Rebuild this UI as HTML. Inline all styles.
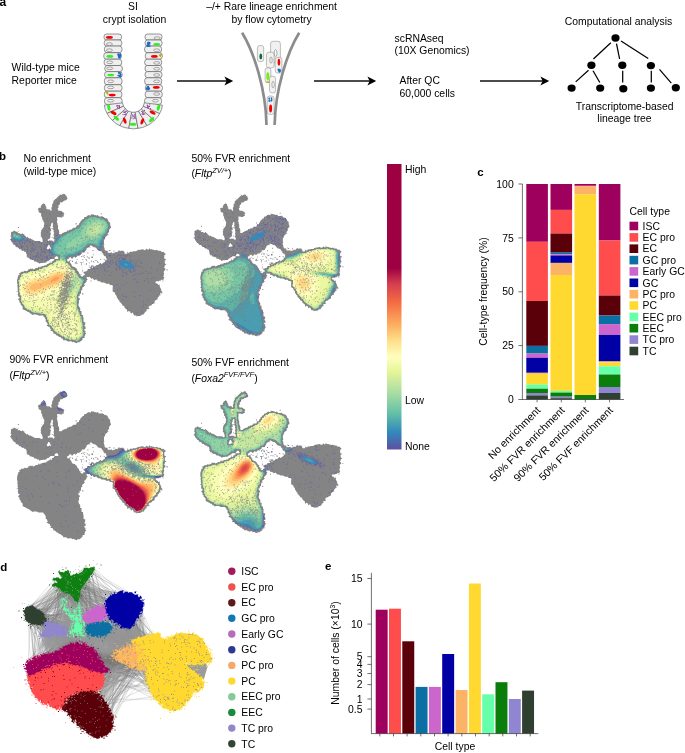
<!DOCTYPE html>
<html><head><meta charset="utf-8"><title>Figure</title>
<style>
html,body{margin:0;padding:0;background:#fff;}
svg{display:block;font-family:"Liberation Sans",sans-serif;fill:#000;}
</style></head><body>
<svg width="685" height="753" viewBox="0 0 685 753">
<rect x="0" y="0" width="685" height="753" fill="#fff"/>
<defs><path id="sil" d="M322,432h4v4h-4zM354,382h4v4h-4zM652,338h4v4h-4zM323,339l-2,0l0,8l-2,2l2,0l2,-4zM315,331l6,0l4,2l0,-2zM344,324h2v2h-2zM330,316h2v2h-2zM339,313l-2,0l0,4l-2,4l2,0l4,-4zM370,310h2v2h-2zM347,309l2,6l2,0l-2,-6zM364,306h4v4h-4zM329,307l-8,4l-4,0l-4,-2l0,2l4,2l2,10l2,0l0,-4l-2,-4l4,-4l6,-2zM356,304h4v4h-4zM282,304h4v4h-4zM371,301l0,2l8,0l2,2l0,6l-6,6l4,-4l4,-2l4,0l0,-2l-2,0l-2,-4l-4,-2l0,-2zM392,296h4v4h-4zM335,297l0,4l2,0l2,4l4,2l-4,-8zM321,297l0,2l6,0l0,-2zM303,297l-2,0l0,6l-2,4l-4,4l-2,0l0,4l12,0l0,-2l-4,0l-2,-2l2,-4l0,-4l2,-2zM358,288h6v6h-6zM318,286h4v4h-4zM339,285l0,2l4,4l0,4l4,0l4,2l0,-6l-6,2l-2,-2l0,-4zM323,281l0,2l4,2l0,6l6,2l0,-2l-4,-2l0,-2l4,-2l0,-2l-6,2l-2,-4zM365,277l0,6l2,0l0,-6zM394,274h2v2h-2zM342,272h4v4h-4zM444,264h4v4h-4zM362,262h4v4h-4zM425,261l0,2l4,4l4,-2l0,-2l-4,0zM160,174h2v2h-2zM70,172h4v4h-4zM296,158h4v4h-4zM162,148h2v2h-2zM394,118h4v4h-4zM210,58h2v2h-2zM230,42h2v2h-2zM249,41l-2,4l-4,-2l-2,4l-2,0l-2,-4l0,2l-4,4l-2,0l0,2l-4,2l0,2l-4,2l-4,6l-4,0l0,2l-4,4l-4,0l2,2l0,4l-6,12l2,4l-4,6l0,6l2,2l-2,4l-2,0l-4,-4l0,-2l-4,0l-4,2l-2,-4l-4,0l-2,-4l4,-2l-4,-4l-2,-4l0,-4l-8,-4l0,2l-4,2l-6,8l2,4l-2,2l-6,0l-4,4l0,4l2,2l0,4l-2,2l4,0l2,4l4,0l2,2l0,10l4,6l0,8l4,2l0,6l4,4l0,10l-2,2l2,4l-4,2l0,4l-4,2l0,2l-4,4l0,8l-2,2l2,10l-4,2l2,0l6,8l0,4l2,2l0,8l-2,2l-4,0l-6,-4l-18,0l-18,-10l-4,0l-4,-2l-2,-4l-6,2l-2,-4l-6,-4l0,-4l-4,0l-2,-4l-2,0l0,2l-4,2l-6,-4l-6,0l-2,-2l0,-2l4,-2l0,-2l-4,2l-6,0l-6,-4l-4,0l-2,4l-6,0l-2,4l0,10l-2,2l0,2l2,0l2,4l-2,2l0,4l-4,2l0,2l2,0l4,4l0,4l4,2l0,4l2,0l2,4l8,4l0,4l4,2l4,0l6,6l0,2l6,0l6,6l6,0l2,4l4,0l4,4l0,4l2,2l0,4l-2,4l4,2l0,4l6,0l4,4l0,2l8,0l2,2l4,0l2,2l0,4l8,0l6,4l4,0l2,4l4,0l2,-2l8,0l2,-2l4,2l4,-2l4,0l2,-4l4,-2l4,0l0,-2l8,-6l12,0l2,2l-2,4l-8,4l0,4l-2,2l-2,0l-2,-2l0,-4l-2,0l0,6l-12,6l-2,4l-8,0l-2,2l-6,0l-2,2l-4,0l-2,4l-2,0l-2,-4l-2,0l0,2l-4,4l-8,0l-2,4l-4,0l-2,2l-2,0l-2,-4l-4,2l-6,-2l0,2l-4,2l-4,-6l2,4l0,4l-2,2l-4,0l-2,2l-6,-2l-6,4l-8,0l-2,4l-4,0l-2,2l2,6l-2,2l-4,0l0,6l-2,2l0,6l-2,2l0,16l2,2l0,4l-2,4l2,2l0,14l2,4l-2,2l-4,0l0,2l4,0l2,2l0,4l-2,4l2,2l0,4l6,4l0,2l-6,6l0,2l6,4l-2,6l4,2l2,4l0,4l2,0l2,4l4,2l0,4l-2,4l2,0l2,4l4,2l4,0l2,4l4,0l4,4l4,0l4,4l0,2l4,0l6,6l4,-2l12,0l8,4l18,0l2,4l4,2l0,4l4,2l0,12l4,2l4,8l0,2l-4,2l0,2l12,6l2,6l4,2l0,2l-4,2l0,2l8,0l4,6l0,4l4,0l4,2l4,4l0,2l6,0l2,4l4,2l4,0l2,4l8,4l0,4l12,0l4,4l4,0l2,2l4,-2l6,0l4,4l6,-2l4,4l4,0l4,2l2,-4l8,0l4,-4l2,0l6,-6l0,-4l2,-2l6,0l0,-8l2,-2l0,-4l4,-4l0,-2l-4,-2l2,-6l-6,-4l2,-4l4,0l0,-8l-4,-2l0,-4l2,-2l0,-4l2,-4l-8,-4l0,-16l-2,-2l0,-8l-4,0l-2,-2l0,-14l-4,0l-2,-2l2,-6l-2,-2l0,-4l-4,-2l0,-4l-2,-2l0,-6l2,-2l0,-12l4,-2l-2,-6l-4,-2l0,-6l2,-2l4,0l-2,-6l2,-2l4,0l0,-10l2,-4l4,-2l-2,-6l4,-4l2,0l2,-4l4,0l0,-2l-2,0l-2,-4l2,-4l4,-2l2,-4l2,0l0,-6l4,-2l0,-2l-4,-2l0,-6l2,-2l4,2l6,-2l6,8l6,-2l2,4l4,2l0,2l8,-4l2,4l4,2l0,2l8,0l6,4l10,0l12,6l6,-2l6,6l6,0l6,4l-2,4l0,18l8,4l2,4l0,4l2,0l4,6l0,6l2,0l4,8l4,2l0,6l2,0l10,12l0,2l6,2l2,2l0,4l6,6l4,2l2,10l2,0l0,-2l4,-2l6,4l0,4l2,2l2,0l0,-2l4,-2l6,12l8,0l2,4l4,-2l10,0l8,-6l6,0l0,-4l4,-2l0,-4l8,-4l-2,-4l2,-4l6,2l0,-2l4,-2l0,-2l-4,-2l0,-2l4,-4l4,-2l4,0l2,-4l10,-4l0,-8l6,-6l4,0l2,-4l0,-4l6,-6l0,-2l2,-2l4,0l-2,-4l0,-4l4,-2l2,4l2,0l0,-8l-4,-2l0,-6l-6,-12l0,-8l-6,2l-4,-6l-4,0l-2,-2l0,-4l2,-2l10,0l2,-2l6,0l2,-4l4,0l2,2l0,6l2,0l0,-8l4,-8l0,-2l-4,-2l2,-4l0,-6l2,-2l-2,-4l0,-4l2,-4l4,-2l0,-6l-4,-2l0,-4l2,-2l0,-4l2,-2l4,0l0,-2l-2,0l-4,-6l0,-10l4,-2l0,-4l-4,0l-2,-2l0,-12l4,-2l2,-4l-2,0l-8,-8l-6,2l-2,-4l-4,-2l-8,0l-6,-4l-4,2l-4,0l-2,-2l-6,0l-2,-2l-8,0l-2,-4l-2,0l0,4l-2,2l-2,0l-4,-4l-2,0l-2,4l-4,0l-2,2l-2,0l-2,-4l-6,0l-2,2l-10,0l-2,2l-4,0l-4,4l-12,0l-2,2l-10,0l-2,4l-6,0l-2,-4l-2,0l2,4l-2,4l-8,0l-2,-2l0,-6l-2,0l-2,-4l-10,0l-4,2l-2,-4l-2,0l-6,8l-6,-2l-4,4l-4,0l-2,2l-4,0l-2,-4l-4,2l-10,0l-2,-2l0,-6l-8,0l-4,-6l0,-6l-2,-2l0,-4l-2,-4l4,-2l-2,-4l0,-14l4,-4l0,-4l2,-4l4,-4l2,0l2,-4l4,0l0,-2l-2,0l-2,-4l4,-4l2,0l0,-10l4,-4l0,-2l4,-2l-2,-4l0,-4l-2,-2l0,-10l-2,0l-4,-4l-2,-4l0,-4l-2,0l-2,-4l-10,-2l-2,-4l-4,0l-2,-4l-4,2l-10,0l-4,-6l-4,2l-4,0l-2,-2l-4,0l-2,-2l-6,0l-4,-2l0,4l-2,2l-4,0l-2,-2l-6,2l-6,6l-4,0l-4,2l0,4l-2,2l-4,0l0,2l-6,6l-2,0l0,4l-2,4l-4,2l0,4l-2,2l-6,0l-2,4l0,4l-2,2l-10,0l-6,6l-4,2l-6,0l-2,4l-6,-2l0,4l-2,2l-4,0l-2,2l-6,0l0,2l-2,2l-4,0l-2,4l-8,0l-2,-2l0,-4l2,-2l-2,-2l0,-6l-4,-6l0,-14l-2,-2l0,-6l-2,-2l0,-8l2,-2l-2,-10l2,-2l18,2l2,-4l4,0l2,-2l-2,-2l0,-4l4,-4l-2,0l-2,-4l-2,0l-8,-6l-10,0l-2,-2l0,-4l-2,-4l4,-2l0,-10l6,-4l0,-6l2,-2l6,0l8,-6l10,-2l0,-4l4,-2l-4,-6l0,-4l-6,-4l0,-4l-4,0zM359,329l4,-2l2,4l-4,2zM213,293l6,-6l6,0l4,8l-2,2l-12,0zM197,251l2,2l0,4l-2,2l-2,-2l0,-4zM357,245l10,6l4,0l4,2l4,4l0,2l4,2l0,2l4,2l4,0l2,2l4,0l4,8l4,2l0,2l-4,2l4,0l4,6l4,0l2,2l0,4l2,2l0,6l-4,2l-2,-4l-4,-2l0,-2l-2,4l2,0l4,4l0,4l-4,4l-2,0l-6,6l-2,0l-2,-4l-2,0l-4,4l-2,0l-2,4l-8,0l0,2l-6,4l-4,0l-2,-2l0,-4l-2,2l-4,0l-2,-2l0,6l-4,2l-2,-2l0,-6l-2,0l2,4l-2,6l4,0l2,4l-2,2l-10,0l0,4l-4,4l-4,0l-2,2l-6,0l0,6l4,2l2,4l-2,2l-4,0l-2,4l-4,2l-6,-4l0,-2l2,-2l4,0l0,-2l-6,2l-6,-6l0,-6l-2,0l-4,-4l-2,-4l0,-4l-4,0l-4,-6l-4,0l-8,-4l0,-6l-2,0l-2,-2l0,-4l-4,-2l0,-4l4,-4l2,0l0,-2l-6,2l-4,4l-4,0l-2,-2l0,-6l2,-2l4,0l0,-2l4,-4l4,0l4,4l0,2l2,0l0,-2l4,-2l2,-4l4,0l2,4l2,0l0,-2l4,-2l2,-4l4,0l4,2l0,-4l2,-2l4,0l0,-2l4,-2l-2,-2l2,-4l4,2l4,-2l4,0l0,-4l4,-4l2,-4l0,-4l8,-4l4,0l4,2l0,-2l-2,0l-2,-4l2,-2zM189,243l4,0l4,8l-6,8l-6,0l-2,-4zM187,221l4,-2l2,2l0,4l-4,2l-2,-2zM201,179l6,2l4,6l-2,4l2,2l0,8l-2,2l2,4l0,6l-4,2l-4,-6l0,6l4,0l6,6l0,6l-2,2l-4,0l-2,-4l-10,0l-2,-2l0,-4l4,-6l0,-10l2,-2l0,-6l4,-2l-4,2l-4,-2l0,-2l4,-2l2,-4l-2,-2zM203,155l4,2l0,12l-2,2l4,4l-2,4l-4,-2l-4,2l-2,-2l0,-8l4,-4l2,0l-4,-2z"/><clipPath id="silc"><use href="#sil"/></clipPath><filter id="bl" x="-5%" y="-5%" width="110%" height="110%"><feGaussianBlur stdDeviation="1.2"/></filter></defs>
<g transform="translate(0,183.0) scale(0.25549)">
<use href="#sil" fill="#848484"/>
<g clip-path="url(#silc)"><g filter="url(#bl)">
<path d="M463,309l2,8l10,10l18,8l18,2l6,-2l6,-8l-2,-6l-10,-10l-18,-8l-18,-2l-6,2zM49,201l4,14l-2,4l6,4l12,4l18,0l8,-6l-2,-4l-6,-4l2,-6l-12,0l-6,-4l-6,2l-4,-4l2,-4l-4,2l-6,-2zM375,133l-16,0l-2,2l-6,-2l-4,6l-4,2l-4,-2l-2,4l-2,-2l0,4l-4,2l0,4l-2,2l-2,-2l-6,4l2,4l-4,2l-2,6l-2,-2l2,4l-4,4l-6,-2l2,4l-2,2l-2,-2l-2,6l-6,0l-2,2l-2,-2l-2,4l-6,2l-2,4l-6,-2l-2,6l-2,-2l-8,6l-2,-2l-4,4l-2,-2l-2,6l-4,-2l-8,6l-2,-2l-4,2l-4,-2l-6,4l-6,10l0,10l-4,6l-2,-2l-6,0l-6,8l4,2l-2,2l2,4l-2,2l0,10l-6,4l0,4l4,8l8,4l2,-4l2,2l2,-2l4,2l2,-2l2,2l6,0l2,-2l4,8l-2,4l0,12l-2,2l-2,-2l-6,0l-2,2l-4,-2l2,4l-4,4l-2,-2l-6,6l2,2l-2,2l-14,2l-12,10l-4,-2l-4,4l-2,-2l-8,2l2,4l-2,2l-10,-2l-2,4l-8,0l-6,6l-2,-2l-6,2l-2,-2l-6,2l-4,-2l-2,4l-4,0l-6,4l-2,-2l-8,4l-6,-2l-4,6l-4,-2l2,2l-2,2l2,4l-8,6l2,4l-4,2l-2,6l4,12l-2,2l2,2l-2,6l2,2l0,22l2,2l-2,6l2,-2l2,4l4,2l-2,2l2,6l-2,2l2,4l-2,6l2,4l4,2l-2,4l8,6l2,4l-2,4l8,6l2,-2l2,6l4,-2l4,6l6,-2l2,2l-2,2l4,4l6,0l2,4l8,0l2,-2l4,2l2,-2l2,4l2,-2l4,4l4,-2l4,2l2,-2l10,2l4,4l0,6l6,4l-2,4l2,2l-2,2l2,0l2,6l4,2l-2,2l4,12l2,-2l6,6l0,4l6,2l-2,6l6,-2l2,2l-2,4l4,6l8,2l2,6l6,-2l2,6l2,-2l2,4l4,0l2,4l4,2l4,-2l2,2l-2,4l2,2l8,-2l6,6l8,0l2,-2l2,2l2,-2l6,4l4,-2l6,4l6,0l6,-4l-2,-2l4,-4l4,0l-2,-2l4,-4l6,0l-2,-10l2,-2l2,2l0,-6l-6,-6l2,-2l-2,-2l2,-2l-2,-6l4,-2l-2,-4l2,-2l-2,-4l2,-4l-6,-4l2,-2l-2,-4l2,-6l-4,-8l2,-4l-6,0l-2,-2l2,-2l-2,-2l2,-2l-2,-8l-6,-2l2,-2l-2,-2l2,-2l-2,-4l2,-2l-6,-2l2,-2l-4,-12l2,-2l-2,-4l2,-2l-2,-2l4,-4l-2,-2l2,-4l-4,-4l2,-4l-2,-2l2,-2l0,-10l4,-2l-2,-2l4,-6l4,2l0,-10l2,-2l-2,-4l4,-6l-2,-2l2,-2l6,0l-2,-4l4,-4l0,-4l6,-4l2,-10l-2,-2l-2,2l-2,-2l-10,2l-8,-4l2,-6l-6,-4l-2,-8l-2,2l-2,-2l0,-6l-2,2l-2,-2l0,-6l-2,2l-4,-8l-4,2l-2,-4l-4,0l-4,-4l2,-4l-10,-8l0,-4l-6,2l-4,-4l2,-2l-2,-2l2,-2l-2,-10l6,-6l2,2l0,-2l8,-6l6,0l2,2l2,-2l14,0l4,-6l4,2l6,-6l2,2l2,-4l-2,-4l2,-2l12,0l6,-8l0,-6l10,-8l4,2l0,-6l2,-2l2,2l4,-2l2,2l2,-2l2,2l6,0l4,4l2,-2l6,2l8,6l0,4l4,-2l4,8l-2,-2l4,-2l0,-18l6,-12l-2,-2l2,-10l2,-2l2,2l2,-8l6,-4l2,-4l0,-6l6,-4l-2,-4l2,-4l-2,-2l4,-2l0,-6l2,-2l-2,-2l2,-4l-2,2l-6,-6l2,-2l-4,-4l2,-2l-2,2l-4,-2l2,-4l-12,-2l-2,-4l-2,2l-10,-4l-4,2zM267,611l2,-2l2,2l-2,2zM315,601l2,-2l2,2l-2,2zM319,551l2,-2l2,2l-2,2zM155,511l2,-2l2,2l-2,2zM121,501l2,-2l2,2l-2,2zM95,485l2,-2l2,2l-2,2zM73,387l2,-2l2,2l-2,2zM323,385l2,-2l2,2l-2,2zM143,343l2,-2l2,2l-2,2zM285,337l2,-2l2,2l-2,2zM199,321l2,-2l2,2l-2,2zM213,311l2,-2l2,2l-2,2zM255,291l2,-2l2,2l-2,2zM303,275l2,-2l2,2l-2,2zM367,241l2,-2l2,2l-2,2zM403,207l2,-2l2,2l-2,2zM247,207l2,-2l2,2l-2,2zM405,203l2,-2l2,2l-2,2zM261,199l2,-2l2,2l-2,2zM413,189l2,-2l2,2l-2,2zM323,155l2,-2l2,2l-2,2zM405,145l2,-2l2,2l-2,2z" fill="#3389BC"/>
<path d="M485,315l2,6l4,2l10,0l-2,-6l-4,-2zM49,201l2,12l8,6l14,2l2,2l12,-4l-2,-12l-8,0l-6,-4l-6,2l-4,-4l2,-4l-4,2l-6,-2zM375,133l-16,0l-2,2l-6,-2l-4,6l-4,2l-4,-2l-2,4l-2,-2l0,4l-4,2l0,4l-2,2l-2,-2l-6,4l2,4l-4,2l-2,6l-2,-2l2,4l-4,4l-6,-2l2,4l-2,2l-2,-2l-2,6l-6,0l-2,2l-2,-2l-2,4l-6,2l-2,4l-6,-2l-2,6l-2,-2l-8,6l-2,-2l-4,4l-2,-2l-2,6l-4,-2l-8,6l-2,-2l-4,2l-2,-2l-12,16l-4,12l-2,2l-2,-2l-6,6l-6,26l2,6l10,8l2,-2l4,2l2,-2l2,2l6,0l2,-2l2,2l2,8l-2,2l0,12l-2,2l-2,-2l-6,0l-2,2l-4,-2l2,4l-4,4l-2,-2l-6,6l2,2l-2,2l-14,2l-12,10l-4,-2l-4,4l-2,-2l-8,2l2,4l-2,2l-10,-2l-2,4l-8,0l-6,6l-2,-2l-6,2l-2,-2l-6,2l-4,-2l-2,4l-4,0l-6,4l-2,-2l-8,4l-6,-2l-4,6l-4,-2l2,2l-2,2l2,4l-8,6l2,4l-4,2l-2,6l4,12l-2,2l2,2l-2,6l2,2l0,22l2,2l-2,6l2,-2l2,4l4,2l-2,2l2,6l-2,2l2,4l-2,6l2,4l4,2l-2,4l8,6l2,4l-2,4l8,6l2,-2l2,6l4,-2l4,6l6,-2l2,2l-2,2l4,4l6,0l2,4l8,0l2,-2l4,2l2,-2l2,4l2,-2l4,4l4,-2l4,2l2,-2l10,2l4,4l0,6l6,4l-2,4l2,2l-2,2l2,0l2,6l4,2l-2,2l4,12l2,-2l6,6l0,4l6,2l-2,6l6,-2l2,2l-2,4l4,6l8,2l2,6l6,-2l2,6l2,-2l2,4l4,0l2,4l4,2l4,-2l2,2l-2,4l2,2l8,-2l6,6l8,0l2,-2l2,2l2,-2l6,4l4,-2l6,4l6,0l6,-4l-2,-2l4,-4l4,0l-2,-2l4,-4l6,0l-2,-10l2,-2l2,2l0,-6l-6,-6l2,-2l-2,-2l2,-2l-2,-6l4,-2l-2,-4l2,-2l-2,-4l2,-4l-6,-4l2,-2l-2,-4l2,-6l-4,-8l2,-4l-6,0l-2,-2l2,-2l-2,-2l2,-2l-2,-8l-6,-2l2,-2l-2,-2l2,-2l-2,-4l2,-2l-6,-2l2,-2l-4,-12l2,-2l-2,-4l2,-2l-2,-2l4,-4l-2,-2l2,-4l-4,-4l2,-4l-2,-2l2,-2l0,-10l4,-2l-2,-2l4,-6l4,2l0,-10l2,-2l-2,-4l4,-6l-2,-2l2,-2l6,0l-2,-4l4,-4l0,-4l6,-4l2,-4l-6,-8l-10,2l-8,-4l2,-6l-6,-4l-2,-8l-2,2l-2,-2l0,-6l-2,2l-2,-2l0,-6l-2,2l-4,-8l-4,2l-2,-4l-4,0l-4,-4l2,-4l-10,-8l0,-4l-6,2l-4,-4l2,-2l-2,-2l2,-2l-2,-10l6,-6l2,2l0,-2l8,-6l14,0l12,-4l8,-6l6,0l2,-2l-2,-4l2,-2l12,0l6,-8l0,-6l10,-8l4,2l0,-6l2,-2l2,2l4,-2l2,2l2,-2l2,2l6,0l4,4l2,-2l6,2l8,6l0,4l4,-2l2,2l2,-18l8,-16l0,-6l2,-2l2,2l2,-8l6,-4l2,-4l0,-6l6,-4l-2,-4l2,-4l-2,-2l4,-2l0,-6l2,-2l-2,-2l2,-4l-2,2l-6,-6l2,-2l-4,-4l2,-2l-2,2l-4,-2l2,-4l-12,-2l-2,-4l-2,2l-10,-4l-4,2zM267,611l2,-2l2,2l-2,2zM315,601l2,-2l2,2l-2,2zM319,551l2,-2l2,2l-2,2zM155,511l2,-2l2,2l-2,2zM121,501l2,-2l2,2l-2,2zM95,485l2,-2l2,2l-2,2zM73,387l2,-2l2,2l-2,2zM323,385l2,-2l2,2l-2,2zM143,343l2,-2l2,2l-2,2zM285,337l2,-2l2,2l-2,2zM199,321l2,-2l2,2l-2,2zM213,311l2,-2l2,2l-2,2zM255,291l2,-2l2,2l-2,2zM367,241l2,-2l2,2l-2,2zM403,207l2,-2l2,2l-2,2zM247,207l2,-2l2,2l-2,2zM405,203l2,-2l2,2l-2,2zM261,199l2,-2l2,2l-2,2zM413,189l2,-2l2,2l-2,2zM323,155l2,-2l2,2l-2,2zM405,145l2,-2l2,2l-2,2z" fill="#479FB3"/>
<path d="M49,201l2,8l8,6l18,2l4,-4l-2,-6l-8,-4l-6,2l-4,-4l2,-4l-4,2l-6,-2zM375,133l-16,0l-2,2l-6,-2l-4,6l-4,2l-4,-2l-2,4l-2,-2l0,4l-4,2l0,4l-2,2l-2,-2l-6,4l2,4l-4,2l-2,6l-2,-2l2,4l-4,4l-6,-2l2,4l-2,2l-2,-2l-2,6l-6,0l-2,2l-2,-2l-2,4l-6,2l-2,4l-6,-2l-2,6l-2,-2l-8,6l-2,-2l-4,4l-2,-2l-2,6l-4,-2l-8,6l-2,-2l-6,6l-12,20l-10,10l-4,10l0,18l12,10l2,-2l2,2l6,0l2,-2l2,2l2,8l-2,2l0,12l-2,2l-2,-2l-6,0l-2,2l-4,-2l2,4l-4,4l-2,-2l-6,6l2,2l-2,2l-14,2l-12,10l-4,-2l-4,4l-2,-2l-8,2l2,4l-2,2l-10,-2l-2,4l-8,0l-6,6l-2,-2l-6,2l-2,-2l-6,2l-4,-2l-2,4l-4,0l-6,4l-2,-2l-8,4l-6,-2l-4,6l-4,-2l2,2l-2,2l2,4l-8,6l2,4l-4,2l-2,6l4,12l-2,2l2,2l-2,6l2,2l0,22l2,2l-2,6l2,-2l2,4l4,2l-2,2l2,6l-2,2l2,4l-2,6l2,4l4,2l-2,4l8,6l2,4l-2,4l8,6l2,-2l2,6l4,-2l4,6l6,-2l2,2l-2,2l4,4l6,0l2,4l8,0l2,-2l4,2l2,-2l2,4l2,-2l4,4l4,-2l4,2l2,-2l10,2l4,4l0,6l6,4l-2,4l2,2l-2,2l2,0l2,6l4,2l-2,2l4,12l2,-2l6,6l0,4l6,2l-2,6l6,-2l2,2l-2,4l4,6l8,2l2,6l6,-2l2,6l2,-2l2,4l4,0l2,4l4,2l4,-2l2,2l-2,4l2,2l8,-2l6,6l8,0l2,-2l2,2l2,-2l6,4l4,-2l6,4l6,0l6,-4l-2,-2l4,-4l4,0l-2,-2l4,-4l6,0l-2,-10l2,-2l2,2l0,-6l-6,-6l2,-2l-2,-2l2,-2l-2,-6l4,-2l-2,-4l2,-2l-2,-4l2,-4l-6,-4l2,-2l-2,-4l2,-6l-4,-8l2,-4l-6,0l-2,-2l2,-2l-2,-2l2,-2l-2,-8l-6,-2l2,-2l-2,-2l2,-2l-2,-4l2,-2l-6,-2l2,-2l-4,-12l2,-2l-2,-4l2,-2l-2,-2l4,-4l-2,-2l2,-4l-4,-4l2,-4l-2,-2l2,-2l0,-10l4,-2l-2,-2l4,-6l4,2l0,-10l2,-2l-2,-4l4,-6l-2,-2l2,-2l6,0l-2,-4l10,-14l-6,-10l-2,2l-2,-2l-2,2l-8,-2l-2,-2l2,-6l-6,-4l-2,-8l-2,2l-2,-2l0,-6l-2,2l-2,-2l0,-6l-2,2l-4,-8l-4,2l-2,-4l-4,0l-4,-4l2,-4l-10,-8l0,-4l-6,2l-4,-4l2,-2l-2,-2l2,-2l-2,-14l2,-4l6,-4l28,-6l18,-8l4,-4l8,-2l10,-12l14,-10l2,-4l2,2l4,-2l2,2l2,-2l2,2l6,0l4,4l2,-2l12,6l4,-2l4,-16l12,-22l4,-2l-2,-2l8,-6l6,-10l0,-6l2,-2l-2,-2l4,-2l0,-6l2,-2l-2,-2l2,-4l-2,2l-6,-6l2,-2l-4,-4l2,-2l-2,2l-4,-2l2,-4l-12,-2l-2,-4l-2,2l-10,-4l-4,2zM267,611l2,-2l2,2l-2,2zM315,601l2,-2l2,2l-2,2zM319,551l2,-2l2,2l-2,2zM155,511l2,-2l2,2l-2,2zM121,501l2,-2l2,2l-2,2zM95,485l2,-2l2,2l-2,2zM73,387l2,-2l2,2l-2,2zM323,385l2,-2l2,2l-2,2zM143,343l2,-2l2,2l-2,2zM285,337l2,-2l2,2l-2,2zM199,321l2,-2l2,2l-2,2zM213,311l2,-2l2,2l-2,2zM367,241l2,-2l2,2l-2,2zM247,207l2,-2l2,2l-2,2zM261,199l2,-2l2,2l-2,2zM413,189l2,-2l2,2l-2,2zM323,155l2,-2l2,2l-2,2zM405,145l2,-2l2,2l-2,2z" fill="#5CB6AA"/>
<path d="M53,201l0,4l4,4l8,4l6,0l2,-2l0,-4l-4,-4l-4,2l-6,-6zM399,139l-2,2l-10,-4l-4,2l-6,-4l-24,0l-10,6l-8,2l0,2l-4,2l0,4l-2,2l-2,-2l-4,4l0,4l-4,2l0,4l-2,2l-2,-2l2,4l-4,4l-4,-2l0,4l-2,2l-2,-2l-2,6l-6,0l-6,6l-16,8l-4,0l-20,12l-10,10l-14,22l-12,12l0,6l-2,2l2,8l6,4l8,10l4,-2l2,2l2,8l-2,2l0,12l-2,2l-2,-2l-6,0l-2,2l-4,-2l2,4l-4,4l-2,-2l-6,6l2,2l-2,2l-14,2l-12,10l-4,-2l-4,4l-2,-2l-8,2l2,4l-2,2l-10,-2l-2,4l-8,0l-6,6l-2,-2l-6,2l-2,-2l-6,2l-4,-2l-2,4l-4,0l-6,4l-2,-2l-8,4l-6,-2l-4,6l-4,-2l2,2l-2,2l2,4l-8,6l2,4l-4,2l-2,6l4,12l-2,2l2,2l-2,6l2,2l0,22l2,2l-2,6l2,-2l2,4l4,2l-2,2l2,6l-2,2l2,4l-2,6l2,4l4,2l-2,4l8,6l2,4l-2,4l8,6l2,-2l2,6l4,-2l4,6l6,-2l2,2l-2,2l4,4l6,0l2,4l8,0l2,-2l4,2l2,-2l2,4l2,-2l4,4l4,-2l4,2l2,-2l10,2l4,4l0,6l6,4l-2,4l2,2l-2,2l2,0l2,6l4,2l-2,2l4,12l2,-2l6,6l0,4l6,2l-2,6l6,-2l2,2l-2,4l4,6l8,2l2,6l6,-2l2,6l2,-2l2,4l4,0l2,4l4,2l4,-2l2,2l-2,4l2,2l8,-2l6,6l8,0l2,-2l2,2l2,-2l6,4l4,-2l6,4l6,0l6,-4l-2,-2l4,-4l4,0l-2,-2l4,-4l6,0l-2,-10l2,-2l2,2l0,-6l-6,-6l2,-2l-2,-2l2,-2l-2,-6l4,-2l-2,-4l2,-2l-2,-4l2,-4l-6,-4l2,-2l-2,-4l2,-6l-4,-8l2,-4l-6,0l-2,-2l2,-2l-2,-2l2,-2l-2,-8l-6,-2l2,-2l-2,-2l2,-2l-2,-4l2,-2l-6,-2l2,-2l-4,-12l2,-2l-2,-4l2,-2l-2,-2l4,-4l-2,-2l2,-4l-4,-4l2,-4l-2,-2l2,-2l0,-10l4,-2l-2,-2l4,-6l4,2l0,-10l2,-2l-2,-4l4,-6l-2,-2l2,-2l6,0l-2,-4l8,-12l-2,-6l-6,-6l-4,2l-8,-4l2,-6l-6,-4l-2,-8l-2,2l-2,-2l0,-6l-2,2l-2,-2l0,-6l-2,2l-4,-8l-4,2l-2,-4l-4,0l-4,-4l2,-4l-10,-8l0,-4l-6,2l-4,-4l2,-2l-2,-2l2,-2l0,-6l-6,-4l-4,-8l4,-6l8,-4l24,-4l36,-16l24,-22l16,-2l10,4l12,0l8,-16l20,-24l12,-22l0,-14l-4,-4l2,-2l-6,-4l-6,-8l-6,0zM267,611l2,-2l2,2l-2,2zM315,601l2,-2l2,2l-2,2zM319,551l2,-2l2,2l-2,2zM155,511l2,-2l2,2l-2,2zM121,501l2,-2l2,2l-2,2zM95,485l2,-2l2,2l-2,2zM73,387l2,-2l2,2l-2,2zM323,385l2,-2l2,2l-2,2zM143,343l2,-2l2,2l-2,2zM285,337l2,-2l2,2l-2,2zM199,321l2,-2l2,2l-2,2zM213,311l2,-2l2,2l-2,2zM323,155l2,-2l2,2l-2,2zM405,145l2,-2l2,2l-2,2z" fill="#74C7A5"/>
<path d="M83,357l2,2l-2,2l2,4l-8,6l2,4l-4,2l-2,6l4,12l-2,2l2,2l-2,6l2,2l0,22l2,2l-2,6l2,-2l2,4l4,2l-2,2l2,6l-2,2l2,4l-2,6l2,4l4,2l-2,4l8,6l2,4l-2,4l8,6l2,-2l2,6l4,-2l4,6l6,-2l2,2l-2,2l4,4l6,0l2,4l8,0l2,-2l4,2l2,-2l2,4l2,-2l4,4l4,-2l4,2l2,-2l10,2l4,4l0,6l6,4l-2,4l2,2l-2,2l2,0l2,6l4,2l-2,2l4,12l2,-2l6,6l0,4l6,2l-2,6l6,-2l2,2l-2,4l4,6l8,2l2,6l6,-2l2,6l2,-2l2,4l4,0l2,4l4,2l4,-2l2,2l-2,4l2,2l8,-2l6,6l8,0l2,-2l2,2l2,-2l6,4l4,-2l6,4l6,0l6,-4l-2,-2l4,-4l4,0l-2,-2l4,-4l4,0l2,-6l-2,-4l2,-2l2,2l0,-6l-6,-6l2,-2l-2,-2l2,-2l-2,-6l4,-2l-2,-4l2,-2l-2,-4l2,-4l-6,-4l2,-2l-2,-4l2,-6l-4,-8l2,-4l-6,0l-2,-2l2,-2l-2,-2l2,-2l-2,-8l-6,-2l2,-2l-2,-2l2,-2l-2,-4l2,-2l-6,-2l2,-2l-4,-12l2,-2l-2,-4l2,-2l-2,-2l2,-2l0,-10l-2,-2l2,-4l-2,-2l2,-2l0,-10l4,-2l-2,-2l4,-6l2,2l2,-4l0,-6l2,-2l-2,-4l4,-6l-2,-2l2,-2l6,0l-2,-4l4,-4l0,-12l-4,-6l-12,-4l2,-6l-6,-4l-2,-8l-2,2l-2,-2l0,-6l-2,2l-2,-2l0,-6l-2,2l-4,-8l-4,2l-2,-4l-4,0l-4,-4l2,-4l-10,-8l0,-4l-6,2l-4,-4l2,-2l-2,-2l2,-2l-2,-4l-12,-8l-8,0l0,10l-2,2l-2,-2l-6,0l-2,2l-4,-2l2,4l-4,4l-2,-2l-6,6l2,2l-2,2l-14,2l-12,10l-4,-2l-4,4l-2,-2l-8,2l2,4l-2,2l-10,-2l-2,4l-8,0l-6,6l-2,-2l-6,2l-2,-2l-6,2l-4,-2l-2,4l-4,0l-6,4l-4,-2l-6,4l-6,-2l-4,6zM267,611l2,-2l2,2l-2,2zM315,601l2,-2l2,2l-2,2zM319,551l2,-2l2,2l-2,2zM155,511l2,-2l2,2l-2,2zM121,501l2,-2l2,2l-2,2zM95,485l2,-2l2,2l-2,2zM73,387l2,-2l2,2l-2,2zM143,343l2,-2l2,2l-2,2zM285,337l2,-2l2,2l-2,2zM199,321l2,-2l2,2l-2,2zM213,311l2,-2l2,2l-2,2zM415,159l-6,-8l-10,-6l-6,0l-2,-2l-24,0l-22,10l-18,18l-14,32l-12,10l-10,4l-22,14l-6,6l-4,8l0,6l6,4l20,0l24,-10l28,-18l16,-2l2,-2l12,0l20,-10l22,-24l8,-20z" fill="#8FD2A4"/>
<path d="M83,357l2,2l-2,2l2,4l-8,6l2,4l-4,2l-2,6l4,12l-2,2l2,2l-2,6l2,2l0,22l2,2l-2,6l2,-2l2,4l4,2l-2,2l2,6l-2,2l2,4l-2,6l2,4l4,2l-2,4l8,6l2,4l-2,4l8,6l2,-2l2,6l4,-2l4,6l6,-2l2,2l-2,2l4,4l20,2l2,2l2,-2l16,6l2,-2l10,2l4,4l0,6l6,4l-2,4l2,2l-2,2l2,0l2,6l4,2l-2,2l4,12l2,-2l6,6l0,4l6,2l-2,6l6,-2l2,2l-2,4l4,6l8,2l2,6l6,-2l2,6l2,-2l2,4l4,0l2,4l4,2l4,-2l2,2l-2,4l4,2l6,-2l6,6l8,0l2,-2l2,2l2,-2l6,4l4,-2l2,2l10,0l4,-2l14,-16l2,-14l-4,-4l2,-2l-2,-2l2,-2l-2,-6l4,-2l-2,-4l0,-10l-4,-4l2,-2l-2,-4l2,-2l-2,-2l0,-8l-2,-6l-6,-2l2,-2l-2,-2l2,-4l-2,-6l-6,-2l2,-2l-2,-2l2,-4l-2,-4l-4,-2l2,-2l-4,-12l2,-2l-2,-2l0,-16l2,-2l-2,-2l2,-4l-2,-2l2,-2l0,-10l4,-2l-2,-2l12,-26l-2,-2l4,-2l4,-6l0,-12l-8,-10l-6,-2l2,-2l-12,-16l0,-6l-2,2l-2,-2l0,-6l-2,2l-4,-8l-4,2l-2,-4l-4,0l-4,-4l2,-4l-10,-8l0,-4l-6,2l-4,-4l2,-6l-16,-8l-6,0l0,6l-2,2l-2,-2l-6,0l-2,2l-4,-2l2,4l-4,4l-2,-2l-6,6l2,2l-2,2l-14,2l-12,10l-4,-2l-4,4l-2,-2l-8,2l2,4l-2,2l-10,-2l-2,4l-8,0l-6,6l-2,-2l-6,2l-2,-2l-6,2l-4,-2l-2,4l-4,0l-6,4l-4,-2l-6,4l-6,-2l-4,6zM267,611l2,-2l2,2l-2,2zM315,601l2,-2l2,2l-2,2zM319,551l2,-2l2,2l-2,2zM121,501l2,-2l2,2l-2,2zM95,485l2,-2l2,2l-2,2zM73,387l2,-2l2,2l-2,2zM143,343l2,-2l2,2l-2,2zM285,337l2,-2l2,2l-2,2zM199,321l2,-2l2,2l-2,2zM213,311l2,-2l2,2l-2,2zM399,157l-12,-4l-18,2l-16,8l-14,16l-2,6l0,16l2,4l6,4l26,0l14,-6l16,-14l6,-12l0,-10z" fill="#ABDDA4"/>
<path d="M83,357l2,2l-2,2l2,4l-8,6l2,4l-4,2l-2,6l4,12l-2,2l2,2l-2,6l2,2l0,22l2,2l-2,6l2,-2l2,4l4,2l-2,2l2,6l-2,2l2,4l-2,6l2,4l4,2l-2,4l8,6l2,4l-2,4l8,6l2,-2l2,6l4,-2l4,6l6,-2l2,2l-2,2l2,-2l2,4l32,4l8,4l12,2l4,4l0,6l6,4l-2,4l2,2l-2,2l2,0l2,6l4,2l-2,2l4,12l2,-2l6,6l0,4l6,2l-2,6l2,-2l6,2l-2,4l4,6l8,2l2,6l6,-2l2,6l2,-2l2,4l4,0l2,4l4,2l4,-2l4,6l6,0l14,6l6,-2l6,4l4,-2l2,2l16,-6l6,-6l-2,-2l4,-2l4,-8l0,-10l-2,-2l2,-2l-2,-2l2,-2l-2,-2l2,-6l-2,-2l0,-10l-2,-2l2,-2l-2,-2l-4,-24l-4,-2l2,-2l-4,-12l-4,-2l2,-2l-6,-12l0,-6l-4,-10l0,-20l2,-2l0,-10l2,-2l2,-14l4,-12l10,-18l2,-10l-8,-10l-8,0l-6,24l-10,16l-10,8l-8,-6l2,-14l8,-16l20,-22l-4,-18l-6,-10l-4,-2l2,-2l-4,2l-2,-4l-4,0l-4,-4l2,-4l-10,-8l0,-4l-6,2l-4,-4l2,-2l-14,-8l-8,0l-2,4l-2,-2l-6,0l-2,2l-2,-2l-2,2l2,2l-4,4l-2,-2l-6,6l2,2l-2,2l-14,2l-12,10l-4,-2l-4,4l-2,-2l-8,2l2,4l-2,2l-10,-2l-2,4l-8,0l-6,6l-2,-2l-6,2l-2,-2l-6,2l-4,-2l-2,4l-4,0l-6,4l-4,-2l-6,4l-6,-2l-4,6zM95,485l2,-2l2,2l-2,2zM73,387l2,-2l2,2l-2,2zM143,343l2,-2l2,2l-2,2zM199,321l2,-2l2,2l-2,2zM213,311l2,-2l2,2l-2,2zM391,169l-8,-4l-16,2l-12,10l-4,10l2,6l6,4l20,-2l6,-4l8,-10z" fill="#C3E79F"/>
<path d="M83,357l2,2l-2,2l2,4l-8,6l2,4l-4,2l0,8l2,2l-2,2l2,6l-2,2l2,2l-2,6l2,2l0,22l2,2l-2,6l2,-2l2,4l4,2l-2,2l2,6l-2,2l2,4l-2,6l2,4l4,2l-2,2l4,6l4,2l2,6l6,6l14,8l20,6l22,2l18,8l10,14l-2,4l4,6l0,4l4,2l-2,2l4,10l8,6l0,4l6,2l-2,2l8,4l-2,4l6,6l6,2l2,4l4,2l2,-2l6,8l42,14l20,0l8,-4l10,-14l2,-20l-2,-2l0,-18l-2,-2l0,-10l-2,-2l-2,-14l-18,-46l0,-32l2,-2l4,-28l6,-14l6,-8l0,-6l-2,-2l-2,2l-4,14l-10,16l-20,20l-6,2l-8,-6l0,-18l4,-12l28,-44l0,-10l-6,-12l-14,-10l2,-4l-14,-12l-2,2l-14,-10l-22,0l-6,6l-2,-2l-6,6l2,2l-2,2l-14,2l-12,10l-4,-2l-4,4l-2,-2l-8,2l2,4l-2,2l-10,-2l-2,4l-8,0l-6,6l-2,-2l-6,2l-2,-2l-6,2l-4,-2l-2,4l-4,0l-6,4l-4,-2l-6,4l-6,-2l-4,6zM143,343l2,-2l2,2l-2,2zM199,321l2,-2l2,2l-2,2zM213,311l2,-2l2,2l-2,2z" fill="#DAF09A"/>
<path d="M89,357l-10,14l-2,28l-2,2l2,2l-2,2l2,2l0,22l2,2l-2,4l8,6l-2,2l2,6l-2,4l10,20l14,14l16,8l14,4l12,0l2,2l16,2l10,6l8,10l8,24l12,22l2,0l16,18l12,8l20,10l20,6l10,0l2,2l16,-2l6,-4l8,-14l0,-26l-2,-2l0,-12l-2,-2l-2,-16l-12,-28l-8,-26l0,-12l-2,-2l2,-2l0,-18l-2,-2l-4,2l-10,10l-8,4l-10,0l-6,-8l0,-22l2,-2l0,-6l12,-24l24,-38l-2,-12l-6,-10l-4,-2l-10,-12l-12,-8l-4,0l-6,-4l-22,0l-14,6l2,2l-2,2l-8,0l-12,6l-2,4l-10,2l-12,8l-10,0l-10,6l-2,-2l-4,4l-6,-2l-2,2l-6,0l-18,6l-8,0zM199,321l2,-2l2,2l-2,2z" fill="#EBF7A0"/>
<path d="M93,361l-8,8l-4,12l0,8l-2,2l0,12l-2,2l2,28l2,6l4,2l-2,4l10,18l10,10l14,8l14,4l32,2l14,6l10,10l6,10l6,28l8,18l20,22l12,8l30,12l10,0l2,2l20,-2l10,-14l-2,-36l-8,-28l-14,-26l-2,-8l-8,-6l-16,8l-18,2l-10,-4l-8,-8l-6,-12l0,-8l4,-12l22,-34l12,-14l26,-42l0,-14l-6,-10l-14,-12l-8,-4l-14,-4l-10,0l-24,8l-40,20l-6,0l-8,4l-24,4z" fill="#F5FBAF"/>
<path d="M275,341l-8,-8l-8,-4l-24,0l-28,8l-34,16l-34,6l-2,2l-8,0l-34,14l-8,8l-6,18l0,26l4,12l8,10l10,4l30,0l36,-10l72,-36l26,-28l10,-20l0,-14z" fill="#FFFFBF"/>
<path d="M271,351l-2,-4l-10,-8l-20,-2l-2,2l-18,2l-48,22l-34,6l-20,6l-16,8l-12,12l-4,10l0,18l6,12l6,4l14,4l22,0l2,-2l8,0l20,-6l32,-16l18,-6l24,-12l14,-10l14,-18l6,-14z" fill="#FFF3AA"/>
<path d="M263,355l-4,-6l-8,-4l-24,0l-18,6l-40,20l-36,6l-12,4l-22,14l-6,10l-2,12l8,12l16,6l22,0l2,-2l8,0l12,-4l28,-14l34,-12l24,-14l14,-16l4,-10z" fill="#FEE695"/>
<path d="M255,359l-2,-4l-6,-4l-22,0l-12,4l-42,22l-42,8l-16,8l-8,8l-4,8l2,10l12,8l8,0l2,2l8,0l2,-2l8,0l14,-4l28,-14l32,-10l20,-10l14,-14l4,-8z" fill="#FED480"/>
<path d="M245,363l-10,-6l-16,2l-6,4l-4,0l-34,22l-14,4l-22,2l-14,6l-8,8l0,8l8,6l16,0l22,-8l12,-8l40,-10l22,-12l8,-12z" fill="#FDBA6C"/>
<path d="M231,369l-2,-2l-14,2l-4,2l-10,12l2,2l16,-2l12,-10z" fill="#FB9E5A"/>
</g>
<path d="M201,497h.1M230,525h.1M256,420h.1M230,544h.1M321,369h.1M240,433h.1M78,372h.1M198,408h.1M265,383h.1M258,387h.1M170,414h.1M250,435h.1M272,406h.1M140,434h.1M238,408h.1M260,304h.1M181,361h.1M256,372h.1M280,264h.1M277,425h.1M278,225h.1M277,388h.1M214,421h.1M250,399h.1M391,204h.1M357,184h.1M207,437h.1M317,533h.1M259,270h.1M275,369h.1M238,516h.1M231,446h.1M297,501h.1M252,441h.1M221,537h.1M254,517h.1M228,238h.1M362,224h.1M202,545h.1M227,237h.1M277,569h.1M240,473h.1M89,398h.1M85,210h.1M154,345h.1M255,434h.1M267,383h.1M258,427h.1M87,463h.1M238,436h.1M252,419h.1M397,134h.1M320,176h.1M239,212h.1M236,503h.1M255,383h.1M229,494h.1M214,474h.1M291,539h.1M106,404h.1M200,487h.1M196,306h.1M295,189h.1M232,484h.1M263,439h.1M274,349h.1M160,489h.1M217,477h.1M299,223h.1M243,423h.1M283,384h.1M302,245h.1M480,317h.1M181,516h.1M162,369h.1M183,537h.1M230,463h.1M186,543h.1M271,387h.1M149,447h.1M259,439h.1M264,392h.1M253,449h.1M265,551h.1M215,507h.1M259,453h.1M249,451h.1M409,145h.1M206,321h.1M199,339h.1M254,402h.1M200,439h.1M261,409h.1M242,451h.1M320,611h.1M147,483h.1M254,582h.1M92,439h.1M238,500h.1M200,440h.1M239,450h.1M240,484h.1M288,338h.1M241,496h.1M239,474h.1M262,429h.1M265,465h.1M249,464h.1M202,386h.1M233,246h.1M327,255h.1M205,527h.1M252,395h.1M260,417h.1M232,439h.1M335,211h.1M245,470h.1M241,541h.1M137,341h.1M272,522h.1M223,319h.1M286,382h.1M252,463h.1M190,323h.1M266,569h.1M262,335h.1M127,351h.1M285,338h.1M259,471h.1M249,393h.1M245,436h.1M223,257h.1M237,211h.1M257,456h.1M269,363h.1M269,367h.1M362,209h.1M268,556h.1M199,550h.1M345,132h.1M240,493h.1M350,241h.1M181,486h.1M301,274h.1M274,197h.1M287,410h.1M279,369h.1M249,447h.1M278,334h.1M166,455h.1M315,589h.1M215,482h.1M253,365h.1M261,374h.1M294,474h.1M279,573h.1M246,432h.1M248,503h.1M287,363h.1M313,207h.1M265,386h.1M253,431h.1M94,399h.1M252,453h.1M69,227h.1M183,304h.1M278,591h.1M199,355h.1M226,265h.1M268,378h.1M254,441h.1M370,150h.1M174,459h.1M217,282h.1M167,429h.1M176,340h.1M250,446h.1M290,330h.1M289,471h.1M268,374h.1M248,527h.1M248,334h.1M266,360h.1M250,329h.1M266,355h.1M318,372h.1M311,508h.1M224,487h.1M320,373h.1M307,381h.1M371,165h.1M244,402h.1M239,494h.1M315,364h.1M281,468h.1M230,445h.1M265,432h.1M250,461h.1M145,457h.1M252,400h.1M258,459h.1M232,350h.1M292,338h.1M263,386h.1M243,477h.1M105,425h.1M262,368h.1M261,550h.1M224,443h.1M232,388h.1M236,435h.1M264,360h.1M261,389h.1M242,409h.1M201,565h.1M257,433h.1M240,469h.1M239,453h.1M245,448h.1M262,458h.1M305,522h.1M52,200h.1M272,368h.1M292,516h.1M302,593h.1M259,565h.1M254,469h.1M255,385h.1M115,427h.1M261,515h.1M276,508h.1M260,426h.1M466,311h.1M251,417h.1M208,537h.1M268,419h.1M252,393h.1M228,588h.1M251,428h.1M257,283h.1M269,364h.1M256,461h.1M169,366h.1M252,397h.1M259,357h.1M238,442h.1M222,504h.1M258,358h.1M242,513h.1M247,393h.1M340,145h.1M251,453h.1M246,467h.1M252,424h.1M258,574h.1M238,449h.1M309,488h.1M271,396h.1M125,441h.1M262,362h.1M270,583h.1M142,510h.1M318,203h.1M248,413h.1M296,450h.1M242,515h.1M117,464h.1M506,333h.1M109,429h.1M253,518h.1M268,536h.1M186,319h.1M268,320h.1M172,341h.1M106,348h.1M256,316h.1M252,416h.1M493,325h.1M275,361h.1M207,438h.1M236,427h.1M271,530h.1M368,128h.1M365,241h.1M246,611h.1M273,413h.1M216,546h.1M150,343h.1M386,234h.1M211,452h.1M283,400h.1M265,602h.1M232,482h.1M339,209h.1M258,446h.1M259,455h.1M247,460h.1M255,390h.1M268,403h.1M132,474h.1M252,391h.1M271,594h.1M245,494h.1M253,398h.1M267,372h.1M270,547h.1M271,279h.1M265,348h.1M238,232h.1M246,334h.1M256,328h.1M253,437h.1M483,300h.1M200,561h.1M256,521h.1M248,427h.1M251,432h.1M250,430h.1M272,383h.1M248,432h.1M245,197h.1M253,582h.1M211,423h.1M275,352h.1M369,143h.1M276,377h.1M324,524h.1M231,531h.1M166,326h.1M256,429h.1M246,546h.1M242,318h.1M248,449h.1M333,547h.1M253,414h.1M298,593h.1M240,451h.1M245,492h.1M271,361h.1M144,438h.1M261,411h.1M373,214h.1M242,464h.1M289,507h.1M192,454h.1M58,213h.1M300,175h.1M62,195h.1M245,535h.1M312,270h.1M243,396h.1M246,278h.1M253,426h.1M329,388h.1M487,305h.1M237,423h.1M263,390h.1M262,349h.1M351,216h.1M204,543h.1M259,402h.1M274,406h.1M329,159h.1M223,330h.1M249,490h.1M350,148h.1M324,561h.1M261,472h.1M213,454h.1M230,456h.1M247,451h.1M127,494h.1M127,339h.1M250,438h.1M267,543h.1M225,352h.1M263,422h.1M234,440h.1M317,217h.1M231,480h.1M192,446h.1M241,428h.1M378,156h.1M273,393h.1M238,509h.1M255,510h.1M83,443h.1M367,216h.1M251,466h.1M209,504h.1M268,442h.1M253,404h.1M267,422h.1M271,600h.1M299,496h.1M252,459h.1M68,384h.1M257,394h.1M269,391h.1M132,459h.1M258,472h.1M272,584h.1M262,276h.1M267,402h.1M275,534h.1M253,407h.1M250,386h.1M269,334h.1M236,224h.1M234,511h.1M285,356h.1M237,480h.1M232,409h.1M109,465h.1M296,574h.1M265,436h.1M250,449h.1M91,409h.1M240,519h.1M209,528h.1M76,431h.1M267,420h.1M169,371h.1M302,353h.1M255,550h.1M248,469h.1M249,559h.1M250,491h.1M238,428h.1M233,414h.1M281,586h.1M288,251h.1M388,203h.1M271,512h.1M223,594h.1M264,409h.1M299,588h.1M236,442h.1M300,557h.1M96,454h.1M177,529h.1M237,282h.1M238,462h.1M408,139h.1M266,443h.1M130,443h.1M239,476h.1M130,488h.1M253,433h.1M308,610h.1M274,387h.1M261,365h.1M273,460h.1M242,523h.1M246,475h.1M230,331h.1M278,543h.1M240,407h.1M313,500h.1M241,382h.1M133,469h.1M271,372h.1M232,510h.1M251,376h.1M292,529h.1M380,249h.1M258,366h.1M310,267h.1M285,579h.1M278,361h.1M302,612h.1M57,190h.1M278,444h.1M293,550h.1M231,460h.1M279,349h.1M244,488h.1M179,416h.1M379,130h.1M304,587h.1M345,229h.1M273,335h.1M257,208h.1M312,155h.1M248,604h.1M315,188h.1M266,331h.1M234,594h.1M244,394h.1M363,170h.1M228,443h.1M312,174h.1M250,459h.1M91,372h.1M263,545h.1M231,520h.1M274,571h.1M149,381h.1M191,349h.1M262,324h.1M269,444h.1M242,421h.1M252,443h.1M101,461h.1M258,527h.1M261,404h.1M243,460h.1M252,411h.1M296,516h.1M262,304h.1M215,536h.1M269,545h.1M287,469h.1M257,382h.1M260,345h.1M271,438h.1M251,203h.1M262,394h.1M255,449h.1M244,300h.1M256,475h.1M266,348h.1M179,536h.1M117,440h.1M260,531h.1M234,465h.1M297,510h.1M346,246h.1M282,434h.1M182,453h.1M289,372h.1M241,430h.1M387,163h.1M231,441h.1M277,591h.1M264,397h.1M197,467h.1M265,486h.1M262,419h.1M275,556h.1M233,464h.1M264,599h.1M270,559h.1M253,259h.1M186,444h.1M246,389h.1M278,405h.1M271,444h.1M298,175h.1M249,415h.1M240,538h.1M240,393h.1M277,407h.1M297,174h.1M284,195h.1M339,239h.1M127,497h.1M224,596h.1M166,499h.1M208,448h.1M267,358h.1M242,335h.1M190,537h.1M369,176h.1M273,385h.1M222,501h.1M246,391h.1M323,245h.1M199,458h.1M194,413h.1M260,370h.1M264,564h.1M261,372h.1M385,131h.1M344,138h.1M235,482h.1M401,168h.1M277,373h.1M356,127h.1M309,450h.1M260,414h.1M264,406h.1M212,563h.1M179,324h.1M273,389h.1M281,347h.1M216,582h.1M154,517h.1M296,370h.1M243,498h.1M230,425h.1M248,601h.1M245,399h.1M257,557h.1M344,223h.1M301,241h.1M265,444h.1M222,486h.1M283,334h.1M281,406h.1M246,492h.1M246,386h.1M281,387h.1M271,370h.1M261,392h.1M269,347h.1M241,326h.1M78,418h.1M262,403h.1M99,443h.1M225,489h.1M266,563h.1M92,465h.1M245,485h.1M259,492h.1M261,588h.1M262,376h.1M269,386h.1M265,379h.1M215,587h.1M241,273h.1M327,566h.1M298,207h.1M134,461h.1M373,221h.1M266,438h.1M278,471h.1M256,538h.1M224,464h.1M258,383h.1M306,399h.1M223,550h.1M113,498h.1M256,380h.1M254,593h.1M247,509h.1M262,396h.1M243,201h.1M250,403h.1M96,414h.1M261,420h.1M87,362h.1M212,588h.1M260,418h.1M299,257h.1M187,505h.1M221,470h.1M176,375h.1M302,492h.1M77,436h.1M430,169h.1M268,512h.1M265,340h.1M244,428h.1M159,344h.1M242,455h.1M162,461h.1M248,459h.1M71,200h.1M246,457h.1M272,404h.1M256,571h.1M217,288h.1M261,402h.1M241,227h.1M364,129h.1M234,480h.1M283,395h.1M361,190h.1M256,441h.1M265,472h.1M302,560h.1M321,378h.1M239,411h.1M246,435h.1M262,360h.1M248,437h.1M258,422h.1M279,353h.1M276,589h.1M266,427h.1M218,228h.1M279,337h.1M219,457h.1M299,553h.1M256,415h.1M413,183h.1M308,192h.1M285,359h.1M262,372h.1M303,388h.1M170,475h.1M288,214h.1M243,359h.1M260,377h.1M303,240h.1M263,450h.1M96,342h.1M244,551h.1M215,488h.1M253,451h.1M262,289h.1M241,479h.1M250,422h.1M69,204h.1M83,470h.1M227,225h.1M237,492h.1M328,225h.1M243,400h.1M251,424h.1M257,390h.1M227,301h.1M258,421h.1M273,306h.1M245,496h.1M252,527h.1M309,513h.1M273,525h.1M270,571h.1M65,196h.1M247,603h.1M226,248h.1M264,375h.1M245,390h.1M259,441h.1M223,490h.1M274,476h.1M165,348h.1M319,566h.1M168,332h.1M264,518h.1M253,475h.1M275,357h.1M286,380h.1M229,595h.1M257,594h.1M307,229h.1M249,483h.1M314,514h.1M261,453h.1M271,210h.1M110,367h.1M287,251h.1M233,214h.1M107,443h.1M311,397h.1M214,554h.1M201,423h.1M243,492h.1M266,367h.1M228,471h.1M263,425h.1M244,554h.1M259,477h.1M122,451h.1M313,242h.1M250,426h.1M125,334h.1M263,400h.1M160,379h.1M420,155h.1M241,503h.1M102,436h.1M240,410h.1M279,382h.1M135,421h.1M244,506h.1M226,561h.1M209,344h.1M259,435h.1M228,554h.1M210,320h.1M212,459h.1M304,344h.1M182,358h.1M249,517h.1M211,237h.1M262,405h.1M259,372h.1M247,452h.1M268,471h.1M230,583h.1M231,526h.1M254,378h.1M309,436h.1M281,365h.1M246,403h.1M258,457h.1M114,454h.1M252,464h.1M225,461h.1M236,455h.1M250,298h.1M229,463h.1M507,319h.1M183,328h.1M195,455h.1M208,458h.1M182,534h.1M254,417h.1M256,418h.1M302,444h.1M257,422h.1M231,562h.1M328,394h.1M516,317h.1M172,523h.1M295,335h.1M400,206h.1M273,430h.1M239,525h.1M242,501h.1M492,328h.1M388,179h.1M223,321h.1M283,369h.1M242,456h.1M275,230h.1M312,604h.1M257,370h.1M249,456h.1M238,421h.1M234,421h.1M245,513h.1M80,401h.1M259,336h.1M314,164h.1M246,565h.1M249,377h.1M121,508h.1M159,399h.1M265,462h.1M247,477h.1M250,481h.1M220,548h.1M77,363h.1M258,443h.1M175,322h.1M247,586h.1M254,405h.1M252,353h.1M389,201h.1M80,461h.1M259,347h.1M297,578h.1M298,259h.1M222,584h.1M264,442h.1M285,285h.1M278,398h.1M256,405h.1M234,454h.1M240,522h.1M267,617h.1M282,448h.1M140,353h.1M137,375h.1M280,338h.1M215,497h.1M237,508h.1M221,408h.1M111,502h.1M266,394h.1M255,477h.1M157,518h.1M250,457h.1M80,363h.1M245,274h.1M249,285h.1M237,432h.1M229,511h.1M252,285h.1M116,432h.1M282,359h.1M225,516h.1M323,546h.1M249,424h.1M277,253h.1M236,329h.1M242,438h.1M244,472h.1M265,367h.1M222,430h.1M319,155h.1M156,362h.1M281,399h.1M327,178h.1M224,573h.1M259,406h.1M254,406h.1M125,359h.1M257,402h.1M232,513h.1M245,419h.1M338,161h.1M353,180h.1M225,317h.1M207,539h.1M262,413h.1M258,432h.1M277,446h.1M298,576h.1M241,490h.1M231,459h.1M270,590h.1M276,340h.1M216,541h.1M259,370h.1M237,457h.1M262,383h.1M249,441h.1M136,468h.1M117,499h.1M89,354h.1M403,200h.1M205,557h.1M250,455h.1M220,458h.1M94,400h.1M283,354h.1M258,381h.1M304,488h.1M263,596h.1M244,453h.1M255,438h.1M215,528h.1M231,511h.1M280,483h.1M273,394h.1M275,399h.1M227,404h.1M256,485h.1M259,393h.1M236,485h.1M255,443h.1M260,360h.1M141,439h.1M221,527h.1M259,193h.1M250,384h.1M260,443h.1M328,160h.1M76,377h.1M255,414h.1M245,582h.1M483,306h.1M263,392h.1M318,249h.1M205,550h.1M101,388h.1M377,169h.1M223,561h.1M153,355h.1M236,444h.1M314,391h.1M259,322h.1M316,529h.1M353,183h.1M254,485h.1M296,567h.1M295,596h.1M269,404h.1M235,445h.1M243,534h.1M244,446h.1M289,572h.1M268,503h.1M261,490h.1M234,519h.1M213,526h.1M240,434h.1M79,401h.1M70,225h.1M242,470h.1M383,217h.1M261,399h.1M271,257h.1M251,393h.1M144,341h.1M213,587h.1M368,223h.1M250,478h.1M278,574h.1M239,422h.1M291,570h.1M267,375h.1M296,361h.1M469,309h.1M257,534h.1M216,342h.1M319,214h.1M294,351h.1M267,412h.1M292,520h.1M257,492h.1M268,547h.1M234,442h.1M263,388h.1M255,368h.1M248,396h.1M268,603h.1M265,469h.1M366,230h.1M78,361h.1M209,265h.1M298,612h.1M403,161h.1M268,400h.1M269,328h.1M245,462h.1M301,273h.1M245,557h.1M235,336h.1M279,415h.1M259,429h.1M74,370h.1M224,502h.1M233,472h.1M335,165h.1M259,544h.1M251,485h.1M249,430h.1M248,522h.1M302,376h.1M286,512h.1M186,371h.1M275,383h.1M425,154h.1M139,350h.1M298,426h.1M397,207h.1M286,367h.1M279,610h.1M313,506h.1M272,418h.1M266,425h.1M282,340h.1M132,449h.1M241,437h.1M337,213h.1M272,353h.1M270,407h.1M226,470h.1M290,194h.1M287,402h.1M128,463h.1M232,602h.1M269,388h.1M302,177h.1M253,572h.1M72,442h.1M236,529h.1M313,385h.1M270,507h.1M231,496h.1M86,366h.1M322,552h.1M348,207h.1M125,434h.1M265,429h.1M316,616h.1M168,500h.1M343,204h.1M240,417h.1M237,436h.1M205,404h.1M273,423h.1M216,255h.1M265,546h.1M227,520h.1M251,552h.1M267,432h.1M220,281h.1M259,408h.1M228,479h.1M286,570h.1M324,163h.1M337,185h.1M178,497h.1M248,487h.1M104,393h.1M228,534h.1M311,423h.1M246,441h.1M310,176h.1M155,425h.1M241,580h.1M107,374h.1M192,563h.1M293,512h.1M387,255h.1M273,333h.1M258,395h.1M255,412h.1M233,433h.1M300,580h.1M273,399h.1M245,441h.1M271,604h.1M262,449h.1M246,413h.1M320,392h.1M266,532h.1M356,165h.1M306,544h.1M425,171h.1M231,502h.1M323,217h.1M189,407h.1M209,538h.1M264,528h.1M286,473h.1M230,548h.1M173,437h.1M154,493h.1M281,253h.1M263,420h.1M295,395h.1M286,255h.1M396,143h.1M274,449h.1M238,399h.1M248,402h.1M245,560h.1M356,179h.1M243,430h.1M187,459h.1M116,448h.1M315,540h.1M243,494h.1M271,392h.1M281,355h.1M287,338h.1M187,480h.1M172,364h.1M242,416h.1M261,397h.1M279,359h.1M248,400h.1M249,220h.1M158,364h.1M285,616h.1M294,509h.1M264,391h.1M246,404h.1M237,463h.1M162,508h.1M293,385h.1M264,400h.1M240,415h.1M254,533h.1M279,605h.1M396,144h.1M91,492h.1M398,162h.1M266,404h.1M245,401h.1M259,514h.1M300,489h.1M265,577h.1M240,385h.1M259,445h.1M123,488h.1M329,144h.1M300,606h.1M261,451h.1M250,401h.1M257,400h.1M169,416h.1M475,312h.1M257,449h.1M317,606h.1M252,499h.1M229,550h.1M384,137h.1M74,211h.1M97,383h.1M112,345h.1M263,407h.1M233,441h.1M206,556h.1M239,506h.1M245,393h.1M186,470h.1M303,185h.1M272,372h.1M261,447h.1M270,389h.1M239,540h.1M258,491h.1M261,532h.1M240,599h.1M140,460h.1M227,555h.1M274,280h.1M69,407h.1M272,367h.1M184,504h.1M255,467h.1M324,587h.1M219,490h.1M246,437h.1M235,473h.1M114,376h.1M260,460h.1M248,300h.1M112,417h.1M245,423h.1M263,427h.1M491,303h.1M154,497h.1M236,510h.1M166,507h.1M139,366h.1M246,512h.1M182,322h.1M239,490h.1M385,203h.1M151,380h.1M247,420h.1M300,411h.1M272,455h.1M248,594h.1M271,404h.1M356,225h.1M245,468h.1M102,366h.1M242,329h.1M264,373h.1M103,354h.1M106,388h.1M235,245h.1M171,448h.1M255,613h.1M225,527h.1M192,496h.1M254,470h.1M344,246h.1M319,179h.1M254,398h.1M252,366h.1M263,560h.1M117,393h.1M260,381h.1M228,542h.1M212,545h.1M265,362h.1M175,428h.1M260,425h.1M229,552h.1M335,194h.1M264,312h.1M282,348h.1M291,444h.1M259,413h.1M227,466h.1M226,333h.1M243,504h.1M269,399h.1M291,329h.1M296,348h.1M231,455h.1M237,446h.1M296,552h.1M67,199h.1M271,354h.1M266,408h.1M287,330h.1M280,260h.1M249,206h.1M254,422h.1M260,394h.1M353,157h.1M131,437h.1M272,390h.1M213,427h.1M238,496h.1M326,565h.1M301,540h.1M283,533h.1M299,607h.1M418,140h.1M199,476h.1M277,350h.1M272,557h.1M225,287h.1M241,507h.1M227,525h.1M61,207h.1M229,582h.1M239,478h.1M229,398h.1M361,180h.1M281,503h.1M277,397h.1M251,477h.1M271,379h.1M217,591h.1M214,269h.1M87,353h.1M208,426h.1M238,247h.1M203,497h.1M256,459h.1M156,374h.1M266,460h.1M281,574h.1M239,439h.1M258,415h.1M197,438h.1M282,501h.1M298,274h.1M87,215h.1M261,456h.1M241,442h.1M226,297h.1M246,465h.1M293,522h.1M132,479h.1M236,476h.1M267,436h.1M307,366h.1M257,396h.1M216,536h.1M280,368h.1M231,482h.1M205,535h.1M264,295h.1M256,274h.1M121,440h.1M236,410h.1M151,331h.1M250,419h.1M269,396h.1M276,187h.1M362,139h.1M247,416h.1M192,349h.1M275,335h.1M127,335h.1M253,575h.1M424,164h.1M260,433h.1M238,572h.1M212,410h.1M156,359h.1M322,531h.1M274,401h.1M203,452h.1M265,411h.1M467,317h.1M293,534h.1M276,381h.1M253,461h.1M273,396h.1M240,467h.1M242,467h.1M168,383h.1M247,501h.1M299,538h.1M229,522h.1M271,390h.1M245,466h.1M226,531h.1M247,468h.1M305,493h.1M216,564h.1M244,199h.1M221,327h.1M271,322h.1M162,432h.1M191,369h.1M254,424h.1M99,496h.1M100,413h.1M79,450h.1M268,377h.1M216,508h.1M350,223h.1M254,474h.1M196,504h.1M307,177h.1M270,384h.1M248,534h.1M205,347h.1M354,151h.1M240,544h.1M254,460h.1M252,386h.1M199,497h.1M168,425h.1M268,610h.1M387,225h.1M237,536h.1M305,577h.1M245,204h.1M242,462h.1M94,494h.1M257,258h.1M352,223h.1M212,436h.1M294,465h.1M504,331h.1M212,532h.1M236,451h.1M206,279h.1M253,256h.1M246,495h.1M256,243h.1M262,444h.1M212,571h.1M244,431h.1M253,447h.1M259,411h.1M288,489h.1M264,311h.1M314,612h.1M139,484h.1M278,425h.1M138,502h.1M299,575h.1M239,576h.1M223,394h.1M191,509h.1M118,504h.1M271,554h.1M179,418h.1M184,493h.1M207,559h.1M233,501h.1M172,349h.1M264,364h.1M172,480h.1M334,149h.1M229,460h.1M277,370h.1M245,420h.1M242,518h.1M364,188h.1M277,422h.1M256,427h.1M308,484h.1M223,557h.1M372,186h.1M156,492h.1M265,368h.1M256,194h.1M267,447h.1M244,451h.1M300,553h.1M285,558h.1M87,477h.1M208,559h.1M404,138h.1M342,214h.1M241,461h.1M239,433h.1M311,185h.1M275,408h.1M283,202h.1M316,367h.1M274,417h.1M415,138h.1M242,288h.1M253,434h.1M109,342h.1M259,391h.1M322,232h.1M250,469h.1M281,449h.1M210,512h.1M227,450h.1M235,570h.1M234,452h.1M240,387h.1M327,239h.1M216,562h.1M289,407h.1M258,396h.1M253,196h.1M373,199h.1M243,489h.1M237,587h.1M200,477h.1M321,410h.1M223,454h.1M266,475h.1M94,461h.1M236,506h.1M232,559h.1M255,396h.1M257,446h.1M258,364h.1M333,220h.1M205,423h.1M259,398h.1M259,424h.1M292,579h.1M76,405h.1" stroke="#828282" stroke-width="3" stroke-linecap="round" fill="none"/>
<path d="M118,230h.1M174,292h.1M62,230h.1M206,234h.1M284,306h.1M474,290h.1M156,280h.1M196,250h.1M84,248h.1M126,262h.1M128,256h.1M390,264h.1M458,328h.1M486,338h.1M162,238h.1M492,294h.1M124,296h.1M482,284h.1M196,228h.1M512,308h.1M440,312h.1M138,260h.1M142,286h.1M524,306h.1M100,232h.1M110,252h.1M160,280h.1M104,248h.1M118,236h.1M198,272h.1M322,434h.1M168,282h.1M386,262h.1M44,228h.1M388,316h.1M452,334h.1M74,250h.1M456,300h.1M528,356h.1M186,294h.1M160,274h.1M440,302h.1M156,250h.1M426,324h.1M172,270h.1M462,326h.1M514,350h.1M108,260h.1M496,348h.1M122,270h.1M98,228h.1M106,226h.1M494,354h.1M176,258h.1M176,250h.1M434,292h.1M116,228h.1M410,326h.1M68,242h.1M522,362h.1M184,246h.1M166,296h.1M86,254h.1M82,244h.1M138,294h.1M178,304h.1M480,298h.1M406,214h.1M54,228h.1M406,320h.1M490,286h.1M152,236h.1M468,330h.1M408,214h.1M294,288h.1M480,344h.1M132,242h.1M426,328h.1M96,236h.1M106,220h.1M146,282h.1M132,288h.1M424,192h.1M430,284h.1M432,284h.1M534,310h.1M96,208h.1M446,284h.1M298,158h.1M124,256h.1M158,298h.1M508,300h.1M476,296h.1M366,330h.1M538,324h.1M184,292h.1M544,326h.1M128,230h.1M332,402h.1M486,350h.1M76,236h.1M140,230h.1M174,256h.1M162,272h.1M172,264h.1M166,312h.1M428,312h.1M338,374h.1M392,326h.1M346,250h.1M456,318h.1M400,236h.1M200,240h.1M110,226h.1M164,300h.1M182,300h.1M182,260h.1M90,248h.1M382,260h.1M512,348h.1M160,262h.1M308,278h.1M192,264h.1M386,260h.1M88,264h.1M464,302h.1M132,266h.1M474,284h.1M314,278h.1M164,254h.1M486,300h.1M120,280h.1M560,352h.1M528,328h.1M192,256h.1M168,270h.1M468,296h.1M60,240h.1M134,288h.1M512,310h.1M550,312h.1M458,290h.1M444,310h.1M120,270h.1M84,200h.1M516,304h.1M462,306h.1M356,336h.1M220,206h.1M436,318h.1M146,302h.1M480,342h.1M164,288h.1M176,288h.1M172,226h.1M196,296h.1M522,338h.1M484,296h.1M468,328h.1M466,338h.1M198,294h.1M420,330h.1M130,242h.1M200,292h.1M176,272h.1M158,284h.1M466,322h.1M184,266h.1M206,282h.1M124,264h.1M464,282h.1M76,228h.1M184,240h.1M106,228h.1M408,336h.1M508,302h.1M144,286h.1M122,244h.1M126,238h.1M506,342h.1M452,318h.1M64,242h.1M88,230h.1M412,340h.1M504,344h.1M166,268h.1M414,318h.1M126,286h.1M148,272h.1M456,338h.1M554,314h.1M390,262h.1M454,306h.1M434,304h.1M558,332h.1M192,266h.1M110,222h.1M428,284h.1M512,344h.1M532,318h.1M138,252h.1M344,250h.1M452,312h.1M456,290h.1M420,318h.1M192,284h.1M552,354h.1M52,240h.1M62,248h.1M400,324h.1M130,262h.1M372,348h.1M200,294h.1M326,268h.1M142,246h.1M448,294h.1M418,288h.1M172,258h.1M474,334h.1M412,212h.1M526,320h.1M48,224h.1M78,236h.1M418,278h.1M188,298h.1M490,300h.1M96,238h.1M186,240h.1M162,262h.1M312,280h.1M88,232h.1M530,342h.1M426,326h.1M538,356h.1M158,250h.1M486,296h.1M392,262h.1M192,232h.1M458,320h.1M46,224h.1M528,314h.1M380,336h.1M194,274h.1M226,200h.1M398,248h.1M106,260h.1M196,234h.1M486,298h.1M98,210h.1M522,332h.1M224,204h.1M108,212h.1M432,308h.1M82,252h.1M44,222h.1M522,346h.1M522,334h.1M84,252h.1M148,274h.1M174,242h.1M550,326h.1M88,234h.1M494,286h.1M196,270h.1M58,226h.1M470,336h.1M94,202h.1M128,238h.1M120,292h.1M178,246h.1M526,344h.1M546,358h.1M214,226h.1M58,228h.1M496,358h.1M482,352h.1M200,282h.1M106,276h.1M86,250h.1M134,260h.1M406,330h.1M150,310h.1M184,288h.1M126,250h.1M370,338h.1M96,260h.1M184,286h.1M148,286h.1M456,316h.1M456,340h.1M470,284h.1M482,298h.1M120,296h.1M274,290h.1M154,230h.1M398,238h.1M84,240h.1M194,234h.1M106,244h.1M118,218h.1M150,292h.1M166,110h.1M560,484h.1M422,308h.1M482,398h.1M602,370h.1M614,396h.1M140,284h.1M590,354h.1M468,296h.1M532,324h.1M458,398h.1M420,268h.1M524,334h.1M280,294h.1M572,346h.1M192,178h.1M544,302h.1M174,166h.1M508,284h.1M536,386h.1M120,232h.1M142,288h.1M140,298h.1M632,360h.1M184,292h.1M480,364h.1M446,402h.1M496,390h.1M498,490h.1M588,420h.1M478,438h.1M470,412h.1M570,476h.1M580,354h.1M508,272h.1M406,272h.1M526,428h.1M220,218h.1M148,278h.1M512,506h.1M594,376h.1M498,270h.1M186,230h.1M430,314h.1M530,376h.1M414,314h.1M480,362h.1M528,444h.1M500,284h.1M536,508h.1M178,276h.1M108,268h.1M566,382h.1M558,508h.1M242,74h.1M592,330h.1M240,116h.1M408,360h.1M470,330h.1M438,350h.1M420,346h.1M214,158h.1M176,268h.1M546,442h.1M540,390h.1M78,230h.1M98,224h.1M192,264h.1M126,300h.1M562,464h.1M512,290h.1M486,272h.1M626,316h.1M522,376h.1M184,192h.1M384,362h.1M186,140h.1M396,336h.1M154,290h.1M238,120h.1M346,338h.1M196,122h.1M626,430h.1M174,188h.1M616,340h.1M580,388h.1M580,456h.1M226,78h.1M576,374h.1M162,260h.1M562,474h.1M616,398h.1M492,446h.1M410,344h.1M550,440h.1M194,272h.1M192,262h.1M462,282h.1M168,112h.1M482,458h.1M484,444h.1M460,418h.1M366,336h.1M128,296h.1M328,266h.1M624,312h.1M102,274h.1M554,504h.1M174,204h.1M496,446h.1M194,262h.1M470,334h.1M430,284h.1M636,274h.1M184,168h.1M596,470h.1M432,174h.1M510,340h.1M432,362h.1" stroke="#5757B6" stroke-width="2.8" stroke-linecap="round" fill="none"/>
</g></g>
<g transform="translate(184.1,184.2) scale(0.24272)">
<use href="#sil" fill="#848484"/>
<g clip-path="url(#silc)"><g filter="url(#bl)">
<path d="M83,357l2,2l-2,2l2,4l-8,6l2,4l-4,2l-2,6l4,12l-2,2l2,2l-2,6l2,2l0,22l2,2l-2,6l2,-2l2,4l4,2l-2,2l2,6l-2,2l2,4l-2,6l2,4l4,2l-2,4l8,6l2,4l-2,4l8,6l2,-2l2,6l4,-2l4,6l6,-2l2,2l-2,2l4,4l6,0l2,4l8,0l2,-2l4,2l2,-2l2,4l2,-2l4,4l4,-2l4,2l2,-2l10,2l4,4l0,6l6,4l-2,4l2,2l-2,2l2,0l2,6l4,2l-2,2l4,12l2,-2l6,6l0,4l6,2l-2,6l6,-2l2,2l-2,4l6,6l6,2l6,6l2,-2l2,4l6,4l36,16l6,-2l6,4l4,-2l6,4l12,-4l-2,-2l4,-4l4,0l-2,-2l4,-4l4,0l2,-6l-2,-4l2,-2l2,2l0,-6l-6,-6l2,-2l-2,-2l2,-2l-2,-6l4,-2l-2,-4l2,-2l-2,-4l2,-4l-6,-4l2,-2l-2,-4l2,-6l-4,-8l2,-4l-6,0l-2,-2l2,-2l-2,-2l2,-2l-2,-8l-6,-2l2,-2l-2,-2l2,-2l-2,-4l2,-2l-6,-2l2,-2l-4,-12l2,-2l-2,-4l2,-2l-2,-2l4,-4l-2,-2l2,-4l-4,-4l2,-4l-2,-2l2,-2l0,-10l4,-2l-2,-2l4,-6l4,2l0,-10l2,-2l-2,-4l4,-6l-2,-2l2,-2l6,0l-2,-4l8,-12l-4,-12l-2,2l-2,-2l-4,2l-8,-4l2,-6l-6,-4l-2,-8l-2,2l-2,-2l0,-6l-2,2l-2,-2l0,-6l-2,2l-4,-8l-4,2l-2,-4l-4,0l-4,-4l2,-4l-10,-8l0,-4l-6,2l-4,-4l2,-2l-2,-2l2,-2l0,-6l-16,-10l-6,2l0,12l-2,2l-2,-2l-6,0l-2,2l-4,-2l2,4l-4,4l-2,-2l-6,6l2,2l-2,2l-14,2l-12,10l-4,-2l-4,4l-2,-2l-8,2l2,4l-2,2l-10,-2l-2,4l-8,0l-6,6l-2,-2l-6,2l-2,-2l-6,2l-4,-2l-2,4l-4,0l-6,4l-4,-2l-6,4l-6,-2l-4,6zM315,601l2,-2l2,2l-2,2zM319,551l2,-2l2,2l-2,2zM155,511l2,-2l2,2l-2,2zM121,501l2,-2l2,2l-2,2zM95,485l2,-2l2,2l-2,2zM73,387l2,-2l2,2l-2,2zM323,385l2,-2l2,2l-2,2zM143,343l2,-2l2,2l-2,2zM285,337l2,-2l2,2l-2,2zM199,321l2,-2l2,2l-2,2zM213,311l2,-2l2,2l-2,2zM637,279l-2,2l-2,-4l-2,2l-4,-2l-2,-4l-2,2l-2,-4l-2,2l-8,-4l-2,2l-2,-2l-4,2l-14,-6l-6,4l-6,-2l-4,4l-2,-2l-6,0l-2,2l-6,-2l-2,2l-2,-4l-4,0l-8,4l2,2l-2,2l-6,-2l-4,2l-4,-2l-2,2l-10,0l-2,4l-6,2l-2,-2l0,2l-6,4l-2,-2l-14,2l-2,-2l0,-6l-6,0l-18,12l-32,8l-2,2l2,2l-2,2l0,6l-4,2l-8,10l-2,-2l-6,6l-10,-2l2,4l-2,2l-10,-2l0,2l-4,2l2,2l-2,2l-8,-2l2,4l-2,2l-6,0l-2,2l-2,-2l-4,6l-6,-2l0,4l-6,6l-4,-2l0,8l-2,2l2,-2l4,2l2,-2l2,2l6,-2l4,4l2,-2l4,6l4,0l4,4l10,0l4,2l2,4l16,6l10,-2l4,2l2,4l6,-2l6,2l4,6l2,-2l8,2l4,4l-2,2l2,4l-2,6l2,2l-4,2l2,2l-2,4l8,4l2,8l4,2l4,8l-2,2l2,-2l4,4l-2,2l2,4l6,4l-2,2l6,4l0,4l2,-2l2,2l2,8l4,0l6,6l-2,2l12,8l2,6l4,-2l2,4l2,-2l4,6l2,-2l4,2l2,4l2,-2l2,2l-2,4l4,2l-2,2l2,-2l10,4l4,-6l2,2l4,-4l4,2l0,-4l4,-6l6,-4l-2,-2l2,-2l-2,-4l2,-2l8,2l-2,-4l2,-4l6,-4l-2,-2l2,-2l6,0l12,-8l-2,-6l12,-8l0,-4l14,-28l-2,-4l-4,-2l2,-6l-8,0l-2,-2l2,-2l-8,-4l0,-16l4,-4l6,0l2,2l2,-4l6,0l2,-4l4,2l4,-2l-2,-2l2,-2l-2,-6l4,-4l-2,-2l2,-2l0,-12l2,-2l-2,-6l2,-2l-2,-4l2,-4l0,-24l-2,-2l2,-2l0,-10l-2,-2zM559,497l2,-2l2,2l-2,2zM573,477l2,-2l2,2l-2,2zM483,469l2,-2l2,2l-2,2zM593,465l2,-2l2,2l-2,2zM601,451l2,-2l2,2l-2,2zM461,435l2,-2l2,2l-2,2zM459,431l2,-2l2,2l-2,2zM455,425l2,-2l2,2l-2,2zM607,401l2,-2l2,2l-2,2zM601,379l2,-2l2,2l-2,2zM397,379l2,-2l2,2l-2,2zM383,371l2,-2l2,2l-2,2zM631,357l2,-2l2,2l-2,2zM407,321l2,-2l2,2l-2,2zM525,275l2,-2l2,2l-2,2zM333,199l-12,-2l-26,8l-16,10l-8,8l-2,8l10,4l28,-8l16,-10l10,-10z" fill="#3389BC"/>
<path d="M83,357l2,2l-2,2l2,4l-8,6l2,4l-4,2l-2,6l4,12l-2,2l2,2l-2,6l2,2l0,22l2,2l-2,6l2,-2l2,4l4,2l-2,2l2,6l-2,2l2,4l-2,6l2,4l4,2l-2,4l8,6l2,4l-2,4l8,6l2,-2l2,6l4,-2l4,6l6,-2l2,2l-2,2l4,4l20,2l2,2l2,-2l10,4l18,2l4,4l0,6l6,4l-2,4l4,6l0,4l4,2l-2,2l16,20l8,6l30,14l22,16l26,10l8,0l12,-6l8,-12l0,-30l-2,-2l0,-12l-2,-2l-2,-18l-10,-24l0,-6l-6,-16l-2,-24l2,-2l2,-22l14,-30l-2,-2l6,-4l2,-16l-4,-8l-10,-4l2,-6l-2,0l-6,-10l-4,-2l0,-4l-4,-2l0,-4l-4,-2l0,-4l-2,-2l-4,2l-2,-4l-4,0l-4,-4l2,-4l-10,-8l0,-4l-6,2l-4,-4l2,-6l-12,-6l-10,-2l0,6l-2,2l-2,-2l-6,0l-2,2l-4,-2l2,4l-4,4l-2,-2l-6,6l2,2l-2,2l-14,2l-12,10l-4,-2l-4,4l-2,-2l-8,2l2,4l-2,2l-10,-2l-2,4l-8,0l-6,6l-2,-2l-6,2l-2,-2l-6,2l-4,-2l-2,4l-4,0l-6,4l-4,-2l-6,4l-6,-2l-4,6zM247,563l2,-6l6,2l-4,6zM121,501l2,-2l2,2l-2,2zM95,485l2,-2l2,2l-2,2zM73,387l2,-2l2,2l-2,2zM143,343l2,-2l2,2l-2,2zM285,337l2,-2l2,2l-2,2zM199,321l2,-2l2,2l-2,2zM213,311l2,-2l2,2l-2,2zM635,281l-2,-4l-2,2l-4,-2l-2,-4l-2,2l-2,-4l-2,2l-8,-4l-2,2l-2,-2l-4,2l-14,-6l-6,4l-6,-2l-4,4l-2,-2l-6,0l-2,2l-6,-2l-2,2l-2,-4l-4,0l-8,4l2,2l-2,2l-6,-2l-4,2l-4,-2l-2,2l-10,0l-2,4l-6,2l-2,-2l0,2l-6,4l-2,-2l-14,2l-2,-6l-4,0l-24,14l-28,6l-2,10l-4,2l-8,10l-2,-2l-6,6l-10,-2l2,4l-2,2l-10,-2l0,2l-4,2l2,2l-2,2l-8,-2l2,4l-2,2l-6,0l-2,2l-2,-2l-4,6l-6,-2l0,4l-6,6l-4,-2l0,8l-2,2l2,-2l4,2l2,-2l2,2l6,-2l4,4l2,-2l4,6l4,0l4,4l10,0l4,2l2,4l16,6l10,-2l4,2l2,4l6,-2l6,2l4,6l2,-2l8,2l4,4l-2,2l2,4l-2,6l2,2l-4,2l2,2l-2,4l8,4l2,8l4,2l4,8l-2,2l2,-2l4,4l-2,2l2,4l6,4l-2,2l6,4l0,4l2,-2l2,2l2,8l4,0l6,6l-2,2l12,8l2,6l4,-2l2,4l2,-2l4,6l2,-2l4,2l2,4l2,-2l2,2l-2,4l4,2l-2,2l2,-2l10,4l4,-6l2,2l4,-4l4,2l0,-4l4,-6l6,-4l-2,-2l2,-2l-2,-4l2,-2l8,2l-2,-4l2,-4l6,-4l-2,-2l2,-2l6,0l12,-8l-2,-6l10,-8l0,-4l14,-28l0,-4l-4,-2l2,-6l-8,0l-2,-2l2,-2l-8,-4l0,-16l4,-4l6,0l2,2l2,-4l8,-4l8,0l-2,-2l2,-2l-2,-6l4,-4l-2,-2l2,-2l0,-28l-2,-2zM559,497l2,-2l2,2l-2,2zM573,477l2,-2l2,2l-2,2zM483,469l2,-2l2,2l-2,2zM593,465l2,-2l2,2l-2,2zM601,451l2,-2l2,2l-2,2zM461,435l2,-2l2,2l-2,2zM459,431l2,-2l2,2l-2,2zM455,425l2,-2l2,2l-2,2zM607,401l2,-2l2,2l-2,2zM601,379l2,-2l2,2l-2,2zM397,379l2,-2l2,2l-2,2zM383,371l2,-2l2,2l-2,2zM631,357l2,-2l2,2l-2,2zM407,321l2,-2l2,2l-2,2zM525,275l2,-2l2,2l-2,2z" fill="#479FB3"/>
<path d="M285,441l-14,20l0,16l6,12l12,10l2,-2l-2,-22l-2,-2l2,-30zM305,385l0,10l4,-2l0,-6zM243,305l-20,0l-6,6l-2,-2l-6,6l2,2l-2,2l-14,2l-12,10l-4,-2l-4,4l-2,-2l-8,2l2,4l-2,2l-10,-2l-2,4l-8,0l-6,6l-2,-2l-6,2l-2,-2l-6,2l-4,-2l-2,4l-4,0l-6,4l-4,-2l-6,4l-6,-2l-4,6l-4,-2l2,2l-2,2l2,4l-8,6l2,4l-4,2l-2,6l4,12l-2,2l2,2l-2,6l2,2l0,22l2,2l-2,6l2,-2l2,4l4,2l-2,2l2,6l-2,2l2,4l-2,6l2,4l4,2l-2,4l8,6l2,6l6,6l26,12l30,2l14,4l10,6l10,10l6,0l28,-30l10,-6l20,-18l6,-10l2,-30l2,-2l0,-8l6,-20l8,-16l10,-10l2,-10l-10,-24l-10,-10l-4,-8l-16,-12l-4,0zM73,387l2,-2l2,2l-2,2zM143,343l2,-2l2,2l-2,2zM199,321l2,-2l2,2l-2,2zM213,311l2,-2l2,2l-2,2zM633,285l-2,-6l-4,-2l-2,-4l-2,2l-2,-4l-2,2l-8,-4l-2,2l-2,-2l-4,2l-14,-6l-6,4l-6,-2l-4,4l-2,-2l-6,0l-2,2l-6,-2l-2,2l-2,-4l-4,0l-8,4l2,2l-2,2l-6,-2l-4,2l-4,-2l-2,2l-10,0l-2,4l-6,2l-2,-2l0,2l-6,4l-2,-2l-14,2l-2,-4l-28,14l-28,6l-2,2l0,6l-4,2l-8,10l-2,-2l-6,6l-10,-2l2,4l-2,2l-10,-2l0,2l-4,2l2,2l-2,2l-8,-2l2,4l-2,2l-6,0l-2,2l-2,-2l-4,6l-6,-2l0,4l-6,6l-4,-2l0,8l-2,2l2,-2l4,2l2,-2l2,2l6,-2l4,4l2,-2l4,6l4,0l4,4l10,0l4,2l2,4l16,6l10,-2l4,2l2,4l6,-2l6,2l4,6l2,-2l8,2l4,4l-2,2l2,4l-2,6l2,2l-4,2l2,2l-2,4l8,4l2,8l4,2l4,8l-2,2l2,-2l4,4l-2,2l2,4l6,4l-2,2l6,4l0,4l2,-2l2,2l2,8l4,0l6,6l-2,2l12,8l2,6l4,-2l2,4l2,-2l4,6l2,-2l4,2l2,4l2,-2l2,2l-2,4l4,2l-2,2l2,-2l10,4l4,-6l2,2l4,-4l4,2l0,-4l4,-6l6,-4l-2,-2l2,-2l-2,-4l2,-2l8,2l-2,-4l2,-4l6,-4l-2,-2l2,-2l6,0l10,-6l2,-4l-2,-4l6,-4l-2,-2l4,-4l2,-8l12,-24l-2,-6l2,-4l-8,0l-2,-2l2,-2l-8,-4l0,-16l6,-4l2,-4l12,0l10,-6l-2,-2l2,-2l-2,-2l4,-4l-2,-2l2,-6l-2,-2l0,-16l-2,-2zM559,497l2,-2l2,2l-2,2zM573,477l2,-2l2,2l-2,2zM483,469l2,-2l2,2l-2,2zM593,465l2,-2l2,2l-2,2zM461,435l2,-2l2,2l-2,2zM459,431l2,-2l2,2l-2,2zM455,425l2,-2l2,2l-2,2zM607,401l2,-2l2,2l-2,2zM601,379l2,-2l2,2l-2,2zM397,379l2,-2l2,2l-2,2zM383,371l2,-2l2,2l-2,2zM631,357l2,-2l2,2l-2,2zM407,321l2,-2l2,2l-2,2zM525,275l2,-2l2,2l-2,2z" fill="#5CB6AA"/>
<path d="M261,335l-12,-12l-8,-4l-20,-2l-24,8l-6,0l-8,6l-4,-2l-4,4l-2,-2l-2,2l-6,0l2,4l-2,2l-10,-2l-2,4l-8,0l-6,6l-2,-2l-6,2l-2,-2l-6,2l-4,-2l-2,4l-4,0l-6,4l-4,-2l-6,4l-6,-2l-4,6l-4,-2l2,2l-2,2l2,4l-8,6l2,4l-4,2l-2,10l4,8l-2,2l2,2l-2,2l2,2l-2,2l2,2l0,22l4,10l4,2l-2,6l10,20l10,10l14,8l16,2l2,2l4,-2l12,0l26,-14l42,-28l14,-14l14,-26l14,-46l0,-8l2,-2zM73,387l2,-2l2,2l-2,2zM143,343l2,-2l2,2l-2,2zM629,277l-2,0l-2,-4l-2,2l-2,-4l-2,2l-8,-4l-2,2l-2,-2l-4,2l-14,-6l-6,4l-6,-2l-4,4l-2,-2l-6,0l-2,2l-6,-2l-2,2l-2,-4l-4,0l-8,4l2,2l-2,2l-6,-2l-4,2l-4,-2l-2,2l-10,0l-2,4l-6,2l-2,-2l0,2l-6,4l-2,-2l-8,0l-2,2l-6,-2l-26,14l-32,8l0,4l-4,2l-8,10l-2,-2l-6,6l-10,-2l2,4l-2,2l-10,-2l0,2l-4,2l2,2l-2,2l-8,-2l2,4l-2,2l-6,0l-2,2l-2,-2l-4,6l-6,-2l0,4l-6,6l-4,-2l0,8l4,2l2,-2l2,2l6,-2l4,4l2,-2l4,6l4,0l4,4l10,0l4,2l2,4l16,6l10,-2l4,2l2,4l6,-2l6,2l4,6l2,-2l8,2l4,4l-2,2l2,4l-2,6l2,2l-4,2l2,2l-2,4l8,4l2,8l4,2l4,8l-2,2l2,-2l4,4l-2,2l2,4l6,4l-2,2l6,4l0,4l2,-2l2,2l2,8l4,0l6,6l-2,2l12,8l2,6l4,-2l2,4l2,-2l4,6l2,-2l4,2l2,4l2,-2l2,2l-2,4l4,2l-2,2l2,-2l10,4l4,-6l2,2l4,-4l2,2l6,-10l6,-4l-2,-2l2,-2l-2,-2l2,-4l8,2l-2,-4l2,-4l6,-4l-2,-2l2,-2l6,0l6,-4l10,-20l2,-10l10,-18l2,-14l-6,0l-2,-2l2,-2l-8,-4l0,-16l2,-2l-18,-6l2,-2l36,0l4,-2l4,-6l-2,-2l2,-2l-2,-2l2,-6l-2,-2l0,-16l-2,-2zM559,497l2,-2l2,2l-2,2zM573,477l2,-2l2,2l-2,2zM483,469l2,-2l2,2l-2,2zM461,435l2,-2l2,2l-2,2zM459,431l2,-2l2,2l-2,2zM455,425l2,-2l2,2l-2,2zM607,401l2,-2l2,2l-2,2zM601,379l2,-2l2,2l-2,2zM397,379l2,-2l2,2l-2,2zM575,371l2,-2l10,0l2,2l-2,2l-10,0zM383,371l2,-2l2,2l-2,2zM407,321l2,-2l2,2l-2,2zM525,275l2,-2l2,2l-2,2z" fill="#74C7A5"/>
<path d="M195,353l-12,-10l-26,-2l-12,4l-2,-2l-4,4l-2,-2l-6,2l-4,-2l-14,4l-6,4l-2,-2l-8,4l-2,-2l-12,8l2,4l-6,4l0,6l-2,2l0,22l2,2l2,20l10,18l6,4l14,4l24,0l2,-2l10,0l12,-4l22,-12l16,-16l8,-16l0,-24zM627,277l-2,-4l-2,2l-2,-4l-2,2l-8,-4l-2,2l-2,-2l-4,2l-14,-6l-6,4l-6,-2l-4,4l-2,-2l-6,0l-2,2l-6,-2l-2,2l-2,-4l-4,0l-8,4l2,2l-2,2l-6,-2l-4,2l-4,-2l-2,2l-10,0l-2,4l-6,2l-2,-2l0,2l-6,4l-2,-2l-16,2l-20,12l-38,10l-12,14l-2,-2l-6,6l-10,-2l2,4l-2,2l-10,-2l0,2l-4,2l2,2l-2,2l-8,-2l2,4l-2,2l-6,0l-2,2l-2,-2l-4,6l-6,-2l0,4l-6,6l-4,-2l0,4l4,6l2,-2l2,2l6,-2l4,4l2,-2l4,6l4,0l4,4l10,0l10,8l12,4l10,-2l4,2l2,4l6,-2l6,2l4,6l2,-2l8,2l4,4l-2,2l2,4l-2,6l2,2l-4,2l2,2l-2,4l8,4l2,8l4,2l4,8l-2,2l2,-2l4,4l-2,2l2,4l6,4l-2,2l6,4l0,4l2,-2l2,2l2,8l4,0l6,6l-2,2l12,8l2,6l4,-2l2,4l2,-2l4,6l2,-2l4,2l2,4l2,-2l2,2l-2,4l4,2l-2,2l2,-2l2,2l8,0l4,-4l2,2l6,-4l6,-8l6,-4l-2,-2l2,-2l-2,-4l2,-2l6,2l2,-2l-2,-2l2,-4l6,-4l-2,-2l2,-2l6,0l12,-20l4,-16l12,-24l0,-6l-4,0l-2,-2l2,-2l-8,-4l0,-16l-2,-2l-42,-8l-2,-4l2,-2l16,0l2,2l14,0l2,2l32,0l4,-2l2,-4l0,-10l-2,-2l0,-18l-2,-2zM559,497l2,-2l2,2l-2,2zM573,477l2,-2l2,2l-2,2zM483,469l2,-2l2,2l-2,2zM461,435l2,-2l2,2l-2,2zM459,431l2,-2l2,2l-2,2zM455,425l2,-2l2,2l-2,2zM607,401l2,-2l2,2l-2,2zM397,379l2,-2l2,2l-2,2zM383,371l2,-2l2,2l-2,2zM407,321l2,-2l2,2l-2,2zM525,275l2,-2l2,2l-2,2z" fill="#8FD2A4"/>
<path d="M163,361l-10,-6l-6,0l-2,-2l-30,2l-18,6l-8,8l-4,10l2,24l6,10l10,6l14,4l26,-2l16,-8l10,-10l6,-14l-2,-14zM625,279l-4,-8l-2,2l-8,-4l-2,2l-2,-2l-4,2l-14,-6l-6,4l-6,-2l-4,4l-2,-2l-6,0l-2,2l-6,-2l-2,2l-2,-4l-4,0l-8,4l2,2l-2,2l-6,-2l-4,2l-4,-2l-2,2l-10,0l-2,4l-6,2l-2,-2l0,2l-6,4l-2,-2l-6,0l-34,18l-18,6l-16,2l-4,2l-8,10l-2,-2l-6,6l-10,-2l2,4l-2,2l-10,-2l0,2l-4,2l2,2l-2,2l-8,-2l2,4l-2,2l-6,0l-2,2l-2,-2l-4,6l-6,-2l0,4l-6,6l-2,-2l0,4l6,6l4,-2l6,4l2,-2l4,6l4,0l4,4l10,0l8,6l6,2l2,-2l10,6l6,-2l4,2l2,4l6,-2l6,2l4,6l2,-2l8,2l4,4l-2,2l2,4l-2,6l2,2l-4,2l2,2l-2,4l8,4l2,8l4,2l4,8l-2,2l2,-2l4,4l-2,2l2,4l6,4l-2,2l6,4l0,4l2,-2l2,2l2,8l4,0l6,6l-2,2l12,8l2,6l4,-2l2,4l2,-2l4,6l2,-2l4,2l2,4l2,-2l2,2l-2,4l4,2l10,0l8,-4l8,-10l8,-6l-2,-4l2,-2l6,0l2,-6l6,-4l-2,-2l10,-8l10,-22l2,-10l10,-18l0,-10l-2,-2l2,-2l-8,-4l0,-14l-2,-2l-14,-4l-22,-2l-14,-4l-6,-4l4,-4l22,0l2,2l14,0l2,2l14,0l2,2l16,0l6,-4l2,-8l-2,-2l0,-18l-2,-2zM573,477l2,-2l2,2l-2,2zM483,469l2,-2l2,2l-2,2zM461,435l2,-2l2,2l-2,2zM459,431l2,-2l2,2l-2,2zM455,425l2,-2l2,2l-2,2zM607,401l2,-2l2,2l-2,2zM383,371l2,-2l2,2l-2,2zM407,321l2,-2l2,2l-2,2zM525,275l2,-2l2,2l-2,2z" fill="#ABDDA4"/>
<path d="M623,279l-4,-6l-8,-4l-2,2l-2,-2l-4,2l-14,-6l-6,4l-6,-2l-4,4l-2,-2l-6,0l-2,2l-6,-2l-2,2l-2,-4l-4,0l-8,4l2,2l-2,2l-6,-2l-4,2l-4,-2l-2,2l-10,0l-2,4l-6,2l-2,-2l0,2l-6,4l-4,-2l-40,22l-20,6l-16,2l-4,2l-4,6l-2,-2l-6,6l-10,-2l2,4l-2,2l-10,-2l0,2l-4,2l2,2l-2,2l-8,-2l2,4l-2,2l-6,0l-2,2l-2,-2l-4,6l-6,-2l0,4l-6,6l6,6l4,0l4,4l2,-2l2,4l52,16l8,6l4,-2l6,2l4,6l2,-2l8,2l4,4l-2,2l2,4l-2,6l2,2l-4,2l2,2l-2,4l8,4l2,8l4,2l4,8l-2,2l2,-2l4,4l-2,2l2,4l6,4l-2,2l6,4l0,4l2,-2l2,2l2,8l4,0l6,6l-2,2l12,8l0,4l4,2l2,-2l2,4l2,-2l4,6l2,-2l4,2l2,4l2,-2l4,6l8,0l8,-4l16,-18l12,-10l10,-14l12,-34l10,-18l0,-8l-2,-4l-4,-2l0,-12l-2,-2l-12,-4l-10,0l-2,-2l-10,0l-2,-2l-14,-2l-10,-4l-4,-4l4,-4l26,0l2,2l16,0l2,2l12,0l2,2l18,0l6,-4l0,-20l-2,-2zM573,477l2,-2l2,2l-2,2zM483,469l2,-2l2,2l-2,2zM461,435l2,-2l2,2l-2,2zM459,431l2,-2l2,2l-2,2zM455,425l2,-2l2,2l-2,2zM383,371l2,-2l2,2l-2,2zM407,321l2,-2l2,2l-2,2zM525,275l2,-2l2,2l-2,2z" fill="#C3E79F"/>
<path d="M611,271l-8,0l-8,-4l-10,0l-2,2l-6,-2l-4,4l-2,-2l-6,0l-2,2l-6,-2l-2,2l-2,-4l-4,0l-8,4l2,2l-2,2l-6,-2l-4,2l-4,-2l-2,2l-10,0l-2,4l-4,0l-28,14l-22,14l-26,8l-16,2l-8,6l-2,-2l-4,4l-10,0l2,2l-2,2l-6,-2l-8,4l2,2l-2,2l-8,-2l2,4l-2,2l-6,0l-2,2l-2,-2l-4,6l-2,-2l-4,2l-2,8l14,10l44,12l22,12l4,0l4,6l2,-2l8,2l4,4l-2,2l2,4l-2,6l2,2l-4,2l2,2l-2,4l8,4l2,8l4,2l4,8l-2,2l2,-2l4,4l-2,2l2,4l6,4l-2,2l6,4l0,4l2,-2l2,6l6,4l8,10l22,16l12,6l10,0l8,-4l20,-20l16,-22l0,-4l6,-12l0,-6l14,-28l0,-6l-4,-12l-6,-8l-44,-8l-18,-6l-6,-6l6,-4l32,0l2,2l16,0l2,2l14,0l2,2l16,0l4,-4l0,-78l-2,-6zM483,469l2,-2l2,2l-2,2zM461,435l2,-2l2,2l-2,2zM459,431l2,-2l2,2l-2,2zM455,425l2,-2l2,2l-2,2zM525,275l2,-2l2,2l-2,2z" fill="#DAF09A"/>
<path d="M605,273l-16,-2l-2,-2l-12,0l-2,2l-2,-2l-6,0l-2,2l-2,-2l-6,2l-2,-2l-8,0l-4,2l2,2l-2,2l-6,-2l-4,2l-4,-2l-2,2l-6,0l-36,20l-6,6l-24,14l-12,4l-8,0l-2,2l-10,0l-2,2l-22,4l-18,8l-6,0l-2,4l-6,0l-12,8l0,6l8,6l18,6l30,6l20,12l8,8l10,2l4,4l-2,2l2,4l-2,6l2,2l-4,2l2,2l0,6l6,2l2,8l4,2l4,8l-2,2l2,-2l4,4l-2,2l2,4l34,32l24,14l12,2l12,-8l20,-22l10,-20l4,-18l12,-28l-4,-14l-4,-4l-52,-12l-14,-6l-6,-6l8,-4l52,0l2,2l16,0l2,2l12,0l4,-2l2,-4l0,-34l2,-2l0,-36l-4,-6zM461,435l2,-2l2,2l-2,2zM459,431l2,-2l2,2l-2,2zM455,425l2,-2l2,2l-2,2zM525,275l2,-2l2,2l-2,2z" fill="#EBF7A0"/>
<path d="M599,277l-12,-4l-10,0l-2,-2l-34,0l2,2l-2,2l-6,-2l-8,4l-2,-2l-18,8l-18,12l-32,32l-8,4l-44,0l-2,2l-8,0l-28,10l-6,8l4,4l12,4l44,0l4,4l2,10l10,14l14,10l-2,2l2,4l-2,2l2,2l-2,2l2,2l-2,4l6,8l2,8l4,2l8,14l26,24l10,4l14,0l12,-6l18,-18l10,-22l2,-24l-2,-2l0,-10l-4,-10l-16,-8l-20,-6l-14,-10l6,-4l30,-4l14,-10l22,-6l20,-10l10,-10l4,-12l-2,-18zM461,435l2,-2l2,2l-2,2zM459,431l2,-2l2,2l-2,2zM455,425l2,-2l2,2l-2,2z" fill="#F5FBAF"/>
<path d="M457,361l-12,12l-2,12l2,6l6,6l-2,2l2,4l-2,2l4,12l6,8l0,4l4,2l4,10l18,16l10,4l8,0l18,-8l16,-18l6,-20l-2,-20l-6,-14l-16,-10l-4,0l-28,-12l-14,-2l-2,2zM595,291l-8,-10l-14,-6l-18,0l-2,-2l-20,2l-12,4l-18,10l-16,16l-2,10l6,8l16,8l36,0l2,-2l8,0l20,-6l10,-6l12,-14z" fill="#FFFFBF"/>
<path d="M463,373l-10,12l0,18l4,14l6,12l8,10l8,6l10,4l16,-2l10,-6l8,-8l6,-12l0,-22l-6,-14l-10,-10l-8,-4l-14,-4l-16,0zM581,291l-8,-8l-8,-4l-24,-2l-2,2l-8,0l-12,4l-12,8l-8,8l-2,8l8,10l4,0l6,4l12,0l2,2l22,-2l2,-2l6,0l18,-10l4,-6z" fill="#FFF3AA"/>
<path d="M483,377l-16,8l-4,6l-2,20l10,18l14,8l10,0l16,-8l6,-10l2,-12l-4,-14l-12,-12l-10,-4zM509,305l10,8l24,2l18,-6l8,-8l0,-6l-6,-8l-8,-4l-24,0l-16,8l-6,8z" fill="#FEE695"/>
<path d="M485,391l-8,4l-4,8l0,6l8,12l12,2l8,-4l4,-8l0,-6l-8,-12zM521,299l2,4l4,2l14,2l12,-6l0,-8l-8,-4l-10,0l-10,4z" fill="#FED480"/>
</g>
<path d="M558,474h.1M609,348h.1M239,431h.1M596,452h.1M182,448h.1M269,402h.1M574,300h.1M490,339h.1M280,351h.1M246,448h.1M194,324h.1M452,321h.1M317,400h.1M290,520h.1M503,301h.1M534,347h.1M107,485h.1M88,470h.1M237,512h.1M218,583h.1M166,463h.1M104,476h.1M203,482h.1M272,397h.1M287,498h.1M393,364h.1M564,333h.1M299,479h.1M521,427h.1M593,320h.1M260,399h.1M242,533h.1M179,398h.1M565,317h.1M584,295h.1M139,471h.1M262,465h.1M126,486h.1M239,433h.1M199,403h.1M227,498h.1M584,357h.1M477,345h.1M246,434h.1M156,383h.1M295,450h.1M160,431h.1M457,354h.1M483,356h.1M263,432h.1M219,452h.1M269,564h.1M425,330h.1M260,336h.1M187,532h.1M290,601h.1M478,349h.1M275,351h.1M516,430h.1M266,410h.1M258,547h.1M412,383h.1M209,442h.1M207,448h.1M208,505h.1M516,268h.1M287,512h.1M495,360h.1M448,324h.1M213,510h.1M501,298h.1M221,299h.1M254,319h.1M506,353h.1M573,372h.1M230,357h.1M248,548h.1M273,391h.1M258,383h.1M466,330h.1M246,445h.1M463,295h.1M278,373h.1M206,553h.1M176,386h.1M212,364h.1M315,388h.1M461,341h.1M200,383h.1M88,440h.1M570,333h.1M524,325h.1M100,370h.1M240,466h.1M429,326h.1M317,587h.1M510,304h.1M263,345h.1M162,389h.1M241,399h.1M251,428h.1M209,526h.1M111,390h.1M255,412h.1M178,410h.1M613,425h.1M252,525h.1M219,424h.1M543,369h.1M173,485h.1M310,602h.1M179,510h.1M254,505h.1M232,308h.1M283,391h.1M257,418h.1M521,370h.1M254,391h.1M225,549h.1M512,301h.1M619,372h.1M253,312h.1M231,493h.1M279,326h.1M118,423h.1M262,460h.1M254,399h.1M254,469h.1M471,336h.1M301,461h.1M292,465h.1M459,342h.1M473,456h.1M274,329h.1M581,312h.1M240,472h.1M539,316h.1M250,596h.1M277,441h.1M239,468h.1M469,356h.1M524,382h.1M187,517h.1M280,320h.1M255,408h.1M290,405h.1M544,336h.1M250,436h.1M262,422h.1M155,347h.1M588,353h.1M301,538h.1M193,331h.1M262,468h.1M190,485h.1M275,386h.1M515,510h.1M511,425h.1M235,437h.1M254,416h.1M413,375h.1M574,362h.1M158,417h.1M598,438h.1M264,396h.1M102,496h.1M578,291h.1M130,346h.1M257,428h.1M600,375h.1M279,540h.1M608,352h.1M260,422h.1M147,352h.1M267,453h.1M256,455h.1M255,461h.1M295,498h.1M242,432h.1M222,344h.1M250,352h.1M262,406h.1M493,359h.1M208,538h.1M253,458h.1M279,481h.1M133,510h.1M472,367h.1M278,391h.1M545,371h.1M256,442h.1M205,401h.1M530,409h.1M198,516h.1M256,384h.1M256,457h.1M245,483h.1M484,425h.1M503,346h.1M248,442h.1M235,427h.1M249,350h.1M506,340h.1M242,427h.1M274,482h.1M604,296h.1M494,459h.1M540,334h.1M510,366h.1M450,336h.1M628,304h.1M279,359h.1M185,434h.1M258,415h.1M288,512h.1M571,262h.1M218,347h.1M409,362h.1M276,362h.1M270,348h.1M378,369h.1M217,417h.1M229,427h.1M198,483h.1M240,429h.1M397,382h.1M570,375h.1M196,405h.1M206,454h.1M265,462h.1M217,337h.1M250,382h.1M276,426h.1M171,456h.1M263,421h.1M246,454h.1M304,390h.1M294,348h.1M210,340h.1M171,385h.1M247,446h.1M239,442h.1M130,471h.1M250,419h.1M444,305h.1M226,466h.1M294,360h.1M398,377h.1M121,353h.1M210,540h.1M164,450h.1M260,482h.1M237,438h.1M259,475h.1M513,356h.1M240,373h.1M554,424h.1M584,332h.1M262,374h.1M501,434h.1M236,413h.1M230,494h.1M256,438h.1M537,379h.1M286,389h.1M267,338h.1M629,362h.1M583,356h.1M247,471h.1M244,480h.1M411,325h.1M252,453h.1M131,439h.1M251,446h.1M274,437h.1M193,432h.1M250,388h.1M375,337h.1M211,466h.1M285,417h.1M116,395h.1M559,364h.1M451,333h.1M225,414h.1M187,542h.1M223,376h.1M442,327h.1M548,464h.1M553,396h.1M180,401h.1M122,432h.1M558,504h.1M505,345h.1M92,351h.1M540,468h.1M232,534h.1M616,417h.1M269,391h.1M139,335h.1M233,454h.1M288,408h.1M190,508h.1M272,392h.1M213,544h.1M202,385h.1M318,525h.1M256,432h.1M519,280h.1M248,525h.1M586,367h.1M275,405h.1M113,445h.1M234,479h.1M242,498h.1M210,380h.1M299,483h.1M195,414h.1M598,405h.1M219,324h.1M227,418h.1M250,494h.1M264,501h.1M322,558h.1M420,318h.1M243,399h.1M258,450h.1M244,372h.1M180,525h.1M161,512h.1M248,406h.1M193,496h.1M216,563h.1M464,359h.1M497,323h.1M139,371h.1M528,344h.1M149,335h.1M311,541h.1M143,393h.1M553,276h.1M183,497h.1M488,325h.1M262,443h.1M235,504h.1M244,515h.1M476,305h.1M205,549h.1M420,360h.1M481,312h.1M199,443h.1M273,360h.1M146,431h.1M436,393h.1M439,315h.1M149,498h.1M170,479h.1M288,556h.1M257,452h.1M272,338h.1M532,391h.1M309,356h.1M276,366h.1M440,315h.1M294,497h.1M253,462h.1M285,530h.1M537,345h.1M207,532h.1M586,291h.1M591,379h.1M259,434h.1M320,381h.1M181,531h.1M293,341h.1M250,424h.1M391,327h.1M233,420h.1M263,399h.1M245,340h.1M268,377h.1M491,316h.1M214,576h.1M416,327h.1M583,345h.1M283,399h.1M227,442h.1M572,501h.1M221,504h.1M220,506h.1M238,567h.1M172,409h.1M561,330h.1M248,293h.1M513,486h.1M228,466h.1M281,403h.1M467,313h.1M572,455h.1M211,497h.1M240,414h.1M257,416h.1M250,463h.1M168,513h.1M244,546h.1M148,344h.1M608,423h.1M110,489h.1M155,412h.1M227,571h.1M242,546h.1M226,531h.1M292,496h.1M303,434h.1M627,346h.1M239,354h.1M206,502h.1M199,485h.1M172,389h.1M239,493h.1M224,499h.1M237,305h.1M272,402h.1M229,329h.1M204,319h.1M210,524h.1M153,508h.1M484,325h.1M198,440h.1M263,435h.1M235,471h.1M501,284h.1M472,310h.1M168,417h.1M287,446h.1M487,345h.1M464,316h.1M459,345h.1M268,392h.1M429,330h.1M186,545h.1M249,401h.1M492,470h.1M280,332h.1M274,389h.1M233,346h.1M497,336h.1M158,419h.1M611,352h.1M545,315h.1M269,547h.1M242,420h.1M552,263h.1M241,492h.1M595,380h.1M154,368h.1M413,315h.1M585,267h.1M241,479h.1M233,509h.1M117,402h.1M272,601h.1M473,466h.1M290,383h.1M534,290h.1M142,510h.1M256,387h.1M236,301h.1M225,428h.1M122,346h.1M205,387h.1M473,342h.1M193,474h.1M208,361h.1M313,405h.1M282,449h.1M203,571h.1M505,329h.1M315,595h.1M260,435h.1M441,374h.1M354,337h.1M268,358h.1M234,450h.1M265,426h.1M265,493h.1M554,486h.1M499,368h.1M520,351h.1M234,390h.1M238,486h.1M589,435h.1M100,499h.1M109,424h.1M523,333h.1M537,402h.1M239,423h.1M240,363h.1M572,457h.1M219,538h.1M347,368h.1M212,519h.1M503,375h.1M228,519h.1M241,461h.1M492,348h.1M314,391h.1M248,414h.1M497,375h.1M253,366h.1M272,343h.1M70,362h.1M445,321h.1M244,300h.1M131,491h.1M278,413h.1M217,571h.1M583,359h.1M200,541h.1M185,396h.1M458,446h.1M272,514h.1M189,434h.1M211,452h.1M72,437h.1M527,439h.1M499,435h.1M252,541h.1M180,516h.1M280,473h.1M305,521h.1M276,603h.1M593,462h.1M260,511h.1M251,385h.1M287,418h.1M148,411h.1M123,470h.1M240,584h.1M494,394h.1M626,296h.1M236,430h.1M258,362h.1M166,519h.1M236,477h.1M539,281h.1M294,403h.1M216,474h.1M239,358h.1M148,336h.1M259,440h.1M141,469h.1M124,342h.1M233,488h.1M593,294h.1M247,431h.1M255,425h.1M539,450h.1M479,307h.1M165,391h.1M507,357h.1M174,506h.1M116,444h.1M550,440h.1M229,528h.1M542,470h.1M545,439h.1M242,486h.1M250,488h.1M228,483h.1M594,264h.1M596,334h.1M257,462h.1M567,486h.1M489,356h.1M93,414h.1M276,356h.1M234,521h.1M261,584h.1M166,372h.1M508,355h.1M260,404h.1M256,420h.1M202,343h.1M298,412h.1M231,478h.1M633,343h.1M297,609h.1M254,396h.1M519,330h.1M246,526h.1M279,348h.1M252,564h.1M244,466h.1M262,446h.1M253,386h.1M271,393h.1M274,364h.1M191,548h.1M246,426h.1M234,469h.1M145,439h.1M308,388h.1M546,373h.1M146,427h.1M298,373h.1M620,358h.1M504,372h.1M589,331h.1M253,556h.1M171,344h.1M205,454h.1M225,509h.1M247,302h.1M514,358h.1M271,361h.1M193,487h.1M273,373h.1M200,549h.1M264,363h.1M505,339h.1M308,581h.1M222,510h.1M257,436h.1M499,372h.1M206,536h.1M592,386h.1M467,398h.1M257,383h.1M323,380h.1M279,360h.1M266,420h.1M298,379h.1M262,571h.1M263,428h.1M538,306h.1M545,329h.1M507,404h.1M525,334h.1M260,353h.1M266,391h.1M599,403h.1M254,380h.1M305,501h.1M484,363h.1M176,406h.1M261,402h.1M541,402h.1M316,589h.1M141,483h.1M265,413h.1M227,416h.1M251,404h.1M374,342h.1M540,360h.1M453,333h.1M243,459h.1M289,365h.1M521,444h.1M503,322h.1M475,379h.1M297,558h.1M204,425h.1M220,459h.1M238,472h.1M513,363h.1M243,579h.1M246,534h.1M285,427h.1M223,498h.1M252,340h.1M313,561h.1M239,540h.1M228,429h.1M229,365h.1M251,400h.1M275,412h.1M116,356h.1M250,433h.1M175,514h.1M169,375h.1M568,472h.1M552,266h.1M508,327h.1M196,461h.1M273,454h.1M307,495h.1M266,331h.1M376,353h.1M549,338h.1M246,403h.1M323,217h.1M287,420h.1M210,489h.1M260,472h.1M259,453h.1M151,372h.1M215,382h.1M273,555h.1M266,386h.1M451,361h.1M606,316h.1M146,466h.1M144,334h.1M100,360h.1M319,558h.1M228,348h.1M241,462h.1M223,479h.1M240,408h.1M254,465h.1M176,403h.1M125,455h.1M515,439h.1M162,397h.1M494,449h.1M178,485h.1M210,455h.1M268,407h.1M510,289h.1M269,417h.1M143,455h.1M210,494h.1M221,508h.1M441,323h.1M215,527h.1M125,361h.1M504,465h.1M279,523h.1M79,396h.1M200,566h.1M254,437h.1M172,419h.1M283,350h.1M532,411h.1M446,317h.1M567,285h.1M189,344h.1M247,587h.1M202,430h.1M242,462h.1M184,408h.1M189,540h.1M236,464h.1M243,480h.1M555,357h.1M261,438h.1M267,455h.1M245,376h.1M247,548h.1M550,484h.1M530,343h.1M253,482h.1M449,368h.1M129,374h.1M256,511h.1M180,310h.1M199,350h.1M269,343h.1M304,545h.1M217,565h.1M263,362h.1M168,414h.1M221,521h.1M182,517h.1M594,349h.1M227,474h.1M166,343h.1M513,435h.1M201,345h.1M620,341h.1M490,356h.1M122,460h.1M479,395h.1M230,461h.1M267,369h.1M574,384h.1M226,389h.1M458,423h.1M153,417h.1M496,340h.1M272,376h.1M625,352h.1M301,217h.1M250,473h.1M526,515h.1M248,412h.1M382,324h.1M320,556h.1M287,400h.1M205,556h.1M179,468h.1M268,431h.1M227,373h.1M513,277h.1M274,375h.1M259,420h.1M141,511h.1M326,197h.1M638,367h.1M431,330h.1M199,478h.1M528,441h.1M481,448h.1M245,424h.1M161,495h.1M218,367h.1M430,360h.1M149,342h.1M225,521h.1M577,309h.1M288,396h.1M230,453h.1M307,562h.1M442,381h.1M162,365h.1M72,393h.1M253,316h.1M469,371h.1M267,598h.1M514,410h.1M281,585h.1M181,346h.1M220,530h.1M597,470h.1M453,360h.1M230,517h.1M185,467h.1M198,324h.1M246,440h.1M396,372h.1M151,433h.1M243,303h.1M180,495h.1M565,339h.1M251,458h.1M558,500h.1M242,418h.1M462,429h.1M529,379h.1M578,365h.1M155,365h.1M89,353h.1M245,430h.1M438,385h.1M137,342h.1M248,544h.1M574,471h.1M263,405h.1M626,277h.1M542,484h.1M541,358h.1M457,343h.1M457,344h.1M222,514h.1M286,405h.1M279,407h.1M190,399h.1M160,384h.1M233,486h.1M560,263h.1M464,457h.1M271,376h.1M256,425h.1M269,464h.1M222,534h.1M231,583h.1M492,390h.1M270,413h.1M489,427h.1M209,519h.1M520,382h.1M261,429h.1M211,469h.1M522,369h.1M238,436h.1M561,354h.1M553,345h.1M542,421h.1M448,298h.1M283,354h.1M262,431h.1M508,416h.1M134,444h.1M290,451h.1M229,416h.1M499,394h.1M249,434h.1M229,504h.1M232,516h.1M215,480h.1M529,328h.1M605,268h.1M263,488h.1M616,355h.1M535,345h.1M258,398h.1M212,413h.1M531,371h.1M230,473h.1M155,476h.1M223,573h.1M274,392h.1M212,477h.1M212,520h.1M541,308h.1M254,500h.1M564,313h.1M174,384h.1M501,363h.1M252,589h.1M630,295h.1M261,421h.1M136,489h.1M231,545h.1M159,512h.1M464,340h.1M491,441h.1M438,332h.1M240,515h.1M239,499h.1M233,471h.1M438,364h.1M482,284h.1M157,441h.1M147,406h.1M276,404h.1M267,402h.1M267,378h.1M571,347h.1M77,408h.1M477,450h.1M123,417h.1M524,466h.1M165,324h.1M152,474h.1M192,524h.1M524,394h.1M626,341h.1M390,330h.1M535,476h.1M515,308h.1M574,283h.1M89,453h.1M236,408h.1M489,334h.1M184,500h.1M159,442h.1M211,348h.1M238,410h.1M410,375h.1M442,387h.1M254,445h.1M193,400h.1M289,443h.1M461,317h.1M242,569h.1M483,323h.1M459,346h.1M175,413h.1M474,341h.1M190,533h.1M247,508h.1M107,389h.1M283,437h.1M291,356h.1M606,366h.1M254,434h.1M315,524h.1M155,348h.1M222,570h.1M166,428h.1M294,459h.1M534,276h.1M290,481h.1M294,605h.1M197,545h.1M534,407h.1M246,550h.1M264,438h.1M252,478h.1M254,361h.1M322,210h.1M474,319h.1M236,426h.1M559,350h.1M625,356h.1M504,437h.1M247,416h.1M148,494h.1M266,398h.1M486,293h.1M247,419h.1M113,504h.1M271,342h.1M476,360h.1M507,388h.1M562,331h.1M603,309h.1M202,514h.1M78,459h.1M457,325h.1M245,429h.1M423,382h.1M272,355h.1M264,488h.1M272,370h.1M255,471h.1M423,381h.1M206,326h.1M308,387h.1M623,325h.1M103,434h.1M551,379h.1M242,445h.1M273,366h.1M276,390h.1M238,538h.1M300,393h.1M174,370h.1M280,477h.1M460,429h.1M531,361h.1M122,457h.1M128,455h.1M441,407h.1M301,586h.1M177,466h.1M515,361h.1M506,333h.1M404,314h.1M264,409h.1M265,403h.1M585,381h.1M181,484h.1M512,343h.1M177,464h.1M246,424h.1M261,427h.1M243,453h.1M249,346h.1M142,436h.1M568,364h.1M288,424h.1M220,303h.1M259,403h.1M497,405h.1M276,382h.1M256,475h.1M179,480h.1M313,604h.1M245,501h.1M571,321h.1M115,418h.1M341,363h.1M240,347h.1M270,487h.1M242,475h.1M246,393h.1M256,495h.1M479,470h.1M265,404h.1M270,445h.1M216,493h.1M198,424h.1M189,447h.1M522,462h.1M123,452h.1M153,455h.1M479,371h.1M548,304h.1M462,445h.1M239,396h.1M236,312h.1M485,279h.1M562,448h.1M513,375h.1M244,452h.1M554,345h.1M235,328h.1M116,450h.1M217,510h.1M148,505h.1M274,229h.1M231,486h.1M238,471h.1M250,491h.1M288,354h.1M560,346h.1M259,332h.1M284,486h.1M513,379h.1M625,326h.1M540,302h.1M272,416h.1M224,447h.1M264,411h.1M464,352h.1M269,418h.1M267,388h.1M286,496h.1M534,353h.1M287,429h.1M253,416h.1M179,363h.1M246,415h.1M240,377h.1M273,590h.1M432,317h.1M203,453h.1M92,492h.1M238,474h.1M501,478h.1M312,568h.1M266,384h.1M244,433h.1M249,371h.1M543,343h.1M504,459h.1M279,345h.1M137,479h.1M196,531h.1M523,319h.1M262,480h.1M317,374h.1M196,424h.1M536,298h.1M563,323h.1M308,424h.1M525,278h.1M247,465h.1M253,436h.1M443,362h.1M292,221h.1M529,453h.1M279,395h.1M618,380h.1M578,482h.1M521,509h.1M302,222h.1M243,351h.1M89,380h.1M239,481h.1M242,437h.1M477,414h.1M482,355h.1M264,423h.1M595,406h.1M205,477h.1M255,410h.1M492,306h.1M236,342h.1M578,347h.1M600,429h.1M516,479h.1M584,469h.1M392,345h.1M191,483h.1M190,526h.1M244,351h.1M514,399h.1M447,332h.1M282,384h.1M505,404h.1M479,440h.1M152,436h.1M482,348h.1M472,281h.1M392,361h.1M560,307h.1M123,353h.1M255,296h.1M605,390h.1M475,351h.1M261,493h.1M129,364h.1M194,361h.1M584,430h.1M258,470h.1M239,461h.1M262,560h.1M291,548h.1M593,364h.1M510,346h.1M263,519h.1M178,412h.1M209,511h.1M139,377h.1M271,366h.1M202,313h.1M234,431h.1M452,364h.1M265,471h.1M270,452h.1M235,446h.1M443,411h.1M607,351h.1M270,417h.1M479,439h.1M396,324h.1M254,423h.1M454,344h.1M487,405h.1M559,334h.1M242,440h.1M524,495h.1M307,438h.1M243,431h.1M241,482h.1M555,296h.1M102,463h.1M74,450h.1M188,459h.1M249,405h.1M118,360h.1M505,349h.1M221,487h.1M592,298h.1M291,371h.1M149,372h.1M152,449h.1M108,366h.1M278,482h.1M91,475h.1M217,404h.1M260,374h.1M219,358h.1M515,356h.1M527,402h.1M592,385h.1M213,354h.1M601,285h.1M295,221h.1M148,502h.1M192,376h.1M239,427h.1M246,432h.1M96,435h.1M212,433h.1M238,302h.1M298,421h.1M241,308h.1M509,333h.1M295,437h.1M285,469h.1M230,351h.1M289,385h.1M247,505h.1M622,358h.1M142,390h.1M178,328h.1M577,339h.1M246,423h.1M381,359h.1M211,425h.1M280,604h.1M149,449h.1M221,542h.1M579,277h.1M246,462h.1M219,375h.1M289,211h.1M461,330h.1M259,462h.1M260,459h.1M466,336h.1M579,455h.1M274,411h.1M437,299h.1M475,413h.1M242,320h.1M259,361h.1M244,545h.1M110,342h.1M216,454h.1M157,359h.1M267,408h.1M546,380h.1M192,354h.1M606,331h.1M189,436h.1M224,478h.1M295,379h.1M264,336h.1M262,470h.1M512,395h.1M194,430h.1M236,411h.1M237,493h.1M243,311h.1M267,425h.1M231,552h.1M253,493h.1M237,455h.1M134,366h.1M180,435h.1M192,357h.1M277,324h.1M310,524h.1M306,496h.1M477,379h.1M184,526h.1M128,449h.1M557,281h.1M257,411h.1M504,282h.1M601,325h.1M221,528h.1M261,320h.1M289,529h.1M611,397h.1M235,457h.1M225,517h.1M461,452h.1M306,503h.1M275,558h.1M271,471h.1M264,569h.1M258,378h.1M576,446h.1M457,393h.1M275,423h.1M441,367h.1M488,340h.1M150,405h.1M131,375h.1M248,307h.1M536,319h.1M516,349h.1M253,446h.1M228,367h.1M475,295h.1M160,503h.1M280,344h.1M192,522h.1M170,489h.1M411,365h.1M555,326h.1M466,344h.1M516,282h.1M86,443h.1M289,349h.1M490,345h.1M71,406h.1M107,446h.1M270,356h.1M449,316h.1M454,364h.1M614,293h.1M289,599h.1M500,427h.1M138,347h.1M525,353h.1M249,454h.1M546,440h.1M229,562h.1M272,334h.1M84,412h.1M496,469h.1M261,389h.1M206,444h.1M509,370h.1M236,473h.1M562,325h.1M164,444h.1M577,435h.1M264,377h.1M257,414h.1M277,520h.1M306,528h.1M341,356h.1M266,405h.1M456,366h.1M263,377h.1M251,461h.1M238,314h.1M144,425h.1M231,466h.1M318,589h.1M256,466h.1M154,427h.1M508,328h.1M175,357h.1M237,517h.1M281,362h.1M568,353h.1M285,452h.1M240,510h.1M288,515h.1M446,363h.1M270,396h.1M600,391h.1M488,479h.1M273,530h.1M276,576h.1M234,491h.1M526,332h.1M275,366h.1M503,389h.1M209,528h.1M556,352h.1M249,494h.1M101,366h.1M302,400h.1M454,372h.1M460,416h.1M524,341h.1M272,350h.1M513,353h.1M258,422h.1M203,309h.1M295,592h.1M267,439h.1M292,386h.1M248,441h.1M286,221h.1M517,293h.1M629,353h.1M134,355h.1M416,387h.1M448,353h.1M288,416h.1M283,410h.1M284,370h.1M215,428h.1M257,338h.1M417,335h.1M251,415h.1M273,382h.1M236,403h.1M500,355h.1M288,445h.1M218,298h.1M198,462h.1M203,525h.1M160,375h.1M181,343h.1M311,393h.1M277,569h.1M167,369h.1M210,332h.1M368,335h.1M252,393h.1M497,352h.1M277,372h.1M179,433h.1M255,523h.1M319,372h.1M358,335h.1M207,490h.1M294,465h.1M173,398h.1M281,424h.1M301,540h.1M112,448h.1M620,416h.1M385,378h.1M499,328h.1M497,315h.1M524,355h.1M284,386h.1M421,316h.1M260,508h.1M156,495h.1M277,398h.1M243,511h.1M223,492h.1M550,274h.1M251,423h.1M196,488h.1M135,420h.1M272,330h.1M265,464h.1M253,419h.1M254,389h.1M166,402h.1M499,274h.1M589,442h.1M238,418h.1M77,434h.1M573,370h.1M292,376h.1M119,460h.1M154,478h.1M144,417h.1M486,468h.1M491,464h.1M255,324h.1M440,330h.1M281,401h.1M216,470h.1M268,451h.1M303,422h.1M213,441h.1M169,494h.1M575,353h.1M549,287h.1M552,346h.1M574,342h.1M208,437h.1M215,470h.1" stroke="#828282" stroke-width="3" stroke-linecap="round" fill="none"/>
<path d="M264,216h.1M376,234h.1M354,212h.1M224,286h.1M248,266h.1M308,246h.1M316,612h.1M276,184h.1M336,170h.1M380,228h.1M272,614h.1M362,196h.1M310,188h.1M614,440h.1M328,160h.1M258,212h.1M274,612h.1M304,468h.1M316,188h.1M326,396h.1M188,276h.1M642,334h.1M372,206h.1M326,232h.1M358,226h.1M178,308h.1M354,210h.1M178,290h.1M396,184h.1M252,228h.1M226,256h.1M372,216h.1M272,200h.1M350,136h.1M204,572h.1M242,196h.1M314,256h.1M222,256h.1M360,216h.1M398,164h.1M418,184h.1M376,164h.1M240,200h.1M418,298h.1M288,242h.1M234,284h.1M188,226h.1M234,228h.1M410,146h.1M244,224h.1M286,254h.1M318,412h.1M164,252h.1M242,250h.1M268,262h.1M238,242h.1M306,184h.1M392,144h.1M252,210h.1M308,436h.1M318,512h.1M390,156h.1M406,152h.1M406,162h.1M372,140h.1M270,242h.1M372,234h.1M52,198h.1M200,260h.1M418,186h.1M322,226h.1M62,216h.1M240,264h.1M406,178h.1M248,246h.1M266,222h.1M260,242h.1M256,290h.1M332,242h.1M196,298h.1M114,216h.1M142,514h.1M132,242h.1M254,266h.1M272,268h.1M264,244h.1M324,230h.1M184,548h.1M210,280h.1M296,260h.1M84,256h.1M356,218h.1M406,182h.1M284,262h.1M388,168h.1M56,240h.1M422,162h.1M456,286h.1M322,220h.1M324,398h.1M222,282h.1M320,184h.1M258,242h.1M386,176h.1M140,290h.1M384,222h.1M354,228h.1M386,172h.1M400,182h.1M372,238h.1M62,206h.1M266,218h.1M258,192h.1M174,274h.1M344,162h.1M372,126h.1M362,218h.1M318,518h.1M368,230h.1M218,268h.1M242,220h.1M642,304h.1M258,246h.1M438,290h.1M168,248h.1M120,282h.1M426,176h.1M394,138h.1M640,310h.1M380,190h.1M356,170h.1M614,444h.1M234,218h.1M302,168h.1M250,234h.1M642,314h.1M364,232h.1M396,198h.1M168,296h.1M388,202h.1M326,158h.1M226,252h.1M170,284h.1M284,208h.1M310,230h.1M408,198h.1M172,246h.1M308,440h.1M216,590h.1M272,278h.1M336,200h.1M282,236h.1M312,242h.1M286,204h.1M194,564h.1M232,234h.1M336,374h.1M354,226h.1M422,150h.1M136,274h.1M404,210h.1M254,274h.1M194,282h.1M276,198h.1M382,132h.1M300,188h.1M300,340h.1M344,222h.1M378,130h.1M384,210h.1M228,226h.1M372,224h.1M294,266h.1M326,192h.1M210,246h.1M388,246h.1M332,146h.1M306,480h.1M390,222h.1M302,246h.1M342,214h.1M136,514h.1M376,150h.1M400,194h.1M234,254h.1M298,248h.1M272,240h.1M322,182h.1M212,286h.1M292,248h.1M224,252h.1M392,182h.1M338,222h.1M338,254h.1M376,192h.1M402,186h.1M398,246h.1M332,196h.1M360,238h.1M632,372h.1M262,296h.1M324,218h.1M54,228h.1M352,192h.1M254,264h.1M348,158h.1M398,248h.1M602,466h.1M272,244h.1M58,218h.1M272,266h.1M382,176h.1M124,238h.1M82,224h.1M274,264h.1M182,266h.1M216,246h.1M228,248h.1M194,566h.1M272,616h.1M640,298h.1M172,312h.1M406,144h.1M350,212h.1M248,602h.1M244,284h.1M228,258h.1M274,236h.1M44,208h.1M268,198h.1M152,514h.1M342,194h.1M316,420h.1M410,158h.1M298,254h.1M330,170h.1M302,344h.1M208,580h.1M362,230h.1M274,274h.1M620,430h.1M328,380h.1M156,516h.1M398,142h.1M388,240h.1M378,244h.1M262,222h.1M396,132h.1M266,220h.1M374,214h.1M394,158h.1M376,170h.1M154,314h.1M402,176h.1M226,590h.1M324,526h.1M232,220h.1M390,160h.1M274,198h.1M358,178h.1M296,264h.1M126,294h.1M208,254h.1M390,230h.1M278,262h.1M234,230h.1M416,172h.1M102,256h.1M422,184h.1M252,198h.1M190,260h.1M196,244h.1M282,178h.1M332,192h.1M352,196h.1M382,148h.1M248,214h.1M388,194h.1M240,280h.1M264,256h.1M282,270h.1M124,510h.1M362,148h.1M300,338h.1M380,252h.1M418,148h.1M396,140h.1M328,236h.1M374,220h.1M278,206h.1M330,166h.1M348,198h.1M374,236h.1M346,190h.1M146,296h.1M618,430h.1M410,180h.1M310,248h.1M286,194h.1M320,222h.1M266,250h.1M336,370h.1M324,266h.1M232,256h.1M314,234h.1M402,168h.1M372,220h.1M320,170h.1M262,206h.1M316,190h.1M282,246h.1M598,472h.1M332,216h.1M236,226h.1M128,292h.1M338,190h.1M222,240h.1M250,264h.1M366,172h.1M328,242h.1M382,154h.1M302,190h.1M286,252h.1M216,242h.1M620,380h.1M286,246h.1M402,212h.1M206,260h.1M208,292h.1M184,556h.1M344,192h.1M386,198h.1M302,170h.1M266,186h.1M160,264h.1M86,254h.1M242,244h.1M620,376h.1M282,210h.1M354,208h.1M366,144h.1M88,226h.1M336,166h.1M302,196h.1M248,274h.1M108,274h.1M226,254h.1M218,266h.1M610,456h.1M288,246h.1M104,226h.1M312,172h.1M250,228h.1M348,142h.1M342,376h.1M372,228h.1M376,178h.1M376,174h.1M184,266h.1M392,186h.1M200,292h.1M362,244h.1M386,140h.1M354,140h.1M372,154h.1M206,256h.1M376,248h.1M390,232h.1M304,228h.1M252,292h.1M204,280h.1M326,374h.1M398,208h.1M132,294h.1M218,224h.1M308,352h.1M300,182h.1M344,178h.1M376,214h.1M270,610h.1M300,248h.1M312,616h.1M372,192h.1M390,154h.1M262,230h.1M176,294h.1M364,142h.1M342,222h.1M284,256h.1M326,224h.1M272,190h.1M326,350h.1M358,218h.1M272,242h.1M374,194h.1M270,246h.1M236,252h.1M294,238h.1M284,194h.1M390,206h.1M316,242h.1M314,230h.1M352,134h.1M376,142h.1M284,250h.1M66,244h.1M408,144h.1M326,194h.1M270,200h.1M138,234h.1M82,232h.1M360,174h.1M254,232h.1M390,188h.1M232,266h.1M416,146h.1M258,266h.1M334,230h.1M356,152h.1M254,226h.1M404,134h.1M300,200h.1M220,590h.1M316,154h.1M330,380h.1M168,254h.1M326,178h.1M638,368h.1M392,228h.1M292,204h.1M290,176h.1M220,592h.1M264,220h.1M284,242h.1M256,240h.1M158,244h.1M374,166h.1M332,168h.1M326,226h.1M640,302h.1M258,264h.1M382,236h.1M286,174h.1M310,166h.1M182,236h.1M408,206h.1M366,208h.1M282,614h.1M308,188h.1M372,166h.1M250,290h.1M268,206h.1M618,438h.1M378,142h.1M612,446h.1M388,184h.1M264,608h.1M404,164h.1M358,166h.1M148,516h.1M266,226h.1M138,514h.1M232,228h.1M304,466h.1M378,214h.1M416,138h.1M388,248h.1M332,210h.1M362,200h.1M392,146h.1M392,250h.1M408,162h.1M372,186h.1M116,278h.1M316,236h.1M274,258h.1M144,258h.1M342,132h.1M378,188h.1M334,194h.1M276,238h.1M108,258h.1M88,260h.1M224,588h.1M240,214h.1M204,256h.1M202,282h.1M292,180h.1M304,250h.1M640,350h.1M300,618h.1M346,234h.1M262,610h.1M308,462h.1M84,216h.1M344,132h.1M402,196h.1M334,178h.1M342,176h.1M64,192h.1M152,252h.1M638,340h.1M408,166h.1M318,164h.1M338,166h.1M328,214h.1M400,144h.1M282,276h.1M296,202h.1M220,244h.1M310,492h.1M384,148h.1M276,242h.1M250,272h.1M326,228h.1M348,234h.1M304,344h.1M380,140h.1M122,510h.1M354,186h.1M116,254h.1M262,254h.1M218,190h.1M400,268h.1M622,378h.1M338,180h.1M324,182h.1M330,592h.1M322,366h.1M332,564h.1M96,232h.1M616,436h.1M168,278h.1M274,242h.1M392,244h.1M78,258h.1M336,200h.1M262,610h.1M80,228h.1M184,208h.1M106,280h.1M170,120h.1M124,242h.1M648,296h.1M192,206h.1M420,194h.1M344,138h.1M254,252h.1M242,42h.1M164,182h.1M406,216h.1M394,296h.1M376,314h.1M220,80h.1M250,260h.1M356,306h.1M190,134h.1M260,198h.1M200,138h.1M262,256h.1M228,594h.1M230,232h.1M192,182h.1M366,216h.1M276,258h.1M284,276h.1M350,220h.1M316,428h.1M342,166h.1M174,122h.1M44,196h.1M216,176h.1M60,246h.1M168,104h.1M258,266h.1M346,170h.1M254,64h.1M214,64h.1M376,174h.1M208,104h.1M624,410h.1M268,270h.1M330,250h.1M222,192h.1M374,184h.1M266,234h.1M416,142h.1M402,148h.1M382,222h.1M88,202h.1M102,252h.1M240,132h.1M398,260h.1M182,136h.1M200,270h.1M342,206h.1M364,234h.1M232,246h.1M322,530h.1M260,244h.1M418,154h.1M258,58h.1M210,148h.1M222,214h.1M70,232h.1M158,260h.1M300,236h.1M328,360h.1M404,144h.1M156,112h.1M156,286h.1M382,244h.1M134,278h.1M130,268h.1M242,56h.1M326,186h.1M164,274h.1M170,82h.1M230,108h.1M410,198h.1M200,158h.1M298,254h.1M362,290h.1M66,220h.1M204,264h.1M358,184h.1M336,300h.1M386,308h.1M428,290h.1M360,224h.1M324,256h.1M328,552h.1M294,254h.1M166,260h.1M200,120h.1M324,254h.1M150,100h.1M172,224h.1M262,216h.1M176,226h.1" stroke="#5757B6" stroke-width="2.8" stroke-linecap="round" fill="none"/>
</g></g>
<g transform="translate(0,380.0) scale(0.25549)">
<use href="#sil" fill="#848484"/>
<g clip-path="url(#silc)"><g filter="url(#bl)">
<path d="M637,279l-2,2l-2,-4l-2,2l-4,-2l-2,-4l-2,2l-2,-4l-2,2l-8,-4l-2,2l-2,-2l-4,2l-14,-6l-6,4l-6,-2l-4,4l-2,-2l-6,0l-2,2l-6,-2l-2,2l-2,-4l-4,0l-8,4l2,2l-2,2l-6,-2l-4,2l-4,-2l-2,2l-10,0l-2,4l-6,2l-2,-2l0,2l-6,4l-2,-2l-14,2l-2,-4l-16,14l-12,6l-30,4l0,4l-4,2l-8,10l-2,-2l-6,6l-10,-2l2,4l-2,2l-10,-2l0,2l-4,2l2,2l-2,2l-8,-2l2,4l-2,2l-6,0l-2,2l-2,-2l-4,6l-6,-2l0,4l-6,6l-4,-2l4,8l4,2l6,-2l4,4l2,-2l4,6l4,0l4,4l10,0l10,8l12,4l10,-2l4,2l2,4l6,-2l6,2l4,6l2,-2l8,2l4,4l-2,2l2,4l-2,6l2,2l-4,2l2,2l-2,4l8,4l2,8l4,2l4,8l-2,2l2,-2l4,4l-2,2l2,4l6,4l-2,2l6,4l0,4l2,-2l2,2l2,8l4,0l6,6l-2,2l12,8l2,6l4,-2l2,4l2,-2l4,6l2,-2l4,2l2,4l2,-2l2,2l-2,4l4,2l-2,2l2,-2l10,4l4,-6l2,2l4,-4l4,2l0,-4l4,-6l6,-4l-2,-2l2,-2l-2,-4l2,-2l8,2l-2,-4l2,-4l6,-4l-2,-2l16,-6l4,-4l-2,-6l14,-10l-2,-2l2,-4l6,-4l4,-6l0,-6l2,-2l-2,-4l2,-2l-2,-4l-4,-2l2,-6l-8,0l-2,-2l2,-2l-8,-4l0,-16l4,-4l8,0l2,-2l4,2l4,-6l8,2l-2,-4l2,-6l-2,-2l4,-4l-2,-2l2,-2l0,-12l2,-2l-2,-6l2,-4l-2,-4l4,-8l0,-14l-4,-6l2,-2l0,-10l-2,-2zM559,497l2,-2l2,2l-2,2zM573,477l2,-2l2,2l-2,2zM483,469l2,-2l2,2l-2,2zM593,465l2,-2l2,2l-2,2zM601,451l2,-2l2,2l-2,2zM461,435l2,-2l2,2l-2,2zM459,431l2,-2l2,2l-2,2zM455,425l2,-2l2,2l-2,2zM607,401l2,-2l2,2l-2,2zM601,379l2,-2l2,2l-2,2zM397,379l2,-2l2,2l-2,2zM383,371l2,-2l2,2l-2,2zM631,357l2,-2l2,2l-2,2zM407,321l2,-2l2,2l-2,2zM525,275l2,-2l2,2l-2,2zM168,90h4v4h-4zM249,53l-2,2l0,6l6,0l2,-4zM251,57l2,-2l2,2l-2,2z" fill="#3389BC"/>
<path d="M637,279l-2,2l-2,-4l-2,2l-4,-2l-2,-4l-2,2l-2,-4l-2,2l-8,-4l-2,2l-2,-2l-4,2l-14,-6l-6,4l-6,-2l-4,4l-2,-2l-6,0l-2,2l-6,-2l-2,2l-2,-4l-4,0l-8,4l2,2l-2,2l-6,-2l-4,2l-4,-2l-2,2l-10,0l-2,4l-6,2l-2,-2l0,2l-6,4l-2,-2l-16,2l-14,12l-12,6l-32,4l-12,14l-2,-2l-6,6l-10,-2l2,4l-2,2l-10,-2l0,2l-4,2l2,2l-2,2l-8,-2l2,4l-2,2l-6,0l-2,2l-2,-2l-4,6l-6,-2l0,4l-6,8l4,6l4,-2l6,4l2,-2l4,6l4,0l4,4l10,0l10,8l12,4l10,-2l4,2l2,4l6,-2l6,2l4,6l2,-2l8,2l4,4l-2,2l2,4l-2,6l2,2l-4,2l2,2l-2,4l8,4l2,8l4,2l4,8l-2,2l2,-2l4,4l-2,2l2,4l6,4l-2,2l6,4l0,4l2,-2l2,2l2,8l4,0l6,6l-2,2l12,8l2,6l4,-2l2,4l2,-2l4,6l2,-2l4,2l2,4l2,-2l2,2l-2,4l4,2l-2,2l2,-2l10,4l4,-6l2,2l4,-4l4,2l0,-4l4,-6l6,-4l-2,-2l2,-2l-2,-4l2,-2l8,2l-2,-4l2,-4l6,-4l-2,-2l16,-6l4,-4l-2,-6l14,-10l-2,-2l2,-4l6,-4l4,-6l0,-6l2,-2l-2,-4l2,-2l-2,-4l-4,-2l2,-6l-8,0l-2,-2l2,-2l-8,-4l0,-16l-6,-2l2,-2l16,0l2,-2l4,2l4,-6l8,2l-2,-4l2,-6l-2,-2l4,-4l-2,-2l2,-2l0,-12l2,-2l-2,-6l2,-4l-2,-4l4,-8l0,-14l-4,-6l2,-2l0,-10l-2,-2zM559,497l2,-2l2,2l-2,2zM573,477l2,-2l2,2l-2,2zM483,469l2,-2l2,2l-2,2zM593,465l2,-2l2,2l-2,2zM601,451l2,-2l2,2l-2,2zM461,435l2,-2l2,2l-2,2zM459,431l2,-2l2,2l-2,2zM455,425l2,-2l2,2l-2,2zM607,401l2,-2l2,2l-2,2zM397,379l2,-2l2,2l-2,2zM383,371l2,-2l2,2l-2,2zM631,357l2,-2l2,2l-2,2zM515,339l2,-2l8,2l6,8l-2,2l-6,0l-8,-6zM407,321l2,-2l2,2l-2,2zM525,275l2,-2l2,2l-2,2zM168,90h2v2h-2zM249,55l0,4l4,2l2,-4zM251,57l2,-2l2,2l-2,2z" fill="#479FB3"/>
<path d="M637,279l-2,2l-2,-4l-2,2l-4,-2l-2,-4l-2,2l-2,-4l-2,2l-8,-4l-2,2l-2,-2l-4,2l-14,-6l-6,4l-6,-2l-4,4l-2,-2l-6,0l-2,2l-6,-2l-2,2l-2,-4l-4,0l-8,4l2,2l-2,2l-6,-2l-4,2l-4,-2l-2,2l-10,0l-2,4l-6,2l-2,-2l0,2l-6,4l-2,-2l-8,0l-24,20l-12,4l-10,0l-2,2l-18,0l-4,2l-8,10l-2,-2l-6,6l-10,-2l2,4l-2,2l-10,-2l0,2l-4,2l2,2l-2,2l-8,-2l2,4l-2,2l-6,0l-2,2l-2,-2l-4,6l-2,-2l-4,2l-2,10l10,8l2,-2l4,6l4,0l4,4l10,0l10,8l12,4l10,-2l4,2l2,4l6,-2l6,2l4,6l2,-2l8,2l4,4l-2,2l2,4l-2,6l2,2l-4,2l2,2l-2,4l8,4l2,8l4,2l4,8l-2,2l2,-2l4,4l-2,2l2,4l6,4l-2,2l6,4l0,4l2,-2l2,2l2,8l4,0l6,6l-2,2l12,8l2,6l4,-2l2,4l2,-2l4,6l2,-2l4,2l2,4l2,-2l2,2l-2,4l4,2l-2,2l2,-2l10,4l4,-6l2,2l4,-4l4,2l0,-4l4,-6l6,-4l-2,-2l2,-2l-2,-4l2,-2l8,2l-2,-4l2,-4l6,-4l-2,-2l16,-6l4,-4l-2,-6l14,-10l-2,-2l2,-4l6,-4l4,-6l0,-6l2,-2l-2,-4l2,-2l-2,-4l-4,-2l2,-6l-8,0l-2,-2l2,-2l-8,-4l0,-14l-20,-2l-2,-2l-6,0l-4,-4l2,-2l6,0l2,2l42,0l2,-4l8,2l-2,-4l2,-6l-2,-2l4,-4l-2,-2l2,-2l0,-12l2,-2l-2,-6l2,-4l-2,-4l4,-8l0,-14l-4,-6l2,-2l0,-10l-2,-2zM559,497l2,-2l2,2l-2,2zM573,477l2,-2l2,2l-2,2zM483,469l2,-2l2,2l-2,2zM593,465l2,-2l2,2l-2,2zM601,451l2,-2l2,2l-2,2zM461,435l2,-2l2,2l-2,2zM459,431l2,-2l2,2l-2,2zM455,425l2,-2l2,2l-2,2zM607,401l2,-2l2,2l-2,2zM397,379l2,-2l2,2l-2,2zM383,371l2,-2l2,2l-2,2zM631,357l2,-2l2,2l-2,2zM501,331l2,-2l12,0l14,6l14,12l0,6l-4,4l-10,0l-14,-6l-14,-14zM407,321l2,-2l2,2l-2,2zM525,275l2,-2l2,2l-2,2z" fill="#5CB6AA"/>
<path d="M621,271l-2,2l-8,-4l-2,2l-2,-2l-4,2l-14,-6l-6,4l-6,-2l-4,4l-2,-2l-6,0l-2,2l-6,-2l-2,2l-2,-4l-4,0l-8,4l2,2l-2,2l-6,-2l-4,2l-4,-2l-2,2l-10,0l-2,4l-6,2l-2,-2l0,2l-6,4l-2,-2l-6,2l-20,20l-8,4l-44,4l-4,2l-4,6l-2,-2l-6,6l-10,-2l2,4l-2,2l-10,-2l0,2l-4,2l2,2l-2,2l-8,-2l2,4l-2,2l-10,2l-6,8l0,6l8,10l10,6l10,0l10,8l12,4l10,-2l4,2l2,4l6,-2l6,2l4,6l2,-2l8,2l4,4l-2,2l2,4l-2,6l2,2l-4,2l2,2l-2,4l8,4l2,8l4,2l4,8l-2,2l2,-2l4,4l-2,2l2,4l6,4l-2,2l6,4l0,4l2,-2l2,2l2,8l4,0l6,6l-2,2l12,8l2,6l4,-2l2,4l2,-2l4,6l2,-2l4,2l2,4l2,-2l2,2l-2,4l4,2l-2,2l2,-2l10,4l4,-6l2,2l4,-4l4,2l0,-4l4,-6l6,-4l-2,-2l2,-2l-2,-4l2,-2l8,2l-2,-4l2,-4l6,-4l-2,-2l16,-6l4,-4l-2,-6l14,-10l-2,-2l2,-4l6,-4l4,-6l0,-6l2,-2l-2,-4l2,-2l-2,-4l-4,-2l2,-6l-8,0l-2,-2l2,-2l-8,-4l0,-14l-28,-2l-18,-6l2,-4l34,2l2,2l28,0l2,-4l8,2l-2,-4l2,-6l-2,-2l4,-4l-2,-2l2,-2l0,-12l2,-2l-2,-6l2,-4l-2,-4l4,-8l0,-14l-4,-6l2,-2l0,-10l-2,-2l2,-4l-2,2l-2,-4l-2,2l-4,-2l-2,-4l-2,2zM559,497l2,-2l2,2l-2,2zM573,477l2,-2l2,2l-2,2zM483,469l2,-2l2,2l-2,2zM593,465l2,-2l2,2l-2,2zM601,451l2,-2l2,2l-2,2zM461,435l2,-2l2,2l-2,2zM459,431l2,-2l2,2l-2,2zM455,425l2,-2l2,2l-2,2zM607,401l2,-2l2,2l-2,2zM397,379l2,-2l2,2l-2,2zM383,371l2,-2l2,2l-2,2zM631,357l2,-2l2,2l-2,2zM489,327l6,-6l4,0l26,8l14,8l10,10l2,8l-4,6l-6,2l-18,-4l-14,-8l-18,-18zM407,321l2,-2l2,2l-2,2zM525,275l2,-2l2,2l-2,2z" fill="#74C7A5"/>
<path d="M367,343l-4,8l0,6l2,4l12,10l6,0l4,2l2,4l16,6l10,-2l4,2l2,4l6,-2l6,2l4,6l6,-2l8,6l-2,2l2,4l-2,6l2,2l-4,2l2,2l-2,4l8,4l2,8l4,2l4,8l-2,2l2,-2l4,4l-2,2l2,4l6,4l-2,2l6,4l0,4l2,-2l2,2l2,8l4,0l6,6l-2,2l12,8l2,6l4,-2l2,4l2,-2l4,6l2,-2l4,2l2,4l2,-2l2,2l-2,4l4,2l-2,2l2,-2l10,4l4,-6l2,2l4,-4l4,2l0,-4l4,-6l6,-4l-2,-2l2,-2l-2,-4l2,-2l8,2l-2,-4l2,-4l6,-4l-2,-2l16,-6l4,-4l-2,-6l14,-10l-2,-2l2,-4l6,-4l4,-6l0,-6l2,-2l-2,-4l2,-2l-2,-4l-4,-2l2,-6l-8,0l-2,-2l2,-2l-8,-4l0,-12l-46,-6l-10,-4l-8,-8l-4,0l-22,-10l-14,-10l-16,-16l-12,-16l-26,-2l-2,2l-22,0l-2,2l-6,0l-2,4l-2,-2l-6,6l-10,-2l2,4l-2,2l-8,-2l-6,4l2,2l-2,2l-4,0zM559,497l2,-2l2,2l-2,2zM573,477l2,-2l2,2l-2,2zM483,469l2,-2l2,2l-2,2zM593,465l2,-2l2,2l-2,2zM601,451l2,-2l2,2l-2,2zM461,435l2,-2l2,2l-2,2zM459,431l2,-2l2,2l-2,2zM455,425l2,-2l2,2l-2,2zM607,401l2,-2l2,2l-2,2zM397,379l2,-2l2,2l-2,2zM383,371l2,-2l2,2l-2,2zM407,321l2,-2l2,2l-2,2zM481,305l2,6l40,14l18,10l16,18l0,6l-4,6l2,2l14,2l2,2l14,0l2,2l20,0l2,2l14,0l2,-4l8,2l-2,-4l2,-6l-2,-2l4,-4l-2,-2l2,-2l0,-12l2,-2l-2,-6l2,-4l-2,-4l4,-8l0,-14l-4,-6l2,-2l0,-10l-2,-2l2,-4l-2,2l-2,-4l-2,2l-4,-2l-2,-4l-2,2l-2,-4l-2,2l-8,-4l-2,2l-2,-2l-4,2l-14,-6l-6,4l-6,-2l-4,4l-2,-2l-6,0l-2,2l-6,-2l-2,2l-2,-4l-4,0l-8,4l2,2l-2,2l-6,-2l-4,2l-4,-2l-2,2l-10,0l-2,4l-6,2l-2,-2l0,2l-6,4l-2,-2l-8,8zM631,357l2,-2l2,2l-2,2zM525,275l2,-2l2,2l-2,2z" fill="#8FD2A4"/>
<path d="M389,329l-10,10l-6,12l0,10l4,6l22,14l6,2l10,-2l4,2l2,4l6,-2l6,2l4,6l2,-2l8,2l4,4l-2,2l2,4l-2,6l2,2l-4,2l2,2l-2,4l8,4l2,8l4,2l4,8l-2,2l2,-2l4,4l-2,2l2,4l6,4l-2,2l6,4l0,4l2,-2l2,2l2,8l4,0l6,6l-2,2l12,8l2,6l4,-2l2,4l2,-2l4,6l2,-2l4,2l2,4l2,-2l2,2l-2,4l4,2l-2,2l2,-2l10,4l4,-6l2,2l4,-4l4,2l0,-4l4,-6l6,-4l-2,-2l2,-2l-2,-4l2,-2l8,2l-2,-4l2,-4l6,-4l-2,-2l16,-6l4,-4l-2,-6l14,-10l-2,-2l2,-4l6,-4l4,-6l0,-6l2,-2l-2,-4l2,-2l-2,-4l-4,-2l2,-6l-8,0l-2,-2l2,-2l-8,-4l0,-12l-30,-2l-2,-2l-12,0l-14,-4l-46,-26l-30,-28l-8,-4l-8,0l-2,-2l-34,2zM559,497l2,-2l2,2l-2,2zM573,477l2,-2l2,2l-2,2zM483,469l2,-2l2,2l-2,2zM593,465l2,-2l2,2l-2,2zM601,451l2,-2l2,2l-2,2zM461,435l2,-2l2,2l-2,2zM459,431l2,-2l2,2l-2,2zM455,425l2,-2l2,2l-2,2zM607,401l2,-2l2,2l-2,2zM397,379l2,-2l2,2l-2,2zM383,371l2,-2l2,2l-2,2zM495,289l-4,8l0,8l6,6l28,14l4,0l20,12l12,14l0,6l2,2l-2,4l4,4l14,4l12,0l2,2l30,0l2,-2l6,2l2,-2l-2,-2l2,-2l-2,-6l4,-4l-2,-2l2,-2l0,-12l2,-2l-2,-6l2,-4l-2,-4l4,-8l0,-14l-4,-6l2,-2l0,-10l-2,-2l2,-4l-2,2l-2,-4l-2,2l-4,-2l-2,-4l-2,2l-2,-4l-2,2l-8,-4l-2,2l-2,-2l-4,2l-14,-6l-6,4l-6,-2l-4,4l-2,-2l-6,0l-2,2l-6,-2l-2,2l-2,-4l-4,0l-8,4l2,2l-2,2l-6,-2l-6,2l-2,-2l-2,2l-10,0l-2,4l-6,2l-2,-2l0,2zM631,357l2,-2l2,2l-2,2zM525,275l2,-2l2,2l-2,2z" fill="#ABDDA4"/>
<path d="M397,331l-10,10l-4,12l0,12l10,10l6,2l6,6l10,-2l4,2l2,4l6,-2l6,2l4,6l2,-2l8,2l4,4l-2,2l2,4l-2,6l2,2l-4,2l2,2l-2,4l8,4l2,8l4,2l4,8l-2,2l2,-2l4,4l-2,2l2,4l6,4l-2,2l6,4l0,4l2,-2l2,2l2,8l4,0l6,6l-2,2l12,8l2,6l4,-2l2,4l2,-2l4,6l2,-2l4,2l2,4l2,-2l2,2l-2,4l4,2l-2,2l2,-2l10,4l4,-6l2,2l4,-4l4,2l0,-4l4,-6l6,-4l-2,-2l2,-2l-2,-4l2,-2l8,2l-2,-4l2,-4l6,-4l-2,-2l16,-6l4,-4l-2,-6l14,-10l-2,-2l2,-4l6,-4l4,-6l0,-6l2,-2l-2,-4l2,-2l-2,-4l-4,-2l2,-6l-8,0l-2,-2l2,-2l-8,-4l0,-10l-2,-2l-36,-2l-2,-2l-12,0l-12,-4l-30,-16l-34,-28l-18,-10l-6,0l-2,-2l-20,0l-2,2l-18,2zM559,497l2,-2l2,2l-2,2zM573,477l2,-2l2,2l-2,2zM483,469l2,-2l2,2l-2,2zM593,465l2,-2l2,2l-2,2zM601,451l2,-2l2,2l-2,2zM461,435l2,-2l2,2l-2,2zM459,431l2,-2l2,2l-2,2zM455,425l2,-2l2,2l-2,2zM607,401l2,-2l2,2l-2,2zM497,293l0,10l10,10l44,22l12,12l4,8l0,8l4,4l14,2l2,2l12,0l2,2l32,-2l-2,-2l2,-2l-2,-6l4,-4l-2,-2l2,-2l0,-12l2,-2l-2,-6l2,-4l-2,-4l4,-8l0,-14l-4,-6l2,-2l0,-10l-2,-2l2,-4l-2,2l-2,-4l-2,2l-4,-2l-2,-4l-2,2l-2,-4l-2,2l-8,-4l-2,2l-2,-2l-4,2l-14,-6l-6,4l-6,-2l-4,4l-2,-2l-6,0l-2,2l-6,-2l-2,2l-2,-4l-4,0l-8,4l2,2l-2,2l-6,-2l-4,2l-4,-2l-2,2l-10,0l-2,4l-8,2zM631,357l2,-2l2,2l-2,2zM525,275l2,-2l2,2l-2,2z" fill="#C3E79F"/>
<path d="M403,335l-10,16l0,6l-2,2l2,10l16,14l6,-2l4,2l2,4l6,-2l6,2l4,6l6,-2l8,6l-2,2l2,4l-2,6l2,2l-4,2l2,2l-2,4l8,4l2,8l4,2l4,8l-2,2l2,-2l4,4l-2,2l2,4l6,4l-2,2l6,4l0,4l2,-2l2,2l2,8l4,0l6,6l-2,2l12,8l2,6l4,-2l2,4l2,-2l4,6l2,-2l4,2l2,4l2,-2l2,2l-2,4l4,2l-2,2l2,-2l10,4l4,-6l2,2l4,-4l4,2l0,-4l4,-6l6,-4l-2,-2l2,-2l-2,-4l2,-2l8,2l-2,-4l2,-4l6,-4l-2,-2l16,-6l4,-4l-2,-6l14,-10l-2,-2l2,-4l6,-4l4,-6l0,-6l2,-2l-2,-4l2,-2l-2,-4l-4,-2l2,-6l-8,0l-2,-2l2,-2l-8,-4l0,-10l-48,-4l-2,-2l-8,0l-12,-4l-22,-12l-36,-28l-18,-10l-6,0l-2,-2l-20,0l-20,6zM559,497l2,-2l2,2l-2,2zM573,477l2,-2l2,2l-2,2zM483,469l2,-2l2,2l-2,2zM593,465l2,-2l2,2l-2,2zM601,451l2,-2l2,2l-2,2zM461,435l2,-2l2,2l-2,2zM459,431l2,-2l2,2l-2,2zM455,425l2,-2l2,2l-2,2zM607,401l2,-2l2,2l-2,2zM505,285l-4,8l2,12l20,14l12,4l18,10l16,16l4,14l4,4l14,2l2,2l36,0l4,-4l-2,-6l4,-4l-2,-2l2,-2l0,-32l4,-12l0,-6l-4,-6l2,-2l0,-10l-2,-2l2,-4l-2,2l-2,-4l-2,2l-4,-2l-2,-4l-2,2l-2,-4l-2,2l-8,-4l-2,2l-2,-2l-4,2l-14,-6l-6,4l-6,-2l-4,4l-2,-2l-6,0l-2,2l-6,-2l-2,2l-2,-4l-4,0l-8,4l2,2l-2,2l-6,-2l-4,2l-4,-2l-2,2l-10,0l0,2zM631,357l2,-2l2,2l-2,2zM525,275l2,-2l2,2l-2,2z" fill="#DAF09A"/>
<path d="M415,335l-10,10l-4,8l0,6l-2,2l2,10l10,10l8,2l2,4l6,-2l6,2l4,6l6,-2l8,6l-2,2l2,4l-2,6l2,2l-4,2l2,2l-2,4l8,4l2,8l4,2l4,8l-2,2l2,-2l4,4l-2,2l2,4l6,4l-2,2l6,4l0,4l2,-2l2,2l2,8l4,0l6,6l-2,2l12,8l2,6l4,-2l2,4l2,-2l4,6l2,-2l4,2l2,4l2,-2l2,2l-2,4l4,2l-2,2l2,-2l10,4l4,-6l2,2l4,-4l4,2l0,-4l4,-6l6,-4l-2,-2l2,-2l-2,-4l2,-2l8,2l-2,-4l2,-4l6,-4l-2,-2l16,-6l4,-4l-2,-6l14,-10l-2,-2l2,-4l6,-4l4,-6l0,-6l2,-2l-2,-4l2,-2l-2,-4l-4,-2l2,-6l-8,0l-2,-2l2,-2l-8,-4l0,-8l-2,-2l-42,-2l-2,-2l-20,-2l-28,-14l-36,-28l-16,-8l-24,-2zM559,497l2,-2l2,2l-2,2zM573,477l2,-2l2,2l-2,2zM483,469l2,-2l2,2l-2,2zM593,465l2,-2l2,2l-2,2zM601,451l2,-2l2,2l-2,2zM461,435l2,-2l2,2l-2,2zM459,431l2,-2l2,2l-2,2zM455,425l2,-2l2,2l-2,2zM607,401l2,-2l2,2l-2,2zM509,283l-4,8l2,12l10,10l44,22l10,10l8,20l10,4l10,0l2,2l24,0l6,-4l0,-10l2,-2l0,-34l4,-12l0,-10l-2,-2l2,-2l0,-10l-2,-2l2,-4l-2,2l-2,-4l-2,2l-4,-2l-2,-4l-2,2l-2,-4l-2,2l-8,-4l-2,2l-2,-2l-4,2l-14,-6l-6,4l-6,-2l-4,4l-2,-2l-6,0l-2,2l-6,-2l-2,2l-2,-4l-4,0l-8,4l2,2l-2,2l-6,-2l-4,2l-4,-2l-2,2l-8,0zM525,275l2,-2l2,2l-2,2z" fill="#EBF7A0"/>
<path d="M417,341l-10,18l0,12l2,4l10,8l2,4l6,-2l6,2l4,6l6,-2l8,6l-2,2l2,4l-2,6l2,2l-4,2l2,2l-2,4l8,4l2,8l4,2l4,8l-2,2l2,-2l4,4l-2,2l2,4l6,4l-2,2l6,4l0,4l2,-2l2,2l2,8l4,0l6,6l-2,2l12,8l2,6l4,-2l2,4l2,-2l4,6l2,-2l4,2l2,4l2,-2l2,2l-2,4l4,2l-2,2l2,-2l10,4l4,-6l2,2l4,-4l4,2l0,-4l4,-6l6,-4l-2,-2l2,-2l-2,-4l2,-2l8,2l-2,-4l2,-4l6,-4l-2,-2l2,-2l6,0l12,-8l-2,-6l12,-10l12,-20l2,-6l-2,-2l2,-2l-2,-4l-4,-2l2,-6l-8,0l-2,-2l2,-2l-8,-4l0,-8l-6,-2l-34,0l-2,-2l-16,0l-14,-4l-30,-16l-34,-26l-16,-6l-16,0l-2,2l-6,0zM559,497l2,-2l2,2l-2,2zM573,477l2,-2l2,2l-2,2zM483,469l2,-2l2,2l-2,2zM593,465l2,-2l2,2l-2,2zM601,451l2,-2l2,2l-2,2zM461,435l2,-2l2,2l-2,2zM459,431l2,-2l2,2l-2,2zM455,425l2,-2l2,2l-2,2zM607,401l2,-2l2,2l-2,2zM509,287l0,14l12,12l42,20l14,14l8,18l10,4l30,0l4,-4l0,-32l2,-2l2,-20l4,-8l-2,-6l2,-2l0,-10l-2,-2l2,-2l-2,0l-2,-4l-2,2l-4,-2l-2,-4l-2,2l-2,-4l-2,2l-8,-4l-2,2l-2,-2l-4,2l-14,-6l-6,4l-6,-2l-4,4l-2,-2l-6,0l-2,2l-6,-2l-2,2l-2,-4l-4,0l-8,4l2,2l-2,2l-6,-2l-6,2l-2,-2l-2,2l-6,0zM525,275l2,-2l2,2l-2,2z" fill="#F5FBAF"/>
<path d="M427,341l-12,14l-2,18l10,14l4,-2l6,2l4,6l6,-2l8,6l-2,2l2,4l-2,6l2,2l-4,2l2,2l-2,4l8,4l2,8l4,2l4,8l-2,2l2,-2l4,4l-2,2l2,4l6,4l-2,2l6,4l0,4l2,-2l2,2l2,8l4,0l6,6l-2,2l12,8l2,6l4,-2l2,4l2,-2l4,6l2,-2l4,2l2,4l2,-2l2,2l-2,4l4,2l-2,2l2,-2l10,4l4,-6l2,2l4,-4l4,2l0,-4l4,-6l6,-4l-2,-2l2,-2l-2,-4l2,-2l8,2l-2,-4l2,-4l6,-4l-2,-2l12,-4l2,-4l4,-2l2,-4l-2,-2l6,-4l-2,-2l6,-4l10,-16l4,-10l0,-8l-4,-2l0,-6l-6,0l-2,-2l2,-2l-8,-4l0,-6l-4,-2l-42,0l-2,-2l-12,0l-18,-6l-26,-14l-22,-18l-24,-12l-16,0zM559,497l2,-2l2,2l-2,2zM573,477l2,-2l2,2l-2,2zM483,469l2,-2l2,2l-2,2zM461,435l2,-2l2,2l-2,2zM459,431l2,-2l2,2l-2,2zM455,425l2,-2l2,2l-2,2zM607,401l2,-2l2,2l-2,2zM515,281l-4,8l0,8l4,8l10,8l44,20l14,14l8,18l4,2l10,0l2,2l8,0l10,-4l0,-6l2,-2l0,-32l10,-32l0,-6l-4,-10l-2,2l-4,-2l-2,-4l-2,2l-2,-4l-2,2l-8,-4l-2,2l-2,-2l-4,2l-14,-6l-6,4l-6,-2l-4,4l-2,-2l-6,0l-2,2l-6,-2l-2,2l-2,-4l-4,0l-8,4l2,2l-2,2l-6,-2l-6,2l-2,-2l-6,2zM525,275l2,-2l2,2l-2,2z" fill="#FFFFBF"/>
<path d="M427,347l-8,16l0,14l6,10l2,-2l6,2l4,6l6,-2l8,6l-2,2l2,4l-2,6l2,2l-4,2l2,2l-2,4l8,4l2,8l4,2l4,8l-2,2l2,-2l4,4l-2,2l2,4l6,4l-2,2l6,4l0,4l2,-2l2,2l2,8l4,0l6,6l-2,2l12,8l2,6l4,-2l2,4l2,-2l4,6l2,-2l4,2l2,4l2,-2l2,2l-2,4l4,2l-2,2l2,-2l10,4l4,-6l2,2l4,-4l4,2l0,-4l4,-6l6,-4l-2,-2l2,-2l-2,-4l2,-2l8,2l-2,-4l2,-4l6,-4l-2,-2l12,-4l12,-22l8,-10l6,-12l0,-16l-8,-6l2,-2l-6,-2l-4,-8l-8,0l-2,-2l-42,2l-20,-6l-18,-8l-28,-18l-14,-12l-14,-6l-16,0zM559,497l2,-2l2,2l-2,2zM573,477l2,-2l2,2l-2,2zM483,469l2,-2l2,2l-2,2zM461,435l2,-2l2,2l-2,2zM459,431l2,-2l2,2l-2,2zM455,425l2,-2l2,2l-2,2zM607,401l2,-2l2,2l-2,2zM519,279l-4,6l-2,10l2,6l10,10l14,8l38,14l12,12l10,18l4,2l12,0l4,-2l2,-6l0,-26l14,-34l-2,-18l-6,-2l-2,-4l-2,2l-2,-4l-2,2l-8,-4l-2,2l-2,-2l-4,2l-14,-6l-6,4l-6,-2l-4,4l-2,-2l-6,0l-2,2l-6,-2l-2,2l-2,-4l-4,0l-8,4l2,2l-2,2l-6,-2l-6,2l-2,-2zM525,275l2,-2l2,2l-2,2z" fill="#FFF3AA"/>
<path d="M433,349l-8,14l0,18l2,4l6,2l4,6l6,-2l8,6l-2,2l2,4l-2,6l2,2l-4,2l2,2l-2,4l8,4l2,8l4,2l4,8l-2,2l2,-2l4,4l-2,2l2,4l6,4l-2,2l6,4l0,4l2,-2l2,2l2,8l4,0l6,6l-2,2l12,8l2,6l4,-2l2,4l2,-2l4,6l2,-2l4,2l2,4l2,-2l2,2l-2,4l4,2l-2,2l2,-2l10,4l4,-6l2,2l4,-4l4,2l0,-4l4,-6l6,-4l-2,-2l2,-2l-2,-4l2,-2l8,2l-2,-4l2,-4l6,-4l-2,-2l2,-2l6,0l12,-22l10,-14l6,-14l0,-8l-4,-8l-14,-12l-46,2l-14,-4l-38,-18l-30,-22l-14,-6l-14,0zM559,497l2,-2l2,2l-2,2zM573,477l2,-2l2,2l-2,2zM483,469l2,-2l2,2l-2,2zM461,435l2,-2l2,2l-2,2zM459,431l2,-2l2,2l-2,2zM455,425l2,-2l2,2l-2,2zM633,283l-8,-10l-2,2l-2,-4l-4,2l-6,-4l-2,2l-2,-2l-4,2l-14,-6l-6,4l-6,-2l-4,4l-2,-2l-6,0l-2,2l-6,-2l-2,2l-2,-4l-4,0l-8,4l2,2l-2,2l-8,-2l-8,4l-8,10l0,12l8,10l18,10l40,12l18,10l4,0l12,-14l14,-24z" fill="#FEE695"/>
<path d="M441,351l-8,8l-4,14l0,10l8,10l6,-2l8,6l-2,2l2,4l-2,6l2,2l-4,2l2,2l-2,4l8,4l2,8l4,2l4,8l-2,2l2,-2l4,4l-2,2l2,4l6,4l-2,2l6,4l0,4l2,-2l2,2l2,8l4,0l6,6l-2,2l12,8l2,6l4,-2l2,4l2,-2l4,6l2,-2l4,2l2,4l2,-2l2,2l-2,4l4,2l-2,2l2,-2l10,4l4,-6l2,2l4,-4l4,2l0,-4l4,-6l6,-4l-2,-2l2,-2l-2,-4l2,-2l8,2l-2,-4l2,-4l6,-4l-2,-2l2,-2l6,0l22,-46l0,-14l-2,-4l-8,-8l-6,-2l-8,0l-2,2l-30,0l-14,-4l-42,-20l-36,-24l-6,0l-2,-2zM559,497l2,-2l2,2l-2,2zM573,477l2,-2l2,2l-2,2zM483,469l2,-2l2,2l-2,2zM461,435l2,-2l2,2l-2,2zM459,431l2,-2l2,2l-2,2zM455,425l2,-2l2,2l-2,2zM631,283l-10,-12l-4,2l-6,-4l-2,2l-2,-2l-4,2l-14,-6l-6,4l-6,-2l-4,4l-2,-2l-6,0l-2,2l-6,-2l-2,2l-2,-4l-4,0l-8,4l2,2l-2,2l-8,-2l-12,10l-2,4l0,12l6,8l22,12l28,8l8,0l2,2l16,0l12,-6l14,-16l4,-10z" fill="#FED480"/>
<path d="M447,357l-6,6l-6,12l0,14l2,4l6,-2l8,6l-2,2l2,4l-2,6l2,2l-4,2l2,2l-2,4l8,4l2,8l4,2l4,8l-2,2l2,-2l4,4l-2,2l2,4l6,4l-2,2l6,4l0,4l2,-2l2,2l2,8l4,0l6,6l-2,2l12,8l2,6l4,-2l2,4l2,-2l4,6l2,-2l4,2l2,4l2,-2l2,2l-2,4l4,2l-2,2l2,-2l10,4l4,-6l2,2l4,-4l4,2l0,-4l4,-6l6,-4l-2,-2l2,-2l-2,-4l2,-2l8,2l-2,-4l2,-4l6,-4l-2,-2l6,-4l14,-36l0,-18l-6,-6l-6,-2l-18,0l-2,-2l-10,0l-18,-6l-64,-32l-16,-10zM559,497l2,-2l2,2l-2,2zM573,477l2,-2l2,2l-2,2zM483,469l2,-2l2,2l-2,2zM461,435l2,-2l2,2l-2,2zM459,431l2,-2l2,2l-2,2zM455,425l2,-2l2,2l-2,2zM629,283l-8,-10l-4,0l-6,-4l-2,2l-2,-2l-4,2l-14,-6l-6,4l-6,-2l-4,4l-2,-2l-6,0l-2,2l-6,-2l-2,2l-2,-4l-4,0l-8,4l2,2l-2,2l-8,-2l-10,10l-2,4l0,10l10,12l16,8l12,4l8,0l2,2l24,2l14,-4l18,-16l4,-8z" fill="#FDBA6C"/>
<path d="M451,367l-12,14l0,10l4,0l8,6l-2,2l2,4l-2,6l2,2l-4,2l2,2l-2,4l8,4l2,8l4,2l4,8l-2,2l2,-2l4,4l-2,2l2,4l6,4l-2,2l6,4l0,4l2,-2l2,2l2,8l4,0l6,6l-2,2l12,8l2,6l4,-2l2,4l2,-2l4,6l2,-2l4,2l2,4l2,-2l2,2l-2,4l4,2l-2,2l2,-2l10,4l4,-6l2,2l4,-4l4,2l0,-4l4,-6l6,-4l-2,-2l2,-2l-2,-4l2,-2l8,2l-2,-4l2,-4l6,-4l-2,-2l4,-4l6,-20l0,-22l-2,-4l-10,-8l-28,-8l-68,-34l-4,0l-12,-6zM559,497l2,-2l2,2l-2,2zM573,477l2,-2l2,2l-2,2zM483,469l2,-2l2,2l-2,2zM461,435l2,-2l2,2l-2,2zM459,431l2,-2l2,2l-2,2zM455,425l2,-2l2,2l-2,2zM627,283l-8,-10l-8,-4l-2,2l-2,-2l-4,2l-14,-6l-6,4l-6,-2l-4,4l-2,-2l-6,0l-2,2l-6,-2l-2,2l-2,-4l-4,0l-8,4l2,2l-2,2l-8,0l-6,6l-4,8l0,6l8,12l20,10l16,2l2,2l28,0l14,-6l14,-14z" fill="#FB9E5A"/>
<path d="M453,375l-10,10l-2,6l10,6l-2,2l2,4l-2,6l2,2l-4,2l2,2l-2,4l8,4l2,8l4,2l4,8l-2,2l2,-2l4,4l-2,2l2,4l6,4l-2,2l6,4l0,4l2,-2l2,2l2,8l4,0l6,6l-2,2l12,8l2,6l4,-2l2,4l2,-2l4,6l2,-2l4,2l2,4l2,-2l2,2l-2,4l4,2l-2,2l2,-2l10,4l4,-6l2,2l4,-4l4,2l0,-4l4,-6l6,-4l-2,-2l2,-2l-2,-4l2,-2l6,2l2,-2l-2,-2l8,-14l2,-30l-4,-10l-14,-12l-12,-4l-52,-28l-4,0l-22,-10l-8,0l-2,-2zM559,497l2,-2l2,2l-2,2zM573,477l2,-2l2,2l-2,2zM483,469l2,-2l2,2l-2,2zM461,435l2,-2l2,2l-2,2zM459,431l2,-2l2,2l-2,2zM455,425l2,-2l2,2l-2,2zM625,283l-8,-10l-10,-4l-4,2l-14,-6l-6,4l-6,-2l-4,4l-2,-2l-6,0l-2,2l-6,-2l-2,2l-2,-4l-10,4l-2,4l-6,0l-6,6l-4,8l0,6l12,14l20,8l8,0l2,2l26,0l16,-6l10,-8l6,-10z" fill="#F67D4A"/>
<path d="M451,383l-6,8l0,2l6,4l-2,2l2,4l-2,6l2,2l-4,2l2,2l-2,4l8,4l2,8l4,2l4,8l-2,2l2,-2l4,4l-2,2l2,4l6,4l-2,2l6,4l0,4l2,-2l2,2l2,8l4,0l6,6l-2,2l12,8l2,6l4,-2l2,4l2,-2l4,6l2,-2l4,2l2,4l2,-2l2,2l-2,4l4,2l-2,2l2,-2l10,4l4,-6l2,2l4,-4l4,2l0,-4l4,-6l6,-4l-2,-2l2,-2l-2,-4l2,-2l6,0l2,-4l-2,-4l4,-2l2,-28l-6,-16l-14,-12l-70,-36l-14,-2l-2,-2l-14,0zM559,497l2,-2l2,2l-2,2zM483,469l2,-2l2,2l-2,2zM461,435l2,-2l2,2l-2,2zM459,431l2,-2l2,2l-2,2zM455,425l2,-2l2,2l-2,2zM623,285l-4,-8l-8,-6l-6,-2l-2,2l-14,-6l-6,4l-6,-2l-4,4l-2,-2l-6,0l-2,2l-2,-2l-6,2l-4,-2l-6,2l-14,10l-4,12l2,6l8,8l12,6l14,4l30,0l12,-4l14,-12l4,-8z" fill="#EC6146"/>
<path d="M453,387l-4,4l2,6l-2,2l2,4l-2,6l2,2l-4,2l2,2l-2,4l8,4l2,8l4,2l4,8l-2,2l2,-2l4,4l-2,2l2,4l6,4l-2,2l6,4l0,4l2,-2l2,2l2,8l4,0l6,6l-2,2l12,8l2,6l4,-2l2,4l2,-2l4,6l2,-2l4,2l2,4l2,-2l2,2l-2,4l4,2l-2,2l2,-2l10,4l4,-6l2,2l4,-4l2,2l12,-18l-2,-4l6,-2l4,-12l0,-24l-6,-14l-20,-18l-52,-28l-20,-6l-14,0zM559,497l2,-2l2,2l-2,2zM483,469l2,-2l2,2l-2,2zM461,435l2,-2l2,2l-2,2zM459,431l2,-2l2,2l-2,2zM455,425l2,-2l2,2l-2,2zM621,285l-10,-12l-16,-6l-10,0l-2,2l-6,-2l-4,4l-2,-2l-6,0l-2,2l-2,-2l-6,2l-2,-2l-16,8l-4,4l-4,12l2,6l8,8l8,4l32,6l2,-2l12,0l18,-8l10,-14z" fill="#DD4A4C"/>
<path d="M455,391l-6,8l2,4l-2,6l2,2l-4,2l2,2l-2,4l8,4l2,8l4,2l4,8l-2,2l2,-2l4,4l-2,2l2,4l6,4l-2,2l6,4l0,4l2,-2l2,2l2,8l4,0l6,6l-2,2l12,8l2,6l4,-2l2,4l2,-2l4,6l2,-2l4,2l2,4l2,-2l2,2l-2,4l4,2l-2,2l2,-2l2,2l8,0l4,-4l2,2l14,-14l2,-10l4,-2l4,-14l-2,-22l-8,-16l-22,-18l-40,-22l-20,-6l-18,0zM559,497l2,-2l2,2l-2,2zM483,469l2,-2l2,2l-2,2zM461,435l2,-2l2,2l-2,2zM459,431l2,-2l2,2l-2,2zM455,425l2,-2l2,2l-2,2zM619,285l-2,-4l-12,-10l-14,-4l-6,0l-2,2l-6,-2l-4,4l-2,-2l-6,0l-2,2l-6,-2l-18,8l-4,4l-4,12l2,6l6,6l12,6l14,2l2,2l18,0l2,-2l8,0l12,-6l10,-10z" fill="#C72F4C"/>
<path d="M455,395l-6,10l2,2l-2,2l2,2l-2,2l0,8l6,2l2,8l4,2l4,8l-2,2l2,-2l4,4l-2,2l2,4l6,4l-2,2l6,4l0,4l2,-2l2,2l2,8l4,0l6,6l-2,2l12,8l2,6l4,-2l2,4l2,-2l4,6l2,-2l4,2l2,4l2,-2l2,2l-2,4l4,2l-2,2l2,-2l6,2l10,-4l16,-18l0,-4l4,-6l0,-26l-6,-16l-18,-18l-36,-22l-32,-10l-14,2zM483,469l2,-2l2,2l-2,2zM461,435l2,-2l2,2l-2,2zM459,431l2,-2l2,2l-2,2zM455,425l2,-2l2,2l-2,2zM617,285l-8,-10l-12,-6l-20,-2l-4,4l-2,-2l-6,0l-2,2l-2,-2l-16,6l-8,6l-4,8l0,6l6,8l16,8l6,0l2,2l26,0l16,-6l10,-10z" fill="#AC1045"/>
<path d="M461,395l-10,12l0,14l4,2l2,8l4,2l4,8l-2,2l2,-2l4,4l-2,2l2,4l6,4l-2,2l6,4l0,4l2,-2l2,2l2,8l4,0l6,6l-2,2l12,8l2,6l4,-2l2,4l2,-2l4,6l2,-2l4,2l2,4l2,-2l2,2l-2,4l12,2l8,-4l14,-16l4,-12l0,-20l-8,-20l-18,-18l-18,-12l-24,-12l-14,-4l-18,0zM483,469l2,-2l2,2l-2,2zM461,435l2,-2l2,2l-2,2zM459,431l2,-2l2,2l-2,2zM455,425l2,-2l2,2l-2,2zM535,287l0,8l6,8l6,4l12,4l10,0l2,2l26,-4l8,-4l10,-12l-2,-12l-6,-6l-14,-6l-18,0l-2,2l-2,-2l-6,0l-2,2l-6,0l-16,8z" fill="#9E0142"/>
</g>
<path d="M365,357h.1M609,386h.1M506,348h.1M443,347h.1M496,294h.1M449,347h.1M637,358h.1M614,400h.1M643,297h.1M489,474h.1M499,353h.1M454,341h.1M504,314h.1M523,344h.1M512,364h.1M562,328h.1M583,379h.1M434,360h.1M538,341h.1M573,381h.1M581,333h.1M606,392h.1M589,389h.1M610,441h.1M408,355h.1M432,386h.1M424,367h.1M424,357h.1M562,372h.1M563,357h.1M575,344h.1M514,381h.1M463,296h.1M381,371h.1M601,356h.1M517,351h.1M462,339h.1M544,327h.1M458,447h.1M566,375h.1M406,316h.1M515,317h.1M502,373h.1M470,316h.1M527,360h.1M552,360h.1M606,433h.1M429,315h.1M584,478h.1M444,351h.1M544,372h.1M508,302h.1M613,369h.1M517,346h.1M510,351h.1M545,375h.1M411,372h.1M635,307h.1M463,320h.1M520,371h.1M563,384h.1M527,321h.1M554,365h.1M464,329h.1M514,335h.1M466,322h.1M511,349h.1M458,335h.1M544,363h.1M433,311h.1M624,340h.1M504,331h.1M172,82h.1M542,345h.1M465,346h.1M495,339h.1M516,305h.1M610,410h.1M615,454h.1M477,327h.1M477,334h.1M505,338h.1M619,347h.1M566,393h.1M159,91h.1M579,352h.1M520,332h.1M533,340h.1M412,357h.1M408,371h.1M641,345h.1M365,355h.1M437,340h.1M445,325h.1M251,55h.1M538,386h.1M533,325h.1M621,400h.1M436,343h.1M482,340h.1M583,366h.1M525,377h.1M514,332h.1M498,331h.1M479,314h.1M608,390h.1M449,301h.1M490,315h.1M619,331h.1M504,357h.1M449,325h.1M502,366h.1M568,346h.1M499,308h.1M629,355h.1M594,363h.1M584,347h.1M547,502h.1M572,378h.1M397,325h.1M470,337h.1M549,351h.1M560,378h.1M542,337h.1M595,361h.1M503,311h.1M426,364h.1M505,297h.1M557,326h.1M628,273h.1M632,358h.1M536,348h.1M547,358h.1M583,374h.1M419,328h.1M449,327h.1M532,344h.1M648,276h.1M489,363h.1M473,348h.1M495,350h.1M452,348h.1M448,335h.1M509,323h.1M547,310h.1M518,358h.1M526,325h.1M564,351h.1M438,339h.1M566,363h.1M594,397h.1M427,349h.1M566,352h.1M498,464h.1M433,307h.1M425,379h.1M453,312h.1M549,358h.1M619,376h.1M577,265h.1M481,318h.1M435,342h.1M619,324h.1M615,403h.1M528,359h.1M572,341h.1M405,320h.1M508,365h.1M559,397h.1M459,311h.1M453,310h.1M559,350h.1M599,386h.1M603,464h.1M529,353h.1M566,366h.1M497,356h.1M581,358h.1M512,332h.1M466,346h.1M472,350h.1M472,327h.1M489,335h.1M531,375h.1M624,372h.1M579,363h.1M527,383h.1M638,355h.1M541,374h.1M639,296h.1M578,343h.1M525,324h.1M597,333h.1M406,311h.1M522,356h.1M502,324h.1M478,357h.1M458,318h.1M441,317h.1M527,331h.1M582,381h.1M486,334h.1M625,346h.1M493,310h.1M492,360h.1M489,317h.1M568,367h.1M512,341h.1M506,332h.1M512,330h.1M531,333h.1M510,346h.1M388,342h.1M384,374h.1M624,419h.1M526,353h.1M518,375h.1M594,384h.1M390,364h.1M538,360h.1M608,425h.1M394,371h.1M521,414h.1M511,329h.1M617,394h.1M620,329h.1M506,345h.1M459,321h.1M618,374h.1M598,348h.1M442,338h.1M512,360h.1M605,375h.1M540,361h.1M483,335h.1M379,354h.1M505,320h.1M459,323h.1M594,387h.1M584,370h.1M420,321h.1M365,375h.1M383,362h.1M480,377h.1M538,356h.1M523,371h.1M519,365h.1M465,327h.1M477,328h.1M355,347h.1M491,340h.1M373,325h.1M582,345h.1M583,331h.1M503,344h.1M434,333h.1M433,322h.1M535,322h.1M567,359h.1M461,375h.1M388,338h.1M524,329h.1M554,379h.1M571,294h.1M361,344h.1M452,336h.1M516,339h.1M451,316h.1M606,435h.1M476,349h.1M612,421h.1M577,352h.1M501,309h.1M517,287h.1M529,346h.1M518,278h.1M622,369h.1M600,361h.1M541,277h.1M593,291h.1M493,320h.1M479,326h.1M415,339h.1M534,338h.1M548,360h.1M557,352h.1M491,334h.1M554,362h.1M475,338h.1M589,355h.1M515,344h.1M482,352h.1M492,341h.1M516,294h.1M532,369h.1M479,364h.1M495,304h.1M553,355h.1M512,380h.1M521,368h.1M482,307h.1M614,396h.1M558,367h.1M505,362h.1M402,367h.1M499,383h.1M561,360h.1M553,340h.1M459,343h.1M554,260h.1M574,331h.1M624,396h.1M480,303h.1M398,369h.1M423,315h.1M476,337h.1M589,393h.1M588,383h.1M528,363h.1M525,317h.1M586,333h.1M479,312h.1M649,297h.1M512,320h.1M486,313h.1M640,302h.1M381,380h.1M544,427h.1M637,292h.1M498,370h.1M357,333h.1M518,344h.1M426,322h.1M547,362h.1M512,358h.1M539,344h.1M420,361h.1M554,395h.1M587,366h.1M571,347h.1M472,296h.1M565,347h.1M547,385h.1M574,355h.1M611,365h.1M509,347h.1M406,365h.1M473,300h.1M558,326h.1M529,342h.1M441,320h.1M597,396h.1M639,300h.1M551,343h.1M489,332h.1M546,388h.1M485,354h.1M565,359h.1M512,345h.1M544,348h.1M512,322h.1M497,337h.1M514,322h.1M630,361h.1M387,320h.1M587,386h.1M595,339h.1M440,353h.1M502,340h.1M516,337h.1M415,367h.1M543,375h.1M551,333h.1M546,364h.1M612,392h.1M466,355h.1M444,313h.1M586,345h.1M502,327h.1M502,308h.1M504,334h.1M545,331h.1M395,349h.1M592,315h.1M397,350h.1M568,381h.1M632,296h.1M560,340h.1M500,332h.1M481,363h.1M563,391h.1M551,321h.1M578,331h.1M504,354h.1M490,320h.1M589,353h.1M250,59h.1M494,276h.1M376,377h.1M499,336h.1M542,510h.1M600,345h.1M519,321h.1M643,353h.1M538,335h.1M514,278h.1M404,328h.1M615,442h.1M626,333h.1M470,340h.1M555,373h.1M549,322h.1M514,348h.1M527,334h.1M637,357h.1M628,425h.1M586,338h.1M510,355h.1M480,353h.1M369,373h.1M518,383h.1M381,368h.1M252,55h.1M630,370h.1M580,335h.1M551,369h.1M515,328h.1M571,336h.1M557,339h.1M565,338h.1M485,358h.1M436,308h.1M416,319h.1M534,351h.1M564,386h.1M387,345h.1M567,509h.1M489,310h.1M550,377h.1M642,325h.1M546,322h.1M500,343h.1M620,331h.1M438,349h.1M619,428h.1M583,396h.1M483,359h.1M601,385h.1M417,381h.1M497,298h.1M527,312h.1M512,339h.1M534,353h.1M556,351h.1M523,366h.1M463,303h.1M481,324h.1M542,341h.1M456,306h.1M605,377h.1M533,359h.1M522,319h.1M531,363h.1M468,323h.1M542,338h.1M486,341h.1M533,347h.1M542,379h.1M563,342h.1M478,324h.1M358,335h.1M581,389h.1M403,320h.1M521,356h.1M530,318h.1M530,364h.1M384,322h.1M471,288h.1M453,334h.1M501,470h.1M619,281h.1M588,391h.1M466,342h.1M368,377h.1M519,312h.1M468,295h.1M480,346h.1M591,470h.1M452,306h.1M400,322h.1M484,351h.1M615,367h.1M495,298h.1M481,308h.1M502,351h.1M536,360h.1M514,336h.1M511,338h.1M542,330h.1M567,386h.1M502,371h.1M520,365h.1M484,349h.1M556,366h.1M613,339h.1M524,378h.1M536,340h.1M494,352h.1M526,340h.1M373,367h.1M517,355h.1M541,345h.1M505,376h.1M646,279h.1M520,374h.1M523,376h.1M580,392h.1M457,326h.1M617,367h.1M169,93h.1M567,377h.1M575,392h.1M463,300h.1M606,350h.1M582,329h.1M566,329h.1M644,341h.1M604,364h.1M459,306h.1M365,373h.1M638,280h.1M509,343h.1M509,369h.1M540,357h.1M419,377h.1M527,356h.1M571,369h.1M543,385h.1M636,367h.1M584,366h.1M639,368h.1M525,354h.1M589,474h.1M607,360h.1M513,349h.1M474,347h.1M590,478h.1M587,391h.1M568,332h.1M598,463h.1M605,347h.1M452,305h.1M493,336h.1M406,343h.1M588,344h.1M643,307h.1M600,390h.1M500,350h.1M491,350h.1M564,374h.1M532,354h.1M596,471h.1M472,339h.1M568,370h.1M536,357h.1M593,381h.1M590,463h.1M519,376h.1M545,320h.1M570,396h.1M596,346h.1M562,515h.1M631,280h.1M473,341h.1M521,352h.1M506,304h.1M517,352h.1M546,366h.1M577,358h.1M603,366h.1M530,345h.1M524,339h.1M359,364h.1M499,335h.1M562,344h.1M642,323h.1M492,366h.1M440,346h.1M564,383h.1M514,360h.1M595,358h.1M559,395h.1M514,355h.1M464,306h.1M486,426h.1M619,327h.1M473,329h.1M498,358h.1M485,323h.1M508,296h.1M602,391h.1M562,367h.1M358,350h.1M491,333h.1M495,329h.1M550,357h.1M560,382h.1M482,345h.1M508,278h.1M454,349h.1M511,345h.1M410,371h.1M373,343h.1M419,359h.1M582,389h.1M422,358h.1M546,318h.1M541,321h.1M516,357h.1M546,394h.1M479,329h.1M501,277h.1M393,345h.1M404,364h.1M455,314h.1M444,334h.1M571,374h.1M571,340h.1M619,433h.1M519,334h.1M624,313h.1M595,375h.1M581,354h.1M454,302h.1M574,364h.1M496,353h.1M486,283h.1M562,358h.1M606,347h.1M514,330h.1M533,437h.1M393,328h.1M482,372h.1M564,378h.1M426,330h.1M447,325h.1M529,379h.1M466,337h.1M498,396h.1M467,363h.1M558,358h.1M380,350h.1M466,331h.1M519,305h.1M438,343h.1M415,320h.1M526,333h.1M439,319h.1M559,338h.1M490,348h.1M436,365h.1M593,432h.1M568,335h.1M543,519h.1M511,357h.1M586,375h.1M548,381h.1M460,316h.1M454,347h.1M543,363h.1M531,326h.1M441,323h.1M510,340h.1M546,338h.1M522,339h.1M366,327h.1M524,365h.1M553,323h.1M571,329h.1M523,383h.1M464,314h.1M399,332h.1M427,385h.1M482,473h.1M496,342h.1M604,338h.1M534,347h.1M558,346h.1M418,310h.1M616,398h.1M557,374h.1M500,356h.1M525,358h.1M582,339h.1M519,379h.1M519,310h.1M570,330h.1M583,393h.1M561,351h.1M507,360h.1M573,368h.1M460,298h.1M477,311h.1M500,331h.1M507,363h.1M598,385h.1M446,310h.1M353,340h.1M510,332h.1M573,410h.1M526,378h.1M524,349h.1M630,342h.1M408,342h.1M545,351h.1M528,374h.1M471,304h.1M590,380h.1M539,364h.1M508,341h.1M602,392h.1M523,323h.1M598,337h.1M566,357h.1M351,348h.1M480,326h.1M522,330h.1M610,393h.1M482,363h.1M513,312h.1M595,457h.1M639,326h.1M540,493h.1M540,346h.1M434,307h.1M499,360h.1M553,333h.1M490,368h.1M467,324h.1M493,347h.1M523,394h.1M517,335h.1M258,57h.1M641,340h.1M641,281h.1M545,390h.1M590,328h.1M533,351h.1M514,306h.1M565,372h.1M595,459h.1M585,491h.1M447,306h.1M431,325h.1M640,282h.1M561,373h.1M559,370h.1M391,352h.1M516,277h.1M486,300h.1M476,350h.1M450,311h.1M537,373h.1M405,388h.1M413,353h.1M421,340h.1M541,324h.1M560,349h.1M482,338h.1M488,306h.1M510,327h.1M519,428h.1M623,404h.1M500,318h.1M421,344h.1M467,302h.1M494,315h.1M557,377h.1M518,357h.1M448,309h.1M393,369h.1M438,307h.1M476,352h.1M477,356h.1M580,391h.1M357,356h.1M609,416h.1M541,384h.1M526,363h.1M515,282h.1M531,335h.1M569,373h.1M582,360h.1M482,315h.1M536,367h.1M450,307h.1M512,357h.1M545,338h.1M532,372h.1M530,359h.1M576,366h.1M450,308h.1M529,317h.1M367,360h.1M604,407h.1M478,341h.1M528,369h.1M540,316h.1M556,328h.1M627,438h.1M500,334h.1M380,365h.1M615,415h.1M543,390h.1M551,364h.1M480,336h.1M520,339h.1M459,333h.1M530,336h.1M545,358h.1M493,350h.1M585,362h.1M499,347h.1M427,336h.1M461,326h.1M565,385h.1M503,361h.1M586,365h.1M563,354h.1M624,358h.1M541,369h.1M582,336h.1M548,346h.1M552,359h.1M529,360h.1M559,403h.1M556,363h.1M508,372h.1M413,340h.1M537,352h.1M510,334h.1M621,316h.1M547,371h.1M596,358h.1M553,349h.1M540,319h.1M387,329h.1M429,326h.1M489,345h.1M541,328h.1M506,287h.1M560,266h.1M513,271h.1M476,468h.1M524,346h.1M413,339h.1M515,327h.1M465,348h.1M521,451h.1M400,317h.1M571,348h.1M415,317h.1M481,351h.1M549,386h.1M514,365h.1M566,379h.1M524,327h.1M547,334h.1M496,332h.1M598,398h.1M503,289h.1M477,347h.1M494,327h.1M401,320h.1M515,357h.1M428,308h.1M476,296h.1M579,399h.1M544,356h.1M402,332h.1M532,353h.1M535,391h.1M487,345h.1M565,370h.1M610,420h.1M565,362h.1M366,331h.1M521,334h.1M524,341h.1M532,375h.1M514,309h.1M448,351h.1M529,351h.1M519,329h.1M497,366h.1M478,395h.1M480,375h.1M570,392h.1M552,343h.1M478,286h.1" stroke="#828282" stroke-width="3" stroke-linecap="round" fill="none"/>
<path d="M172,80h.1M452,298h.1M348,364h.1M256,64h.1M488,276h.1M354,372h.1M430,300h.1M438,298h.1M654,338h.1M630,378h.1M452,294h.1M472,282h.1M230,110h.1M464,292h.1M254,48h.1M434,300h.1M474,282h.1M340,362h.1M176,88h.1M486,276h.1M344,340h.1M460,294h.1M444,300h.1M242,52h.1M452,296h.1M352,368h.1M256,50h.1M418,304h.1M654,340h.1M442,300h.1M340,356h.1M608,378h.1M170,80h.1M258,62h.1M344,364h.1M464,288h.1M456,296h.1M170,94h.1M438,300h.1M342,360h.1M244,62h.1M338,346h.1M624,380h.1M446,298h.1M480,274h.1M230,112h.1M450,298h.1M338,356h.1M484,276h.1M456,294h.1M496,270h.1M470,284h.1M158,96h.1M356,372h.1M164,98h.1M250,64h.1M246,114h.1M242,58h.1M230,116h.1M468,288h.1M172,98h.1M364,376h.1M410,306h.1M476,280h.1M428,302h.1M238,54h.1M474,272h.1M342,338h.1M634,378h.1M248,50h.1M350,366h.1M466,290h.1M160,94h.1M168,78h.1M342,340h.1M178,92h.1M168,96h.1M394,312h.1M364,322h.1M462,292h.1M358,330h.1M254,64h.1M164,94h.1M346,338h.1M610,380h.1M476,282h.1M232,110h.1M346,366h.1M610,378h.1M154,98h.1M354,370h.1M430,302h.1M336,354h.1M236,116h.1M232,118h.1M480,278h.1M246,50h.1M260,52h.1M480,276h.1M478,280h.1M340,354h.1M432,300h.1M170,92h.1M158,98h.1M178,88h.1M234,114h.1M166,96h.1M454,296h.1M498,270h.1M344,336h.1M336,346h.1M358,372h.1M468,286h.1M346,336h.1M342,364h.1M440,300h.1M458,294h.1M160,98h.1M262,58h.1M260,64h.1M340,358h.1M496,268h.1M260,54h.1M416,304h.1M252,44h.1M174,84h.1M346,364h.1M176,92h.1M258,48h.1M246,118h.1M470,280h.1M338,358h.1M472,284h.1M248,64h.1M246,62h.1M340,344h.1M614,380h.1M232,114h.1M454,294h.1M626,378h.1M228,112h.1M172,92h.1M166,94h.1M622,378h.1M478,274h.1M226,114h.1M244,58h.1M160,96h.1M336,348h.1M426,300h.1M176,94h.1M344,338h.1M458,292h.1M466,286h.1M424,302h.1M244,64h.1M342,362h.1M174,88h.1M248,48h.1M498,268h.1M434,298h.1M428,300h.1M348,336h.1M426,302h.1M244,54h.1M368,378h.1M462,288h.1M248,46h.1M470,276h.1M354,328h.1M414,304h.1M228,108h.1M260,50h.1M340,342h.1M248,116h.1M614,382h.1M260,56h.1M620,382h.1M482,274h.1M176,82h.1M174,92h.1M342,358h.1M238,56h.1M250,48h.1M358,374h.1M348,366h.1M442,296h.1M476,272h.1M244,52h.1M240,56h.1M356,374h.1M436,298h.1M436,300h.1M340,360h.1M238,50h.1M244,116h.1M608,380h.1M482,278h.1M344,360h.1M232,108h.1M412,306h.1M240,52h.1M612,380h.1M250,46h.1M226,104h.1M356,330h.1M432,298h.1M252,64h.1M422,300h.1M620,378h.1M616,378h.1M464,290h.1M334,350h.1M614,378h.1M252,48h.1M416,302h.1M248,62h.1M618,380h.1M238,116h.1M624,378h.1M166,100h.1M226,106h.1M446,296h.1M470,282h.1M338,354h.1M174,86h.1M472,280h.1M346,362h.1M460,292h.1M468,282h.1M256,66h.1M224,112h.1M240,54h.1M174,82h.1M166,98h.1M264,60h.1M420,300h.1M638,378h.1M240,58h.1M470,286h.1M462,290h.1M232,112h.1M440,298h.1M480,272h.1M340,346h.1M254,66h.1M468,284h.1M412,304h.1M254,68h.1M248,66h.1M248,114h.1M258,50h.1M252,46h.1M242,60h.1M422,302h.1M628,378h.1M474,278h.1M448,296h.1M338,350h.1M242,48h.1M174,94h.1M360,326h.1M462,286h.1M234,120h.1M242,62h.1M450,294h.1M248,68h.1M232,120h.1M444,298h.1M484,278h.1M256,48h.1M356,328h.1M244,56h.1M240,50h.1M616,382h.1M244,50h.1M252,66h.1M174,90h.1M244,48h.1M242,56h.1M232,116h.1M254,46h.1M162,94h.1M620,380h.1M228,110h.1M246,64h.1M230,108h.1M346,368h.1M250,66h.1M370,380h.1M354,332h.1M476,278h.1M466,288h.1M364,324h.1M362,324h.1M444,296h.1M338,348h.1M244,118h.1M484,274h.1M240,116h.1M194,354h.1M232,488h.1M224,378h.1M244,248h.1M198,284h.1M88,262h.1M224,320h.1M418,270h.1M286,412h.1M434,298h.1M158,456h.1M210,308h.1M82,362h.1M170,326h.1M304,592h.1M212,242h.1M264,426h.1M144,374h.1M256,534h.1M272,458h.1M102,424h.1M112,280h.1M76,196h.1M404,156h.1M430,296h.1M344,338h.1M116,470h.1M270,356h.1M210,176h.1M292,196h.1M276,266h.1M220,516h.1M318,208h.1M250,494h.1M236,562h.1M160,356h.1M220,362h.1M294,494h.1M106,256h.1M306,214h.1M346,188h.1M364,200h.1M260,472h.1M76,452h.1M212,112h.1M242,496h.1M72,444h.1M262,488h.1M184,550h.1M94,246h.1M178,98h.1M188,262h.1M270,310h.1M324,242h.1M212,254h.1M168,380h.1M322,332h.1M324,296h.1M110,454h.1M102,386h.1M230,408h.1M124,446h.1M94,242h.1M206,402h.1M348,158h.1M66,224h.1M268,570h.1M268,188h.1M188,356h.1M78,208h.1M258,550h.1M122,346h.1M272,474h.1M224,190h.1M182,286h.1M128,454h.1M314,384h.1M304,396h.1M170,184h.1M240,264h.1M404,212h.1M414,138h.1M254,474h.1M258,382h.1M214,406h.1M192,482h.1M228,230h.1M190,410h.1M330,174h.1M238,490h.1M86,416h.1M200,266h.1M234,414h.1M266,438h.1M168,178h.1M174,220h.1M398,242h.1M174,332h.1M66,232h.1M314,166h.1M176,140h.1M264,416h.1M206,406h.1M156,422h.1M290,558h.1M144,244h.1M178,388h.1M270,354h.1M130,242h.1M242,574h.1M358,138h.1M260,262h.1M128,458h.1M84,262h.1M222,450h.1M212,398h.1M296,180h.1M260,364h.1M148,280h.1M182,226h.1" stroke="#5757B6" stroke-width="2.8" stroke-linecap="round" fill="none"/>
</g></g>
<g transform="translate(184.1,381.1) scale(0.24272)">
<use href="#sil" fill="#848484"/>
<g clip-path="url(#silc)"><g filter="url(#bl)">
<path d="M485,311l0,4l10,10l18,10l24,8l8,0l2,-2l0,-4l-10,-10l-18,-10l-24,-8l-8,0zM419,281l2,6l12,0l4,-4l0,-2l-4,2l-4,-4zM411,271l0,4l4,6l-4,-6l4,-2l0,-2zM198,230h2v2h-2zM241,53l2,2l-2,2l-4,-2l2,2l-4,2l-2,4l-4,0l-12,14l-2,-2l2,6l-6,8l2,6l-4,8l2,6l-4,8l-2,-2l-8,0l-2,2l-6,-6l-2,2l-4,-2l-4,2l-2,-2l2,-2l-8,-6l2,-2l-2,-10l-2,0l-2,4l2,4l-4,6l-2,-2l-6,2l2,2l2,-2l2,2l-2,4l6,2l2,6l-2,2l4,2l-2,4l4,4l-2,2l6,4l-2,8l6,2l-2,4l2,2l-2,2l0,8l2,2l-2,2l0,10l2,2l-2,2l-4,-2l0,4l-4,2l-4,6l2,2l-2,2l0,6l4,2l-2,4l2,6l4,2l-2,4l2,6l-2,6l2,2l-4,4l-8,0l-2,2l-6,-2l-2,2l-6,-4l2,-2l-4,2l-8,-2l-2,2l-18,-10l-4,2l-2,-4l-4,-2l-4,2l-2,-4l-6,2l-2,-4l-6,-4l2,-6l-12,0l-6,-4l-6,2l-4,-4l2,-4l-4,2l-6,-2l-4,4l4,14l-2,2l2,4l-2,4l4,2l0,4l2,0l2,4l10,6l-2,2l8,2l4,4l2,-2l2,4l6,2l4,6l8,-2l2,2l-2,2l10,6l-2,4l4,2l-2,2l2,2l-2,4l4,4l-2,2l8,-2l4,4l-2,4l10,-2l2,2l-2,2l6,-2l2,2l-2,6l6,-2l8,6l4,-2l4,2l14,0l-2,-2l2,-2l4,0l16,-12l2,2l2,-2l4,2l4,-2l6,-10l2,2l2,-2l4,2l2,-2l2,2l6,0l2,-2l4,8l-2,4l0,12l-2,2l-2,-2l-6,0l-2,2l-4,-2l2,4l-4,4l-2,-2l-6,6l2,2l-2,2l-14,2l-12,10l-4,-2l-4,4l-2,-2l-8,2l2,4l-2,2l-10,-2l-2,4l-8,0l-6,6l-2,-2l-6,2l-2,-2l-6,2l-4,-2l-2,4l-4,0l-6,4l-4,-2l-6,4l-6,-2l-4,6l-4,-2l2,2l-2,2l2,4l-8,6l2,4l-4,2l-2,6l4,12l-2,2l2,2l-2,6l2,2l0,22l2,2l-2,6l2,-2l2,4l4,2l-2,2l2,6l-2,2l2,4l-2,6l2,4l4,2l-2,4l8,6l2,4l-2,4l8,6l2,-2l2,6l4,-2l4,6l6,-2l2,2l-2,2l4,4l6,0l2,4l8,0l2,-2l4,2l2,-2l2,4l2,-2l4,4l4,-2l4,2l2,-2l10,2l4,4l0,6l6,4l-2,4l2,2l-2,2l2,0l2,6l4,2l-2,2l4,12l2,-2l6,6l0,4l6,2l-2,6l2,-2l6,2l-2,4l4,6l4,0l8,6l38,12l24,12l14,0l8,-6l4,0l-2,-2l8,-6l2,-4l-2,-4l2,-2l2,2l0,-6l-6,-6l2,-2l-2,-2l2,-2l-2,-6l4,-2l-2,-4l2,-2l-2,-4l2,-4l-6,-4l2,-2l-2,-4l2,-6l-4,-8l2,-4l-6,0l-2,-2l2,-2l-2,-2l2,-2l-2,-8l-6,-2l2,-2l-2,-2l2,-2l-2,-4l2,-2l-6,-2l2,-2l-4,-12l2,-2l-2,-4l2,-2l-2,-2l4,-4l-2,-2l2,-4l-4,-4l2,-4l-2,-2l2,-2l0,-10l4,-2l-2,-2l4,-6l4,2l0,-10l2,-2l-2,-4l4,-6l-2,-2l2,-2l6,0l-2,-4l4,-4l0,-4l6,-4l4,-10l-2,-4l-4,4l-2,-2l-10,2l-8,-4l2,-6l-6,-4l-2,-8l-2,2l-2,-2l0,-6l-2,2l-2,-2l0,-6l-2,2l-4,-8l-4,2l-2,-4l-4,0l-4,-4l2,-4l-10,-8l0,-4l-6,2l-4,-4l2,-2l-2,-2l2,-2l-2,-10l6,-6l2,2l0,-2l8,-6l6,0l2,2l2,-2l14,0l4,-6l4,2l6,-6l2,2l2,-4l-2,-4l2,-2l12,0l6,-8l0,-6l10,-8l4,2l0,-6l2,-2l2,2l4,-2l2,2l2,-2l2,2l6,0l4,4l2,-2l6,2l8,6l0,4l4,-2l4,8l2,-2l4,4l4,0l-6,-14l2,-4l-2,-2l2,-4l-2,-2l4,-4l-2,-10l2,-2l0,-6l2,-2l2,2l2,-8l6,-4l2,-10l6,-4l-2,-4l2,-4l-2,-2l4,-2l0,-6l2,-2l-2,-2l2,-4l-2,2l-6,-6l2,-2l-4,-4l2,-2l-2,2l-4,-2l2,-4l-12,-2l-2,-4l-2,2l-10,-4l-4,2l-8,-6l-16,0l-2,2l-6,-2l-4,6l-4,2l-4,-2l-2,4l-2,-2l0,4l-4,2l0,4l-2,2l-2,-2l-6,4l2,4l-4,2l-2,6l-2,-2l2,4l-4,4l-6,-2l2,4l-2,2l-2,-2l-2,6l-6,0l-2,2l-2,-2l-2,4l-6,2l-2,4l-6,-2l-2,6l-2,-2l-8,6l-2,-2l-4,4l-2,-2l-2,6l-4,-2l-8,6l-2,-2l-4,2l-2,-2l-8,2l-4,-6l2,-4l-2,-12l-4,-4l2,-2l-2,-4l2,-4l-4,-2l2,-6l-4,-2l0,-6l2,-2l-2,-4l2,-4l-2,-2l2,-2l-2,-2l2,-10l-2,-2l4,-4l2,2l2,-2l2,2l10,0l4,-4l2,2l0,-4l-8,-6l-2,2l-4,-2l-2,2l-6,-4l2,-4l-4,-6l2,-4l-2,-6l4,-4l2,2l-2,-6l2,-6l6,-2l-2,-4l2,-2l-4,-2l2,-2l10,2l4,-2l4,-6l2,2l6,-2l2,-4l-2,-2zM315,601l2,-2l2,2l-2,2zM319,551l2,-2l2,2l-2,2zM155,511l2,-2l2,2l-2,2zM121,501l2,-2l2,2l-2,2zM95,485l2,-2l2,2l-2,2zM73,387l2,-2l2,2l-2,2zM323,385l2,-2l2,2l-2,2zM143,343l2,-2l2,2l-2,2zM285,337l2,-2l2,2l-2,2zM199,321l2,-2l2,2l-2,2zM213,311l2,-2l2,2l-2,2zM151,303l2,-2l2,2l-2,2zM147,301l2,-2l2,2l-2,2zM255,291l2,-2l2,2l-2,2zM207,283l2,-2l2,2l-2,2zM111,281l2,-2l2,2l-2,2zM303,275l2,-2l2,2l-2,2zM175,265l2,-2l2,2l-2,2zM399,259l2,-2l2,2l-2,2zM391,257l2,-2l2,2l-2,2zM91,257l2,-2l2,2l-2,2zM397,253l2,-2l2,2l-2,2zM75,245l2,-2l2,2l-2,2zM367,241l2,-2l2,2l-2,2zM127,233l2,-2l2,2l-2,2zM123,231l2,-2l2,2l-2,2zM57,231l2,-2l2,2l-2,2zM217,213l2,-2l2,2l-2,2zM403,207l2,-2l2,2l-2,2zM247,207l2,-2l2,2l-2,2zM169,207l2,-2l2,2l-2,2zM405,203l2,-2l2,2l-2,2zM261,199l2,-2l2,2l-2,2zM413,189l2,-2l2,2l-2,2zM173,185l2,-2l2,2l-2,2zM323,155l2,-2l2,2l-2,2zM211,147l4,10l-2,4l4,8l-2,2l2,4l-2,4l4,2l-2,6l2,4l-2,2l2,4l-2,2l2,2l-2,12l4,4l-2,2l2,12l-4,6l-2,-2l-10,0l-2,2l-2,-2l2,4l-2,2l6,4l-2,2l2,2l-2,4l0,10l-4,4l-4,-2l-8,0l-2,2l-10,-4l0,-10l-2,-2l2,-2l0,-6l4,-2l2,-6l14,2l-2,-4l-2,2l-4,-2l-6,2l-2,-2l0,-12l-2,-2l6,-8l4,0l-2,-2l4,-2l0,-6l-4,-6l2,-4l0,-6l-2,-2l4,-2l-2,-6l2,-2l0,-8l-2,-4l2,-2l2,2l-2,-2l4,-6l-2,-2l2,-2l12,0zM405,145l2,-2l2,2l-2,2zM169,127l2,-2l2,2l-2,2zM189,115l2,-2l2,2l-2,2zM187,113l2,-2l2,2l-2,2zM217,109l2,-2l2,2l-2,2zM171,107l2,-2l2,2l-2,2zM167,95l2,-2l4,2l-2,2zM235,67l2,-2l2,2l-2,2zM251,57l2,-2l2,2l-2,2z" fill="#3389BC"/>
<path d="M497,317l6,8l14,8l14,2l2,2l2,-2l-6,-8l-14,-8l-14,-2l-2,-2zM419,281l2,4l10,-2l-2,-4zM411,271l0,4l4,6l-4,-6l4,-2l0,-2zM198,230h2v2h-2zM241,53l2,2l-2,2l-4,-2l2,2l-4,2l-2,4l-4,0l-12,14l-2,-2l2,6l-6,8l2,6l-4,8l2,6l-4,8l-2,-2l-8,0l-2,2l-6,-6l-2,2l-4,-2l-4,2l-2,-2l2,-2l-8,-6l2,-2l-2,-10l-2,0l-2,4l2,4l-4,6l-2,-2l-6,2l2,2l2,-2l2,2l-2,4l6,2l2,6l-2,2l4,2l-2,4l4,4l-2,2l6,4l-2,8l6,2l-2,4l2,2l-2,2l0,8l2,2l-2,2l0,10l2,2l-2,2l-4,-2l0,4l-4,2l-4,6l2,2l-2,2l0,6l4,2l-2,4l2,6l4,2l-2,4l2,6l-2,6l2,2l-4,4l-8,0l-2,2l-6,-2l-2,2l-6,-4l2,-2l-4,2l-8,-2l-2,2l-18,-10l-4,2l-2,-4l-4,-2l-4,2l-2,-4l-6,2l-2,-4l-6,-4l2,-6l-12,0l-6,-4l-6,2l-4,-4l2,-4l-4,2l-6,-2l-4,4l4,14l-2,2l2,4l-2,4l4,2l0,4l2,0l2,4l10,6l-2,2l8,2l4,4l2,-2l2,4l6,2l4,6l8,-2l2,2l-2,2l10,6l-2,4l4,2l-2,2l2,2l-2,4l4,4l-2,2l8,-2l4,4l-2,4l10,-2l2,2l-2,2l6,-2l2,2l-2,6l6,-2l8,6l4,-2l4,2l14,0l-2,-2l2,-2l4,0l16,-12l2,2l2,-2l4,2l4,-2l6,-10l2,2l2,-2l4,2l2,-2l2,2l6,0l2,-2l4,8l-2,4l0,12l-2,2l-2,-2l-6,0l-2,2l-4,-2l2,4l-4,4l-2,-2l-6,6l2,2l-2,2l-14,2l-12,10l-4,-2l-4,4l-2,-2l-8,2l2,4l-2,2l-10,-2l-2,4l-8,0l-6,6l-2,-2l-6,2l-2,-2l-6,2l-4,-2l-2,4l-4,0l-6,4l-4,-2l-6,4l-6,-2l-4,6l-4,-2l2,2l-2,2l2,4l-8,6l2,4l-4,2l-2,6l4,12l-2,2l2,2l-2,6l2,2l0,22l2,2l-2,6l2,-2l2,4l4,2l-2,2l2,6l-2,2l2,4l-2,6l2,4l4,2l-2,4l8,6l2,4l-2,4l8,6l2,-2l2,6l4,-2l4,6l6,-2l2,2l-2,2l4,4l6,0l2,4l8,0l2,-2l4,2l2,-2l2,4l2,-2l4,4l4,-2l4,2l2,-2l10,2l4,4l0,6l6,4l-2,4l2,2l-2,2l2,0l2,6l4,2l-2,2l4,12l2,-2l6,6l0,4l6,2l-2,6l2,-2l6,2l-2,4l4,4l18,6l30,2l26,20l18,0l10,-8l6,-12l0,-6l-4,-4l2,-2l-2,-2l2,-2l-2,-6l4,-2l-2,-4l2,-2l-2,-4l2,-4l-6,-4l2,-2l-2,-4l2,-6l-4,-8l2,-4l-6,0l-2,-2l2,-2l-2,-2l2,-2l-2,-8l-6,-2l2,-2l-2,-2l2,-2l-2,-4l2,-2l-6,-2l2,-2l-4,-12l2,-2l-2,-4l2,-2l-2,-2l4,-4l-2,-2l2,-4l-4,-4l2,-4l-2,-2l2,-2l0,-10l4,-2l-2,-2l4,-6l4,2l0,-10l2,-2l-2,-4l4,-6l-2,-2l2,-2l6,0l-2,-4l4,-4l0,-4l6,-4l2,-8l-2,-4l-2,2l-2,-2l-10,2l-8,-4l2,-6l-6,-4l-2,-8l-2,2l-2,-2l0,-6l-2,2l-2,-2l0,-6l-2,2l-4,-8l-4,2l-2,-4l-4,0l-4,-4l2,-4l-10,-8l0,-4l-6,2l-4,-4l2,-2l-2,-2l2,-2l-2,-10l6,-6l2,2l0,-2l8,-6l6,0l2,2l2,-2l14,0l4,-6l4,2l6,-6l2,2l2,-4l-2,-4l2,-2l12,0l6,-8l0,-6l10,-8l4,2l0,-6l2,-2l2,2l4,-2l2,2l2,-2l2,2l6,0l4,4l2,-2l6,2l8,6l0,4l4,-2l4,8l2,-2l4,4l4,0l-6,-14l2,-4l-2,-2l2,-4l-2,-2l4,-4l-2,-10l2,-2l0,-6l2,-2l2,2l2,-8l6,-4l2,-10l6,-4l-2,-4l2,-4l-2,-2l4,-2l0,-6l2,-2l-2,-2l2,-4l-2,2l-6,-6l2,-2l-4,-4l2,-2l-2,2l-4,-2l2,-4l-12,-2l-2,-4l-2,2l-10,-4l-4,2l-8,-6l-16,0l-2,2l-6,-2l-4,6l-4,2l-4,-2l-2,4l-2,-2l0,4l-4,2l0,4l-2,2l-2,-2l-6,4l2,4l-4,2l-2,6l-2,-2l2,4l-4,4l-6,-2l2,4l-2,2l-2,-2l-2,6l-6,0l-2,2l-2,-2l-2,4l-6,2l-2,4l-6,-2l-2,6l-2,-2l-8,6l-2,-2l-4,4l-2,-2l-2,6l-4,-2l-8,6l-2,-2l-4,2l-2,-2l-8,2l-4,-6l2,-4l-2,-12l-4,-4l2,-2l-2,-4l2,-4l-4,-2l2,-6l-4,-2l0,-6l2,-2l-2,-4l2,-4l-2,-2l2,-2l-2,-2l2,-10l-2,-2l4,-4l2,2l2,-2l2,2l10,0l4,-4l2,2l0,-4l-8,-6l-2,2l-4,-2l-2,2l-6,-4l2,-4l-4,-6l2,-4l-2,-6l4,-4l2,2l-2,-6l2,-6l6,-2l-2,-4l2,-2l-4,-2l2,-2l10,2l4,-2l4,-6l2,2l6,-2l2,-4l-2,-2zM315,601l2,-2l2,2l-2,2zM319,551l2,-2l2,2l-2,2zM155,511l2,-2l2,2l-2,2zM121,501l2,-2l2,2l-2,2zM95,485l2,-2l2,2l-2,2zM73,387l2,-2l2,2l-2,2zM323,385l2,-2l2,2l-2,2zM143,343l2,-2l2,2l-2,2zM285,337l2,-2l2,2l-2,2zM199,321l2,-2l2,2l-2,2zM213,311l2,-2l2,2l-2,2zM151,303l2,-2l2,2l-2,2zM147,301l2,-2l2,2l-2,2zM255,291l2,-2l2,2l-2,2zM207,283l2,-2l2,2l-2,2zM111,281l2,-2l2,2l-2,2zM303,275l2,-2l2,2l-2,2zM175,265l2,-2l2,2l-2,2zM399,259l2,-2l2,2l-2,2zM391,257l2,-2l2,2l-2,2zM91,257l2,-2l2,2l-2,2zM397,253l2,-2l2,2l-2,2zM75,245l2,-2l2,2l-2,2zM367,241l2,-2l2,2l-2,2zM127,233l2,-2l2,2l-2,2zM123,231l2,-2l2,2l-2,2zM57,231l2,-2l2,2l-2,2zM217,213l2,-2l2,2l-2,2zM403,207l2,-2l2,2l-2,2zM247,207l2,-2l2,2l-2,2zM169,207l2,-2l2,2l-2,2zM405,203l2,-2l2,2l-2,2zM261,199l2,-2l2,2l-2,2zM413,189l2,-2l2,2l-2,2zM173,185l2,-2l2,2l-2,2zM323,155l2,-2l2,2l-2,2zM211,147l4,10l-2,4l4,8l-2,2l2,4l-2,4l4,2l-2,6l2,4l-2,2l2,4l-2,2l2,2l-2,12l4,4l-2,2l2,12l-4,6l-2,-2l-10,0l-2,2l-2,-2l2,4l-2,2l6,4l-2,2l2,2l-2,4l0,10l-4,4l-4,-2l-8,0l-2,2l-10,-4l0,-10l-2,-2l2,-2l0,-6l4,-2l2,-6l14,2l-2,-4l-2,2l-4,-2l-6,2l-2,-2l0,-12l-2,-2l6,-8l4,0l-2,-2l4,-2l0,-6l-4,-6l2,-4l0,-6l-2,-2l4,-2l-2,-6l2,-2l0,-8l-2,-4l2,-2l2,2l-2,-2l4,-6l-2,-2l2,-2l12,0zM405,145l2,-2l2,2l-2,2zM169,127l2,-2l2,2l-2,2zM189,115l2,-2l2,2l-2,2zM187,113l2,-2l2,2l-2,2zM217,109l2,-2l2,2l-2,2zM171,107l2,-2l2,2l-2,2zM167,95l2,-2l4,2l-2,2zM235,67l2,-2l2,2l-2,2zM251,57l2,-2l2,2l-2,2z" fill="#479FB3"/>
<path d="M418,278h6v4h-6zM411,271l2,8l2,0l-4,-4l4,-2l0,-2zM198,230h2v2h-2zM241,53l2,2l-2,2l-4,-2l2,2l-4,2l-2,4l-4,0l-12,14l-2,-2l2,6l-6,8l2,6l-4,8l2,6l-4,8l-2,-2l-8,0l-2,2l-6,-6l-2,2l-4,-2l-4,2l-2,-2l2,-2l-8,-6l2,-2l-2,-10l-2,0l-2,4l2,4l-4,6l-2,-2l-6,2l2,2l2,-2l2,2l-2,4l6,2l2,6l-2,2l4,2l-2,4l4,4l-2,2l6,4l-2,8l6,2l-2,4l2,2l-2,2l0,8l2,2l-2,2l0,10l2,2l-2,2l-4,-2l0,4l-4,2l-4,6l2,2l-2,2l0,6l4,2l-2,4l2,6l4,2l-2,4l2,6l-2,6l2,2l-4,4l-8,0l-2,2l-6,-2l-2,2l-6,-4l2,-2l-4,2l-8,-2l-2,2l-18,-10l-4,2l-2,-4l-4,-2l-4,2l-2,-4l-6,2l-2,-4l-6,-4l2,-6l-12,0l-6,-4l-6,2l-4,-4l2,-4l-4,2l-6,-2l-4,4l4,14l-2,2l2,4l-2,4l4,2l0,4l2,0l2,4l10,6l-2,2l8,2l4,4l2,-2l2,4l6,2l4,6l8,-2l2,2l-2,2l10,6l-2,4l4,2l-2,2l2,2l-2,4l4,4l-2,2l8,-2l4,4l-2,4l10,-2l2,2l-2,2l6,-2l2,2l-2,6l6,-2l8,6l4,-2l4,2l14,0l-2,-2l2,-2l4,0l16,-12l2,2l2,-2l4,2l10,-12l2,2l2,-2l4,2l2,-2l2,2l6,0l2,-2l4,8l-2,4l0,12l-2,2l-2,-2l-6,0l-2,2l-4,-2l2,4l-4,4l-2,-2l-6,6l2,2l-2,2l-14,2l-12,10l-4,-2l-4,4l-2,-2l-8,2l2,4l-2,2l-10,-2l-2,4l-8,0l-6,6l-2,-2l-6,2l-2,-2l-6,2l-4,-2l-2,4l-4,0l-6,4l-4,-2l-6,4l-6,-2l-4,6l-4,-2l2,2l-2,2l2,4l-8,6l2,4l-4,2l-2,6l4,12l-2,2l2,2l-2,6l2,2l0,22l2,2l-2,6l2,-2l2,4l4,2l-2,2l2,6l-2,2l2,4l-2,6l2,4l4,2l-2,4l8,6l2,4l-2,4l8,6l2,-2l2,6l4,-2l4,6l6,-2l2,2l-2,2l4,4l6,0l2,4l8,0l2,-2l4,2l2,-2l2,4l2,-2l4,4l4,-2l4,2l2,-2l10,2l4,4l0,6l6,4l-2,4l2,2l-2,2l2,0l2,6l4,2l-2,2l4,12l2,-2l6,6l0,4l4,0l2,2l-2,2l6,2l4,6l18,2l16,-8l20,0l12,6l6,6l6,18l6,4l10,-2l10,-14l0,-6l2,-2l-2,-2l2,-2l-2,-2l2,-2l-2,-2l2,-2l-2,-2l2,-2l0,-14l-4,-4l2,-2l-2,-4l2,-6l-4,-8l2,-4l-6,0l-2,-2l2,-2l-2,-2l2,-2l-2,-8l-6,-2l2,-2l-2,-2l2,-2l-2,-4l2,-2l-6,-2l2,-2l-4,-12l2,-2l-2,-4l2,-2l-2,-2l4,-4l-2,-2l2,-4l-4,-4l2,-4l-2,-2l2,-2l0,-10l4,-2l-2,-2l4,-6l4,2l0,-10l2,-2l-2,-4l4,-6l-2,-2l2,-2l6,0l-2,-4l4,-4l0,-4l6,-4l0,-6l-4,-6l-10,2l-8,-4l2,-6l-6,-4l-2,-8l-2,2l-2,-2l0,-6l-2,2l-2,-2l0,-6l-2,2l-4,-8l-4,2l-2,-4l-4,0l-4,-4l2,-4l-10,-8l0,-4l-6,2l-4,-4l2,-2l-2,-2l2,-2l-2,-10l6,-6l2,2l0,-2l8,-6l6,0l2,2l2,-2l14,0l4,-6l4,2l6,-6l2,2l2,-4l-2,-4l2,-2l12,0l6,-8l0,-6l10,-8l4,2l0,-6l2,-2l2,2l4,-2l2,2l2,-2l2,2l6,0l4,4l2,-2l6,2l8,6l0,4l4,-2l4,8l2,-2l4,4l4,0l-6,-14l2,-4l-2,-2l2,-4l-2,-2l4,-4l-2,-10l2,-2l0,-6l2,-2l2,2l2,-8l6,-4l2,-10l6,-4l-2,-4l2,-4l-2,-2l4,-2l0,-6l2,-2l-2,-2l2,-4l-2,2l-6,-6l2,-2l-4,-4l2,-2l-2,2l-4,-2l2,-4l-12,-2l-2,-4l-2,2l-10,-4l-4,2l-8,-6l-16,0l-2,2l-6,-2l-4,6l-4,2l-4,-2l-2,4l-2,-2l0,4l-4,2l0,4l-2,2l-2,-2l-6,4l2,4l-4,2l-2,6l-2,-2l2,4l-4,4l-6,-2l2,4l-2,2l-2,-2l-2,6l-6,0l-2,2l-2,-2l-2,4l-6,2l-2,4l-6,-2l-2,6l-2,-2l-8,6l-2,-2l-4,4l-2,-2l-2,6l-4,-2l-8,6l-2,-2l-4,2l-2,-2l-8,2l-4,-6l2,-4l-2,-12l-4,-4l2,-2l-2,-4l2,-4l-4,-2l2,-6l-4,-2l0,-6l2,-2l-2,-4l2,-4l-2,-2l2,-2l-2,-2l2,-10l-2,-2l4,-4l2,2l2,-2l2,2l10,0l4,-4l2,2l0,-4l-8,-6l-2,2l-4,-2l-2,2l-6,-4l2,-4l-4,-6l2,-4l-2,-6l4,-4l2,2l-2,-6l2,-6l6,-2l-2,-4l2,-2l-4,-2l2,-2l10,2l4,-2l4,-6l2,2l6,-2l2,-4l-2,-2zM319,551l2,-2l2,2l-2,2zM155,511l2,-2l2,2l-2,2zM121,501l2,-2l2,2l-2,2zM95,485l2,-2l2,2l-2,2zM73,387l2,-2l2,2l-2,2zM323,385l2,-2l2,2l-2,2zM143,343l2,-2l2,2l-2,2zM285,337l2,-2l2,2l-2,2zM199,321l2,-2l2,2l-2,2zM213,311l2,-2l2,2l-2,2zM151,303l2,-2l2,2l-2,2zM147,301l2,-2l2,2l-2,2zM255,291l2,-2l2,2l-2,2zM207,283l2,-2l2,2l-2,2zM111,281l2,-2l2,2l-2,2zM303,275l2,-2l2,2l-2,2zM175,265l2,-2l2,2l-2,2zM399,259l2,-2l2,2l-2,2zM391,257l2,-2l2,2l-2,2zM91,257l2,-2l2,2l-2,2zM397,253l2,-2l2,2l-2,2zM75,245l2,-2l2,2l-2,2zM367,241l2,-2l2,2l-2,2zM127,233l2,-2l2,2l-2,2zM123,231l2,-2l2,2l-2,2zM57,231l2,-2l2,2l-2,2zM217,213l2,-2l2,2l-2,2zM403,207l2,-2l2,2l-2,2zM247,207l2,-2l2,2l-2,2zM169,207l2,-2l2,2l-2,2zM405,203l2,-2l2,2l-2,2zM261,199l2,-2l2,2l-2,2zM413,189l2,-2l2,2l-2,2zM173,185l2,-2l2,2l-2,2zM323,155l2,-2l2,2l-2,2zM211,147l4,10l-2,4l4,8l-2,2l2,4l-2,4l4,2l-2,6l2,4l-2,2l2,4l-2,2l2,2l-2,12l4,4l-2,2l2,12l-4,6l-2,-2l-10,0l-2,2l-2,-2l2,4l-2,2l6,4l-2,2l2,2l-2,4l0,10l-4,4l-4,-2l-8,0l-2,2l-10,-4l0,-10l-2,-2l2,-2l0,-6l4,-2l2,-6l14,2l-2,-4l-2,2l-4,-2l-6,2l-2,-2l0,-12l-2,-2l6,-8l4,0l-2,-2l4,-2l0,-6l-4,-6l2,-4l0,-6l-2,-2l4,-2l-2,-6l2,-2l0,-8l-2,-4l2,-2l2,2l-2,-2l4,-6l-2,-2l2,-2l12,0zM405,145l2,-2l2,2l-2,2zM169,127l2,-2l2,2l-2,2zM189,115l2,-2l2,2l-2,2zM187,113l2,-2l2,2l-2,2zM217,109l2,-2l2,2l-2,2zM171,107l2,-2l2,2l-2,2zM167,95l2,-2l4,2l-2,2zM235,67l2,-2l2,2l-2,2zM251,57l2,-2l2,2l-2,2z" fill="#5CB6AA"/>
<path d="M198,230h2v2h-2zM241,53l2,2l-2,2l-4,-2l2,2l-4,2l-2,4l-4,0l-12,14l-2,-2l2,6l-6,8l2,6l-4,8l2,6l-4,8l-2,-2l-8,0l-2,2l-6,-6l-2,2l-4,-2l-4,2l-2,-2l2,-2l-8,-6l2,-2l-2,-10l-2,0l-2,4l2,4l-4,6l-2,-2l-6,2l2,2l2,-2l2,2l-2,4l6,2l2,6l-2,2l4,2l-2,4l4,4l-2,2l6,4l-2,8l6,2l-2,4l2,2l-2,2l0,8l2,2l-2,2l0,10l2,2l-2,2l-4,-2l0,4l-4,2l-4,6l2,2l-2,2l0,6l4,2l-2,4l2,6l4,2l-2,4l2,6l-2,6l2,2l-4,4l-8,0l-2,2l-6,-2l-2,2l-6,-4l2,-2l-4,2l-8,-2l-2,2l-18,-10l-4,2l-2,-4l-4,-2l-4,2l-2,-4l-6,2l-2,-4l-6,-4l2,-6l-12,0l-6,-4l-6,2l-4,-4l2,-4l-4,2l-6,-2l-4,4l4,14l-2,2l2,4l-2,4l4,2l0,4l14,10l-2,2l8,2l4,4l2,-2l2,4l6,2l4,6l8,-2l2,2l-2,2l10,6l-2,4l4,2l-2,2l2,2l-2,4l4,4l-2,2l8,-2l4,4l-2,2l2,2l8,-2l2,2l-2,2l6,-2l2,2l-2,4l6,0l8,6l4,-2l4,2l14,0l-2,-2l2,-2l4,0l16,-12l2,2l8,-8l8,-4l2,2l2,-2l4,2l2,-2l2,2l6,0l2,-2l4,8l-2,4l0,12l-2,2l-2,-2l-6,0l-2,2l-4,-2l2,4l-4,4l-2,-2l-6,6l2,2l-2,2l-14,2l-12,10l-4,-2l-4,4l-2,-2l-8,2l2,4l-2,2l-10,-2l-2,4l-8,0l-6,6l-2,-2l-6,2l-2,-2l-6,2l-4,-2l-2,4l-4,0l-6,4l-4,-2l-6,4l-6,-2l-4,6l-4,-2l2,2l-2,2l2,4l-8,6l2,4l-4,2l-2,6l4,12l-2,2l2,2l-2,6l2,2l0,22l2,2l-2,6l2,-2l2,4l4,2l-2,2l2,6l-2,2l2,4l-2,6l2,4l4,2l-2,4l8,6l2,4l-2,4l8,6l2,-2l2,6l4,-2l4,6l6,-2l2,2l-2,2l4,4l6,0l2,4l8,0l2,-2l4,2l2,-2l2,4l2,-2l4,4l4,-2l4,2l2,-2l10,2l4,4l0,6l6,4l-2,4l2,2l-2,2l2,0l2,6l4,2l-2,2l4,12l2,-2l6,6l0,4l4,0l2,4l16,2l12,-8l12,-4l26,0l16,8l12,12l4,10l6,2l4,-6l0,-8l2,-2l0,-46l-2,-6l-6,-2l2,-2l-2,-2l2,-2l-2,-8l-6,-2l2,-2l-2,-2l2,-2l-2,-4l2,-2l-6,-2l2,-2l-4,-12l2,-2l-2,-4l2,-2l-2,-2l4,-4l-2,-2l2,-4l-4,-4l2,-4l-2,-2l2,-2l0,-10l4,-2l-2,-2l4,-6l4,2l0,-10l2,-2l-2,-4l4,-6l-2,-2l2,-2l6,0l-2,-4l4,-4l4,-12l-4,-8l-2,2l-2,-2l-2,2l-8,-2l-2,-2l2,-6l-6,-4l-2,-8l-2,2l-2,-2l0,-6l-2,2l-2,-2l0,-6l-2,2l-4,-8l-4,2l-2,-4l-4,0l-4,-4l2,-4l-10,-8l0,-4l-6,2l-4,-4l2,-2l-2,-2l2,-2l-2,-10l6,-6l2,2l0,-2l8,-6l6,0l2,2l2,-2l12,0l6,-6l2,2l12,-8l-2,-4l2,-2l12,0l6,-8l0,-6l10,-8l4,0l2,-6l2,2l4,-2l2,2l2,-2l2,2l6,0l4,4l2,-2l6,2l8,6l0,4l4,-2l4,8l2,-2l4,4l4,0l-6,-14l2,-4l-2,-2l2,-4l-2,-2l4,-6l-2,-8l2,-2l0,-6l2,-2l2,2l2,-8l12,-18l0,-6l2,-2l-2,-2l4,-2l0,-6l2,-2l-2,-2l2,-4l-2,2l-6,-6l2,-2l-4,-4l2,-2l-2,2l-4,-2l2,-4l-12,-2l-2,-4l-2,2l-10,-4l-4,2l-8,-6l-16,0l-2,2l-6,-2l-4,6l-4,2l-4,-2l-2,4l-2,-2l0,4l-4,2l0,4l-2,2l-2,-2l-6,4l2,4l-4,2l-2,6l-2,-2l2,4l-4,4l-6,-2l2,4l-2,2l-2,-2l-2,6l-6,0l-2,2l-2,-2l-2,4l-6,2l-2,4l-6,-2l-2,6l-2,-2l-8,6l-2,-2l-4,4l-2,-2l-2,6l-4,-2l-8,6l-2,-2l-4,2l-2,-2l-8,2l-4,-6l2,-4l-2,-12l-4,-4l2,-2l-2,-4l2,-4l-4,-2l2,-6l-4,-2l0,-6l2,-2l-2,-4l2,-4l-2,-2l2,-2l-2,-2l2,-10l-2,-2l4,-4l2,2l2,-2l2,2l10,0l4,-4l2,2l0,-4l-8,-6l-2,2l-4,-2l-2,2l-6,-4l2,-4l-4,-6l2,-4l-2,-6l4,-4l2,2l-2,-6l2,-6l6,-2l-2,-4l2,-2l-4,-2l2,-2l10,2l4,-2l4,-6l2,2l6,-2l2,-4l-2,-2zM155,511l2,-2l2,2l-2,2zM121,501l2,-2l2,2l-2,2zM95,485l2,-2l2,2l-2,2zM73,387l2,-2l2,2l-2,2zM323,385l2,-2l2,2l-2,2zM143,343l2,-2l2,2l-2,2zM285,337l2,-2l2,2l-2,2zM199,321l2,-2l2,2l-2,2zM213,311l2,-2l2,2l-2,2zM151,303l2,-2l2,2l-2,2zM147,301l2,-2l2,2l-2,2zM255,291l2,-2l2,2l-2,2zM111,281l2,-2l2,2l-2,2zM303,275l2,-2l2,2l-2,2zM175,265l2,-2l2,2l-2,2zM399,259l2,-2l2,2l-2,2zM391,257l2,-2l2,2l-2,2zM91,257l2,-2l2,2l-2,2zM397,253l2,-2l2,2l-2,2zM75,245l2,-2l2,2l-2,2zM367,241l2,-2l2,2l-2,2zM127,233l2,-2l2,2l-2,2zM123,231l2,-2l2,2l-2,2zM57,231l2,-2l2,2l-2,2zM217,213l2,-2l2,2l-2,2zM403,207l2,-2l2,2l-2,2zM247,207l2,-2l2,2l-2,2zM169,207l2,-2l2,2l-2,2zM405,203l2,-2l2,2l-2,2zM261,199l2,-2l2,2l-2,2zM413,189l2,-2l2,2l-2,2zM173,185l2,-2l2,2l-2,2zM323,155l2,-2l2,2l-2,2zM211,147l4,10l-2,4l4,8l-2,2l2,4l-2,4l4,2l-2,6l2,4l-2,2l2,4l-2,2l2,2l-2,12l4,4l-2,2l2,12l-4,6l-2,-2l-10,0l-2,2l-2,-2l2,4l-2,2l6,4l-2,2l2,2l-2,4l0,10l-4,4l-4,-2l-8,0l-2,2l-10,-4l0,-10l-2,-2l2,-2l0,-6l4,-2l2,-6l14,2l-2,-4l-2,2l-4,-2l-6,2l-2,-2l0,-12l-2,-2l10,-12l0,-10l-2,-2l2,-4l0,-6l-2,-2l4,-2l-2,-6l2,-2l0,-8l-2,-4l2,-2l2,2l-2,-2l4,-6l-2,-2l2,-2l12,0zM405,145l2,-2l2,2l-2,2zM169,127l2,-2l2,2l-2,2zM189,115l2,-2l2,2l-2,2zM187,113l2,-2l2,2l-2,2zM217,109l2,-2l2,2l-2,2zM171,107l2,-2l2,2l-2,2zM167,95l2,-2l4,2l-2,2zM235,67l2,-2l2,2l-2,2zM251,57l2,-2l2,2l-2,2z" fill="#74C7A5"/>
<path d="M189,237l2,-2l6,2l0,-2l-6,0zM241,53l2,2l-2,2l-4,-2l2,2l-4,2l-2,4l-4,0l-12,14l-2,-2l2,6l-6,8l2,6l-4,8l2,6l-4,8l-2,-2l-8,0l-2,2l-6,-6l-14,6l10,40l8,0l2,-4l-2,-2l2,-2l12,0l2,-2l4,2l0,6l2,2l-2,2l4,10l-2,2l2,4l-2,4l4,2l-2,6l2,4l-2,2l2,4l-2,2l2,2l-2,12l4,4l-2,2l2,12l-4,6l-2,-2l-10,0l-2,2l-2,-2l2,4l-2,2l6,4l-2,2l2,2l-2,4l0,10l-4,4l-4,-2l-8,0l-2,2l-10,-4l0,-10l-2,-2l2,-2l0,-6l4,-2l0,-4l4,-2l-4,-2l0,-12l-2,-2l2,-2l-2,-8l4,-14l-2,-22l-2,4l2,2l-8,6l-2,6l0,14l4,10l-2,6l8,14l-8,6l-38,0l-34,-12l-24,-12l-16,-4l4,8l24,22l12,6l12,12l4,20l38,20l24,0l24,-20l10,-4l8,4l2,-2l2,2l6,0l2,-2l4,8l-2,4l0,12l-2,2l-2,-2l-6,0l-2,2l-4,-2l2,4l-4,4l-2,-2l-6,6l2,2l-2,2l-14,2l-12,10l-4,-2l-4,4l-2,-2l-8,2l2,4l-2,2l-10,-2l-2,4l-8,0l-6,6l-2,-2l-6,2l-2,-2l-6,2l-4,-2l-2,4l-4,0l-6,4l-4,-2l-6,4l-6,-2l-4,6l-4,-2l2,2l-2,2l2,4l-8,6l2,4l-4,2l-2,6l4,12l-2,2l2,2l-2,6l2,2l0,22l2,2l-2,6l2,-2l2,4l4,2l-2,2l2,6l-2,2l2,4l-2,6l2,4l4,2l-2,4l8,6l2,4l-2,4l8,6l2,-2l2,6l4,-2l4,6l6,-2l2,2l-2,2l4,4l6,0l2,4l8,0l2,-2l4,2l2,-2l2,4l6,-2l2,4l2,-2l4,2l2,-2l10,2l4,4l0,6l6,4l-2,4l2,2l-2,2l2,0l2,6l4,2l-2,2l2,6l8,8l8,4l8,0l8,-6l18,-8l26,-2l2,2l14,2l22,14l4,0l4,-4l2,-26l-2,-2l0,-10l-4,-2l2,-2l-2,-2l2,-2l-2,-6l-6,-4l2,-2l-2,-2l2,-4l-2,-4l-4,-2l2,-2l-4,-12l2,-2l-2,-4l2,-2l-2,-2l2,-2l0,-10l-2,-2l2,-4l-2,-2l2,-2l0,-10l4,-2l-2,-2l4,-6l2,2l2,-4l0,-6l2,-2l-2,-4l4,-6l-2,-2l2,-2l6,0l-2,-4l4,-4l2,-6l-2,-2l2,-2l-6,-10l-4,2l-8,-4l2,-6l-6,-4l-2,-8l-2,2l-2,-2l0,-6l-2,2l-2,-2l0,-6l-2,2l-4,-8l-4,2l-2,-4l-4,0l-4,-4l2,-4l-10,-8l0,-4l-6,2l-4,-4l2,-2l-2,-2l2,-2l-2,-10l16,-12l12,0l12,-4l18,-10l-2,-2l2,-2l10,-2l8,-8l0,-4l16,-14l10,0l2,2l6,0l4,4l2,-2l6,2l8,6l0,4l4,-2l2,4l6,2l0,-10l-2,-2l2,-20l4,-14l20,-36l0,-14l-4,-4l2,-2l-4,-4l2,-2l-4,2l-2,-2l2,-4l-12,-2l-2,-4l-2,2l-10,-4l-4,2l-8,-6l-16,0l-2,2l-6,-2l-4,6l-4,2l-4,-2l-2,4l-2,-2l0,4l-4,2l0,4l-2,2l-2,-2l-6,4l2,4l-4,2l-2,6l-2,-2l2,4l-4,4l-6,-2l2,4l-2,2l-2,-2l-2,6l-6,0l-2,2l-2,-2l-2,4l-6,2l-2,4l-6,-2l-2,6l-2,-2l-8,6l-2,-2l-4,4l-2,-2l-2,6l-4,-2l-8,6l-2,-2l-4,2l-2,-2l-8,2l-4,-6l2,-4l-2,-12l-4,-4l2,-2l-2,-4l2,-4l-4,-2l2,-6l-4,-2l0,-6l2,-2l-2,-4l2,-4l-2,-2l2,-2l-2,-2l2,-10l-2,-2l4,-4l2,2l2,-2l2,2l10,0l4,-4l2,2l0,-4l-8,-6l-2,2l-4,-2l-2,2l-6,-4l2,-4l-4,-6l2,-4l-2,-6l6,-6l-2,-2l4,-8l2,2l2,-4l-2,-2l2,-2l-4,-2l2,-2l10,2l4,-2l4,-6l2,2l6,-2l2,-4l-2,-2zM121,501l2,-2l2,2l-2,2zM95,485l2,-2l2,2l-2,2zM73,387l2,-2l2,2l-2,2zM143,343l2,-2l2,2l-2,2zM285,337l2,-2l2,2l-2,2zM199,321l2,-2l2,2l-2,2zM213,311l2,-2l2,2l-2,2zM255,291l2,-2l2,2l-2,2zM175,265l2,-2l2,2l-2,2zM367,241l2,-2l2,2l-2,2zM217,213l2,-2l2,2l-2,2zM247,207l2,-2l2,2l-2,2zM261,199l2,-2l2,2l-2,2zM173,185l2,-2l2,2l-2,2zM323,155l2,-2l2,2l-2,2zM405,145l2,-2l2,2l-2,2zM189,115l2,-2l2,2l-2,2zM187,113l2,-2l2,2l-2,2zM217,109l2,-2l2,2l-2,2zM235,67l2,-2l2,2l-2,2zM251,57l2,-2l2,2l-2,2z" fill="#8FD2A4"/>
<path d="M194,152h2v2h-2zM249,53l-2,2l-6,-2l2,2l-2,2l-4,-2l2,2l-4,2l-2,4l-4,0l-12,14l-2,-2l2,6l-6,8l2,6l-4,8l2,6l-4,8l-2,-2l-8,0l-2,2l-2,-2l-2,2l2,30l2,2l12,0l2,-2l4,2l0,6l2,2l-2,4l4,8l-2,2l2,4l-2,4l4,2l-2,6l2,4l-2,2l2,4l-2,2l2,2l-2,12l4,4l-2,2l2,4l0,8l-2,2l2,2l-2,2l-12,-2l-4,4l0,4l4,2l-2,2l2,4l-2,2l0,10l-4,4l-4,-2l0,10l4,4l10,-4l10,0l6,6l6,-2l4,8l-2,4l0,12l-2,2l-2,-2l-6,0l-2,2l-4,-2l2,4l-4,4l-2,-2l-6,6l2,2l-2,2l-14,2l-12,10l-4,-2l-4,4l-2,-2l-8,2l2,4l-2,2l-10,-2l-2,4l-8,0l-6,6l-2,-2l-6,2l-2,-2l-6,2l-4,-2l-2,4l-4,0l-6,4l-2,-2l-8,4l-6,-2l-4,6l-4,-2l2,2l-2,2l2,4l-8,6l2,4l-4,2l-2,6l4,12l-2,2l2,2l-2,6l2,2l0,22l2,2l-2,6l2,-2l2,4l4,2l-2,2l2,6l-2,2l2,4l-2,6l2,4l4,2l-2,4l8,6l2,4l-2,4l8,6l2,-2l2,6l4,-2l4,6l6,-2l2,2l-2,2l6,4l22,2l2,2l26,4l4,4l0,6l6,4l-2,4l8,14l10,8l8,0l22,-12l14,-2l2,-2l26,0l2,2l14,2l10,6l8,0l2,-2l0,-26l-10,-28l-4,-26l2,-2l0,-12l2,-2l-2,-2l2,-2l0,-10l4,-2l-2,-2l10,-18l-2,-2l4,-6l-2,-2l6,-2l0,-4l4,-6l0,-6l-4,-12l-4,2l-8,-4l2,-6l-6,-4l-2,-8l-2,2l-2,-2l0,-6l-2,2l-2,-2l0,-6l-2,2l-4,-8l-4,2l-2,-4l-4,0l-4,-4l2,-4l-10,-8l0,-4l-6,2l-4,-4l2,-2l-2,-2l2,-2l0,-6l-6,-8l10,-8l30,-6l26,-14l14,-16l16,-14l12,0l30,14l2,-2l0,-14l2,-2l0,-8l4,-12l14,-22l8,-18l0,-10l-2,-6l-6,-4l0,-4l-10,-2l-2,-4l-2,2l-10,-4l-4,2l-8,-6l-16,0l-2,2l-6,-2l-4,6l-4,2l-4,-2l-2,4l-2,-2l0,4l-4,2l0,4l-2,2l-2,-2l-6,4l2,4l-4,2l-2,6l-2,-2l2,4l-4,4l-6,-2l2,4l-2,2l-2,-2l-2,6l-6,0l-2,2l-2,-2l-2,4l-6,2l-2,4l-6,-2l-2,6l-2,-2l-8,6l-2,-2l-4,4l-2,-2l-2,6l-4,-2l-8,8l-4,0l-4,-4l-8,2l-4,-6l2,-8l-6,-12l2,-2l-4,-10l2,-2l-4,-6l0,-30l2,-2l-2,-2l4,-4l18,0l4,-2l0,-2l-8,-6l-2,2l-4,-2l-2,2l-6,-4l2,-4l-4,-6l0,-10l8,-18l4,-4l-4,-2l24,-8l4,-6zM121,501l2,-2l2,2l-2,2zM95,485l2,-2l2,2l-2,2zM73,387l2,-2l2,2l-2,2zM143,343l2,-2l2,2l-2,2zM285,337l2,-2l2,2l-2,2zM199,321l2,-2l2,2l-2,2zM213,311l2,-2l2,2l-2,2zM217,213l2,-2l2,2l-2,2zM247,207l2,-2l2,2l-2,2zM261,199l2,-2l2,2l-2,2zM323,155l2,-2l2,2l-2,2zM405,145l2,-2l2,2l-2,2zM217,109l2,-2l2,2l-2,2z" fill="#ABDDA4"/>
<path d="M241,291l-6,4l0,8l-2,2l-2,-2l-6,0l-2,2l-4,-2l2,4l-4,4l-2,-2l-6,6l2,2l-2,2l-14,2l-12,10l-4,-2l-4,4l-2,-2l-8,2l2,4l-2,2l-10,-2l-2,4l-8,0l-6,6l-2,-2l-6,2l-2,-2l-6,2l-4,-2l-2,4l-4,0l-6,4l-4,-2l-6,4l-6,-2l-4,6l-4,-2l2,2l-2,2l2,4l-8,6l2,4l-4,2l0,8l2,2l-2,2l2,6l-2,2l2,2l-2,6l2,2l0,22l2,2l-2,6l2,-2l2,4l4,2l-2,2l2,6l-2,2l2,4l-2,6l2,4l4,2l-2,4l8,6l2,4l-2,2l2,0l6,8l2,-2l4,6l2,-2l2,4l8,0l8,6l34,4l10,6l4,0l14,22l8,6l8,0l18,-10l12,-4l8,0l2,-2l32,0l20,6l6,-2l0,-16l-10,-36l0,-18l2,-2l0,-8l2,-2l4,-20l10,-20l0,-4l6,-8l0,-16l-2,-4l-10,-4l2,-6l-6,-4l-2,-8l-2,2l-2,-2l0,-6l-2,2l-2,-2l0,-6l-2,2l-4,-8l-4,2l-2,-4l-4,0l-4,-4l2,-4l-10,-8l0,-4l-6,2l-4,-4l2,-2l-2,-2l2,-4l-8,-4zM143,343l2,-2l2,2l-2,2zM285,337l2,-2l2,2l-2,2zM199,321l2,-2l2,2l-2,2zM213,311l2,-2l2,2l-2,2zM411,149l-6,-4l2,-2l-6,0l-2,-4l-2,2l-10,-4l-4,2l-8,-6l-16,0l-2,2l-6,-2l-4,6l-4,2l-4,-2l-2,4l-2,-2l0,4l-4,2l-2,6l-2,-2l-6,4l2,4l-4,2l-2,6l-2,-2l2,4l-4,4l-6,-2l2,4l-2,2l-2,-2l-2,6l-6,0l-2,2l-2,-2l-2,4l-6,2l-2,4l-6,-2l0,4l-2,2l-2,-2l-30,32l-4,-2l0,-8l-6,-8l-6,2l-4,-8l-6,6l0,6l4,4l-2,2l2,12l12,2l2,4l-8,10l-10,-6l-10,0l-2,6l2,2l-2,4l0,10l-4,4l0,4l6,4l18,-8l16,20l12,-8l34,-6l12,-6l20,-18l2,-6l14,-14l28,-10l32,-24l18,-26l0,-16zM217,213l2,-2l2,2l-2,2zM323,155l2,-2l2,2l-2,2zM193,115l0,20l4,12l4,2l4,-12l0,-16l2,-4l-2,-2l-8,0l-2,2z" fill="#C3E79F"/>
<path d="M243,299l-8,0l-2,6l-2,-2l-12,2l2,2l-4,4l-2,-2l-6,6l2,2l-2,2l-14,2l-12,10l-4,-2l-4,4l-2,-2l-8,2l2,4l-2,2l-10,-2l-2,4l-8,0l-6,6l-2,-2l-6,2l-4,-2l-14,4l-6,4l-2,-2l-8,4l-2,-2l-12,8l2,4l-6,6l0,62l2,6l4,2l-2,2l2,6l-2,4l8,20l6,8l12,10l18,8l18,2l2,2l12,0l14,4l20,18l10,0l20,-10l6,0l18,-6l46,0l2,-2l-4,-46l2,-2l0,-8l6,-16l0,-6l16,-32l2,-14l-4,-10l-6,-2l2,-6l-6,-4l-2,-8l-2,2l-2,-2l0,-6l-2,2l-2,-2l0,-6l-2,2l-4,-8l-4,2l-2,-4l-4,0l-4,-4l2,-4l-10,-8l0,-4l-6,2l-4,-4l2,-6zM143,343l2,-2l2,2l-2,2zM285,337l2,-2l2,2l-2,2zM199,321l2,-2l2,2l-2,2zM213,311l2,-2l2,2l-2,2zM213,243l-4,2l-4,10l0,14l2,2l4,0l6,-6l2,-6l0,-12zM225,207l-6,8l2,2l-2,2l2,10l10,0l6,-12l-6,-8zM405,147l-10,-8l-6,0l-2,-2l-4,2l-8,-6l-16,0l-2,2l-6,-2l-4,6l-4,2l-4,-2l-2,4l-2,-2l0,4l-4,2l0,4l-2,2l-2,-2l-6,4l2,4l-4,2l-2,6l-2,-2l2,4l-4,4l-6,-2l2,4l-2,2l-2,-2l-2,6l-6,0l-2,2l-2,-2l-2,4l-6,4l-4,8l0,26l54,-10l30,-12l20,-14l16,-18l6,-12zM323,155l2,-2l2,2l-2,2zM203,115l-6,0l-2,2l0,18l4,6z" fill="#DAF09A"/>
<path d="M293,341l-2,2l-4,-8l-4,2l-2,-4l-4,0l-4,-4l2,-4l-10,-8l0,-4l-6,2l-4,-4l2,-2l-2,-2l-12,-4l-8,0l-12,4l-8,6l-4,0l-2,6l-14,2l-6,4l-2,4l-8,2l-14,8l-70,20l-6,4l-4,8l0,14l-2,2l0,36l2,2l2,22l6,18l14,18l18,10l14,2l2,2l26,2l18,6l6,0l48,-18l6,0l8,-4l6,0l18,-6l6,-8l2,-12l14,-40l14,-26l0,-10l-6,-10l-6,-18l-2,2l-2,-2l0,-6l-2,2l-2,-2zM285,337l2,-2l2,2l-2,2zM199,321l2,-2l2,2l-2,2zM215,249l-4,0l-2,4l0,12l4,0l2,-4zM231,211l-6,0l-6,10l2,6l4,2l8,-6l0,-10zM397,145l-10,-8l-4,2l-8,-6l-16,0l-2,2l-6,-2l-4,6l-4,2l-4,-2l-2,4l-2,-2l0,4l-4,2l0,4l-2,2l-2,-2l-6,4l2,4l-4,2l-2,6l-2,-2l2,4l-4,4l-6,-2l2,4l-2,2l-2,-2l-2,6l-6,0l-2,4l0,10l2,4l10,6l24,0l20,-6l24,-14l16,-16l8,-16zM323,155l2,-2l2,2l-2,2zM201,115l-4,0l0,18l2,0z" fill="#EBF7A0"/>
<path d="M265,313l-6,2l-4,-4l2,-2l-6,0l-2,-2l-12,0l-14,4l-54,34l-24,12l-24,20l-6,8l-6,14l0,26l12,30l12,16l12,8l18,2l2,2l38,-8l30,-14l22,-14l32,-30l18,-28l0,-16l-8,-24l-4,-2l0,-6l-2,2l-4,-8l-4,2l-2,-4l-4,0l-4,-4l2,-4l-10,-8zM285,337l2,-2l2,2l-2,2zM229,213l-6,6l0,6l6,0l2,-4l0,-6zM389,143l-4,-4l-14,-6l-12,0l-2,2l-6,-2l-4,6l-4,2l-4,-2l-2,4l-2,-2l0,4l-4,2l0,4l-2,2l-2,-2l-6,4l2,4l-4,2l-2,6l-2,-2l2,4l-4,4l-6,-2l2,4l-2,2l-2,-2l-2,6l2,10l10,6l22,0l28,-12l16,-14l8,-12l2,-6zM323,155l2,-2l2,2l-2,2z" fill="#F5FBAF"/>
<path d="M265,315l-4,-2l-2,2l-4,-4l-16,0l-14,6l-14,10l-26,24l-32,36l-10,24l0,18l6,18l10,10l8,4l24,0l14,-4l24,-12l22,-16l38,-40l8,-14l0,-20l-4,-10l-4,-4l0,-4l-2,-2l-4,2l-2,-4l-4,0l-4,-4l2,-4l-2,0zM285,337l2,-2l2,2l-2,2zM383,145l-6,-6l-14,-4l-14,2l-14,6l0,2l-4,2l0,4l-2,2l-2,-2l-4,4l0,4l-4,2l0,4l-2,2l-2,-2l2,4l-4,4l-2,-2l0,12l6,6l6,2l14,0l24,-10l6,-4l12,-14l4,-8zM323,155l2,-2l2,2l-2,2z" fill="#FFFFBF"/>
<path d="M271,321l-10,-6l-18,0l-8,4l-16,12l-38,42l-12,18l-8,22l2,20l10,12l6,2l18,0l26,-10l28,-20l26,-26l14,-20l2,-20l-4,-10l-6,-4l-2,-4l-4,0l-4,-4l2,-4l-2,0zM375,147l-6,-6l-6,0l-2,-2l-6,0l-18,6l-16,16l-4,10l0,6l6,6l6,2l8,0l18,-6l16,-14l4,-8z" fill="#FFF3AA"/>
<path d="M275,325l-16,-8l-14,2l-12,8l-30,30l-16,22l-12,26l0,20l6,8l14,4l2,-2l10,0l6,-4l4,0l26,-16l28,-26l16,-22l2,-6l0,-16l-4,-8l-12,-8zM367,151l-8,-6l-16,2l-16,14l-2,6l2,8l4,2l14,0l12,-6l6,-6l4,-8z" fill="#FEE695"/>
<path d="M269,323l-4,-2l-18,2l-12,8l-28,30l-12,18l-10,24l0,12l8,10l18,0l18,-8l18,-12l28,-28l8,-12l4,-16l-4,-12l-6,-4zM355,157l-2,-2l-8,0l-6,4l-2,6l2,2l8,0l6,-4z" fill="#FED480"/>
<path d="M273,329l-8,-4l-10,0l-12,6l-20,18l-14,20l-10,20l-2,16l6,8l16,0l6,-4l4,0l24,-16l16,-16l12,-20l0,-16z" fill="#FDBA6C"/>
<path d="M269,331l-6,-2l-10,2l-8,4l-16,14l-18,30l-2,6l0,14l6,4l14,-2l24,-14l14,-14l10,-18l0,-14z" fill="#FB9E5A"/>
<path d="M269,337l-4,-2l-10,0l-14,8l-10,10l-12,22l0,14l2,2l8,2l12,-4l12,-8l12,-12l8,-16l0,-10z" fill="#F67D4A"/>
<path d="M263,341l-10,0l-10,6l-8,8l-8,16l0,8l4,4l8,0l12,-6l10,-10l6,-10l0,-12z" fill="#EC6146"/>
<path d="M257,347l-8,2l-10,10l-2,4l0,10l12,-2l10,-10l2,-10z" fill="#DD4A4C"/>
</g>
<path d="M287,505h.1M366,242h.1M127,496h.1M263,535h.1M222,540h.1M247,524h.1M297,591h.1M224,195h.1M120,383h.1M101,484h.1M257,552h.1M252,311h.1M313,518h.1M176,524h.1M182,449h.1M346,180h.1M195,497h.1M267,590h.1M281,519h.1M180,447h.1M246,419h.1M307,350h.1M290,537h.1M289,210h.1M315,363h.1M226,217h.1M84,375h.1M305,256h.1M389,132h.1M281,223h.1M301,423h.1M391,228h.1M308,173h.1M263,491h.1M244,284h.1M284,290h.1M280,215h.1M204,323h.1M166,313h.1M395,208h.1M275,555h.1M207,562h.1M300,542h.1M193,546h.1M266,259h.1M284,176h.1M137,443h.1M265,547h.1M194,258h.1M191,235h.1M202,111h.1M153,507h.1M219,543h.1M164,185h.1M200,473h.1M323,232h.1M260,538h.1M249,487h.1M223,519h.1M281,547h.1M295,360h.1M92,384h.1M304,510h.1M219,566h.1M76,224h.1M205,454h.1M257,492h.1M191,479h.1M407,196h.1M235,481h.1M294,522h.1M112,424h.1M310,582h.1M287,206h.1M290,603h.1M295,573h.1M248,68h.1M267,465h.1M340,233h.1M194,478h.1M112,378h.1M119,404h.1M241,411h.1M194,132h.1M83,455h.1M299,452h.1M238,543h.1M124,239h.1M76,452h.1M232,534h.1M228,288h.1M226,182h.1M300,257h.1M288,531h.1M151,510h.1M362,213h.1M317,178h.1M66,379h.1M344,127h.1M223,447h.1M171,495h.1M215,524h.1M266,205h.1M275,538h.1M204,566h.1M239,219h.1M253,420h.1M309,467h.1M258,499h.1M194,292h.1M190,364h.1M364,182h.1M288,519h.1M171,184h.1M276,607h.1M77,379h.1M244,571h.1M270,307h.1M146,471h.1M292,364h.1M169,417h.1M157,365h.1M227,304h.1M298,507h.1M243,245h.1M327,198h.1M165,178h.1M226,178h.1M228,313h.1M159,228h.1M255,496h.1M257,202h.1M229,453h.1M415,144h.1M102,239h.1M322,572h.1M248,502h.1M159,413h.1M181,503h.1M229,225h.1M409,162h.1M118,508h.1M254,279h.1M183,219h.1M237,476h.1M303,534h.1M296,209h.1M232,200h.1M128,251h.1M202,127h.1M278,573h.1M187,367h.1M172,90h.1M434,278h.1M218,112h.1M158,254h.1M192,383h.1M396,211h.1M311,215h.1M88,434h.1M241,452h.1M317,408h.1M358,128h.1M185,449h.1M375,137h.1M507,327h.1M195,368h.1M203,483h.1M164,83h.1M299,576h.1M396,158h.1M189,171h.1M106,444h.1M243,500h.1M155,332h.1M382,218h.1M234,238h.1M235,479h.1M282,531h.1M105,392h.1M232,265h.1M211,443h.1M122,224h.1M518,316h.1M194,481h.1M297,480h.1M301,544h.1M297,541h.1M270,504h.1M168,431h.1M361,241h.1M201,313h.1M322,582h.1M265,457h.1M250,57h.1M91,461h.1M242,412h.1M317,398h.1M213,556h.1M167,325h.1M313,528h.1M201,499h.1M316,546h.1M191,177h.1M159,91h.1M296,496h.1M213,184h.1M234,490h.1M277,595h.1M255,412h.1M160,502h.1M409,189h.1M160,432h.1M300,502h.1M197,560h.1M193,544h.1M334,242h.1M174,211h.1M132,476h.1M74,257h.1M263,484h.1M312,587h.1M293,234h.1M391,161h.1M321,245h.1M288,547h.1M234,511h.1M209,437h.1M280,328h.1M311,191h.1M295,494h.1M214,477h.1M209,283h.1M410,271h.1M169,296h.1M155,247h.1M295,413h.1M250,443h.1M226,544h.1M302,401h.1M271,508h.1M216,566h.1M212,346h.1M204,571h.1M323,180h.1M289,476h.1M217,532h.1M102,379h.1M127,288h.1M308,536h.1M218,564h.1M121,452h.1M255,484h.1M235,67h.1M268,524h.1M173,386h.1M206,238h.1M315,394h.1M85,360h.1M256,504h.1M201,241h.1M408,195h.1M45,220h.1M319,209h.1M163,256h.1M141,347h.1M274,531h.1M290,505h.1M218,500h.1M284,196h.1M307,521h.1M407,250h.1M248,547h.1M182,270h.1M314,409h.1M356,177h.1M400,252h.1M269,499h.1M105,452h.1M298,396h.1M92,432h.1M148,103h.1M294,472h.1M167,275h.1M280,282h.1M393,203h.1M329,186h.1M290,583h.1M260,418h.1M195,152h.1M269,566h.1M191,122h.1M236,542h.1M254,517h.1M238,315h.1M354,236h.1M94,345h.1M178,236h.1M200,126h.1M213,338h.1M321,523h.1M117,231h.1M336,262h.1M152,509h.1M116,338h.1M158,300h.1M297,204h.1M228,567h.1M395,163h.1M309,347h.1M257,478h.1M335,192h.1M179,164h.1M194,536h.1M171,513h.1M295,464h.1M206,570h.1M278,600h.1M184,549h.1M373,141h.1M287,544h.1M310,159h.1M260,579h.1M408,273h.1M288,212h.1M233,487h.1M107,500h.1M237,563h.1M371,159h.1M294,555h.1M239,317h.1M267,420h.1M215,320h.1M229,241h.1M211,452h.1M250,567h.1M273,448h.1M274,535h.1M292,493h.1M123,251h.1M96,407h.1M185,489h.1M107,456h.1M109,252h.1M175,488h.1M109,452h.1M201,526h.1M286,541h.1M94,206h.1M236,481h.1M120,404h.1M307,588h.1M245,213h.1M124,417h.1M397,207h.1M205,128h.1M198,152h.1M242,473h.1M379,221h.1M353,236h.1M286,460h.1M396,135h.1M203,339h.1M292,311h.1M188,485h.1M175,336h.1M189,196h.1M159,459h.1M297,528h.1M136,434h.1M266,518h.1M69,225h.1M76,354h.1M220,539h.1M267,550h.1M274,235h.1M162,266h.1M221,489h.1M243,550h.1M363,230h.1M299,206h.1M263,271h.1M256,556h.1M253,247h.1M246,527h.1M335,145h.1M342,206h.1M300,459h.1M111,385h.1M217,90h.1M245,572h.1M223,134h.1M128,297h.1M190,206h.1M260,547h.1M210,244h.1M284,542h.1M241,533h.1M238,496h.1M281,550h.1M271,321h.1M161,509h.1M242,428h.1M230,562h.1M269,527h.1M207,85h.1M136,460h.1M252,428h.1M239,492h.1M302,387h.1M229,466h.1M261,585h.1M181,242h.1M186,117h.1M317,577h.1M393,180h.1M410,136h.1M300,569h.1M186,241h.1M124,393h.1M251,486h.1M501,316h.1M212,540h.1M162,463h.1M153,285h.1M214,562h.1M242,311h.1M260,272h.1M143,482h.1M333,169h.1M195,533h.1M257,302h.1M273,586h.1M127,492h.1M209,450h.1M286,344h.1M90,231h.1M382,140h.1M299,551h.1M292,484h.1M229,78h.1M289,604h.1M410,176h.1M174,168h.1M177,102h.1M373,185h.1M191,269h.1M293,462h.1M227,310h.1M195,488h.1M225,523h.1M233,493h.1M290,588h.1M81,204h.1M239,245h.1M220,475h.1M164,391h.1M98,214h.1M242,121h.1M391,168h.1M281,588h.1M161,305h.1M223,153h.1M198,344h.1M187,322h.1M156,371h.1M184,451h.1M302,204h.1M283,495h.1M406,193h.1M294,602h.1M199,525h.1M270,542h.1M160,116h.1M342,243h.1M314,259h.1M313,557h.1M257,304h.1M301,490h.1M325,587h.1M243,556h.1M274,527h.1M88,231h.1M304,247h.1M335,234h.1M347,188h.1M310,202h.1M348,193h.1M183,376h.1M247,507h.1M173,431h.1M99,419h.1M293,242h.1M287,575h.1M192,103h.1M196,565h.1M236,44h.1M267,334h.1M317,582h.1M428,275h.1M270,595h.1M181,343h.1M275,453h.1M208,428h.1M95,496h.1M266,430h.1M290,563h.1M247,279h.1M316,565h.1M146,238h.1M187,543h.1M413,136h.1M182,505h.1M80,214h.1M227,330h.1M319,502h.1M281,481h.1M310,182h.1M227,451h.1M300,499h.1M302,532h.1M404,168h.1M167,345h.1M264,550h.1M218,548h.1M256,515h.1M152,257h.1M174,305h.1M158,485h.1M256,473h.1M285,525h.1M226,280h.1M196,139h.1M186,526h.1M208,533h.1M315,202h.1M228,474h.1M240,523h.1M133,489h.1M396,118h.1M189,500h.1M297,567h.1M308,538h.1M149,267h.1M295,580h.1M290,470h.1M366,139h.1M296,557h.1M242,481h.1M310,572h.1M166,266h.1M333,186h.1M254,519h.1M314,252h.1M379,250h.1M229,282h.1M252,43h.1M311,286h.1M416,200h.1M228,473h.1M213,289h.1M397,187h.1M270,461h.1M174,529h.1M250,428h.1M301,453h.1M199,140h.1M221,512h.1M256,447h.1M291,243h.1M198,545h.1M282,603h.1M235,442h.1M287,494h.1M234,249h.1M283,479h.1M136,301h.1M321,587h.1M89,219h.1M259,371h.1M154,272h.1M168,448h.1M306,458h.1M256,260h.1M288,193h.1M159,447h.1M172,460h.1M216,445h.1M211,485h.1M392,210h.1M265,542h.1M258,598h.1M308,583h.1M91,411h.1M295,532h.1M405,163h.1M81,396h.1M153,451h.1M236,511h.1M161,245h.1M214,336h.1M172,80h.1M135,349h.1M162,376h.1M127,221h.1M182,506h.1M245,287h.1M303,540h.1M303,555h.1M115,384h.1M215,516h.1M400,264h.1M107,409h.1M257,467h.1M330,210h.1M405,174h.1M409,196h.1M222,471h.1M303,564h.1M200,532h.1M386,181h.1M359,200h.1M252,552h.1M187,188h.1M377,250h.1M368,227h.1M200,372h.1M252,334h.1M277,410h.1M219,514h.1M263,232h.1M195,286h.1M211,509h.1M174,352h.1M103,434h.1M211,571h.1M186,476h.1M297,479h.1M186,317h.1M398,165h.1M198,343h.1M169,180h.1M277,601h.1M244,519h.1M214,579h.1M113,436h.1M262,476h.1M296,532h.1M142,386h.1M221,237h.1M386,236h.1M350,207h.1M270,549h.1M218,177h.1M243,243h.1M73,226h.1M236,46h.1M378,191h.1M191,483h.1M261,492h.1M88,444h.1M219,434h.1M280,318h.1M224,518h.1M171,211h.1M306,420h.1M279,592h.1M202,311h.1M222,496h.1M88,438h.1M222,189h.1M278,227h.1M278,531h.1M289,541h.1M273,521h.1M246,302h.1M407,223h.1M220,562h.1M123,456h.1M149,503h.1M263,568h.1M342,253h.1M413,173h.1M254,321h.1M164,188h.1M230,569h.1M254,508h.1M255,230h.1M219,437h.1M171,351h.1M317,553h.1M225,564h.1M202,565h.1M175,201h.1M271,412h.1M103,440h.1M147,467h.1M224,253h.1M139,279h.1M164,465h.1M180,220h.1M301,530h.1M305,547h.1M298,473h.1M164,127h.1M284,567h.1M296,442h.1M129,393h.1M308,368h.1M376,176h.1M250,419h.1M230,216h.1M215,352h.1M280,530h.1M427,274h.1M282,374h.1M292,539h.1M240,489h.1M217,284h.1M260,503h.1M145,434h.1M262,523h.1M88,422h.1M221,504h.1M300,578h.1M243,514h.1M391,151h.1M220,520h.1M279,533h.1M205,110h.1M407,140h.1M253,235h.1M196,161h.1M205,428h.1M259,500h.1M266,233h.1M365,220h.1M316,194h.1M239,500h.1M205,530h.1M141,492h.1M322,192h.1M85,236h.1M267,237h.1M241,276h.1M224,192h.1M200,495h.1M185,187h.1M189,534h.1M75,399h.1M125,356h.1M234,536h.1M281,263h.1M245,586h.1M179,456h.1M511,318h.1M55,220h.1M186,475h.1M189,113h.1M214,461h.1M196,542h.1M115,429h.1M224,534h.1M298,475h.1M503,310h.1M214,536h.1M73,210h.1M261,480h.1M118,358h.1M269,580h.1M292,251h.1M312,542h.1M215,128h.1M297,569h.1M290,210h.1M224,570h.1M268,413h.1M307,472h.1M212,562h.1M249,553h.1M196,277h.1M274,510h.1M243,336h.1M184,272h.1M247,561h.1M355,207h.1M282,506h.1M202,123h.1M225,209h.1M71,383h.1M110,346h.1M232,416h.1M312,407h.1M95,377h.1M406,159h.1M284,479h.1M294,549h.1M110,496h.1M241,537h.1M261,504h.1M153,275h.1M410,200h.1M294,521h.1M281,538h.1M283,198h.1M321,214h.1M178,412h.1M333,188h.1M284,486h.1M379,180h.1M300,485h.1M152,478h.1M218,200h.1M352,153h.1M238,526h.1M330,220h.1M322,584h.1M206,337h.1M77,226h.1M107,472h.1M301,315h.1M253,431h.1M272,512h.1M236,552h.1M293,449h.1M124,277h.1M269,572h.1M84,398h.1M229,118h.1M229,321h.1M132,346h.1M106,264h.1M96,360h.1M243,488h.1M280,492h.1M244,582h.1M246,540h.1M111,429h.1M387,145h.1M199,495h.1M203,137h.1M169,98h.1M123,270h.1M207,489h.1M228,500h.1M178,282h.1M295,492h.1M291,548h.1M250,220h.1M227,238h.1M154,512h.1M152,327h.1M234,68h.1M327,386h.1M101,401h.1M193,542h.1M79,255h.1M266,491h.1M206,495h.1M275,274h.1M197,569h.1M209,284h.1M395,261h.1M114,242h.1M85,370h.1M168,140h.1M200,454h.1M223,343h.1M297,589h.1M296,534h.1M219,540h.1M139,287h.1M274,568h.1M98,470h.1M125,447h.1M116,427h.1M259,493h.1M327,561h.1M228,552h.1M285,228h.1M260,413h.1M203,155h.1M60,195h.1M236,544h.1M225,426h.1M349,182h.1M213,526h.1M203,465h.1M292,394h.1M208,249h.1M190,534h.1M239,519h.1M221,541h.1M344,217h.1M171,403h.1M212,560h.1M221,72h.1M82,238h.1M234,322h.1M175,135h.1" stroke="#828282" stroke-width="3" stroke-linecap="round" fill="none"/>
<path d="M488,320h.1M322,344h.1M232,594h.1M330,316h.1M328,554h.1M322,600h.1M244,596h.1M508,306h.1M332,546h.1M330,578h.1M244,598h.1M420,288h.1M496,306h.1M334,370h.1M504,332h.1M472,310h.1M342,352h.1M580,350h.1M258,600h.1M530,318h.1M558,336h.1M502,308h.1M202,578h.1M322,280h.1M526,318h.1M326,594h.1M330,568h.1M332,292h.1M438,286h.1M424,290h.1M548,332h.1M326,528h.1M496,328h.1M70,188h.1M320,286h.1M470,300h.1M576,346h.1M416,206h.1M568,350h.1M322,310h.1M542,326h.1M504,304h.1M564,350h.1M322,332h.1M236,592h.1M288,612h.1M256,600h.1M232,80h.1M182,94h.1M336,344h.1M320,344h.1M328,566h.1M352,352h.1M254,68h.1M422,200h.1M476,316h.1M472,308h.1M480,300h.1M474,314h.1M328,560h.1M544,344h.1M292,614h.1M266,602h.1M548,320h.1M332,364h.1M264,60h.1M550,338h.1M428,264h.1M500,306h.1M556,348h.1M260,62h.1M330,562h.1M324,282h.1M318,286h.1M290,614h.1M334,318h.1M516,342h.1M540,326h.1M376,326h.1M514,336h.1M302,616h.1M420,200h.1M424,288h.1M544,326h.1M408,240h.1M474,300h.1M328,580h.1M362,292h.1M538,344h.1M494,328h.1M522,340h.1M324,310h.1M526,344h.1M492,330h.1M210,58h.1M332,270h.1M480,296h.1M152,314h.1M336,352h.1M542,344h.1M216,584h.1M274,610h.1M250,596h.1M506,336h.1M320,340h.1M330,364h.1M336,316h.1M450,302h.1M196,570h.1M320,318h.1M210,580h.1M204,578h.1M492,306h.1M488,332h.1M488,304h.1M562,340h.1M338,380h.1M504,342h.1M232,592h.1M442,282h.1M256,598h.1M270,604h.1M436,270h.1M338,366h.1M534,322h.1M432,172h.1M468,308h.1M336,380h.1M540,328h.1M508,308h.1M438,284h.1M516,338h.1M534,324h.1M330,558h.1M478,322h.1M336,312h.1M360,352h.1M232,82h.1M476,312h.1M362,360h.1M316,316h.1M318,310h.1M320,312h.1M200,574h.1M328,556h.1M538,326h.1M426,188h.1M238,134h.1M132,304h.1M560,336h.1M448,278h.1M338,284h.1M556,342h.1M368,340h.1M332,354h.1M562,352h.1M334,296h.1M262,606h.1M456,304h.1M532,318h.1M342,274h.1M442,284h.1M474,318h.1M260,64h.1M434,272h.1M322,338h.1M332,564h.1M350,324h.1M430,298h.1M474,308h.1M476,306h.1M486,306h.1M416,288h.1M424,292h.1M430,266h.1M506,340h.1M260,604h.1M328,308h.1M224,588h.1M488,300h.1M496,302h.1M256,66h.1M330,350h.1M554,336h.1M350,294h.1M576,342h.1M482,328h.1M448,298h.1M320,288h.1M478,316h.1M456,310h.1M482,314h.1M342,286h.1M578,348h.1M338,384h.1M444,286h.1M432,290h.1M336,320h.1M540,344h.1M440,280h.1M520,338h.1M408,286h.1M334,298h.1M484,298h.1M336,346h.1M332,290h.1M436,274h.1M562,358h.1M482,322h.1M88,196h.1M522,314h.1M364,320h.1M314,608h.1M316,310h.1M548,336h.1M196,208h.1M500,332h.1M348,344h.1M472,318h.1M318,288h.1M246,600h.1M482,308h.1M306,612h.1M542,348h.1M328,558h.1M428,266h.1M486,302h.1M534,318h.1M192,214h.1M334,346h.1M206,578h.1M220,588h.1M562,344h.1M544,332h.1M416,298h.1M330,290h.1M438,274h.1M464,294h.1M320,320h.1M552,340h.1M324,596h.1M292,616h.1M214,584h.1M326,600h.1M354,342h.1M456,288h.1M434,288h.1M330,566h.1M120,298h.1M430,288h.1M468,296h.1M328,592h.1M328,562h.1M480,312h.1M474,304h.1M328,364h.1M428,288h.1M348,330h.1M262,60h.1M426,190h.1M312,456h.1M498,298h.1M332,360h.1M476,292h.1M566,352h.1M566,338h.1M506,334h.1M356,322h.1M540,346h.1M484,308h.1M504,310h.1M236,134h.1M550,336h.1M562,338h.1M486,322h.1M424,200h.1M486,328h.1M470,302h.1M546,334h.1M550,328h.1M242,132h.1M548,342h.1M566,348h.1M336,372h.1M316,312h.1M278,612h.1M430,290h.1M200,576h.1M228,90h.1M516,310h.1M326,596h.1M328,570h.1M482,310h.1M464,302h.1M556,344h.1M344,362h.1M556,324h.1M198,200h.1M558,354h.1M194,210h.1M526,422h.1M578,320h.1M364,276h.1M610,376h.1M626,376h.1M558,514h.1M596,414h.1M430,318h.1M320,298h.1M332,586h.1M622,412h.1M486,372h.1M534,482h.1M474,436h.1M618,322h.1M558,402h.1M278,608h.1M602,362h.1M536,394h.1M530,310h.1M508,376h.1M646,318h.1M492,352h.1M550,498h.1M410,336h.1M618,344h.1M600,458h.1M540,264h.1M502,408h.1M440,294h.1M480,308h.1M544,272h.1M622,378h.1M518,450h.1M542,506h.1M444,318h.1M454,386h.1M434,300h.1M440,388h.1M548,282h.1M456,274h.1M336,374h.1M330,362h.1M640,356h.1M484,370h.1M604,394h.1M486,334h.1M460,402h.1M356,370h.1M622,298h.1M546,270h.1M576,330h.1M434,398h.1M612,450h.1M436,396h.1M608,270h.1M516,390h.1M424,344h.1M608,454h.1M536,500h.1M354,348h.1M366,342h.1M482,424h.1M564,336h.1M534,446h.1M546,306h.1M466,266h.1M296,622h.1M518,294h.1M532,348h.1M460,328h.1M614,298h.1M514,436h.1M530,514h.1M596,460h.1M612,454h.1M552,328h.1M584,388h.1M506,346h.1M364,368h.1M592,476h.1M598,404h.1M426,338h.1M616,288h.1M362,326h.1M480,272h.1M636,272h.1M550,438h.1M420,360h.1M486,398h.1M622,358h.1M538,504h.1M500,360h.1M562,466h.1M540,280h.1M546,286h.1M588,304h.1M624,398h.1M556,284h.1M550,504h.1M530,366h.1M572,358h.1M568,378h.1M498,442h.1M498,424h.1M608,408h.1M540,466h.1M574,378h.1M616,336h.1M472,426h.1M524,438h.1M532,496h.1M526,310h.1M558,432h.1M522,414h.1M516,420h.1M614,342h.1M592,308h.1M582,380h.1M540,514h.1" stroke="#5757B6" stroke-width="2.8" stroke-linecap="round" fill="none"/>
</g></g>
<defs><filter id="dbl" x="-10%" y="-10%" width="120%" height="120%"><feGaussianBlur stdDeviation="2"/></filter></defs>
<path d="M72,587L67,612M62,580L64,607M68,582L66,604M61,574L74,628M55,585L66,606M84,576L74,618M71,578L63,609M52,584L82,620M80,576L76,610M80,581L64,598M62,578L76,605M77,601L72,633M88,570L77,610M56,586L76,611M64,584L79,616M78,581L72,622M68,580L78,634M82,574L76,602M74,598L84,630M64,576L78,630M69,582L80,632M77,576L64,602M62,582L72,636M89,572L78,613M58,582L62,608M60,580L65,608M68,574L76,634M68,580L82,630M85,578L79,619M84,581L74,618M76,596L74,632M62,574L78,607M57,579L78,624M68,575L75,622M76,582L76,616M66,592L80,612M56,586L72,630M84,570L81,630M65,585L72,636M82,572L78,632M68,585L62,600M78,588L84,629M57,580L76,603M78,583L78,634M72,590L66,612M54,585L72,632M58,586L69,628M86,572L72,624M72,587L64,608M54,578L77,612M79,578L65,606M67,583L80,624M70,582L76,624M76,580L62,610M66,588L79,627M66,586L130,606M76,598L118,615M64,574L135,612M94,568L122,610M70,580L110,606M72,578L122,622M53,578L134,603M84,576L114,606M66,590L117,595M74,589L136,607M76,575L140,612M78,590L120,608M66,575L118,599M89,570L135,608M84,580L110,604M76,580L118,616M54,579L134,606M65,588L108,599M64,574L141,606M70,578L136,618M78,576L130,598M80,574L112,598M81,585L130,596M82,581L108,606M66,584L132,598M69,577L126,610M90,570L139,598M71,592L118,624M60,572L114,606M66,579L123,598M88,577L134,604M65,574L115,595M77,582L118,606M72,590L116,598M88,574L136,618M88,568L125,612M78,582L133,610M84,569L140,600M58,586L126,622M72,592L128,592M70,592L114,620M66,579L130,612M56,578L124,617M67,592L114,608M68,586L122,619M80,588L111,597M72,591L132,621M93,567L136,606M66,582L110,617M70,578L106,602M90,572L130,596M81,576L114,594M64,588L125,614M56,584L134,595M62,586L114,606M77,598L118,602M87,570L125,606M62,584L128,626M65,572L118,619M62,586L112,604M78,596L127,598M75,598L136,600M88,578L114,614M77,584L124,609M74,594L116,606M73,590L124,616M77,586L108,614M89,574L118,617M82,582L122,614M64,582L110,602M80,580L121,624M84,572L122,610M84,580L116,622M56,585L112,606M74,575L128,626M90,568L132,608M56,586L111,609M78,593L118,602M80,582L136,618M62,586L120,595M82,577L126,609M64,588L114,615M61,584L126,594M62,574L134,608M52,580L143,603M62,591L138,606M82,572L117,618M64,578L118,607M69,592L24,613M76,578L34,620M62,586L34,622M84,581L36,620M54,580L24,614M80,580L36,612M74,598L28,614M64,574L34,624M57,581L26,616M85,574L36,616M88,570L33,624M82,576L38,622M70,588L44,621M79,576L36,623M75,600L34,612M74,594L26,618M84,574L31,614M73,592L34,606M78,586L34,614M72,594L36,624M64,580L41,617M54,584L35,611M78,580L40,611M90,572L42,613M82,585L26,612M74,581L40,620M84,572L32,606M84,574L40,616M86,574L33,618M78,595L34,620M80,587L28,606M76,596L30,616M68,578L42,620M78,589L31,614M70,589L40,616M56,583L36,622M56,584L42,622M56,579L38,615M65,591L34,619M81,581L36,610M85,577L38,618M66,579L38,615M78,591L36,618M84,568L34,608M70,576L30,622M60,580L32,614M62,586L36,610M70,582L34,624M81,575L32,624M84,569L29,606M58,580L37,622M68,592L42,620M76,594L32,622M75,580L30,610M70,587L32,610M89,572L38,618M54,584L35,609M79,580L24,614M91,572L36,614M86,574L25,610M68,578L31,618M76,601L26,618M91,570L36,618M68,585L27,608M80,582L38,612M55,584L29,608M76,576L40,618M84,575L37,612M67,574L30,614M84,572L37,617M90,568L39,614M84,581L26,612M74,588L30,609M78,578L37,611M90,574L36,617M80,575L30,606M72,591L44,616M75,583L103,612M64,574L100,616M72,579L92,618M68,592L105,616M68,584L98,617M69,574L86,616M93,567L107,614M84,579L98,620M72,585L102,615M84,574L94,619M89,576L90,614M78,574L94,614M80,588L91,622M83,578L100,607M54,586L92,617M62,576L103,607M91,568L98,610M55,579L92,608M66,584L90,615M79,590L86,620M86,579L87,618M89,568L90,616M68,590L101,618M83,572L88,622M76,582L85,619M81,575L89,612M78,594L104,615M74,576L96,614M68,590L96,618M68,586L90,614M70,592L98,607M69,590L92,608M68,592L96,612M66,587L105,616M60,584L103,613M81,586L96,610M70,582L92,615M83,579L94,609M67,584L97,608M64,588L88,622M88,576L100,612M67,574L92,620M79,584L84,618M62,589L86,619M71,584L102,612M92,572L96,610M64,572L97,614M86,578L102,608M61,581L88,621M74,595L92,616M88,574L90,610M76,592L102,618M82,573L95,609M76,576L94,615M90,570L105,613M70,586L97,608M70,576L92,622M62,588L104,609M86,571L102,613M91,568L98,616M76,597L84,620M79,582L106,614M68,586L102,618M84,580L88,614M76,584L104,610M66,578L88,620M70,586L50,624M76,596L64,626M88,574L47,627M81,581L52,622M74,596L50,624M73,584L52,625M54,580L57,630M76,590L52,632M75,580L54,630M93,570L40,636M66,571L60,626M58,587L41,637M58,578L58,636M76,576L62,632M72,593L56,624M61,580L56,624M60,580L55,635M80,574L63,633M64,576L54,627M82,578L60,631M81,574L48,620M79,574L54,629M74,579L51,627M84,581L62,630M66,580L52,631M80,581L44,634M56,584L62,632M63,582L56,627M79,579L59,632M69,584L51,632M76,598L46,620M73,582L48,625M79,588L66,627M78,599L63,630M74,590L53,635M62,588L47,634M92,568L55,634M64,584L64,630M74,590L67,631M70,580L56,630M60,588L49,636M75,595L43,635M76,575L58,626M74,596L57,628M78,586L52,622M65,586L64,626M72,579L64,630M89,572L66,632M63,574L50,632M76,578L55,626M76,600L52,634M76,592L54,634M70,580L50,620M74,580L48,629M76,601L48,632M66,582L91,634M59,580L100,622M60,584L90,630M70,580L100,629M68,588L106,632M71,580L104,633M78,582L94,632M75,588L104,634M64,586L100,626M68,588L96,634M68,584L96,627M56,586L101,630M66,591L90,634M71,586L86,628M64,587L92,633M70,590L88,626M72,582L88,631M77,585L96,635M72,580L93,624M72,578L92,626M67,583L96,630M74,582L102,634M86,580L108,624M70,579L98,624M88,574L109,630M58,586L99,628M82,585L106,622M72,580L102,622M66,574L100,623M71,588L94,623M64,591L102,627M80,580L90,624M59,572L92,634M70,578L92,632M94,568L110,630M52,579L98,632M76,580L88,632M85,570L96,631M62,582L108,626M83,576L102,623M82,584L104,631M83,576L100,624M68,573L97,623M76,585L104,622M44,622L44,632M38,620L50,630M34,619L65,630M30,618L50,621M34,612L40,635M41,614L62,631M37,622L48,634M32,623L41,636M30,616L48,632M29,618L57,629M30,616L63,625M41,616L55,632M42,612L46,632M42,623L66,627M34,621L66,632M40,621L48,634M32,624L46,622M38,610L56,632M28,615L46,622M38,610L62,626M34,610L62,628M36,620L49,626M33,608L44,631M27,618L64,632M39,624L54,624M36,616L46,634M30,606L64,634M38,612L60,625M30,614L62,635M37,612L41,636M39,617L47,636M26,612L46,620M42,621L44,628M41,622L47,630M39,610L53,630M32,618L52,626M36,622L56,634M44,620L52,633M46,619L45,621M34,624L52,628M34,624L46,633M39,611L55,632M35,610L46,623M34,612L59,632M32,614L43,664M32,620L45,664M31,620L62,654M30,612L34,658M30,620L34,657M28,614L96,654M28,620L68,654M40,618L83,648M29,616L80,653M41,618L87,652M38,622L105,668M33,621L74,656M30,607L97,664M28,618L74,661M36,618L34,658M28,612L85,656M36,619L82,646M31,618L46,660M34,617L56,654M43,617L32,664M42,614L52,652M42,614L88,657M28,608L61,652M38,619L69,660M28,620L96,654M42,618L104,672M28,606L95,658M28,618L86,648M38,617L54,662M30,608L86,662M28,610L34,658M38,622L32,664M44,615L66,658M26,608L56,655M42,614L43,668M38,623L94,668M40,616L79,655M38,623L86,650M34,616L34,670M25,618L80,652M28,619L82,664M43,614L82,646M32,618L90,654M39,616L99,662M34,607L88,646M24,616L63,658M42,616L58,657M34,609L100,670M33,618L93,654M33,618L32,660M24,610L92,660M44,615L47,666M28,620L31,670M26,619L100,666M44,617L102,671M26,613L59,653M43,622L81,660M30,621L28,668M29,608L72,664M30,613L51,657M38,620L58,661M36,616L92,656M30,615L54,662M27,614L88,650M26,612L42,660M30,624L101,664M34,614L67,650M33,614L70,645M36,618L72,658M45,618L50,658M26,617L44,658M40,616L64,652M34,621L87,648M34,614L76,654M34,616L94,665M44,616L96,670M26,612L64,656M35,616L86,644M24,610L92,658M43,622L88,658M38,610L98,666M35,624L64,648M39,624L72,645M41,620L68,645M42,622L35,668M28,616L70,652M34,622L36,664M31,614L86,660M56,628L41,667M62,630L82,652M50,630L50,656M48,631L70,650M59,630L82,664M55,624L96,666M58,636L39,670M62,636L81,666M58,632L84,646M44,636L50,660M62,632L67,646M47,632L75,650M50,632L96,668M46,636L78,660M64,636L80,666M46,632L85,646M50,630L65,648M41,636L30,667M48,636L46,655M66,629L55,653M51,632L73,660M56,623L68,653M52,630L80,648M42,634L78,646M42,636L105,670M68,632L66,646M52,628L80,650M44,624L66,650M56,631L74,646M52,623L63,660M46,636L86,654M54,625L52,657M54,634L67,659M52,632L37,670M52,622L52,660M46,631L86,654M54,626L71,656M60,630L70,650M54,631L78,657M51,626L59,658M58,626L89,662M63,625L86,648M44,634L36,662M53,634L74,644M66,630L44,661M49,628L50,658M52,622L84,662M64,634L90,658M58,636L99,670M66,634L79,657M52,628L48,664M58,634L81,648M52,628L74,644M58,634L70,662M55,632L76,658M42,634L105,667M62,632L84,648M61,624L54,658M66,632L105,668M62,626L88,656M66,632L100,664M60,626L48,660M42,634L48,660M46,622L98,666M61,632L41,664M48,622L90,652M66,630L86,664M51,629L26,672M45,635L98,666M46,630L78,646M62,636L94,662M56,634L74,654M54,630L92,658M66,634L72,659M57,626L86,654M58,629L78,652M50,623L100,664M56,626L31,664M62,633L86,648M55,629L98,668M58,628L71,658M50,626L45,664M58,630L80,654M46,630L72,654M46,629L86,659M40,637L58,654M48,633L86,660M57,636L94,670M74,632L92,651M80,621L96,652M74,627L29,670M74,619L96,666M73,631L74,648M78,626L28,668M79,634L40,666M74,619L87,660M71,615L56,662M74,634L82,655M82,632L80,644M77,620L48,654M82,634L99,663M72,611L84,657M67,608L86,662M70,626L79,648M64,604L34,664M78,634L41,664M74,612L36,662M72,629L73,658M83,623L100,672M82,622L44,661M68,612L59,656M77,603L84,658M80,608L28,660M80,634L78,656M81,634L100,659M72,630L98,658M84,630L86,662M76,619L63,654M80,603L94,667M74,616L28,670M72,614L28,668M70,626L60,662M78,615L61,658M72,612L60,650M80,628L62,653M71,627L90,668M72,634L33,658M68,614L72,656M76,608L92,650M66,607L104,669M78,610L49,658M76,613L36,666M72,620L64,662M72,612L95,662M78,627L28,661M78,614L57,654M82,628L105,668M64,610L104,670M76,612L75,656M76,612L95,656M71,623L39,664M76,606L76,654M76,611L37,662M66,615L39,660M72,622L40,663M81,620L48,666M78,626L56,658M78,628L54,654M79,617L33,670M86,626L85,652M79,630L94,651M66,602L26,668M74,626L28,673M64,602L52,658M106,634L95,667M104,628L87,654M94,634L105,668M92,628L94,656M110,629L107,669M98,634L83,662M96,630L76,650M100,622L78,658M108,624L90,658M91,633L58,662M105,627L92,660M95,634L78,650M105,624L92,666M100,624L82,646M93,634L32,672M102,624L34,666M103,626L92,666M102,624L43,656M105,622L88,656M104,630L70,656M90,625L78,644M101,624L76,656M106,632L100,664M104,622L68,660M90,632L28,675M94,624L81,646M103,632L89,650M92,635L100,664M99,631L70,650M110,628L90,660M109,624L92,662M94,636L56,662M102,633L107,670M110,628L28,666M88,632L86,656M92,628L70,645M96,624L62,662M98,634L93,662M104,629L104,671M112,628L62,659M88,632L98,666M103,626L40,663M94,631L38,662M88,634L42,668M92,625L82,663M103,627L62,660M100,622L64,656M103,622L30,665M106,631L60,662M106,631L88,648M92,626L45,663M105,634L64,652M92,634L66,660M100,636L74,644M101,634L74,644M106,630L38,670M89,632L71,644M107,623L86,648M91,624L68,662M96,628L36,664M106,629L52,666M96,626L72,644M106,624L72,662M104,630L99,658M90,627L72,647M106,633L59,660M88,632L58,650M105,634L37,658M103,633L78,658M86,628L40,661M102,626L52,654M102,636L92,648M105,628L61,650M96,634L96,670M92,630L98,668M102,626L33,668M94,624L86,648M104,630L96,660M88,630L48,664M104,632L87,656M101,628L52,657M102,632L63,659M108,626L46,656M92,626L92,660M89,633L57,657M95,631L60,657M96,629L102,670M108,623L85,650M105,616L57,656M100,612L51,654M84,616L94,665M92,610L58,650M92,621L35,666M106,616L60,658M103,614L86,668M90,616L60,656M102,616L44,655M94,614L40,660M102,608L90,650M102,618L82,660M102,614L76,663M96,618L82,660M94,620L86,657M104,616L40,664M89,613L76,662M94,607L60,660M90,620L57,659M104,606L72,660M98,610L91,650M105,614L66,646M104,612L82,648M94,608L80,649M90,617L93,656M98,606L94,660M105,607L96,660M103,614L45,660M106,615L92,662M104,613L58,660M102,614L89,661M93,608L58,651M95,614L92,656M97,614L44,660M100,608L106,668M94,621L97,662M104,605L82,664M98,609L48,653M104,612L51,658M102,611L95,663M94,620L89,647M86,617L79,656M106,608L80,652M102,616L34,672M84,618L63,661M99,614L78,647M100,619L42,658M94,610L90,648M91,619L74,648M104,614L28,666M90,621L40,662M102,618L58,650M86,622L49,658M96,616L101,662M99,611L62,655M136,618L118,654M136,601L120,660M132,618L134,648M119,622L126,650M132,597L130,660M109,610L118,654M119,599L144,664M132,608L120,654M134,612L118,660M116,614L145,664M110,618L132,662M112,610L136,648M123,606L122,652M112,607L114,652M134,613L130,662M119,618L124,652M134,598L112,656M122,624L121,651M111,606L126,649M116,597L134,655M116,617L115,654M128,604L131,651M132,624L121,648M124,610L140,658M136,596L124,659M124,620L140,656M114,618L132,660M113,608L116,660M121,600L130,665M116,610L120,660M116,606L128,650M124,616L137,648M126,604L138,647M141,604L118,656M131,598L126,662M112,613L131,661M127,594L131,658M134,596L132,652M118,612L130,654M108,602L142,656M106,610L129,660M136,608L140,657M138,606L139,664M138,598L125,646M118,612L136,657M116,618L117,651M142,602L118,656M116,606L118,651M138,603L142,660M132,615L142,659M116,622L132,650M132,602L129,652M112,602L128,650M125,605L124,651M128,621L122,656M140,603L140,656M124,617L136,666M114,612L126,663M138,615L130,664M135,598L136,649M130,598L120,648M118,604L122,650M114,610L144,664M120,592L112,654M133,620L124,652M128,626L139,648M126,598L132,644M128,622L135,659M132,597L126,647M118,594L135,648M109,618L131,646M110,607L130,654M142,604L138,654M128,626L124,662M108,602L124,646M112,606L136,648M131,597L132,666M122,606L131,661M129,622L129,660M126,603L123,652M135,599L120,652M132,612L140,650M110,615L128,652M125,602L124,650M114,614L138,650M113,618L141,657M114,609L142,662M118,599L126,656M115,609L124,656M130,616L142,654M114,600L126,647M120,620L135,652M116,621L128,658M130,616L140,667M114,619L131,658M123,609L124,648M122,620L132,660M124,618L122,663M118,606L141,667M122,618L146,680M112,608L150,654M131,592L141,646M108,598L158,677M119,622L156,660M122,592L140,648M115,622L146,675M142,601L146,672M125,625L152,690M140,613L150,668M113,602L151,641M137,610L148,679M120,600L132,648M126,614L144,640M125,620L138,644M110,603L142,660M133,601L146,680M132,615L156,697M135,603L146,638M128,620L154,642M114,622L136,648M130,594L142,653M117,595L141,640M126,618L156,644M122,614L150,672M120,617L149,688M123,608L133,644M139,609L152,679M122,619L148,649M134,615L152,690M122,618L142,648M116,604L134,648M121,604L144,636M118,620L144,639M130,616L146,664M124,601L156,638M120,606L154,640M126,622L144,659M115,618L136,641M128,612L158,656M129,612L139,638M134,598L156,646M128,628L155,674M114,606L156,652M128,616L154,644M140,612L156,673M138,612L146,650M138,613L142,642M132,614L144,648M126,601L136,642M132,610L156,638M108,603L135,648M112,596L156,678M114,598L156,636M112,604L154,688M114,617L146,639M126,604L152,658M134,602L148,674M135,604L157,681M125,606L146,642M114,610L154,666M112,616L157,697M114,598L133,650M118,594L151,646M111,619L156,697M139,601L154,664M114,618L154,662M112,602L138,640M125,602L156,678M138,603L158,646M113,610L148,645M116,602L151,642M120,620L150,686M117,614L138,644M134,604L152,658M136,604L154,665M113,594L149,662M123,618L150,640M114,613L156,654M141,608L150,692M120,608L148,684M129,608L153,664M126,603L142,656M108,600L152,669M140,613L133,650M114,605L148,680M134,616L134,644M116,598L136,640M127,602L149,684M122,598L150,652M123,610L140,649M127,596L156,696M124,598L142,647M132,606L149,672M118,616L157,642M114,601L156,662M133,620L156,666M114,622L155,636M121,623L155,684M86,628L133,658M94,623L122,660M98,630L136,663M90,634L124,652M111,626L120,650M111,625L126,648M112,628L128,660M102,626L132,666M91,634L126,655M87,631L134,650M100,628L123,654M90,628L136,664M96,628L138,660M106,627L127,654M96,628L134,660M95,625L138,658M94,626L142,669M102,628L116,660M90,628L133,644M102,627L144,669M98,628L120,661M105,622L134,659M95,630L130,656M105,633L120,652M87,634L145,664M87,630L137,654M87,627L136,644M107,627L134,644M92,624L142,654M92,624L132,666M109,632L118,651M100,625L124,650M101,626L144,660M94,624L142,659M98,631L124,656M112,628L146,664M101,624L116,658M106,634L136,654M98,624L144,663M98,622L136,665M100,634L137,660M100,623L119,653M100,633L136,648M104,626L122,656M108,631L136,668M102,627L122,656M100,630L124,646M90,634L121,659M102,631L143,662M96,635L141,665M92,624L131,660M94,636L141,652M106,630L144,670M93,630L132,648M93,624L126,646M94,630L136,656M108,633L130,660M109,632L124,649M111,626L135,644M108,628L114,656M96,634L142,670M110,630L120,652M108,632L132,666M107,624L135,657M110,627L134,660M108,626L129,662M95,628L118,650M90,628L126,664M98,632L142,669M95,622L134,662M100,636L117,657M88,626L117,658M86,626L123,661M102,634L128,652M106,626L140,650M105,626L128,659M90,630L130,646M100,634L128,648M101,631L126,658M100,632L140,650M100,632L142,654M92,633L134,668M90,628L140,656M110,624L140,650M99,632L130,656M96,633L129,661M100,622L126,656M96,629L126,660M104,630L141,666M92,634L128,648M101,630L128,653M96,632L115,654M98,632L136,665M86,632L122,663M88,627L125,654M104,624L140,656M96,626L116,656M93,623L122,658M92,628L124,646M99,624L152,682M90,630L134,648M108,625L147,684M104,622L134,650M101,634L151,684M108,626L150,645M97,630L146,658M106,630L144,658M106,629L154,653M102,633L148,638M112,628L146,656M88,630L138,652M106,629L148,684M110,626L150,670M92,624L156,698M102,634L153,656M87,630L152,639M101,634L150,638M99,622L141,652M96,632L152,654M92,628L144,664M110,622L153,666M95,626L154,654M98,630L154,643M91,632L157,649M90,628L139,653M100,622L148,642M95,630L140,642M111,628L136,644M104,633L143,646M107,630L146,648M98,631L150,638M101,631L139,656M94,630L148,642M110,630L154,642M110,624L158,684M102,628L156,681M98,631L150,678M94,634L151,640M106,624L139,654M87,626L152,648M106,624L152,680M93,626L158,636M92,630L156,640M94,630L156,650M102,628L156,638M97,624L145,662M90,630L152,690M90,634L156,692M90,626L149,684M98,629L158,694M95,624L146,654M103,624L139,642M96,626L138,651M104,632L142,654M88,634L144,640M106,628L144,650M92,630L152,682M104,624L151,644M88,633L157,672M110,631L151,670M103,632L137,650M92,624L150,692M100,635L152,685M94,632L154,656M91,624L150,668M77,646L132,645M32,672L136,646M87,657L140,656M72,659L138,654M72,650L134,662M97,664L125,663M80,656L142,664M72,661L129,646M84,654L129,664M34,668L134,658M88,654L135,646M90,666L132,663M58,654L118,652M28,668L130,648M37,670L134,653M94,653L127,661M82,664L141,656M56,654L144,662M50,654L144,665M80,665L136,656M86,664L142,657M61,654L130,648M72,656L126,658M74,650L118,654M86,660L144,670M93,668L129,652M68,646L130,664M92,660L114,658M44,654L135,661M90,662L130,658M58,653L112,656M67,658L122,658M57,654L128,657M80,664L136,646M62,656L119,660M90,667L123,660M79,662L124,650M88,666L144,660M32,666L140,656M57,652L139,660M94,669L143,660M45,665L138,654M29,660L116,652M82,664L144,666M48,657L142,656M34,661L134,657M46,660L144,660M58,658L126,658M94,652L122,658M31,672L140,658M90,648L132,662M90,648L136,650M70,656L134,660M56,662L124,662M58,658L120,661M98,666L126,648M68,644L146,665M66,656L139,654M33,660L118,657M96,655L128,654M77,656L136,665M66,649L142,657M98,662L142,654M104,666L116,660M87,668L138,656M54,654L128,660M76,654L125,654M46,659L142,666M68,660L120,659M65,656L137,652M98,660L120,654M38,662L136,660M78,659L134,664M82,658L138,656M54,658L138,648M93,658L144,668M89,652L127,660M88,646L118,650M42,668L136,648M62,656L138,656M88,646L136,666M100,668L132,654M69,648L123,655M52,653L138,665M88,662L126,651M42,662L144,660M54,658L120,652M29,675L114,655M85,648L124,652M34,663L125,653M54,662L138,648M87,656L128,662M61,660L131,658M38,662L131,644M71,654L142,664M76,654L122,661M94,652L116,654M33,666L124,653M88,662L122,660M48,664L132,655M99,658L136,648M26,668L138,648M90,663L119,658M27,667L142,660M68,644L136,652M105,668L137,664M36,670L129,648M38,658L134,659M28,672L116,652M78,658L120,658M86,648L136,655M44,662L145,666M91,668L136,658M52,654L131,662M86,658L142,658M98,661L112,654M33,662L140,664M70,660L134,651M96,662L134,660M92,669L117,659M97,659L118,660M78,644L140,666M78,649L124,651M93,660L120,658M30,672L133,650M64,662L126,654M104,668L137,664M46,660L124,654M102,672L126,651M46,667L142,658M82,654L138,646M92,657L124,646M88,672L138,667M57,686L136,644M57,700L133,668M90,682L124,660M52,706L146,667M34,680L128,645M100,682L138,650M50,670L136,651M40,684L144,663M62,696L116,652M32,680L124,658M61,702L127,652M96,682L122,648M88,675L134,668M68,685L122,660M78,682L138,660M66,692L136,654M70,665L138,658M91,688L122,648M84,674L120,649M44,680L141,670M57,688L132,665M79,690L138,651M56,706L144,670M52,691L135,644M63,680L142,657M91,685L111,656M72,678L131,658M58,690L122,648M51,688L130,664M98,674L127,656M32,679L135,666M96,684L128,654M55,676L130,655M44,680L115,656M83,670L124,664M32,678L120,658M72,670L144,665M42,690L119,652M90,676L145,666M88,676L120,658M84,692L139,666M66,699L131,648M74,686L116,652M62,706L132,656M65,676L129,646M99,684L128,646M76,692L126,648M74,678L136,658M68,682L136,652M37,690L122,662M64,675L120,654M103,680L116,650M58,696L144,664M42,673L142,660M102,682L120,656M78,676L144,660M75,675L140,650M72,672L120,650M78,676L112,656M70,671L120,660M46,694L128,645M60,702L134,662M91,688L143,666M52,684L120,658M84,666L142,664M40,696L141,662M78,670L140,658M68,690L134,668M87,669L136,660M83,680L125,652M66,661L142,664M62,697L115,655M68,674L127,652M58,688L142,660M54,698L127,665M60,695L146,664M44,681L136,654M98,690L126,650M39,691L124,663M36,686L142,668M31,685L133,657M68,678L138,658M88,672L136,647M85,672L122,647M84,682L135,654M68,662L136,666M73,686L122,652M87,730L138,652M92,692L118,658M90,700L126,661M108,716L137,650M89,706L130,658M86,712L131,656M81,702L134,650M96,728L114,654M106,718L144,658M90,718L115,656M90,716L120,654M76,723L124,650M70,710L142,654M105,716L142,658M78,694L117,650M102,716L136,655M92,716L116,656M88,710L136,652M76,698L142,660M70,711L142,668M72,698L122,652M83,716L118,650M82,719L128,654M111,726L136,662M78,703L135,652M104,712L140,650M93,727L137,658M98,696L124,660M97,728L144,660M91,718L132,666M69,706L122,647M78,696L126,654M88,695L132,646M74,701L140,654M106,720L142,660M94,714L137,644M72,706L122,660M95,706L120,660M94,719L134,665M82,698L128,648M105,714L140,654M102,730L122,658M64,704L132,652M90,726L145,665M82,706L121,656M74,720L126,654M112,720L114,656M86,715L122,657M94,717L130,654M90,727L142,668M80,704L136,663M88,730L116,660M82,709L143,662M66,709L144,662M70,710L140,650M93,733L116,656M112,714L120,660M90,718L142,668M96,714L142,658M93,731L125,663M100,696L118,654M96,718L144,669M82,722L138,652M102,733L131,666M98,702L136,646M97,698L137,668M88,731L139,666M71,708L134,656M90,692L119,659M96,702L140,657M85,696L144,662M88,715L132,667M70,700L142,658M104,712L114,656M98,709L134,650M84,713L132,644M105,724L117,655M100,697L114,654M80,710L135,660M85,696L122,656M82,697L141,670M99,732L144,666M100,718L114,652M84,700L140,664M82,726L126,659M106,724L134,646M80,701L140,653M100,727L140,652M105,725L140,648M100,722L145,662M71,700L140,664M74,695L134,653M110,730L116,656M70,714L135,663M106,708L133,664M92,729L116,656M78,698L136,668M89,726L122,663M68,704L135,663M77,714L133,646M74,718L148,680M86,704L134,644M106,722L153,668M85,714L133,645M84,694L148,670M88,720L156,664M90,705L150,679M83,707L138,646M86,708L146,652M90,692L138,646M88,693L150,684M102,706L158,644M85,731L136,639M106,730L144,654M84,702L155,639M103,705L134,648M102,724L144,650M94,724L148,644M75,720L148,687M70,710L156,696M80,726L138,652M88,692L154,669M110,728L145,654M104,709L135,644M78,712L150,660M66,650L108,610M75,660L111,606M56,662L124,596M92,654L116,606M98,668L113,609M91,668L131,596M50,662L114,604M72,654L134,598M90,646L118,609M56,651L124,595M32,666L112,620M96,652L108,616M84,666L138,606M27,672L126,600M88,658L130,606M32,665L110,610M84,646L121,606M56,659L119,598M90,661L128,612M26,672L136,613M84,663L116,604M34,658L124,616M50,654L114,606M47,658L114,606M58,651L136,606M50,660L132,610M44,665L113,614M80,654L130,618M27,672L116,599M26,670L122,608M34,667L122,617M46,662L117,594M40,666L135,618M34,668L138,610M34,667L131,604M70,657L126,615M44,660L124,598M74,657L117,610M74,655L127,614M68,648L130,596M90,649L116,598M92,654L124,622M77,658L127,606M93,668L126,624M92,662L112,606M26,668L112,602M40,659L110,602M66,646L118,604M28,668L130,608M94,668L114,604M90,662L134,605M30,666L112,600M108,668L125,610M78,660L116,622M45,659L134,603M34,672L118,618M30,668L126,626M84,652L120,614M32,671L140,600M58,652L108,606M62,654L124,594M76,660L122,597M85,662L126,604M66,660L134,599M95,668L136,609M51,662L117,610M30,670L150,674M66,662L134,649M56,656L144,657M76,656L152,679M77,658L132,646M80,656L150,652M107,672L152,674M50,666L157,694M70,662L136,648M81,658L148,660M56,661L146,672M40,656L156,646M75,662L152,654M83,658L148,661M68,655L156,700M47,662L156,696M28,665L154,636M67,658L142,642M74,653L154,688M37,668L144,655M91,664L148,682M84,648L152,687M90,664L150,659M70,650L147,684M83,644L146,682M80,654L158,653M82,665L152,658M48,662L148,662M80,643L150,634M67,660L154,658M53,656L154,692M70,646L146,663M74,650L150,662M98,658L148,686M82,656L152,670M92,650L148,668M100,660L152,660M100,658L149,646M76,646L152,660M45,664L156,650M100,660L155,682M46,664L141,645M80,656L152,654M50,658L146,637M86,659L152,660M83,666L151,658M72,662L146,664M40,662L150,639M58,661L156,662M87,646L152,672M88,666L136,645M88,660L150,666M92,664L148,682M86,664L140,644M69,654L155,634M55,636L102,622M60,628L88,630M52,626L104,629M48,631L86,627M65,628L104,628M48,630L91,634M47,628L98,630M64,629L102,626M55,625L89,632M53,626L102,634M52,622L102,632M49,620L104,630M66,636L110,626M41,636L109,627M46,622L88,626M42,634L108,629M64,627L86,626M46,625L98,630M58,634L96,622M41,633L109,628M56,626L99,630M50,624L94,630M50,632L90,630M52,626L91,625M66,634L94,628M56,633L104,624M52,634L93,628M60,628L98,626M47,629L104,624M43,623L92,632M56,636L109,624M60,631L102,626M65,632L90,632M44,636L94,626M58,629L90,632M44,631L96,624M61,626L90,629M48,634L101,626M63,634L98,628M40,634L98,628M42,637L100,630M50,622L108,628M44,636L104,624M51,628L104,628M38,616L76,636M30,616L86,626M42,622L66,612M34,621L76,622M28,610L62,600M41,622L74,613M34,612L74,620M38,624L68,633M42,612L75,623M34,618L80,612M37,618L72,612M36,614L74,626M33,612L84,628M38,620L74,624M38,609L72,629M34,610L73,632M34,614L82,618M32,615L64,604M27,612L83,623M30,618L71,615M43,618L66,612M29,612L65,606M39,611L74,632M32,608L78,618M32,610L78,606M32,614L74,631M45,620L76,608M28,622L75,636M44,616L78,610M34,614L80,617M39,612L68,612M24,612L68,617M27,608L75,612M36,608L72,628M30,618L76,612M34,614L78,615M32,623L66,608M37,618L64,598M41,621L74,616M32,619L78,616M34,618L69,626M30,613L76,624M34,616L78,604M30,609L83,631M72,626L132,618M66,606L109,605M78,628L118,614M77,604L115,597M73,611L107,610M76,630L126,602M66,608L125,597M68,630L107,608M66,612L112,604M70,635L131,594M70,630L118,602M84,630L134,614M74,611L140,611M78,614L135,612M76,630L128,626M86,626L116,606M83,622L128,604M75,629L118,600M74,632L117,618M72,631L136,598M73,616L108,600M81,626L116,612M84,630L120,618M77,624L126,626M76,620L125,610M78,626L135,609M72,625L120,618M65,612L120,606M83,634L134,603M72,612L127,598M75,626L138,598M74,624L110,606M81,624L127,608M80,614L106,608M84,626L130,612M72,622L118,598M62,602L133,600M74,614L137,604M80,616L125,619M72,620L142,606M76,618L128,598M82,634L106,608M68,613L136,617M75,632L140,612M48,705L139,652M58,669L154,648M92,678L150,675M46,697L132,640M74,678L152,674M80,670L148,652M36,688L155,651M66,678L153,663M78,664L155,694M98,671L156,663M32,690L139,640M85,672L158,653M50,697L154,654M81,671L156,666M68,676L144,662M40,690L141,637M64,688L138,646M55,678L158,682M52,686L152,686M52,680L156,665M50,700L157,699M52,682L152,668M80,700L64,660M89,724L86,666M92,700L40,661M99,709L102,672M91,705L52,660M104,708L84,659M94,705L95,654M74,704L42,667M100,732L36,670M80,711L88,662M83,728L100,659M102,730L26,666M72,706L69,660M96,720L80,646M106,708L88,658M82,720L35,658M74,708L82,658M90,694L74,648M94,704L98,654M76,698L62,660M86,707L70,654M89,692L32,660" stroke="#7A7A7A" stroke-width="0.5" stroke-opacity="0.42" fill="none"/>
<polygon points="42.8,636.6 53.8,625.7 66.9,614.7 82.3,625.7 110.7,625.7 132.6,625.7 141.4,632.3 150.1,643.2 132.6,647.6 112.9,654.2 102.0,656.3 93.2,647.6 75.7,642.1 53.8,649.8 40.7,647.6" fill="#969696" fill-opacity="0.88" filter="url(#dbl)"/>
<polygon points="60.4,597.2 80.1,601.6 86.6,616.9 75.7,625.7 62.6,621.3" fill="#949494" fill-opacity="0.6" filter="url(#dbl)"/>
<polygon points="182.3,664.1 205.1,663.1 207.7,666.2 203.7,679.7 198.1,675.3 191.1,670.1" fill="#909090" fill-opacity="0.9"/>
<polygon points="103.1,673.8 112.9,667.2 123.9,669.4 115.1,686.9 106.3,702.3 99.8,692.4" fill="#A8A8A8" fill-opacity="0.4" filter="url(#dbl)"/>
<g transform="translate(0,555) scale(0.5)">
<path d="M84,170h2v2h-2zM92,167h1v1h-1zM87,167h2v2h-2zM78,166h2v2h-2zM129,165h2v2h-2zM121,165h3v2h-3zM135,164h1v1h-1zM80,164h2v1h-2zM129,162h1v1h-1zM77,162h2v2h-2zM136,161h2v2h-2zM77,159h2v2h-2zM69,155h2v2h-2zM137,153h1v2h-1zM80,153h2v2h-2zM140,148h1v1h-1zM85,144h1v1h-1zM124,136h1v1h-1zM110,134h1v1h-1zM122,132h1v1h-1zM104.5,131.5l0,2l1,1l2,0l1,-1l-2,0l-1,-1l0,-1zM80,130h2v2h-2zM84.5,134.5l0,1l1,0l1,1l0,1l-1,1l-1,0l0,1l1,1l1,0l2,2l0,4l3,2l-1,1l-2,0l-1,-1l-2,0l0,3l1,0l1,1l0,2l-1,1l-1,-1l-1,0l0,3l-1,1l-1,-1l0,-1l-1,0l-1,1l0,5l2,0l1,1l0,1l1,0l1,-1l1,1l1,0l0,-1l1,-1l2,3l0,-4l1,-1l1,1l0,3l1,0l1,-1l3,2l4,0l0,-2l1,-1l2,0l1,1l2,0l1,1l1,-1l1,0l1,1l0,1l3,0l1,1l1,0l0,-3l1,-1l1,1l0,1l1,0l0,-2l-1,0l-1,-1l1,-1l2,0l1,-1l1,1l0,1l-1,1l1,-1l1,0l1,1l-1,1l1,-1l2,0l1,1l0,-2l1,-1l2,0l1,1l3,0l0,-3l1,-1l1,1l0,1l1,0l-1,-3l-1,0l-2,2l-1,-1l0,-1l2,-2l1,0l0,-1l-1,0l-1,-1l1,-1l2,0l0,-1l-1,-1l-1,-3l-1,1l-1,-1l0,-1l-1,1l-1,-1l0,-2l1,-1l1,1l1,0l0,-1l-1,0l-1,-1l0,-1l-1,0l0,1l-1,1l-1,0l-1,-1l0,-2l-1,0l0,2l1,1l-1,1l-1,0l-2,-2l1,-1l0,-2l-1,0l0,1l-1,1l-2,-2l-1,0l-1,-1l0,-1l-2,0l-1,1l-3,0l-1,-1l-8,0l-2,-3l0,-1l1,-1l-1,-1l0,-1l-1,0l0,1l1,0l1,1l-1,1l-2,0l-1,-1l0,-1l-3,0l0,1l-1,1l-2,0l-1,-1l-2,0l-1,1l-3,0l0,1zM107.5,162.5l1,-1l1,1l0,1l-1,1l-1,-1zM108.5,161.5l1,-1l2,0l1,1l1,0l1,1l0,1l-1,1l-2,0l-1,-1l0,-1l-1,0zM113.5,160.5l1,-1l2,2l-1,1l-1,0l-1,-1zM92.5,160.5l1,-1l1,0l1,1l-1,1l-1,0zM105.5,158.5l1,1l0,1l-1,1l-1,0l-1,-1zM131.5,154.5l1,-1l1,0l1,1l-1,1l-1,0zM128.5,148.5l2,-2l3,2l-1,1l-3,0zM118.5,140.5l1,-1l1,1l0,1l-1,1l-1,-1zM109.5,139.5l1,-1l2,0l1,1l-1,1l-2,0zM85.5,138.5l1,-1l1,0l2,2l-1,1l-1,0zM85.5,135.5l1,-1l1,0l1,1l-1,1l-1,0zM89.5,133.5l1,-1l1,0l1,1l-1,1l-1,0zM90,128h1v1h-1zM100,127h1v1h-1zM112,123h2v2h-2zM90,115h2v2h-2z" fill="#8F85D0"/>
<path d="M65,148h1v1h-1zM75,145h2v2h-2zM60,145h2v2h-2zM61,142h2v2h-2zM90,140h2v2h-2zM56,140h2v2h-2zM97,133h1v1h-1zM50,133h1v1h-1zM46,131h1v1h-1zM96,127h2v2h-2zM42,127h1v1h-1zM42,124h2v2h-2zM97,123h1v1h-1zM37,111h2v2h-2zM95,110h1v1h-1zM78,106h1v1h-1zM46,106h2v2h-2zM44.5,110.5l2,3l-1,1l1,-1l2,2l0,1l-2,2l0,2l1,0l1,1l0,1l1,0l1,1l-2,2l-1,0l0,1l1,0l1,1l0,2l-1,1l0,1l1,0l0,-1l1,-1l2,2l0,1l1,1l2,0l1,1l-1,1l1,0l1,1l1,-1l2,0l1,1l-2,2l0,1l1,1l1,0l0,-1l1,-1l1,1l0,1l1,1l1,0l0,-1l-1,-1l1,-1l1,0l1,1l2,0l2,-2l1,1l1,3l1,0l0,-1l1,-1l1,1l1,0l1,-1l1,1l0,1l1,0l1,-1l1,0l0,-2l1,-1l2,3l2,0l0,-1l-1,0l-1,-1l1,-1l2,0l0,-2l1,-1l3,-1l0,-1l2,-3l-1,1l-1,-1l0,-1l2,-2l-1,0l-1,-1l-2,0l-1,-1l0,-1l-2,-2l1,-1l1,0l1,1l0,-3l-1,0l-1,1l-1,-1l0,-3l-2,0l-1,-1l0,-2l-1,1l-2,-2l-1,0l-1,-1l0,-1l-2,0l-1,-1l0,-1l-1,0l0,1l-1,1l-2,-3l1,-1l0,-1l-1,1l-2,0l-1,-1l0,-1l-1,0l-2,-2l0,-1l-3,0l-1,1l-3,0l-3,2l-1,-1l-2,0l0,1l-3,2l0,1l-1,1l0,2l-1,1l-2,0l-1,1zM48.5,125.5l1,-1l1,1l0,1l-1,1l-1,-1zM48.5,116.5l1,1l0,2l-1,1l-1,-1l0,-2zM67,98h1v1h-1zM57,98h1v1h-1zM49,97h1v1h-1zM45,97h1v1h-1zM84,96h1v1h-1z" fill="#2F4030"/>
<path d="M160,167h2v2h-2zM143,163h1v1h-1zM141,162h1v1h-1zM138,162h2v2h-2zM143,160h1v1h-1zM134,159h2v3h-2zM171,154h3v3h-3zM175,148h3v2h-3zM138,144h2v1h-2zM141,127h3v3h-3zM143,107h1v1h-1zM149,105h1v1h-1zM144,105h1v1h-1zM163,104h2v2h-2zM120,98h1v1h-1zM151.5,94.5l1,0l1,1l-1,1l-1,0l0,1l1,0l0,-1l2,-2l1,0l2,3l1,-1l1,1l1,0l0,-1l-1,-1l-3,0l-1,-1l0,-1l-3,0zM156,91h1v1h-1zM135,87h1v1h-1zM126.5,85.5l-1,1l0,1l-2,2l-1,-1l-1,0l-1,1l0,2l1,0l1,1l0,1l-1,1l-1,0l0,1l2,2l0,5l-1,1l-1,0l0,1l4,0l-1,-1l3,-3l1,0l1,1l0,1l-1,1l-1,0l0,1l1,1l-1,1l-1,0l1,1l-1,1l-1,0l0,1l1,0l1,1l2,0l1,1l0,2l1,0l3,2l-1,1l-4,0l-1,-1l2,2l1,0l3,2l1,-1l1,1l0,2l1,1l2,0l1,1l-1,1l0,1l1,0l1,1l1,0l1,-1l3,0l1,1l-1,1l-1,3l1,1l1,-1l1,1l0,1l-1,1l-2,0l1,1l-2,3l-3,0l0,1l4,0l1,1l-2,2l-1,-1l-3,1l0,1l1,0l2,3l-2,2l-1,0l0,2l-1,1l1,0l1,1l-1,1l-3,0l0,1l1,1l-1,1l-1,0l1,0l2,-2l1,0l1,1l-2,2l0,1l3,2l-1,1l2,-2l0,-1l1,-1l1,1l0,1l2,2l-1,1l0,1l1,1l0,1l-1,1l1,-1l1,1l1,0l0,-1l-1,-1l1,-1l0,-3l1,-1l-1,1l-2,-3l1,-1l3,1l0,-1l1,-1l2,3l0,2l-1,1l-2,0l0,2l1,0l1,-1l2,2l0,1l3,1l0,-1l1,-1l1,0l3,-2l1,1l1,0l1,1l0,1l1,0l0,-1l2,-2l1,1l-1,3l1,0l0,-1l1,-1l0,-3l1,-1l-1,-1l-1,0l0,1l-1,1l-1,0l-1,-1l-1,0l-2,-2l1,-1l2,0l1,1l2,-2l-1,-1l1,-1l0,-2l-1,-1l0,-1l1,-1l3,3l2,0l0,-1l-1,0l-1,-1l1,-1l0,-1l-1,-1l0,2l-1,1l-1,0l-1,-1l-1,1l-3,0l-1,-1l0,-2l1,-1l1,1l0,1l1,0l0,-1l1,-1l-2,-2l0,-1l1,-1l2,2l2,0l1,-1l1,0l0,-1l1,-1l-1,1l-1,0l-3,-2l0,-2l1,-1l0,-1l-1,-1l1,-1l1,0l-1,-3l-2,0l-2,2l-1,-1l0,-2l-2,0l-1,-1l1,-1l0,-3l1,-1l1,1l-1,-1l1,-3l1,-1l1,0l0,-1l-1,0l0,1l-1,1l-1,0l0,1l-1,1l-1,-1l0,-2l-1,0l-1,-1l1,-1l2,0l0,-1l1,-1l0,-1l-1,0l-1,1l-2,-3l1,-1l1,0l1,1l0,-2l-1,0l-2,-2l0,-3l1,-1l-1,-1l0,-1l1,-1l1,0l0,-1l-1,0l-1,-1l-2,0l-1,1l-1,-1l1,1l-1,1l-1,0l-2,-2l1,-1l-1,1l-1,0l0,1l1,1l1,0l1,1l0,1l-1,1l-1,0l-3,-3l3,3l-1,1l-1,0l-1,3l-1,1l-1,-1l0,-1l-2,2l0,2l-1,1l-1,-1l0,-1l-1,0l0,1l-1,1l-2,0l-1,1l-1,-1l0,-3l-1,0l-1,-1l1,-1l1,0l0,-1l-1,0l-1,1l-3,0l-1,-1l-2,0l-1,-1l1,-1l2,0l1,-1l1,0l0,-2l-1,0l0,1l-1,1l-2,0l-1,-1l0,-1l1,-1l1,0l0,-1l3,-5l1,1l1,0l0,-1l-1,0l-1,-1l0,-2l1,-1l1,0l0,-1l-1,0l0,1l-1,1l-1,-1l0,-1l-1,0l0,2l-1,1l-1,-1l0,-3l-1,0l-1,-1l0,-1l-1,0zM153.5,161.5l1,-1l1,1l1,0l2,2l-1,1l-1,0l-1,-1l-1,0l-1,-1zM156.5,159.5l1,-1l3,0l1,1l0,1l-2,3l-1,-1l0,-2l-1,0zM166.5,155.5l1,-1l1,0l1,1l-1,1l-1,0zM155.5,155.5l1,-1l1,0l1,1l0,1l-1,1zM145.5,154.5l1,-1l1,1l0,1l-1,1l-1,-1zM162.5,153.5l0,-1l1,-1l1,1l0,-1l1,-1l1,0l1,1l0,1l-2,2l-2,0zM141.5,150.5l1,-1l1,1l0,1l-1,1l-1,-1zM142.5,146.5l1,1l-2,3l-1,-1l0,-2l1,-1zM144.5,146.5l1,-1l1,0l1,1l0,1l-1,1zM164.5,144.5l1,-1l1,0l1,1l-1,1l-1,0zM146.5,140.5l1,1l0,2l1,1l0,1l-1,1l-3,-2l0,-2zM140.5,141.5l1,-1l2,2l-1,1l-1,0l-1,-1zM163.5,140.5l1,-1l1,0l1,1l-1,1l-1,0zM147.5,137.5l1,1l0,1l-1,1l-1,0l-1,-1zM147.5,137.5l1,-1l1,0l1,1l-1,1l-1,0zM161.5,134.5l2,2l-3,3l-1,-1l0,-1zM144.5,135.5l1,-1l2,0l1,1l-1,1l-2,0zM165.5,133.5l1,1l0,4l-1,1l-2,-2l1,-1l0,-2zM158.5,133.5l1,-1l1,1l0,1l-1,1l-1,-1zM148.5,133.5l1,-1l1,0l1,1l-1,1l-1,0zM156.5,131.5l1,-1l1,0l1,1l-1,1l-1,0zM160.5,132.5l1,-1l1,0l-1,-1l1,-1l1,0l1,1l1,3l-1,1l-1,-1l-2,0zM147.5,130.5l1,-1l1,0l1,1l0,1l-1,1zM156.5,127.5l1,-1l1,1l0,1l-1,1l-1,-1zM147.5,125.5l1,-1l1,0l1,1l-1,1l-1,0zM157.5,124.5l1,-1l1,0l1,1l-1,1l-1,0zM154.5,122.5l1,-1l3,2l-1,1l-2,0l-1,-1zM148.5,122.5l1,-1l1,0l1,1l-1,1l-1,0zM144.5,118.5l1,-1l1,0l1,1l-1,1l-1,0zM135.5,118.5l1,-1l1,0l1,1l0,1l-1,1zM148.5,117.5l1,-1l1,0l1,1l-1,1l-1,0zM158.5,116.5l1,-1l1,0l1,1l-1,1l-1,0zM138.5,115.5l1,-1l1,0l1,1l-1,1l-1,0zM133.5,113.5l1,-1l1,0l3,2l-1,1l-1,0l0,1l-1,1l-1,-1zM143.5,111.5l1,0l1,1l0,2l2,0l1,1l-1,1l-2,0l0,1l-1,1l-1,-1l-2,0l-1,-1l1,-1l1,0l0,-1l-1,-1zM154.5,110.5l1,0l2,2l0,6l-1,1l-2,0l-1,-1l0,-3l-1,0l-1,-1l1,-1l1,0l0,-2zM130.5,110.5l1,-1l2,2l-1,1l-1,0l-1,-1zM149.5,109.5l1,-1l1,1l0,1l-1,1l-1,-1zM156.5,109.5l0,-1l1,-1l1,0l1,1l-2,2zM155.5,104.5l1,1l0,2l-3,3l-1,-1l0,-1l2,-2l0,-1zM158.5,101.5l1,-1l1,0l1,1l-1,1l-1,0zM126.5,95.5l1,-1l1,0l1,1l0,2l-1,1zM131.5,93.5l1,1l0,1l-1,1l-1,0l-1,-1zM122.5,93.5l1,1l0,2l-1,1l-1,-1l0,-2zM121.5,91.5l1,-1l1,0l1,1l-1,1l-1,0zM125.5,90.5l1,-1l1,1l0,1l2,0l1,1l0,2l-1,1l-2,-2l-1,0l-1,-1zM130.5,85.5l0,1l1,0l1,-1l1,1l-1,-1l0,-1l-1,0z" fill="#66FFAA"/>
<path d="M142,104h2v2h-2zM150,97h1v1h-1zM137,87h1v1h-1zM125,82h2v2h-2zM162,80h2v2h-2zM120,78h1v1h-1zM166,77h1v1h-1zM128,77h1v1h-1zM114,77h2v2h-2zM119,73h2v1h-2zM111,70h2v2h-2zM169,67h2v2h-2zM170,64h2v2h-2zM173,61h1v1h-1zM98,59h2v2h-2zM177,54h2v2h-2zM174,54h1v1h-1zM181,48h1v1h-1zM106,44h1v1h-1zM182,42h2v2h-2zM185,40h1v1h-1zM186,37h2v2h-2zM106,36h2v2h-2zM140,33h2v2h-2zM147,32h1v1h-1zM162,30h1v1h-1zM159,30h1v1h-1zM157,29h1v1h-1zM150,28h1v1h-1zM125,28h2v2h-2zM198,27h1v1h-1zM131,25h2v2h-2zM125,24h1v1h-1zM189.5,23.5l-4,0l-1,1l-3,0l-3,2l-2,0l-1,-1l-8,0l0,3l-1,1l0,1l-4,4l-1,0l-1,1l-3,1l0,1l-1,1l-1,-1l-1,0l-1,-1l0,-1l-1,0l0,1l-1,1l-1,0l-2,2l-1,-1l-1,0l-2,2l-1,0l-1,-1l1,1l-1,1l-1,0l-1,-1l0,-3l-2,-2l0,-4l-1,0l-1,-1l0,-1l-1,0l-2,3l-1,-1l-2,0l-1,1l0,1l-2,2l-1,-1l0,-1l-1,0l-1,1l-3,-1l-1,1l-1,-1l0,-3l-1,0l0,1l-1,1l-1,0l0,2l1,1l1,3l3,2l-1,1l1,1l0,1l2,0l1,1l-3,3l-2,0l-3,-3l-1,0l-1,1l-1,-1l-1,0l0,1l-1,1l-1,-1l-1,0l-1,1l-2,0l-1,1l0,3l2,0l1,1l3,-1l1,1l0,1l1,0l2,2l-3,2l-1,-1l-4,0l1,1l-1,1l-2,0l0,1l-1,1l-1,0l-1,-1l0,-1l-1,0l0,1l1,0l1,1l0,1l1,1l-1,1l2,0l1,1l1,0l1,-1l3,0l1,1l1,0l2,2l0,1l4,0l1,1l-1,1l2,2l0,1l1,1l2,0l2,2l3,0l1,1l0,2l1,-1l1,1l1,0l0,-1l1,-1l1,1l0,1l1,0l1,1l2,0l6,6l0,1l2,2l0,2l1,1l0,1l1,0l1,1l2,0l1,1l0,2l1,1l1,0l0,-2l2,-2l0,-1l-1,-1l1,-1l1,0l0,-1l-1,-1l0,-2l1,-1l2,0l0,-2l-1,-1l0,-1l1,-1l0,-3l-1,-1l1,-1l0,-3l1,-1l1,-3l1,-1l1,0l0,-1l-1,-1l1,-1l1,0l1,-1l0,-1l2,-2l2,0l-1,0l-1,-1l3,-3l0,-1l4,-4l1,0l0,-2l1,-1l-1,-1l1,-1l3,0l-1,-3l2,-2l2,0l0,-2l1,-1l0,-1l1,-1l1,0l0,-2l1,-1l0,-1l1,-1l1,0l0,-3l-1,-1l1,-1zM159,23h1v1h-1zM171,21h2v2h-2zM201,19h2v2h-2zM192,19h1v1h-1zM178,19h2v2h-2zM194,17h1v1h-1zM186,10h1v1h-1z" fill="#0F7F12"/>
<path d="M187,176h1v1h-1zM204,171h2v2h-2zM178,166h2v2h-2zM208,165h2v2h-2zM205,164h1v1h-1zM175,162h2v2h-2zM227,155h2v2h-2zM231,147h2v2h-2zM227,146h1v1h-1zM168,145h1v1h-1zM227,140h2v2h-2zM170,140h1v1h-1zM225,137h2v2h-2zM180,132h2v2h-2zM210,130h2v2h-2zM227.5,143.5l-1,0l-1,1l-1,-1l0,-3l-1,0l0,1l-1,1l-1,-1l0,-2l1,-1l0,-3l-1,0l0,2l-1,1l-1,-1l0,-1l-2,-2l-1,0l-1,1l-1,-1l1,-3l-2,0l1,1l0,2l-1,1l-1,-1l-3,0l-1,1l-1,-1l0,-1l1,-1l-3,-2l-1,0l0,2l-3,3l-1,-1l0,-1l-2,0l-1,-1l-3,2l-1,-1l-2,0l-1,-1l0,1l-2,2l-2,-3l-3,-1l0,1l1,0l1,1l-1,1l-3,1l-2,2l-1,-1l-1,0l0,2l-1,1l-3,-2l1,-1l-2,2l1,3l-3,2l0,4l1,1l0,2l-1,1l1,1l-1,1l0,1l1,1l1,0l1,1l0,1l2,2l-1,1l-1,0l4,0l1,1l1,0l0,-1l-1,-1l2,-3l1,1l0,5l1,1l7,0l0,-1l1,-1l1,0l2,2l0,1l1,1l2,0l1,-1l0,-1l-2,-2l1,-1l2,0l1,1l0,3l1,1l0,1l1,0l0,-1l1,-1l0,-2l1,-1l1,1l2,0l1,-1l1,0l0,-1l1,-1l1,1l0,3l1,0l1,-1l1,0l-1,-3l1,-1l1,1l0,-1l2,-2l1,1l0,1l0,-1l2,-2l2,0l1,1l1,0l0,-1l-1,0l-1,-1l0,-1l-1,-1l0,-2l1,-1l1,0l1,1l-1,1l1,1l0,-1l1,-1l0,-2l-1,-1l1,-1l1,0l0,-1l1,-1l1,0zM172.5,152.5l1,-1l1,0l1,1l-1,1l-1,0zM171.5,144.5l1,-1l1,0l1,1l-1,1l-1,0zM184.5,137.5l1,-1l1,1l0,1l-1,1l-1,-1zM189.5,135.5l1,-1l1,1l0,1l-1,1l-1,-1zM196,130h1v1h-1zM217,128h2v2h-2zM219,122h1v1h-1zM220,118h1v1h-1z" fill="#0B6FA4"/>
<path d="M199,139h1v1h-1zM171,139h2v2h-2zM198,137h1v1h-1zM189,137h1v1h-1zM191,136h1v1h-1zM215,129h1v1h-1zM162,126h1v1h-1zM216,122h1v1h-1zM223,105h2v2h-2zM214,100h2v2h-2zM190,99h1v1h-1zM216.5,103.5l-1,0l-2,2l-1,-1l0,-1l-2,-2l0,-3l-1,0l0,2l-1,1l1,3l-1,1l-2,-2l0,-3l1,-1l0,-1l-2,0l-1,-1l-1,0l0,1l2,0l1,1l-1,1l-2,0l-1,1l-1,-1l0,-1l-1,0l0,1l-1,1l-1,-1l1,1l-1,1l-1,0l-2,-3l0,1l-1,1l-1,-1l0,-1l-1,0l0,2l-1,1l0,1l-3,3l-1,-1l0,-1l1,-1l-1,1l-1,0l-1,-1l0,-1l-1,0l0,1l1,1l-1,1l-1,0l0,1l-1,1l-1,-1l0,-1l-3,0l0,1l3,0l1,1l-1,1l0,2l-1,1l-3,-2l-1,1l-1,-1l0,-1l-1,0l0,1l1,1l-1,1l1,1l-1,1l-1,0l-1,1l-1,-1l0,-2l-1,0l0,2l-1,1l-1,-1l0,-1l-1,0l0,1l1,0l1,1l0,1l1,0l1,1l-1,1l-2,0l-1,1l-1,-1l-1,0l0,2l1,1l0,1l-1,1l-1,0l-1,1l-3,-2l1,1l0,1l3,1l1,1l0,1l1,-1l1,1l0,1l-1,1l-2,0l0,1l1,0l1,1l0,1l1,0l1,1l-2,2l1,-1l1,0l1,1l2,0l1,1l1,0l0,-1l1,-1l3,2l-3,2l1,0l1,1l0,1l1,0l0,-1l2,-2l0,-1l1,-1l1,1l0,2l1,0l1,-1l1,1l-1,-1l2,-2l1,1l1,0l0,-1l1,-1l1,1l1,0l1,-1l4,0l-1,-1l1,-1l1,0l1,1l1,3l1,0l0,-2l2,-2l1,1l1,0l1,-1l1,1l0,1l1,0l0,-1l-1,0l-1,-1l0,-1l2,-2l1,1l0,1l1,0l2,-2l1,1l0,1l1,0l0,-1l1,-1l0,-1l-1,-1l0,-3l1,-1l1,1l-3,-2l1,-1l3,0l1,-3l1,-1l1,0l0,-1l-1,0l-1,1l-1,-1l0,-1l2,-2l1,1l1,0l-1,-3l-1,0l-1,-1l-1,-3l-1,0l-1,-1l1,-1l2,0zM176.5,136.5l1,-1l1,1l0,1l-1,1l-1,-1zM208.5,126.5l1,-1l1,0l1,1l-1,1l-1,0zM169.5,121.5l1,-1l1,1l0,1l-1,1l-1,-1zM167.5,120.5l1,-1l1,0l1,1l-1,1l-1,0zM214.5,110.5l1,-1l1,0l1,1l-1,1l-1,0zM199.5,101.5l1,-1l1,0l1,1l0,2l-1,1zM201,97h1v1h-1z" fill="#CC66CC"/>
<path d="M252,151h1v1h-1zM230,143h1v1h-1zM235,142h1v1h-1zM230,139h3v2h-3zM272,138h1v1h-1zM280,131h1v1h-1zM289,127h1v1h-1zM208,123h1v1h-1zM281,121h2v2h-2zM287,106h1v1h-1zM208,96h2v3h-2zM208,84h1v1h-1zM210,78h2v2h-2zM271,77h1v1h-1zM223,76h1v1h-1zM222,74h1v1h-1zM269,73h3v3h-3zM273,72h1v1h-1zM230,71h1v1h-1zM230.5,73.5l-1,1l-3,1l2,2l-1,1l-4,0l0,2l-1,1l-2,-2l0,-1l-1,1l0,1l1,1l-3,3l-1,0l0,1l-3,3l0,1l-1,1l-3,0l1,3l-1,1l-1,0l1,0l1,-1l1,1l0,4l-1,1l0,1l1,1l-1,1l-1,0l0,1l-1,1l-1,0l0,1l1,0l0,-1l1,-1l1,1l0,2l-1,1l1,0l1,1l0,1l1,1l-1,1l0,1l1,0l1,1l-1,1l-1,0l0,2l3,0l1,1l-1,1l0,2l-2,3l2,-2l1,1l0,3l1,0l2,3l-1,1l0,1l1,0l1,-1l2,2l0,1l1,0l1,1l-1,1l0,1l1,0l1,-1l0,-3l-2,0l-1,-1l0,-1l1,-1l1,1l2,0l1,1l0,1l1,1l0,1l-1,1l0,2l2,0l1,-1l2,0l1,1l0,-1l1,-1l2,2l-2,2l3,1l1,1l0,1l3,0l1,1l-1,1l-1,3l2,0l1,1l1,0l0,-1l1,-1l1,1l0,1l1,0l1,-1l3,0l1,-1l1,0l1,1l0,2l1,0l1,-1l1,1l2,0l1,-1l2,0l0,-1l1,-1l1,0l0,-3l1,-1l1,1l0,1l2,0l-1,-1l1,-1l2,0l1,-3l-1,0l-1,-1l1,-1l1,0l0,-1l-1,-1l1,-1l0,-1l1,-1l1,1l2,0l1,-1l0,-1l-1,0l-1,-1l0,-3l1,-1l1,1l0,2l1,0l0,-1l2,-2l0,-2l-1,-1l0,-2l1,-1l1,0l0,-1l1,-1l1,1l0,1l1,0l0,-1l3,-3l0,-4l1,-1l0,-1l-2,-2l1,-1l0,-2l2,-2l1,0l1,-1l-2,0l-1,-1l0,-1l1,-1l1,1l1,0l0,-1l-1,0l-1,-1l1,-1l1,0l0,-1l-1,0l-3,-2l1,-1l0,-1l2,-2l1,0l0,-1l-1,0l-1,1l-1,0l-1,-1l-1,1l-1,-1l0,-1l-1,-1l1,-1l0,-1l-2,-3l1,-1l-1,1l-2,0l0,2l-1,1l-1,0l-1,-1l0,-2l-1,-1l1,-1l0,-1l-1,0l-1,1l-1,-1l-1,1l-3,0l-1,-1l0,-1l-2,0l-2,-2l0,-1l-6,0l-1,1l-1,0l-1,-1l0,-1l-5,0l-1,-1l0,2l-1,1l-1,-1l0,-1l-1,0l-1,-1l1,-1l1,0l0,-1l-3,0l-1,1l-3,0l-1,1l-3,1l-2,2l-1,-1l1,1l0,1l-1,1l-3,0l-1,-1l0,-1l1,-1l1,1l-1,-1zM254.5,146.5l1,-1l1,0l1,1l-1,1l-1,0zM244.5,145.5l1,-1l1,0l1,1l-1,1l-1,0zM240.5,140.5l1,-1l1,1l0,1l-1,1l-1,-1zM266.5,139.5l1,-1l1,0l1,1l-1,1l-1,0zM237.5,139.5l1,-1l1,0l1,1l-1,1l-1,0zM271.5,129.5l1,-1l2,2l-1,1l-1,0l-1,-1zM218.5,121.5l1,1l0,2l-1,1l-1,0l-1,-1l0,-1zM214.5,118.5l1,-1l1,1l0,1l-1,1l-1,-1zM279.5,114.5l1,-1l1,1l0,1l-1,1l-1,-1zM281.5,113.5l1,-1l1,0l1,1l0,2l-1,1zM212.5,103.5l1,1l0,2l-1,1l-2,-2zM283.5,91.5l1,-1l1,1l0,1l-1,1l-1,-1zM281.5,89.5l1,-1l1,0l1,1l-1,1l-1,0zM279.5,88.5l1,-1l1,0l1,1l-1,1l-1,0zM245.5,75.5l1,-1l1,0l1,1l-1,1l-1,0z" fill="#0000A5"/>
<path d="M107,317h1v1h-1zM71,296h2v2h-2zM138,295h2v2h-2zM70,289h1v1h-1zM192,286h1v1h-1zM152,283h2v2h-2zM201,281h1v1h-1zM182,281h1v1h-1zM173,281h1v1h-1zM63,279h2v2h-2zM54,269h1v1h-1zM56,262h1v1h-1zM51,257h2v2h-2zM217,252h1v1h-1zM209,235h1v1h-1zM206,229h1v1h-1zM77,223h1v1h-1zM66,223h1v1h-1zM178,220h2v2h-2zM72,219h2v2h-2zM181,217h2v2h-2zM76,217h1v1h-1zM154,213h1v1h-1zM161,212h1v1h-1zM177,211h1v1h-1zM141,210h1v1h-1zM113,210h1v1h-1zM107,210h2v2h-2zM161,208h2v3h-2zM144,208h2v2h-2zM141,208h1v1h-1zM206.5,232.5l-1,-1l-1,1l-2,0l-1,-1l1,-1l-1,1l-1,0l-1,-1l1,-1l-1,1l-2,0l-2,-2l1,-1l-2,0l0,1l-2,2l-1,-1l0,-1l-2,-2l-1,0l-1,1l-1,-1l-2,0l-1,-1l-2,0l-1,-1l0,-1l-1,0l0,1l-1,1l-1,0l-1,-1l0,-2l-1,-1l0,-1l-2,0l1,1l-1,1l-1,0l-2,-2l1,-1l0,-1l-1,0l0,1l-1,1l-1,-1l0,1l-1,1l-1,0l-1,-1l1,-1l0,-1l-1,0l0,1l-1,1l-1,-1l0,-1l-1,0l0,1l-1,1l-1,-1l0,-2l3,-2l-2,0l-3,-2l-2,0l0,1l-1,1l-3,0l-1,-1l1,-1l0,-1l-2,-2l-3,0l-1,1l0,2l1,1l-1,1l-2,0l-1,-1l1,-1l0,-1l-5,0l-1,1l-2,-2l0,-2l1,-1l-2,0l0,3l-1,1l-1,-1l0,-1l-1,1l-1,-1l0,-1l-1,0l0,1l-3,2l-1,-1l-3,-1l-1,1l-1,0l0,1l-1,1l-1,-1l0,-1l-1,0l0,1l-2,2l-1,-1l0,-1l-1,0l0,1l-1,1l-1,0l-1,-1l-1,1l-1,-1l1,1l0,1l-1,1l-1,0l-2,-2l-1,1l-1,0l0,2l-2,2l-3,0l-1,-1l0,-1l-1,0l-2,2l0,1l-1,1l-1,0l0,1l-1,1l-1,-1l0,-1l-1,0l-1,1l-2,0l-1,-1l1,-1l0,-1l-1,0l-2,3l-1,-1l1,1l2,0l1,1l-3,2l-1,0l-2,-3l-1,1l-1,0l1,1l0,1l-1,1l-2,0l-1,-1l-3,0l-1,1l-1,0l0,1l1,0l1,1l-2,2l-2,-2l-1,0l-1,-1l1,1l0,1l-1,1l-1,-1l-1,0l0,1l-2,2l-1,-1l0,-1l1,-1l-1,1l-3,0l-2,3l-1,-1l-1,0l-1,1l0,1l-1,1l2,0l1,1l-2,2l0,1l-1,1l-1,-1l0,-1l-1,1l0,1l1,0l3,3l-1,1l-2,0l-1,-1l1,1l-1,1l1,-1l3,2l-1,1l1,1l-1,1l0,2l2,3l-1,3l2,0l1,1l0,2l1,1l0,4l-1,1l0,1l0,-1l1,-1l1,0l1,1l-1,1l2,3l0,3l2,2l-1,1l1,-1l1,1l0,1l2,2l1,0l1,1l-1,1l-1,0l0,1l-1,1l1,-1l2,0l1,1l-1,1l-1,0l0,1l2,0l1,1l2,0l1,1l-1,1l0,2l2,0l3,2l-1,1l-1,0l0,1l3,-1l0,-1l1,-1l1,1l0,2l-1,1l0,1l3,0l1,1l-1,1l0,2l1,0l0,-1l1,-1l2,2l1,0l0,-1l1,-1l1,1l2,0l1,1l0,3l-1,1l0,1l1,0l1,1l1,0l0,-1l-1,0l-1,-1l0,-1l1,-1l1,0l0,-2l2,-2l1,1l0,3l1,1l0,1l2,0l1,-1l1,0l1,1l0,2l5,0l2,2l0,1l1,1l3,-1l0,-1l1,-1l1,1l0,2l-1,1l-1,0l0,1l1,0l0,-1l1,-1l3,1l0,-3l1,-1l1,0l1,1l-1,1l0,1l1,0l1,1l-1,1l0,1l1,0l1,-1l0,-1l-1,0l-1,-1l1,-1l2,0l1,1l1,0l0,-4l1,-1l1,0l0,-3l-1,-1l2,-2l1,0l0,-1l-1,-1l-1,-3l1,-1l1,1l0,-2l1,-1l4,0l0,-2l1,-1l1,0l0,-1l1,-1l3,0l0,-1l2,-2l3,0l1,-1l1,0l2,-2l2,0l-1,-1l1,-1l1,0l1,1l0,1l1,0l0,-1l-1,-1l1,-1l1,0l1,1l1,0l1,1l0,1l1,0l0,-3l2,-2l1,0l1,1l0,2l1,0l1,1l1,0l1,-1l-1,-1l1,-1l1,0l1,1l1,0l2,3l1,0l1,-1l6,0l0,-1l1,-1l2,3l0,-2l-1,-1l1,-1l2,0l1,1l2,0l1,-1l0,-3l1,-1l2,2l0,1l1,1l0,1l-1,1l1,-1l1,0l0,-1l-1,0l-1,-1l0,-2l1,-1l1,1l-1,-1l0,-3l1,-1l1,1l4,0l0,-1l1,-1l-1,-3l1,-1l1,1l1,-1l1,0l0,-3l3,-3l0,-1l-1,0l-1,-1l0,-3l1,-1l1,0l0,-2l1,-1l1,0l-1,-3l-1,0l-2,-2l0,-1l1,-1l1,0l1,1l1,0l0,-1l-1,0l-2,-2l0,-1l-1,0l-1,-1l0,-2l-3,-2l2,-2zM122.5,307.5l1,-1l2,0l1,1l-1,1l-2,0zM118.5,305.5l1,-1l1,1l0,1l-1,1l-1,-1zM95.5,296.5l1,1l0,2l-1,1l-1,-1l0,-2zM85.5,297.5l1,-1l1,0l1,1l-1,1l-1,0zM80.5,290.5l1,-1l1,1l0,1l-1,1l-1,-1zM130.5,289.5l1,-1l3,0l1,1l-1,1l-3,0zM73.5,288.5l1,-1l1,0l1,1l-1,1l-1,0zM140.5,284.5l1,-1l1,0l1,1l-1,1l-1,0zM147.5,280.5l1,-1l1,0l1,1l-1,1l-1,0zM145.5,277.5l1,1l0,2l-1,1l-1,-1l0,-2zM150.5,275.5l1,1l0,1l-1,1l-1,0l-1,-1zM153.5,276.5l0,-1l1,-1l1,0l1,1l-2,2zM182.5,274.5l1,-1l2,2l-1,1l-1,0l-1,-1zM62.5,265.5l1,-1l1,0l1,1l-1,1l-1,0zM57.5,253.5l1,-1l1,1l0,1l-1,1l-1,-1zM204.5,249.5l1,-1l1,0l1,1l-1,1l-1,0zM202.5,237.5l0,-2l1,-1l2,2l-2,2zM189.5,231.5l1,-1l1,0l1,1l0,1l-1,1zM80.5,227.5l1,-1l1,0l1,1l-1,1l-1,0zM76.5,227.5l1,-1l1,0l1,1l-1,1l-1,0zM86.5,224.5l2,-2l2,2l-1,1l-2,0zM96.5,220.5l1,-1l1,0l1,1l-1,1l-1,0zM158.5,213.5l1,1l0,1l-2,2l-1,-1l0,-1zM113.5,214.5l1,-1l1,1l0,1l-1,1l-1,-1zM122.5,213.5l1,-1l1,0l1,1l-1,1l-1,0zM146.5,211.5l1,-1l1,0l1,1l0,2l-1,1zM133,207h1v2h-1zM121,207h2v2h-2zM142,204h1v1h-1z" fill="#FF4D4D"/>
<path d="M206,251h1v1h-1zM49,249h2v2h-2zM52,248h1v1h-1zM70,246h1v1h-1zM82,243h2v2h-2zM54,242h1v1h-1zM201,241h1v1h-1zM223,239h1v1h-1zM193,239h1v1h-1zM76,238h1v1h-1zM208.5,237.5l1,0l1,1l0,1l1,0l0,-1zM220,234h2v2h-2zM81,234h2v2h-2zM180,233h2v2h-2zM175,232h1v1h-1zM88,230h2v2h-2zM145,228h1v1h-1zM161,226h1v1h-1zM27,225h1v1h-1zM219,223h1v1h-1zM105.5,223.5l-1,0l-1,3l1,0zM47,222h2v2h-2zM215,221h1v1h-1zM114,221h2v2h-2zM137,219h2v2h-2zM125,218h3v3h-3zM46,218h2v2h-2zM221,217h1v1h-1zM52,208h1v1h-1zM56,206h1v1h-1zM42,205h1v1h-1zM203,199h1v1h-1zM198,197h1v1h-1zM77,196h1v1h-1zM104,192h1v1h-1zM95,192h1v1h-1zM115,188h1v1h-1zM195,186h2v2h-2zM117,185h1v1h-1zM183.5,178.5l-1,0l0,2l-1,1l-1,-1l0,1l1,0l2,-2zM136,176h1v1h-1zM175,174h1v1h-1zM164,173h2v2h-2zM161,173h2v2h-2zM138,172h1v1h-1zM158,171h2v2h-2zM220.5,230.5l-2,-2l0,-3l-1,0l0,1l-1,1l-2,-3l-2,0l-1,-1l-1,1l-1,-1l1,-3l-2,0l-2,-2l0,-1l1,-1l1,0l0,-1l-1,-1l0,-1l-1,0l-1,-1l0,-1l-1,1l-2,-3l1,-1l1,0l0,-1l-1,0l0,1l-2,2l-1,-1l0,-1l-1,0l-1,-1l0,-1l1,-1l1,1l1,0l1,-1l0,-1l-2,-2l-1,0l0,1l-1,1l-2,-3l1,-1l3,0l1,-1l-4,0l-1,1l-1,-1l1,-3l-1,0l-2,-2l0,-2l-1,-1l0,-1l1,-1l-1,1l-1,0l-2,-2l-1,1l-1,-1l0,-3l1,-1l1,0l0,-1l-3,0l-1,1l-1,0l-1,-1l-2,0l-1,1l-3,-2l1,-1l-1,1l-1,-1l0,-1l-1,1l-1,0l-1,-1l1,-1l-1,-1l0,-1l-4,0l-1,-1l2,-2l1,0l0,-1l-1,0l-1,1l-1,0l-1,1l-3,1l0,1l1,1l-1,1l-2,0l-1,-1l0,-2l-1,0l-1,-1l1,1l0,1l-1,1l-2,-2l-1,-3l-2,0l-1,-1l0,-1l-2,0l0,1l2,0l1,1l-1,1l-3,0l0,4l-1,1l-1,-1l-1,-3l-1,0l-1,-1l0,-1l-1,0l0,1l-1,1l-1,0l-1,-1l1,-1l-1,1l-1,0l0,1l-4,4l-1,0l-1,-1l0,-1l-1,0l0,1l1,0l1,1l-1,1l-3,0l-3,2l-2,0l-1,1l-1,0l0,1l1,1l0,1l-1,1l-1,-1l-4,0l-1,1l-1,0l0,1l3,0l1,1l-1,1l-3,0l-1,1l-3,0l-1,-1l-1,1l-1,-1l-2,3l0,1l1,1l-1,1l-1,0l-2,-2l-1,0l-2,2l-1,-1l0,-1l-1,0l-1,-1l2,3l-1,1l-1,0l-2,-2l0,-1l-1,0l-1,1l0,2l-1,1l-1,-1l-1,1l-1,0l-1,-1l0,-1l1,-1l1,0l-1,-1l-1,0l0,2l-1,1l-1,-1l0,-1l-1,0l-1,1l0,1l1,1l-1,1l-1,0l-1,-1l-1,1l-1,-1l0,-1l1,-1l-1,1l-1,0l-1,1l0,1l1,1l0,2l-1,1l-2,-2l0,-1l-1,1l-1,0l-1,-1l1,-1l-1,1l-1,0l-2,2l-1,0l-1,-1l1,-1l-1,-1l0,-1l-1,0l0,1l1,0l1,1l-1,1l-1,0l-1,1l0,1l-2,2l-6,0l1,1l-1,1l-2,0l-2,3l-1,0l-1,-1l-1,1l0,1l-2,3l0,2l-2,3l0,1l1,0l2,3l-2,3l-1,-1l-1,0l-1,1l0,1l1,0l1,1l0,1l1,0l1,-1l3,3l-1,1l-2,0l-1,-1l-1,0l0,1l1,0l1,1l2,0l1,1l-1,1l-2,0l0,1l2,0l1,1l-1,1l2,-2l1,1l0,1l-1,1l0,1l1,1l1,0l0,-1l1,-1l1,1l0,2l-1,1l-1,0l0,1l2,0l1,-1l0,-2l2,-2l2,0l1,-1l1,1l2,0l1,-1l2,0l-1,-1l0,-1l1,-1l1,0l1,-1l2,0l1,-1l1,1l1,0l0,-1l1,-1l3,0l1,-1l1,0l1,-1l-1,-1l-1,1l-1,-1l0,-1l1,-1l2,0l1,1l1,0l0,-1l1,-1l2,0l2,2l-1,1l2,0l0,-1l-1,-1l0,-1l1,-1l1,1l1,-1l1,1l2,0l1,-1l1,0l1,-1l0,-1l2,-2l1,0l3,-2l1,1l3,-1l1,1l-1,1l0,1l1,0l0,-2l1,-1l1,0l2,-2l2,0l1,1l3,0l0,-1l1,-1l2,0l1,-1l1,1l2,0l-1,-1l0,-1l1,-1l2,2l0,1l1,0l1,-1l1,1l1,-1l1,0l1,1l-1,1l3,0l1,1l0,1l1,0l2,-2l2,2l-1,1l-1,0l0,1l1,0l3,-2l1,1l2,0l1,1l1,-1l2,0l1,-1l2,2l0,2l1,0l1,1l3,0l0,-1l1,-1l1,0l1,1l-1,3l1,0l0,-1l1,-1l3,1l1,1l-1,1l-1,0l0,1l1,0l0,-1l3,-2l1,1l0,2l1,-1l1,0l1,1l0,2l1,0l1,1l1,0l2,-2l1,1l1,3l1,0l1,1l1,0l0,-2l1,-1l1,0l2,2l2,0l1,1l0,1l1,0l1,-1l1,1l0,1l1,0l0,-1l1,-1l1,0l2,3l3,0l0,-1l1,-1l3,0l1,-1l2,2l1,0l0,-1l1,-1l2,2l-1,1l1,-1l0,-2l1,-1l0,-1l-1,-1l1,-1l2,0l1,1l1,0zM195.5,234.5l1,-1l1,0l1,1l-1,1l-1,0zM95.5,224.5l1,-1l1,1l0,1l-1,1l-1,-1zM158.5,222.5l3,-2l1,1l0,1l-1,1l-2,0zM92.5,221.5l1,-1l1,0l1,1l-1,1l-1,0zM97.5,220.5l1,-1l1,1l0,1l-1,1l-1,-1zM110.5,217.5l1,-1l2,0l2,2l-1,1l-1,0zM106.5,216.5l1,1l0,1l-1,1l-1,0l-1,-1zM151.5,216.5l1,-1l1,1l0,1l-1,1l-1,-1zM106.5,216.5l1,-1l1,0l1,1l-1,1l-1,0zM51.5,216.5l1,-1l1,0l1,1l0,1l-1,1zM120.5,215.5l1,-1l1,1l0,1l-1,1l-1,-1zM138.5,213.5l1,-1l2,0l1,1l-1,1l-2,0zM135.5,213.5l0,-1l1,-1l2,0l1,1l-3,2zM58.5,209.5l1,1l-2,3l-1,-1l0,-2l1,-1zM60.5,207.5l1,-1l2,0l1,1l0,2l-1,1l-2,0l-1,-1l1,-1zM193.5,203.5l1,-1l1,0l2,2l-1,1l-1,0zM70.5,204.5l3,-2l1,1l0,1l-1,1l-2,0zM191.5,191.5l1,1l-2,3l-1,-1l0,-2l1,-1zM169.5,179.5l1,-1l1,0l1,1l-1,1l-1,0zM138.5,177.5l1,-1l1,1l0,1l-1,1l-1,-1zM143.5,176.5l0,-1l1,-1l1,0l1,1l-2,2zM158,163h1v1h-1zM151,162h2v3h-2z" fill="#9E005D"/>
<path d="M180,367h1v1h-1zM207,365h2v3h-2zM176,362h1v1h-1zM178,361h1v1h-1zM169,357h1v1h-1zM161,356h2v2h-2zM229,349h2v2h-2zM231,342h1v1h-1zM131,334h1v1h-1zM229,329h1v1h-1zM139,327h1v1h-1zM231,323h2v2h-2zM230,321h1v1h-1zM116,312h2v2h-2zM123,299h2v2h-2zM129,289h3v2h-3zM213,287h1v1h-1zM129,286h2v2h-2zM130,283h1v1h-1zM137,282h1v1h-1zM207,281h2v2h-2zM199,272h2v2h-2zM192,269h1v1h-1zM162,268h2v2h-2zM133.5,282.5l1,1l-1,1l0,2l3,2l-2,2l-1,0l0,1l-1,1l-3,0l-1,-1l-1,0l0,1l1,1l0,1l-1,1l2,0l1,1l0,1l-1,1l-1,0l0,1l-1,1l-1,0l0,2l-1,1l-1,-1l-1,0l0,1l1,1l0,1l-1,1l1,1l-1,1l0,1l2,0l1,1l0,1l1,0l2,2l0,1l1,0l0,-1l1,-1l1,1l0,1l2,0l1,1l0,3l-1,1l-1,-1l1,1l-1,1l0,1l2,0l1,-1l1,0l1,1l1,3l1,0l2,2l0,1l2,2l-1,1l-1,3l3,1l2,2l0,1l1,0l0,-1l-1,-1l3,-2l1,1l0,1l-1,1l1,-1l1,0l1,1l-1,1l0,1l1,1l0,3l3,-1l2,2l-1,1l-4,0l0,1l1,0l1,-1l1,1l1,0l0,-1l1,-1l1,1l0,1l1,0l1,1l-1,1l-1,0l0,1l1,0l1,1l0,1l1,0l0,-2l1,-1l1,1l1,0l1,1l0,1l1,0l1,1l-1,1l-5,0l0,1l2,0l1,1l1,0l1,-1l0,-1l2,-2l3,3l-1,1l0,1l1,1l2,0l3,3l2,0l2,2l1,0l1,1l0,3l2,-3l2,2l-1,1l0,1l1,0l1,-1l2,0l3,2l-1,1l1,-1l3,0l1,-1l2,0l2,-2l1,1l2,0l2,-2l1,0l-1,-1l1,-1l1,0l1,1l0,1l1,0l0,-2l1,-1l1,1l0,2l3,0l0,-1l-1,0l-1,-1l0,-1l3,-2l1,1l0,1l1,0l0,-1l-1,0l-1,-1l0,-1l1,-1l1,0l0,-1l1,-1l3,1l0,-1l-1,-1l0,-2l1,-1l3,0l0,-1l-2,0l-1,-1l1,-1l3,0l1,-1l-2,0l-1,-1l3,-3l1,1l1,0l0,-1l-1,-1l-1,0l-3,-2l1,-1l1,0l0,-1l1,-1l0,-4l-1,0l-1,-1l1,-1l0,-3l1,-1l0,-4l-1,-1l1,-1l1,0l0,-1l-3,0l-1,-1l0,-3l-1,0l-2,-3l1,-1l0,-2l-2,-2l0,-1l-2,0l-1,-1l1,-1l1,0l0,-1l-1,0l-1,-1l0,-2l-1,-1l-1,0l-3,-2l1,-1l1,0l-1,-3l-1,-1l-2,2l-1,-1l0,-1l-1,-1l1,-1l-2,-2l0,-1l-3,-3l0,-1l-1,-1l1,-1l1,0l0,-1l-3,-1l0,2l-1,1l-1,0l-2,-2l2,-2l0,-1l-2,0l-1,-1l-1,0l-2,-2l0,-1l-1,0l0,1l-1,1l-2,-2l0,-1l-1,-1l-2,0l0,1l-1,1l-1,0l-1,-1l2,-3l-1,1l-3,1l-1,-1l0,-1l1,-1l1,0l0,-1l-1,0l0,1l-1,1l-1,0l0,1l-2,3l-1,0l-1,-1l0,-1l-1,0l-2,2l-2,0l-1,-1l0,-1l-2,2l-1,-1l0,-1l-2,0l0,2l-1,1l-1,0l-1,-1l0,-1l-1,0l-3,2l-1,0l-1,-1l-3,-1l-1,1l-1,0l0,2l-1,1l-1,0l0,1l-1,1l1,0l1,1l-1,1l-2,0l-1,-1l-1,0l0,1l-1,1l-1,-1l0,1l-1,1l-1,-1l0,-1l-1,0l-1,1l1,3l-1,1l-2,0l-1,1l-1,0l-1,-1l1,-1l0,-1l-1,0zM199.5,363.5l1,-1l1,1l0,1l-1,1l-1,-1zM178.5,356.5l1,-1l1,0l1,1l-1,1l-1,0zM224.5,331.5l1,1l0,2l-1,1l-1,-1l0,-2zM150.5,331.5l1,-1l2,2l-1,1l-1,0l-1,-1zM146.5,331.5l1,-1l2,2l-1,1l-1,0l-1,-1zM149.5,329.5l1,-1l1,1l0,1l-1,1l-1,-1zM139.5,321.5l1,-1l1,0l1,1l0,1l-1,1zM222.5,319.5l1,-1l2,2l-1,1l-1,0l-1,-1zM219.5,313.5l1,-1l1,1l0,1l-1,1l-1,-1zM132.5,310.5l1,-1l1,1l0,1l-1,1l-1,-1zM218.5,308.5l1,-1l1,1l0,1l-1,1l-1,-1zM216.5,303.5l1,-1l1,1l0,1l-1,1l-1,-1zM130.5,294.5l1,-1l1,1l1,-1l1,1l0,2l-1,1l-1,-1l-1,0l-1,-1zM134.5,291.5l1,-1l1,0l1,1l-1,1l-1,0zM202.5,288.5l1,-1l1,1l0,1l-1,1l-1,-1zM142.5,284.5l1,-1l1,0l1,1l-1,1l-1,0zM190.5,276.5l1,-1l1,0l1,1l-1,1l-1,0zM150.5,277.5l0,-1l2,-2l6,0l1,1l-1,1l-1,0l-2,3l-1,0l-1,-1l1,-1l0,-1l-1,0l-2,2zM187.5,274.5l1,-1l1,1l0,1l-1,1l-1,-1zM175,266h2v2h-2z" fill="#5A0008"/>
<path d="M320,326h2v2h-2zM355,316h1v1h-1zM301,316h1v1h-1zM346,315h1v1h-1zM339,314h3v2h-3zM329,313h1v1h-1zM335,312h1v1h-1zM322,309h1v1h-1zM368,307h2v2h-2zM311,295h1v1h-1zM379,294h1v1h-1zM301,289h2v2h-2zM303,284h1v1h-1zM392,283h2v2h-2zM397,282h2v2h-2zM388,282h1v1h-1zM300,281h2v2h-2zM296,270h2v3h-2zM404,269h2v2h-2zM289,262h1v1h-1zM413,254h2v2h-2zM288,252h3v3h-3zM287,247h1v1h-1zM284,243h1v1h-1zM401,238h1v1h-1zM396,236h1v1h-1zM284,236h1v1h-1zM395,231h1v1h-1zM395,228h2v2h-2zM391,228h2v2h-2zM387,227h1v1h-1zM400,224h1v1h-1zM290,224h1v1h-1zM402,223h1v1h-1zM288,223h1v1h-1zM412,222h2v2h-2zM383,222h2v2h-2zM281,220h2v2h-2zM434,219h1v1h-1zM281,214h1v1h-1zM278,213h1v1h-1zM428,205h2v2h-2zM423,197h2v2h-2zM423,195h1v1h-1zM257,195h2v2h-2zM425,190h1v1h-1zM420,189h3v2h-3zM418,186h2v2h-2zM253,183h1v1h-1zM419,181h1v1h-1zM255,180h1v1h-1zM425,178h1v1h-1zM258,178h1v1h-1zM253,175h2v2h-2zM258,169h1v1h-1zM260.5,169.5l2,0l1,-1l-2,0zM331,163h1v1h-1zM270,163h1v1h-1zM286,159h1v1h-1zM284,158h1v1h-1zM299,154h2v2h-2zM371,153h1v1h-1zM261.5,171.5l0,1l-1,1l1,-1l1,1l0,1l3,2l0,1l-1,1l-1,-1l-1,1l1,-1l1,1l0,2l-1,1l-1,0l-2,-2l1,1l0,2l1,1l-1,1l-1,0l2,2l0,1l1,1l2,0l1,1l0,1l-1,1l-1,-1l1,1l0,1l3,0l1,1l0,3l1,1l0,3l1,0l1,-1l1,1l1,0l2,3l-1,1l0,1l1,0l0,-1l1,-1l1,1l0,2l-1,1l0,1l1,0l1,-1l1,1l0,2l1,0l1,1l1,-1l1,1l0,3l1,0l1,1l-1,1l-1,0l0,1l1,0l2,2l0,1l-1,1l-1,0l6,0l1,1l0,2l2,3l0,1l-1,1l-1,0l-1,-1l0,-2l-3,0l0,1l3,3l-1,1l1,1l0,1l-1,1l-1,-1l1,1l-1,1l-1,0l-1,-1l1,1l0,1l4,4l-1,1l-1,0l-1,-1l-1,1l-1,0l1,1l-1,1l-1,0l2,0l0,-1l1,-1l2,2l-2,2l1,0l1,1l-1,1l-1,0l0,2l-1,1l4,-4l1,0l1,1l-2,2l0,1l1,0l1,1l-1,1l-1,0l0,3l-1,1l1,1l4,0l1,1l-3,2l-3,0l1,1l1,0l1,-1l1,1l0,1l-1,1l0,1l1,0l1,1l-1,1l0,1l2,0l2,2l0,2l2,0l1,1l-1,1l-1,0l1,1l-1,1l-1,0l0,1l2,0l2,2l0,2l1,0l1,1l0,3l1,0l1,1l0,2l1,0l1,1l-1,1l-2,0l0,1l2,0l0,-1l1,-1l1,1l0,1l3,1l1,1l0,1l1,-1l1,1l1,0l1,1l-1,1l-2,0l0,1l2,2l-1,1l1,-1l2,2l1,0l1,1l0,1l1,0l2,2l0,1l-1,1l1,0l1,-1l2,2l0,1l1,0l0,-1l1,-1l1,1l3,0l1,1l0,1l1,0l1,-1l1,1l0,3l1,0l1,-1l1,1l1,0l2,-2l1,0l3,3l1,0l0,-1l1,-1l1,1l3,-2l2,0l0,-1l1,-1l1,1l0,1l2,0l0,-1l1,-1l2,0l1,1l1,0l0,-1l-1,0l-1,-1l0,-1l1,-1l1,1l1,0l0,-4l1,-1l1,0l1,1l1,0l1,-1l2,0l0,-4l-1,0l-1,-1l1,-1l1,0l0,-2l2,-2l1,1l-1,3l1,1l1,0l0,-1l-1,-1l3,-3l1,1l-1,-1l2,-2l0,-2l1,-1l1,1l-1,-1l1,-1l1,0l0,-2l1,-1l1,1l0,-2l1,-1l0,-3l1,-1l1,0l1,1l0,1l-1,1l1,1l2,0l-1,-1l1,-1l-1,0l-1,-1l0,-1l1,-1l3,1l0,-1l1,-1l1,1l1,-1l1,0l2,-2l0,-1l1,-1l1,0l0,-2l1,-1l3,0l0,-1l1,-1l1,1l0,-4l1,-1l-1,-3l2,-3l0,-1l-1,-1l1,-1l0,-1l-1,-1l-1,0l0,2l-1,1l-1,-1l0,-1l-1,0l-1,-1l1,-1l0,-2l1,-1l1,1l1,0l0,-1l-1,0l-3,-3l0,-1l-1,0l-1,1l-1,-1l-2,0l-1,-1l1,-1l1,-3l-3,1l0,1l-1,1l-1,-1l0,-2l-1,-1l0,-2l-2,3l-1,-1l0,-2l1,-1l-1,0l-1,-1l1,-1l-1,0l-1,-1l-3,0l-1,-1l1,1l-1,1l-1,0l-1,-1l0,-3l-3,-2l0,-1l1,-1l1,0l0,-1l-1,0l0,1l-1,1l-2,0l-3,-3l0,-1l1,-1l2,2l0,-1l1,-1l1,1l1,0l3,-2l1,1l0,1l3,0l1,1l0,1l1,0l0,-2l1,-1l1,1l1,-1l1,0l1,1l-1,1l0,1l1,1l0,1l1,0l0,-1l-1,-1l0,-4l1,-1l1,0l1,1l0,2l1,0l1,-1l2,0l1,1l0,1l1,-1l2,2l1,0l0,-1l-1,-1l1,-1l3,0l-1,0l-1,-1l0,-1l1,-1l1,1l1,0l2,2l-1,1l2,0l0,-2l1,-1l0,-1l3,-2l2,2l-2,2l-1,-1l0,1l-1,1l0,1l1,0l2,-2l1,0l0,-1l2,-3l1,1l1,0l0,-1l1,-1l0,-1l-1,0l-1,-1l1,-1l1,0l0,-1l1,-1l-1,-1l0,-1l1,-1l-1,-1l-1,1l-2,-2l0,-1l1,-1l3,1l0,-1l-3,0l-1,-1l0,-1l-1,-1l1,-1l0,-4l-1,1l-1,-1l0,-1l-2,0l-1,-1l1,-1l0,-1l-3,-2l1,-1l0,-2l-1,0l-1,-1l1,-1l3,0l0,-1l-5,0l-3,-3l2,-2l1,0l0,-1l-1,0l-1,1l-2,-2l0,-2l1,-1l0,-1l-1,0l-1,-1l-1,-3l-1,0l-1,-1l-2,0l-1,1l-1,-1l0,-1l1,-1l-1,1l-1,-1l-1,0l-1,-1l0,-1l-1,0l-1,-1l1,-1l-1,1l-1,-1l-1,0l-1,-1l0,-1l-1,0l0,1l-1,1l-2,0l-2,-3l2,-2l0,-1l-2,0l0,1l-2,2l0,1l-1,1l-1,-1l-1,1l-2,-2l0,-2l-1,0l0,2l-1,1l-2,0l-1,-1l-3,0l-1,-1l-1,1l-4,0l-2,-2l1,-1l1,0l-1,0l-1,1l-2,0l-1,1l-1,0l0,1l1,1l-1,1l-1,0l-1,-1l0,-1l0,1l-1,1l-2,-2l0,-1l-1,-1l-1,0l0,3l-1,1l-1,-1l0,1l-1,1l-1,0l-2,-2l2,2l-2,2l-1,0l-1,1l-1,-1l0,-3l-1,1l-1,-1l0,2l1,1l-1,1l-2,0l0,2l-1,1l-1,-1l0,-2l-1,-1l0,1l-1,1l-1,-1l0,-1l-1,0l0,1l1,1l-3,3l-1,0l-1,-1l-3,0l0,1l-1,1l-1,-1l-1,-3l0,1l-1,1l-1,-1l0,-8l-2,0l-1,-1l-1,0l-1,-1l0,-2l-2,3l-2,0l-1,1l-1,-1l-3,2l-1,-1l0,-1l-1,0l-1,1l-1,-1l-1,0l0,1l2,2l0,1l-1,1l-3,-3l-1,0l0,1l-1,1l-2,0l-1,-1l-1,1l-1,-1l-1,0l0,1l-2,2l-2,0l-5,3l-1,-1l-1,0l-1,1l-1,-1l-1,0l-1,-1l1,-1l1,0l-3,1l0,1l-2,2l-2,0l-3,3l-1,0l-1,-1l-4,4zM359.5,301.5l1,-1l1,1l0,1l-1,1l-1,-1zM321.5,299.5l1,-1l2,0l1,1l0,1l-1,1l-1,-1l-1,1l-1,-1zM369.5,298.5l1,-1l1,1l0,1l-1,1l-1,-1zM383.5,279.5l1,-1l1,1l0,1l-1,1l-1,-1zM385.5,275.5l1,-1l1,1l0,1l-1,1l-1,-1zM388.5,274.5l1,-1l1,1l0,1l-1,1l-1,-1zM392.5,271.5l1,1l0,2l-1,1l-1,-1l0,-2zM395.5,266.5l1,-1l1,1l0,1l-1,1l-1,-1zM298.5,261.5l1,1l0,1l-1,1l-1,0l-1,-1zM292.5,232.5l1,1l0,2l-1,1l-2,-2zM377.5,226.5l1,-1l1,0l1,1l-1,1l-1,0zM403.5,219.5l1,-1l1,0l1,1l-1,1l-1,0zM367.5,218.5l1,-1l1,1l0,1l-1,1l-1,-1zM373.5,217.5l1,-1l1,0l1,1l-1,1l-1,0zM371.5,216.5l1,-1l1,0l1,1l-1,1l-1,0zM411.5,214.5l1,1l0,2l-1,1l-1,-1l0,-2zM283.5,210.5l2,-2l2,2l-1,1l-2,0zM278.5,205.5l1,-1l1,1l0,1l-1,1l-1,-1zM272.5,198.5l1,-1l1,0l1,1l-1,1l-1,0zM417.5,194.5l1,-1l1,0l1,1l-1,1l-1,0zM411.5,186.5l1,-1l1,1l0,1l-1,1l-1,-1zM265.5,180.5l1,1l0,2l-2,2l-1,-1l0,-1zM405.5,170.5l1,-1l1,0l1,1l0,2l-1,1zM327.5,167.5l1,-1l1,0l1,1l-1,1l-1,0zM334.5,165.5l1,1l0,1l-1,1l-1,0l-1,-1zM341.5,162.5l1,-1l1,0l1,1l-1,1l-1,0zM295.5,163.5l0,-2l1,-1l2,2l-2,2zM309.5,156.5l1,-1l1,1l0,1l-1,1l-1,-1zM376,151h2v2h-2zM305,151h2v2h-2zM352,145h1v1h-1zM301,139h1v1h-1z" fill="#FFD92F"/>
<path d="M294,230h1v1h-1zM290,230h2v3h-2zM253,226h2v2h-2zM254,224h1v1h-1zM251,222h2v2h-2zM231,217h1v1h-1zM295.5,215.5l-1,3l1,0l1,1l-1,-1l1,-3zM232,215h1v1h-1zM232,213h1v1h-1zM227.5,211.5l0,1l1,0l1,1l0,1l1,0l0,-1l-1,0l-1,-1l0,-1zM224,211h2v2h-2zM219,206h2v2h-2zM210,205h2v2h-2zM217,197h1v1h-1zM287,196h2v2h-2zM225,189h2v2h-2zM286,188h2v2h-2zM232,183h1v2h-1zM233,180h2v2h-2zM280,178h3v3h-3zM229,176h2v2h-2zM221.5,198.5l0,1l1,1l0,3l-1,1l1,-1l1,0l2,2l0,2l-1,1l-1,0l0,1l-1,1l-1,0l0,1l1,0l0,-1l1,-1l1,0l0,-1l1,-1l1,0l1,1l1,-1l1,0l1,1l0,3l1,-1l1,1l1,0l0,-1l1,-1l1,1l1,3l3,2l1,-1l2,2l0,1l3,0l1,1l0,-1l1,-1l1,1l0,1l1,0l1,1l0,1l3,0l1,1l0,1l2,0l1,1l0,3l1,0l1,-1l3,0l1,1l-1,1l-1,0l0,1l-1,1l-1,-1l-1,1l1,-1l1,1l1,-1l3,1l0,-1l1,-1l1,0l1,1l-1,-1l0,-1l1,-1l1,0l2,-3l1,1l1,-1l2,3l-1,1l-3,0l0,2l1,1l1,0l1,1l0,1l3,0l1,-1l1,0l1,1l3,0l1,-1l-1,-1l2,-2l1,1l0,3l-1,1l0,1l1,0l0,-1l2,-2l1,1l-1,-1l2,-3l1,0l1,-1l3,1l1,-1l0,-1l-1,-1l-1,0l-1,1l-1,-1l0,-1l-1,0l-1,-1l0,-1l1,-1l1,1l-1,-1l1,-1l0,-3l3,-5l0,-1l-1,-1l1,-1l0,-1l1,-1l1,0l0,-1l-1,0l0,1l-1,1l-2,0l1,1l-1,1l0,1l1,1l-2,2l-2,-2l0,-4l-1,0l-1,-1l-2,0l-1,-1l3,-2l1,0l2,2l1,0l1,-3l-3,1l-1,-1l1,-1l0,-1l-1,-1l-2,0l-1,-1l0,-3l-1,1l-1,0l-1,-1l2,-2l1,0l1,-1l0,-1l-1,0l-3,-3l1,-1l1,0l0,-1l-1,0l-1,1l-1,0l-1,-1l-1,1l-1,0l-1,-1l-2,0l-1,-1l2,-3l1,1l0,1l3,-1l0,-1l-1,0l-1,1l-1,-1l-1,-3l-1,0l0,1l-1,1l-1,-1l0,-2l-2,-2l0,-1l-1,1l-3,0l-1,1l-2,0l0,4l-1,1l-1,-1l0,-2l-1,-1l0,-1l-1,0l-1,1l0,1l-1,1l-1,0l-1,-1l1,-1l-1,-1l0,-1l-1,0l-1,-1l1,1l0,2l-1,1l-1,-1l0,1l-1,1l1,1l-1,1l-1,0l0,3l-1,1l-1,-1l0,-2l-4,0l-1,-1l1,-1l3,0l-1,-1l0,-1l-1,0l-1,1l0,1l-1,1l-1,0l0,1l-1,1l-1,0l0,1l-1,1l-1,0l-1,-1l-3,0l0,1l2,0l1,-1l1,1l0,1l-1,1l-1,0l1,1l-1,1l-1,0l-3,-2l-3,0l0,1l-1,1l0,2l1,-1l1,1l0,1l-1,1l-2,0l-1,-1l0,-1l-2,0l2,2l-1,1l-1,0l0,2l1,0l1,1l-1,1l-2,0l0,1l-1,1l-1,-1l0,-3zM272.5,228.5l1,-1l1,1l0,1l-1,1l-1,-1zM259.5,221.5l1,-1l1,0l1,1l-1,1l-1,0zM255.5,219.5l1,-1l1,0l1,1l-1,1l-1,0zM285.5,218.5l1,-1l2,3l-1,1l-1,0l-1,-1zM255.5,214.5l1,-1l1,0l1,1l0,1l-1,1zM249.5,211.5l2,3l0,1l-1,1l-2,-2l0,-2zM227.5,205.5l1,-1l1,0l1,1l-1,1l-1,0zM224.5,204.5l1,-1l1,0l1,1l-1,1l-1,0zM285.5,201.5l1,-1l1,0l1,1l-1,1l-1,0zM226.5,201.5l1,-1l1,1l0,1l-1,1l-1,-1zM283.5,197.5l1,1l0,2l-1,1l-1,0l-1,-1zM230.5,196.5l1,1l1,-1l1,1l0,3l-2,2l-1,-1l0,-1l1,-1l-1,1l-1,0l-1,-1l0,-1zM234.5,197.5l0,-1l1,-1l1,0l1,1l-2,2zM231.5,192.5l1,-1l1,1l0,1l-1,1l-1,-1zM272.5,190.5l1,-1l1,1l0,1l-1,1l-1,-1zM239.5,190.5l0,-1l1,-1l1,0l1,1l-2,2zM275.5,188.5l1,-1l1,0l1,1l-1,1l-1,0zM257.5,185.5l1,-1l1,1l0,1l-1,1l-1,-1zM244.5,183.5l1,1l0,2l-1,1l-2,-2zM264.5,183.5l1,-1l1,1l0,1l-1,1l-1,-1zM254.5,181.5l1,-1l1,0l2,2l-1,1l-2,0l-1,-1zM260.5,180.5l1,-1l1,1l0,1l-1,1l-1,-1zM270.5,177.5l1,1l0,3l-1,1l-1,0l-1,-1l1,-1l0,-2zM251,175h1v1h-1zM277,174h2v2h-2zM273,174h2v2h-2zM269,173h1v1h-1zM266,172h1v1h-1zM262,171h2v2h-2zM265,168h2v2h-2z" fill="#FDB366"/>
</g>
<path d="M155.5,663.5h.1M149.5,688.0h.1M204.5,643.5h.1M211.5,658.5h.1M191.0,677.0h.1M181.5,703.0h.1M204.0,657.5h.1M149.0,649.5h.1M184.5,682.0h.1M155.5,674.0h.1M176.0,641.0h.1M170.0,644.0h.1M197.5,683.5h.1M200.5,661.5h.1M176.5,680.5h.1M165.0,696.5h.1M155.5,672.0h.1M180.5,660.0h.1M206.0,654.5h.1M153.0,670.5h.1M158.0,696.0h.1M200.5,647.0h.1M153.5,669.5h.1M200.0,660.5h.1M143.0,649.5h.1M168.0,697.0h.1M191.0,660.0h.1M186.5,658.5h.1M166.5,704.0h.1M188.0,642.5h.1M187.0,640.0h.1M201.5,662.5h.1M139.0,645.0h.1M192.5,634.0h.1M179.5,652.5h.1M189.0,681.0h.1M155.5,661.5h.1M148.5,659.5h.1M140.5,637.0h.1M143.0,641.0h.1M175.5,684.0h.1M193.0,678.5h.1M196.5,689.5h.1M175.5,653.5h.1M188.0,691.0h.1M187.5,685.5h.1M179.5,658.5h.1M187.5,700.5h.1M197.0,641.5h.1M178.5,683.5h.1M182.5,703.5h.1M194.5,658.5h.1M177.5,700.0h.1M175.5,710.0h.1M169.5,659.0h.1M157.0,671.0h.1M180.0,639.0h.1M200.0,643.0h.1M202.0,655.5h.1M164.5,643.0h.1M163.5,673.5h.1M182.5,659.0h.1M159.5,676.5h.1M172.5,673.5h.1M149.5,661.5h.1M164.0,679.0h.1M198.0,662.5h.1M174.5,710.0h.1M142.5,659.5h.1M206.5,652.5h.1M172.5,709.0h.1M197.5,685.0h.1M199.0,653.5h.1M198.5,652.0h.1M181.5,687.0h.1M177.5,649.0h.1M174.0,638.0h.1M168.0,705.5h.1M145.0,649.5h.1M201.5,660.5h.1M177.0,702.0h.1M174.5,643.5h.1M183.5,687.5h.1M154.0,657.5h.1M181.5,643.0h.1M136.5,654.0h.1M183.5,705.0h.1M167.5,667.0h.1M190.0,634.5h.1M179.0,633.5h.1M180.5,655.0h.1M169.0,699.0h.1M158.0,667.5h.1M193.5,686.5h.1M201.5,687.5h.1M170.5,684.0h.1M187.0,646.5h.1M189.5,643.5h.1M200.0,646.0h.1M168.0,675.0h.1M134.5,643.0h.1M186.5,695.0h.1M151.5,661.0h.1M192.0,634.5h.1M173.5,698.0h.1M185.0,700.0h.1M198.5,685.0h.1M194.0,648.0h.1M170.0,664.0h.1M176.5,645.5h.1M168.5,669.5h.1M186.5,678.0h.1M158.5,689.0h.1M175.0,681.0h.1M135.5,642.0h.1M185.0,642.5h.1M175.0,665.0h.1M172.5,698.5h.1M175.5,659.0h.1M206.5,654.5h.1M208.0,661.5h.1M160.0,663.5h.1M171.5,694.5h.1M175.5,637.0h.1M158.0,672.5h.1M203.5,642.0h.1M175.5,646.5h.1M195.0,635.0h.1M150.5,666.5h.1M155.0,669.0h.1M188.5,634.5h.1M190.0,679.0h.1M168.0,698.5h.1M182.0,636.0h.1M189.0,697.5h.1M166.0,682.0h.1M184.5,641.0h.1M162.5,658.0h.1M135.5,653.0h.1M156.5,665.0h.1M163.0,694.5h.1M164.0,684.0h.1M153.0,684.0h.1M179.0,705.5h.1M173.0,707.0h.1M143.5,642.0h.1M136.5,638.5h.1M170.5,646.0h.1M184.0,642.5h.1M168.5,681.0h.1M191.5,652.0h.1M190.5,647.0h.1M189.0,679.5h.1M187.0,674.0h.1M164.5,699.5h.1M148.0,660.0h.1M186.5,687.5h.1M186.5,651.5h.1M150.5,652.5h.1M174.0,638.0h.1M181.0,677.5h.1M153.5,665.5h.1M167.0,679.5h.1M173.0,701.5h.1M197.5,644.5h.1M176.5,639.0h.1M148.5,673.5h.1M179.5,635.0h.1M199.5,676.5h.1M165.5,700.5h.1M166.5,663.0h.1M148.5,688.5h.1M175.0,685.5h.1M181.0,657.5h.1M176.5,684.0h.1M168.5,663.5h.1M196.5,650.5h.1M174.5,638.0h.1M171.5,694.0h.1M191.5,661.5h.1M180.5,652.5h.1M157.5,680.5h.1M208.0,654.5h.1M162.0,650.0h.1M194.0,677.5h.1M187.5,675.0h.1M196.5,650.0h.1M164.5,641.0h.1M185.5,668.5h.1M167.0,697.5h.1M157.0,675.0h.1M179.5,676.0h.1M167.5,663.0h.1M186.0,656.5h.1M186.0,644.5h.1M170.0,680.5h.1M179.0,703.0h.1M189.0,674.5h.1M187.0,683.5h.1M187.5,672.5h.1M150.0,640.5h.1M198.5,641.0h.1M199.5,655.0h.1M151.5,679.5h.1M153.5,696.0h.1M194.0,682.5h.1M156.5,661.0h.1M153.5,642.0h.1M189.0,638.0h.1M185.0,701.0h.1M159.0,691.0h.1M156.5,697.0h.1M162.0,652.5h.1M159.0,695.5h.1M168.5,650.5h.1M179.5,673.5h.1M151.5,677.5h.1M147.0,677.0h.1M188.5,695.0h.1M184.5,640.0h.1M160.5,699.5h.1M155.5,658.5h.1M187.0,680.5h.1M195.5,689.5h.1M149.0,664.0h.1M144.0,644.0h.1M164.0,667.5h.1M186.5,661.0h.1M196.0,652.5h.1M182.5,659.0h.1M173.0,659.5h.1M200.0,639.0h.1M173.5,694.5h.1M198.5,685.5h.1M159.5,661.0h.1M210.0,659.0h.1M160.5,702.0h.1M197.0,691.0h.1M145.5,660.0h.1M163.5,698.0h.1M162.5,673.5h.1M149.0,649.5h.1M189.0,685.0h.1M150.5,643.0h.1M201.0,684.0h.1M174.5,691.0h.1M168.0,698.0h.1M188.0,686.0h.1M181.5,647.0h.1M172.0,671.5h.1M203.0,661.0h.1M185.0,639.5h.1M145.0,655.5h.1M171.5,663.0h.1M148.0,656.5h.1M199.5,642.0h.1M183.0,637.5h.1M168.0,699.5h.1M144.0,663.0h.1M171.0,657.5h.1" stroke="#8E8E8E" stroke-width="0.9" stroke-linecap="round" fill="none"/>
<path d="M138.5,661.0h.1M131.0,659.0h.1M137.0,660.5h.1M131.0,657.5h.1M123.5,658.0h.1M123.5,649.5h.1M133.0,666.0h.1M135.5,659.5h.1M136.0,665.0h.1M119.5,651.5h.1M144.0,664.0h.1M141.5,659.0h.1M122.0,662.5h.1M125.5,658.5h.1M129.0,656.5h.1M137.0,650.5h.1M134.5,650.5h.1M131.0,657.5h.1M137.5,665.5h.1M114.5,653.5h.1M133.5,666.0h.1M136.5,668.0h.1M128.0,662.0h.1M112.5,656.0h.1M122.0,652.5h.1M140.5,666.0h.1M128.0,652.5h.1M117.0,660.5h.1M129.5,648.5h.1M130.5,646.5h.1M125.0,657.0h.1M120.0,651.5h.1M133.5,648.0h.1M132.5,664.0h.1M140.0,654.0h.1M126.5,654.5h.1M121.5,660.0h.1M132.5,648.5h.1M134.5,664.0h.1M123.5,658.0h.1M137.0,668.5h.1M138.5,651.5h.1M132.0,647.5h.1M130.0,645.0h.1M118.5,655.0h.1M131.0,666.0h.1M138.0,654.5h.1M111.0,655.5h.1M141.0,657.0h.1M138.0,656.5h.1M133.5,650.5h.1M136.0,647.0h.1M121.5,653.0h.1M116.5,654.0h.1M130.0,650.5h.1M138.0,665.5h.1M137.5,650.5h.1M124.5,662.5h.1M126.5,662.5h.1M121.0,654.0h.1" stroke="#FFD92F" stroke-width="1.0" stroke-linecap="round" fill="none"/>
<path d="M138.0,661.0h.1M145.0,661.5h.1M140.5,655.5h.1M138.5,651.5h.1M138.0,654.0h.1M138.0,660.5h.1M141.5,664.5h.1M138.5,651.0h.1M136.5,647.5h.1M140.0,652.0h.1M144.0,659.5h.1M136.5,648.5h.1M135.5,647.5h.1M141.0,659.0h.1M143.0,665.0h.1M144.5,661.5h.1M139.0,651.5h.1M146.0,665.5h.1M144.0,661.0h.1M142.5,660.5h.1M142.0,668.0h.1M140.5,663.5h.1M141.0,657.5h.1M142.0,663.0h.1M140.5,660.0h.1M145.0,663.0h.1M140.5,654.5h.1M136.0,647.5h.1M145.5,664.0h.1M141.0,652.5h.1M136.5,647.0h.1M136.5,648.0h.1M138.0,657.0h.1M145.0,668.5h.1M137.0,647.5h.1M140.5,654.0h.1M140.0,650.5h.1M142.5,668.5h.1M141.5,660.5h.1M139.0,656.5h.1M139.0,661.5h.1M139.5,657.0h.1M138.5,654.5h.1M143.0,667.0h.1M140.0,669.0h.1M144.0,661.5h.1M137.0,650.0h.1M143.5,668.0h.1M143.5,668.0h.1M141.5,669.5h.1M137.0,653.5h.1M137.0,651.0h.1M140.5,653.0h.1M138.5,649.5h.1M144.5,659.5h.1M140.5,661.5h.1M143.5,663.0h.1M143.5,657.5h.1M140.5,656.0h.1M138.5,658.5h.1M141.0,654.0h.1M140.5,669.0h.1M145.0,665.5h.1M143.5,670.0h.1M142.0,657.0h.1M144.0,658.0h.1M138.5,660.0h.1M145.0,666.5h.1M141.0,658.0h.1M139.5,656.5h.1M141.5,652.5h.1M142.5,660.5h.1M140.0,657.5h.1M141.0,668.5h.1M139.0,659.0h.1M142.5,656.5h.1M143.0,661.5h.1M138.0,659.5h.1M141.5,652.5h.1M138.0,648.0h.1M143.5,661.5h.1M136.5,654.0h.1M142.5,655.0h.1M142.5,663.5h.1M140.5,660.0h.1M138.5,664.5h.1M140.5,659.5h.1M137.5,650.0h.1M142.0,661.5h.1M139.5,653.0h.1M142.0,657.5h.1M140.5,662.5h.1M140.5,660.5h.1M140.0,665.5h.1M135.0,645.5h.1M140.0,658.5h.1M135.5,644.5h.1M141.0,666.0h.1M136.5,646.0h.1M145.0,669.0h.1M137.5,658.0h.1M143.0,665.0h.1M139.0,662.5h.1M142.0,657.5h.1M138.0,662.5h.1M140.0,653.0h.1M141.0,661.0h.1M142.5,661.5h.1M144.0,662.0h.1M139.5,660.5h.1M143.0,662.5h.1M136.5,649.0h.1M139.0,667.0h.1M137.5,649.0h.1M140.5,651.0h.1M136.5,650.5h.1M139.5,650.0h.1M141.5,669.5h.1M144.0,658.0h.1M140.5,662.0h.1M139.5,661.0h.1M139.0,663.0h.1M141.0,659.5h.1M141.0,659.0h.1M143.5,661.5h.1M139.0,655.5h.1M144.0,661.5h.1M140.0,650.0h.1M142.5,654.5h.1M142.5,658.5h.1" stroke="#FFD92F" stroke-width="1.1" stroke-linecap="round" fill="none"/>
<path d="M131.5,647.0h.1M114.5,657.5h.1M143.5,661.0h.1M132.0,649.5h.1M123.5,653.0h.1M127.0,652.5h.1M125.5,647.0h.1M137.5,666.0h.1M123.0,648.0h.1M140.5,661.0h.1M137.5,664.0h.1M135.5,663.0h.1M121.5,649.0h.1M123.0,662.0h.1M124.5,661.5h.1M127.5,664.5h.1M129.5,648.0h.1M118.0,658.0h.1M123.0,652.0h.1M128.0,658.5h.1M143.5,661.5h.1M128.0,651.0h.1M141.0,662.0h.1M123.0,647.0h.1M135.0,660.0h.1M140.0,662.0h.1M123.5,660.5h.1M140.5,653.0h.1M135.0,646.5h.1M122.5,654.0h.1M116.5,658.5h.1M136.0,644.5h.1M117.0,654.0h.1M122.5,651.5h.1M128.0,655.5h.1M127.0,651.0h.1M130.5,654.0h.1M122.5,648.5h.1M140.0,663.5h.1M127.5,651.0h.1" stroke="#9A9A9A" stroke-width="0.9" stroke-linecap="round" fill="none"/>
<path d="M103.0,716.0h.1M92.0,733.0h.1M69.5,709.0h.1M94.5,723.5h.1M101.0,701.5h.1M81.0,727.0h.1M78.5,723.0h.1M70.0,711.0h.1M72.5,700.5h.1M85.0,695.5h.1M76.0,717.5h.1M71.0,708.5h.1M101.5,705.0h.1M107.0,720.0h.1M99.0,731.0h.1M100.0,727.0h.1M93.0,694.0h.1M112.5,722.5h.1M75.0,706.0h.1M82.0,711.0h.1M80.0,727.0h.1M74.5,697.5h.1M83.5,696.5h.1M83.5,727.5h.1M80.0,725.5h.1M89.5,722.0h.1M98.0,698.5h.1M74.5,699.5h.1M90.0,692.5h.1M101.5,701.0h.1M95.5,721.5h.1M100.5,707.0h.1M91.0,722.0h.1M71.0,701.0h.1M85.5,729.5h.1M110.0,716.5h.1M100.5,712.0h.1M83.0,727.0h.1M100.0,700.5h.1M90.5,708.5h.1M103.5,707.5h.1M68.0,713.5h.1M81.0,698.0h.1M95.0,709.5h.1M97.5,720.5h.1M79.0,716.5h.1M85.5,713.5h.1M99.0,697.0h.1M99.0,707.0h.1M97.5,693.5h.1M71.5,703.0h.1M94.5,693.0h.1M76.5,701.0h.1M79.5,722.5h.1M99.0,719.5h.1M96.0,711.5h.1M87.5,703.5h.1M75.5,700.5h.1M107.5,711.5h.1M72.5,695.0h.1M81.0,717.5h.1M96.5,727.5h.1M81.5,727.0h.1M70.5,709.0h.1M95.5,733.0h.1M71.5,698.0h.1M69.0,699.5h.1M67.0,703.5h.1M108.5,710.0h.1M112.5,722.5h.1M102.5,703.0h.1M93.0,719.0h.1M102.0,707.0h.1M81.0,695.0h.1M107.0,706.5h.1M102.5,707.5h.1M70.5,701.5h.1M97.5,699.0h.1M75.0,709.5h.1M86.5,723.5h.1M74.5,716.0h.1M84.5,701.0h.1M95.5,717.5h.1M96.0,731.5h.1M65.0,706.0h.1M106.0,726.0h.1M77.5,711.0h.1M86.5,732.0h.1M64.0,708.0h.1M80.5,703.5h.1" stroke="#8A7A7A" stroke-width="0.8" stroke-linecap="round" fill="none"/>
<path d="M79.5,657.5h.1M39.5,655.5h.1M45.5,666.5h.1M29.0,662.0h.1M61.5,660.0h.1M74.0,648.0h.1M38.5,656.5h.1M67.0,655.0h.1M87.0,647.5h.1M65.5,649.0h.1M95.5,661.5h.1M98.0,659.0h.1M69.0,656.0h.1M77.0,649.5h.1M53.5,660.5h.1M32.5,664.5h.1M38.0,665.0h.1M89.0,647.5h.1M104.0,669.5h.1M101.5,662.5h.1M60.0,658.0h.1M84.5,650.5h.1M92.0,669.5h.1M36.5,667.5h.1M92.5,661.0h.1M92.0,657.5h.1M36.0,656.0h.1M59.0,656.0h.1M87.5,651.5h.1M94.0,650.5h.1M66.5,659.5h.1M61.5,653.0h.1M83.5,654.5h.1M76.5,657.5h.1M68.5,658.5h.1M27.0,662.5h.1M52.5,655.5h.1M28.5,660.5h.1M33.5,668.5h.1M62.5,653.5h.1M48.5,654.0h.1M37.0,659.0h.1M32.5,659.5h.1M48.5,661.0h.1M80.0,647.0h.1M33.5,660.0h.1M43.5,660.5h.1M86.0,645.5h.1M99.0,667.5h.1M73.5,657.0h.1M104.0,668.5h.1M77.0,660.5h.1M90.0,654.5h.1M92.0,660.0h.1M87.5,657.0h.1M73.5,650.5h.1M79.0,663.0h.1M62.5,653.0h.1M90.5,663.5h.1M39.0,657.0h.1" stroke="#FF4D4D" stroke-width="0.9" stroke-linecap="round" fill="none"/>
<path d="M38.0,671.5h.1M37.0,670.0h.1M85.0,676.5h.1M48.5,678.5h.1M93.5,669.0h.1M76.0,663.5h.1M77.0,693.0h.1M35.0,680.5h.1M48.5,702.0h.1M33.5,684.5h.1M81.0,670.0h.1M49.0,668.0h.1M54.5,698.5h.1M80.0,673.5h.1M52.5,685.5h.1M52.5,676.5h.1M59.5,669.5h.1M48.5,681.0h.1M83.5,673.0h.1M43.5,689.5h.1M67.0,687.0h.1M61.0,700.5h.1M41.5,700.5h.1M74.5,693.5h.1M89.5,678.5h.1M78.0,671.5h.1M51.5,669.0h.1M93.5,676.0h.1M56.0,693.5h.1M85.0,678.0h.1M63.0,661.5h.1M71.0,695.0h.1M58.0,705.5h.1M92.5,685.0h.1M72.0,684.0h.1M38.0,678.0h.1M63.5,675.5h.1M52.0,700.0h.1M75.0,678.0h.1M39.5,670.5h.1" stroke="#9E005D" stroke-width="0.9" stroke-linecap="round" fill="none"/>
<path d="M53.0,671.5h.1M30.0,674.0h.1M45.5,672.5h.1M70.0,680.0h.1M54.0,699.0h.1M69.5,667.5h.1M52.0,695.0h.1M61.5,696.5h.1M64.5,664.5h.1M55.0,707.0h.1M78.0,687.5h.1M39.5,670.5h.1M54.5,676.5h.1M54.5,662.5h.1M53.0,691.5h.1M31.0,688.5h.1M35.5,677.5h.1M53.5,672.0h.1M64.0,679.5h.1M64.5,692.5h.1M96.5,687.5h.1M44.0,683.5h.1M79.5,670.5h.1M41.0,690.0h.1M81.0,692.0h.1" stroke="#5A0008" stroke-width="0.9" stroke-linecap="round" fill="none"/>
<path d="M78.0,596.5h.1M68.0,583.0h.1M65.0,591.5h.1M93.0,567.5h.1M78.5,592.0h.1M82.5,572.0h.1M73.0,595.0h.1M62.0,576.0h.1M86.0,571.0h.1M69.0,584.0h.1M70.0,594.0h.1M56.5,577.5h.1M70.5,582.5h.1M66.0,587.0h.1M79.5,579.5h.1M67.0,591.5h.1M71.5,585.5h.1M72.5,590.5h.1M77.5,590.5h.1M65.0,578.0h.1M84.0,573.0h.1M81.0,584.5h.1M67.5,582.0h.1M67.0,588.0h.1M66.0,580.0h.1M67.0,575.0h.1M80.0,579.0h.1M80.0,575.0h.1M75.5,588.5h.1M84.5,582.0h.1M71.5,579.0h.1M91.0,571.0h.1M68.5,581.5h.1M72.5,587.5h.1M82.0,574.5h.1M79.0,591.0h.1M80.0,573.0h.1M74.5,576.5h.1M80.5,580.5h.1M67.0,584.0h.1" stroke="#7FAF80" stroke-width="0.8" stroke-linecap="round" fill="none"/>
<path d="M63.0,601.5h.1M63.0,603.5h.1M78.5,622.0h.1M62.0,602.5h.1M73.5,629.0h.1M72.5,628.5h.1M76.0,621.5h.1M76.0,605.0h.1M76.0,615.0h.1M63.5,600.5h.1M75.0,614.5h.1M66.0,604.0h.1M83.5,633.5h.1M71.5,621.5h.1M76.0,612.5h.1M62.0,604.0h.1M63.5,604.5h.1M74.0,627.5h.1M78.5,634.5h.1M73.0,611.0h.1M68.5,631.0h.1M79.0,606.5h.1M85.0,628.5h.1M71.0,614.5h.1M74.5,623.0h.1" stroke="#9A9A9A" stroke-width="0.9" stroke-linecap="round" fill="none"/>
<path d="M59.5,629.5h.1M51.0,632.5h.1M49.0,627.5h.1M54.0,633.5h.1M55.5,634.5h.1M54.0,622.5h.1M45.0,622.5h.1M61.0,625.5h.1M55.5,635.5h.1M48.0,632.5h.1M40.5,633.0h.1M44.5,628.5h.1M53.0,628.5h.1M61.0,629.0h.1M66.0,630.5h.1M61.5,626.5h.1M61.0,634.0h.1M50.5,635.0h.1M45.5,631.5h.1M61.0,624.5h.1M53.0,631.5h.1M53.0,624.5h.1M60.5,635.5h.1M50.0,625.0h.1M51.0,634.0h.1M47.0,628.5h.1M50.5,623.5h.1M61.0,625.0h.1M44.0,621.0h.1M54.0,625.0h.1" stroke="#9A9A9A" stroke-width="0.9" stroke-linecap="round" fill="none"/>
<text x="-0.5" y="6.2" font-size="12" text-anchor="start" font-weight="bold">a</text>
<text x="11.6" y="71" font-size="10.4" text-anchor="start" >Wild-type mice</text>
<text x="11.6" y="83.7" font-size="10.4" text-anchor="start" >Reporter mice</text>
<text x="133" y="10.4" font-size="10.4" text-anchor="middle" >SI</text>
<text x="134.6" y="23.1" font-size="10.4" text-anchor="middle" >crypt isolation</text>
<text x="271.6" y="10.4" font-size="10.4" text-anchor="middle" >–/+ Rare lineage enrichment</text>
<text x="271.6" y="22.5" font-size="10.4" text-anchor="middle" >by flow cytometry</text>
<text x="394.5" y="41.5" font-size="10.4" text-anchor="start" >scRNAseq</text>
<text x="394.5" y="54" font-size="10.4" text-anchor="start" >(10X Genomics)</text>
<text x="399.5" y="83.5" font-size="10.4" text-anchor="start" >After QC</text>
<text x="399.5" y="96.5" font-size="10.4" text-anchor="start" >60,000 cells</text>
<text x="618.5" y="25.3" font-size="10.4" text-anchor="middle" >Computational analysis</text>
<text x="624.7" y="109.5" font-size="10.4" text-anchor="middle" >Transcriptome-based</text>
<text x="624.5" y="122" font-size="10.4" text-anchor="middle" >lineage tree</text>
<line x1="177" y1="81" x2="229" y2="81" stroke="#111" stroke-width="1.35"/>
<path d="M233.2,81 L224.4,76.6 L226.6,81 L224.4,85.4 Z" fill="#000"/>
<line x1="314" y1="81" x2="372" y2="81" stroke="#111" stroke-width="1.35"/>
<path d="M376.2,81 L367.4,76.6 L369.6,81 L367.4,85.4 Z" fill="#000"/>
<line x1="480" y1="81" x2="545" y2="81" stroke="#111" stroke-width="1.35"/>
<path d="M549.2,81 L540.4,76.6 L542.6,81 L540.4,85.4 Z" fill="#000"/>
<ellipse cx="615.5" cy="38" rx="4.1" ry="3.7" fill="#000"/>
<ellipse cx="591.4" cy="65.2" rx="4.1" ry="3.7" fill="#000"/>
<ellipse cx="622.3" cy="65.2" rx="4.1" ry="3.7" fill="#000"/>
<ellipse cx="650.9" cy="65.6" rx="4.1" ry="3.7" fill="#000"/>
<ellipse cx="571.6" cy="88.1" rx="4.1" ry="3.7" fill="#000"/>
<ellipse cx="600.2" cy="88.1" rx="4.1" ry="3.7" fill="#000"/>
<ellipse cx="623.3" cy="88.7" rx="4.1" ry="3.7" fill="#000"/>
<ellipse cx="650.9" cy="88.1" rx="4.1" ry="3.7" fill="#000"/>
<ellipse cx="675.8" cy="87.7" rx="4.1" ry="3.7" fill="#000"/>
<line x1="610.8" y1="42.7" x2="593.4" y2="59" stroke="#000" stroke-width="1.25"/>
<line x1="616.5" y1="43.7" x2="619.6" y2="59" stroke="#000" stroke-width="1.25"/>
<line x1="621" y1="41" x2="648.2" y2="58.6" stroke="#000" stroke-width="1.25"/>
<line x1="588.5" y1="70.3" x2="575.7" y2="81.9" stroke="#000" stroke-width="1.25"/>
<line x1="593" y1="70.7" x2="599.8" y2="82.5" stroke="#000" stroke-width="1.25"/>
<line x1="622.7" y1="70.7" x2="622.7" y2="82.5" stroke="#000" stroke-width="1.25"/>
<line x1="651.3" y1="70.7" x2="651.3" y2="82.5" stroke="#000" stroke-width="1.25"/>
<line x1="659.5" y1="69.3" x2="671.3" y2="83.2" stroke="#000" stroke-width="1.25"/>
<g id="crypt">
<rect x="104" y="34" width="17.6" height="6" rx="2.6" fill="#EFEFEF" stroke="#444" stroke-width="0.55"/>
<rect x="145" y="34" width="17" height="6" rx="2.6" fill="#EFEFEF" stroke="#444" stroke-width="0.55"/>
<rect x="104.2" y="40" width="17.6" height="6.1" rx="2.6" fill="#EFEFEF" stroke="#444" stroke-width="0.55"/>
<rect x="145.1" y="40" width="17" height="6.1" rx="2.6" fill="#EFEFEF" stroke="#444" stroke-width="0.55"/>
<rect x="104.4" y="46.1" width="17.6" height="6.5" rx="2.6" fill="#EFEFEF" stroke="#444" stroke-width="0.55"/>
<rect x="144.6" y="46.1" width="17" height="6.5" rx="2.6" fill="#EFEFEF" stroke="#444" stroke-width="0.55"/>
<rect x="103.8" y="52.7" width="17.6" height="6.5" rx="2.6" fill="#EFEFEF" stroke="#444" stroke-width="0.55"/>
<rect x="145.3" y="52.7" width="17" height="6.5" rx="2.6" fill="#EFEFEF" stroke="#444" stroke-width="0.55"/>
<rect x="104.1" y="59.2" width="17.6" height="6.3" rx="2.6" fill="#EFEFEF" stroke="#444" stroke-width="0.55"/>
<rect x="144.7" y="59.2" width="17" height="6.3" rx="2.6" fill="#EFEFEF" stroke="#444" stroke-width="0.55"/>
<rect x="104.8" y="65.5" width="17.6" height="6.1" rx="2.6" fill="#EFEFEF" stroke="#444" stroke-width="0.55"/>
<rect x="145" y="65.5" width="17" height="6.1" rx="2.6" fill="#EFEFEF" stroke="#444" stroke-width="0.55"/>
<rect x="104.6" y="71.6" width="17.6" height="6.1" rx="2.6" fill="#EFEFEF" stroke="#444" stroke-width="0.55"/>
<rect x="145" y="71.6" width="17" height="6.1" rx="2.6" fill="#EFEFEF" stroke="#444" stroke-width="0.55"/>
<rect x="104.4" y="77.8" width="17.6" height="6.9" rx="2.6" fill="#EFEFEF" stroke="#444" stroke-width="0.55"/>
<rect x="144.7" y="77.8" width="17" height="6.9" rx="2.6" fill="#EFEFEF" stroke="#444" stroke-width="0.55"/>
<rect x="104.4" y="84.7" width="17.6" height="6.5" rx="2.6" fill="#EFEFEF" stroke="#444" stroke-width="0.55"/>
<rect x="145.4" y="84.7" width="17" height="6.5" rx="2.6" fill="#EFEFEF" stroke="#444" stroke-width="0.55"/>
<rect x="104.3" y="91.2" width="17.6" height="6.5" rx="2.6" fill="#EFEFEF" stroke="#444" stroke-width="0.55"/>
<rect x="145.2" y="91.2" width="17" height="6.5" rx="2.6" fill="#EFEFEF" stroke="#444" stroke-width="0.55"/>
<rect x="104.5" y="97.7" width="17.6" height="6.7" rx="2.6" fill="#EFEFEF" stroke="#444" stroke-width="0.55"/>
<rect x="144.6" y="97.7" width="17" height="6.7" rx="2.6" fill="#EFEFEF" stroke="#444" stroke-width="0.55"/>
<path d="M122.5,102.8 L104.4,105.1 Q104.6,109.6 107.1,113.4 L123.5,106.2 Z" fill="#EFEFEF" stroke="#444" stroke-width="0.55" stroke-linejoin="round"/>
<path d="M123.5,106.2 L107.1,113.4 Q108.8,117.6 112.5,120.4 L125.5,109 Z" fill="#EFEFEF" stroke="#444" stroke-width="0.55" stroke-linejoin="round"/>
<path d="M125.5,109 L112.5,120.4 Q115.5,123.9 119.9,125.6 L128.3,111.1 Z" fill="#EFEFEF" stroke="#444" stroke-width="0.55" stroke-linejoin="round"/>
<path d="M128.3,111.1 L119.9,125.6 Q124,128 128.8,128.3 L131.7,112.2 Z" fill="#EFEFEF" stroke="#444" stroke-width="0.55" stroke-linejoin="round"/>
<path d="M131.7,112.2 L128.8,128.3 Q133.4,129.4 138,128.3 L135.1,112.2 Z" fill="#EFEFEF" stroke="#444" stroke-width="0.55" stroke-linejoin="round"/>
<path d="M135.1,112.2 L138,128.3 Q142.8,128 146.9,125.6 L138.5,111.1 Z" fill="#EFEFEF" stroke="#444" stroke-width="0.55" stroke-linejoin="round"/>
<path d="M138.5,111.1 L146.9,125.6 Q151.3,123.9 154.3,120.4 L141.3,109 Z" fill="#EFEFEF" stroke="#444" stroke-width="0.55" stroke-linejoin="round"/>
<path d="M141.3,109 L154.3,120.4 Q158,117.6 159.7,113.4 L143.3,106.2 Z" fill="#EFEFEF" stroke="#444" stroke-width="0.55" stroke-linejoin="round"/>
<path d="M143.3,106.2 L159.7,113.4 Q162.2,109.6 162.4,105.1 L144.3,102.8 Z" fill="#EFEFEF" stroke="#444" stroke-width="0.55" stroke-linejoin="round"/>
<ellipse cx="109.4" cy="37.4" rx="3.5" ry="1.35" fill="#F20000" stroke="none" stroke-width="0.5" transform="rotate(0 109.4 37.4)"/>
<ellipse cx="109.4" cy="44.1" rx="3.1" ry="1.3" fill="#F4F4F4" stroke="#555" stroke-width="0.5" transform="rotate(0 109.4 44.1)"/>
<ellipse cx="109.4" cy="50.2" rx="3.1" ry="1.3" fill="#F4F4F4" stroke="#555" stroke-width="0.5" transform="rotate(0 109.4 50.2)"/>
<ellipse cx="109.8" cy="56.4" rx="3.5" ry="1.35" fill="#33EE22" stroke="none" stroke-width="0.5" transform="rotate(0 109.8 56.4)"/>
<ellipse cx="109.8" cy="62.3" rx="3.1" ry="1.3" fill="#F4F4F4" stroke="#555" stroke-width="0.5" transform="rotate(0 109.8 62.3)"/>
<ellipse cx="109.8" cy="68.3" rx="3.1" ry="1.3" fill="#F4F4F4" stroke="#555" stroke-width="0.5" transform="rotate(0 109.8 68.3)"/>
<ellipse cx="110.7" cy="75" rx="3.5" ry="1.35" fill="#33EE22" stroke="none" stroke-width="0.5" transform="rotate(0 110.7 75)"/>
<ellipse cx="110.7" cy="81.3" rx="3.1" ry="1.3" fill="#F4F4F4" stroke="#555" stroke-width="0.5" transform="rotate(0 110.7 81.3)"/>
<ellipse cx="110.7" cy="87.4" rx="3.1" ry="1.3" fill="#F4F4F4" stroke="#555" stroke-width="0.5" transform="rotate(0 110.7 87.4)"/>
<ellipse cx="112.2" cy="95.1" rx="3.5" ry="1.35" fill="#F20000" stroke="none" stroke-width="0.5" transform="rotate(0 112.2 95.1)"/>
<ellipse cx="110.7" cy="100.7" rx="3.1" ry="1.3" fill="#F4F4F4" stroke="#555" stroke-width="0.5" transform="rotate(0 110.7 100.7)"/>
<ellipse cx="157.2" cy="38.1" rx="3.1" ry="1.3" fill="#F4F4F4" stroke="#555" stroke-width="0.5" transform="rotate(0 157.2 38.1)"/>
<ellipse cx="156.7" cy="44.3" rx="3.4" ry="1.35" fill="#33EE22" stroke="none" stroke-width="0.5" transform="rotate(0 156.7 44.3)"/>
<ellipse cx="156.7" cy="50.2" rx="3.1" ry="1.3" fill="#F4F4F4" stroke="#555" stroke-width="0.5" transform="rotate(0 156.7 50.2)"/>
<ellipse cx="154.4" cy="56.4" rx="3.4" ry="1.35" fill="#F20000" stroke="none" stroke-width="0.5" transform="rotate(0 154.4 56.4)"/>
<ellipse cx="156.7" cy="62.9" rx="3.1" ry="1.3" fill="#F4F4F4" stroke="#555" stroke-width="0.5" transform="rotate(0 156.7 62.9)"/>
<ellipse cx="156.7" cy="68.8" rx="3.1" ry="1.3" fill="#F4F4F4" stroke="#555" stroke-width="0.5" transform="rotate(0 156.7 68.8)"/>
<ellipse cx="156.7" cy="75" rx="3.1" ry="1.3" fill="#F4F4F4" stroke="#555" stroke-width="0.5" transform="rotate(0 156.7 75)"/>
<ellipse cx="156.7" cy="81.3" rx="3.1" ry="1.3" fill="#F4F4F4" stroke="#555" stroke-width="0.5" transform="rotate(0 156.7 81.3)"/>
<ellipse cx="156.3" cy="87.4" rx="3.4" ry="1.35" fill="#F20000" stroke="none" stroke-width="0.5" transform="rotate(0 156.3 87.4)"/>
<ellipse cx="156.7" cy="94" rx="3.1" ry="1.3" fill="#F4F4F4" stroke="#555" stroke-width="0.5" transform="rotate(0 156.7 94)"/>
<ellipse cx="155.3" cy="100.7" rx="3.1" ry="1.3" fill="#F4F4F4" stroke="#555" stroke-width="0.5" transform="rotate(0 155.3 100.7)"/>
<ellipse cx="108.8" cy="107.5" rx="3.3" ry="1.5" fill="#33EE22" stroke="none" stroke-width="0.5" transform="rotate(80 108.8 107.5)"/>
<ellipse cx="113.5" cy="112.9" rx="3.3" ry="1.5" fill="#F20000" stroke="none" stroke-width="0.5" transform="rotate(30 113.5 112.9)"/>
<ellipse cx="116.3" cy="118.1" rx="3.3" ry="1.5" fill="#33EE22" stroke="none" stroke-width="0.5" transform="rotate(45 116.3 118.1)"/>
<ellipse cx="124.7" cy="120.6" rx="3.3" ry="1.5" fill="#F20000" stroke="none" stroke-width="0.5" transform="rotate(70 124.7 120.6)"/>
<ellipse cx="133" cy="124.3" rx="3.3" ry="1.5" fill="#33EE22" stroke="none" stroke-width="0.5" transform="rotate(0 133 124.3)"/>
<ellipse cx="142.3" cy="121.3" rx="3.3" ry="1.5" fill="#F20000" stroke="none" stroke-width="0.5" transform="rotate(-70 142.3 121.3)"/>
<ellipse cx="151.6" cy="119.6" rx="3.3" ry="1.5" fill="#33EE22" stroke="none" stroke-width="0.5" transform="rotate(-45 151.6 119.6)"/>
<ellipse cx="152.6" cy="112.6" rx="3.3" ry="1.5" fill="#F20000" stroke="none" stroke-width="0.5" transform="rotate(25 152.6 112.6)"/>
<ellipse cx="158.5" cy="107.5" rx="3.3" ry="1.5" fill="#33EE22" stroke="none" stroke-width="0.5" transform="rotate(-75 158.5 107.5)"/>
<circle cx="119.8" cy="56.2" r="0.85" fill="#1B6AC4"/>
<circle cx="118.5" cy="54" r="0.85" fill="#1B6AC4"/>
<circle cx="120.2" cy="55.7" r="0.85" fill="#1B6AC4"/>
<circle cx="119.7" cy="57.3" r="0.85" fill="#1B6AC4"/>
<circle cx="119.7" cy="57.5" r="0.85" fill="#1B6AC4"/>
<circle cx="118.8" cy="57" r="0.85" fill="#1B6AC4"/>
<circle cx="118.9" cy="57.5" r="0.85" fill="#1B6AC4"/>
<circle cx="120.2" cy="54.2" r="0.85" fill="#1B6AC4"/>
<circle cx="118" cy="54.7" r="0.85" fill="#1B6AC4"/>
<circle cx="120.5" cy="55.6" r="0.85" fill="#1B6AC4"/>
<circle cx="119.4" cy="55" r="0.85" fill="#1B6AC4"/>
<circle cx="119.1" cy="55.4" r="0.85" fill="#1B6AC4"/>
<circle cx="118.6" cy="56.1" r="0.85" fill="#1B6AC4"/>
<circle cx="119.7" cy="76" r="0.85" fill="#1B6AC4"/>
<circle cx="120" cy="76.1" r="0.85" fill="#1B6AC4"/>
<circle cx="120.5" cy="76.3" r="0.85" fill="#1B6AC4"/>
<circle cx="120" cy="73.1" r="0.85" fill="#1B6AC4"/>
<circle cx="120.5" cy="76.2" r="0.85" fill="#1B6AC4"/>
<circle cx="120.7" cy="74.7" r="0.85" fill="#1B6AC4"/>
<circle cx="120.1" cy="73.3" r="0.85" fill="#1B6AC4"/>
<circle cx="120.4" cy="74.7" r="0.85" fill="#1B6AC4"/>
<circle cx="118.8" cy="72.7" r="0.85" fill="#1B6AC4"/>
<circle cx="120.5" cy="76.3" r="0.85" fill="#1B6AC4"/>
<circle cx="118.2" cy="75.6" r="0.85" fill="#1B6AC4"/>
<circle cx="119.2" cy="73.1" r="0.85" fill="#1B6AC4"/>
<circle cx="118.8" cy="75.5" r="0.85" fill="#1B6AC4"/>
<circle cx="149.6" cy="42.5" r="0.85" fill="#1B6AC4"/>
<circle cx="148.8" cy="42.5" r="0.85" fill="#1B6AC4"/>
<circle cx="149.1" cy="43.6" r="0.85" fill="#1B6AC4"/>
<circle cx="149.6" cy="46.2" r="0.85" fill="#1B6AC4"/>
<circle cx="148.5" cy="46.2" r="0.85" fill="#1B6AC4"/>
<circle cx="147.9" cy="42.6" r="0.85" fill="#1B6AC4"/>
<circle cx="148.8" cy="42.5" r="0.85" fill="#1B6AC4"/>
<circle cx="147.6" cy="43.9" r="0.85" fill="#1B6AC4"/>
<circle cx="148.8" cy="42.9" r="0.85" fill="#1B6AC4"/>
<circle cx="147.1" cy="45.7" r="0.85" fill="#1B6AC4"/>
<circle cx="147.9" cy="46.1" r="0.85" fill="#1B6AC4"/>
<circle cx="149.7" cy="43.8" r="0.85" fill="#1B6AC4"/>
<circle cx="148.3" cy="44.4" r="0.85" fill="#1B6AC4"/>
<circle cx="148.3" cy="88.7" r="0.85" fill="#1B6AC4"/>
<circle cx="148.1" cy="88.8" r="0.85" fill="#1B6AC4"/>
<circle cx="149.2" cy="88.4" r="0.85" fill="#1B6AC4"/>
<circle cx="147.7" cy="89.2" r="0.85" fill="#1B6AC4"/>
<circle cx="147.1" cy="87.6" r="0.85" fill="#1B6AC4"/>
<circle cx="149.3" cy="88.5" r="0.85" fill="#1B6AC4"/>
<circle cx="148.1" cy="86.5" r="0.85" fill="#1B6AC4"/>
<circle cx="147.7" cy="88.7" r="0.85" fill="#1B6AC4"/>
<circle cx="146.5" cy="88.8" r="0.85" fill="#1B6AC4"/>
<circle cx="148.3" cy="86.7" r="0.85" fill="#1B6AC4"/>
<circle cx="148.3" cy="88.2" r="0.85" fill="#1B6AC4"/>
<circle cx="148.4" cy="87.8" r="0.85" fill="#1B6AC4"/>
<circle cx="148.5" cy="89.3" r="0.85" fill="#1B6AC4"/>
<circle cx="106.5" cy="91.8" r="0.7" fill="#BCA800"/>
<circle cx="107.9" cy="94.3" r="0.7" fill="#BCA800"/>
<circle cx="107" cy="92.9" r="0.7" fill="#BCA800"/>
<circle cx="107.7" cy="92.5" r="0.7" fill="#BCA800"/>
<circle cx="107.2" cy="92.5" r="0.7" fill="#BCA800"/>
<circle cx="107.2" cy="93.3" r="0.7" fill="#BCA800"/>
<circle cx="107.1" cy="92.7" r="0.7" fill="#BCA800"/>
<circle cx="161" cy="54.5" r="0.7" fill="#BCA800"/>
<circle cx="160.5" cy="56.5" r="0.7" fill="#BCA800"/>
<circle cx="160" cy="55" r="0.7" fill="#BCA800"/>
<circle cx="161" cy="55.1" r="0.7" fill="#BCA800"/>
<circle cx="159.7" cy="55.6" r="0.7" fill="#BCA800"/>
<circle cx="160.8" cy="54.7" r="0.7" fill="#BCA800"/>
<circle cx="160" cy="55.3" r="0.7" fill="#BCA800"/>
<circle cx="119.3" cy="106.7" r="0.55" fill="#8E2C9B"/>
<circle cx="119.3" cy="105.5" r="0.55" fill="#8E2C9B"/>
<circle cx="117.6" cy="107.6" r="0.55" fill="#8E2C9B"/>
<circle cx="119.4" cy="106.8" r="0.55" fill="#8E2C9B"/>
<circle cx="117.2" cy="105.3" r="0.55" fill="#8E2C9B"/>
<circle cx="118.2" cy="105.6" r="0.55" fill="#8E2C9B"/>
<circle cx="119.2" cy="108.5" r="0.55" fill="#8E2C9B"/>
<circle cx="117.1" cy="106" r="0.55" fill="#8E2C9B"/>
<circle cx="119.2" cy="107.6" r="0.55" fill="#8E2C9B"/>
<circle cx="119.2" cy="106.3" r="0.55" fill="#8E2C9B"/>
<circle cx="116.9" cy="106.1" r="0.55" fill="#8E2C9B"/>
<circle cx="125.7" cy="111.5" r="0.55" fill="#8E2C9B"/>
<circle cx="124.1" cy="112.2" r="0.55" fill="#8E2C9B"/>
<circle cx="124.4" cy="112.2" r="0.55" fill="#8E2C9B"/>
<circle cx="126.1" cy="111" r="0.55" fill="#8E2C9B"/>
<circle cx="123" cy="114.5" r="0.55" fill="#8E2C9B"/>
<circle cx="125.9" cy="114.7" r="0.55" fill="#8E2C9B"/>
<circle cx="124.4" cy="114.5" r="0.55" fill="#8E2C9B"/>
<circle cx="126.1" cy="111.3" r="0.55" fill="#8E2C9B"/>
<circle cx="125.5" cy="114" r="0.55" fill="#8E2C9B"/>
<circle cx="125.2" cy="112.6" r="0.55" fill="#8E2C9B"/>
<circle cx="123.9" cy="111.9" r="0.55" fill="#8E2C9B"/>
<circle cx="132.7" cy="114.9" r="0.55" fill="#8E2C9B"/>
<circle cx="133.9" cy="115.9" r="0.55" fill="#8E2C9B"/>
<circle cx="134.6" cy="114.8" r="0.55" fill="#8E2C9B"/>
<circle cx="135" cy="117.7" r="0.55" fill="#8E2C9B"/>
<circle cx="135" cy="118.6" r="0.55" fill="#8E2C9B"/>
<circle cx="134.9" cy="117.2" r="0.55" fill="#8E2C9B"/>
<circle cx="131.9" cy="117.9" r="0.55" fill="#8E2C9B"/>
<circle cx="132.5" cy="116" r="0.55" fill="#8E2C9B"/>
<circle cx="134.1" cy="116.9" r="0.55" fill="#8E2C9B"/>
<circle cx="133.3" cy="118.8" r="0.55" fill="#8E2C9B"/>
<circle cx="134" cy="116.1" r="0.55" fill="#8E2C9B"/>
<circle cx="142.4" cy="114.2" r="0.55" fill="#8E2C9B"/>
<circle cx="143.2" cy="113.8" r="0.55" fill="#8E2C9B"/>
<circle cx="142.8" cy="111.2" r="0.55" fill="#8E2C9B"/>
<circle cx="143.4" cy="114" r="0.55" fill="#8E2C9B"/>
<circle cx="142.1" cy="113.8" r="0.55" fill="#8E2C9B"/>
<circle cx="144.7" cy="113.9" r="0.55" fill="#8E2C9B"/>
<circle cx="144.4" cy="110.4" r="0.55" fill="#8E2C9B"/>
<circle cx="143.7" cy="114.2" r="0.55" fill="#8E2C9B"/>
<circle cx="141.7" cy="111.5" r="0.55" fill="#8E2C9B"/>
<circle cx="142.5" cy="112.7" r="0.55" fill="#8E2C9B"/>
<circle cx="143" cy="112.4" r="0.55" fill="#8E2C9B"/>
<circle cx="149.8" cy="104.8" r="0.55" fill="#8E2C9B"/>
<circle cx="147.3" cy="105.3" r="0.55" fill="#8E2C9B"/>
<circle cx="147.6" cy="105.1" r="0.55" fill="#8E2C9B"/>
<circle cx="150.5" cy="108.5" r="0.55" fill="#8E2C9B"/>
<circle cx="147.4" cy="107" r="0.55" fill="#8E2C9B"/>
<circle cx="148.2" cy="106.2" r="0.55" fill="#8E2C9B"/>
<circle cx="148.3" cy="107.6" r="0.55" fill="#8E2C9B"/>
<circle cx="149.1" cy="106.4" r="0.55" fill="#8E2C9B"/>
<circle cx="147.8" cy="106.2" r="0.55" fill="#8E2C9B"/>
<circle cx="147.6" cy="107.2" r="0.55" fill="#8E2C9B"/>
<circle cx="149.6" cy="106.4" r="0.55" fill="#8E2C9B"/>
</g>
<path d="M242.1,32.7 C254,52 266,90 266.5,125" fill="none" stroke="#8C8C8C" stroke-width="2.7"/>
<path d="M299.2,32.7 C287.2,52 275.2,90 274.6,125" fill="none" stroke="#8C8C8C" stroke-width="2.7"/>
<rect x="257.4" y="45.5" width="6.3" height="16.1" rx="2.4" fill="#F1F1F1" stroke="#777" stroke-width="0.45"/>
<rect x="270.6" y="41.3" width="9.8" height="21.3" rx="2.4" fill="#F1F1F1" stroke="#777" stroke-width="0.45"/>
<rect x="266.4" y="52.2" width="7.7" height="15.7" rx="2.4" fill="#F1F1F1" stroke="#777" stroke-width="0.45"/>
<rect x="275.2" y="57.4" width="6.7" height="15.7" rx="2.4" fill="#F1F1F1" stroke="#777" stroke-width="0.45"/>
<rect x="265.1" y="67.8" width="5.8" height="14.6" rx="2.4" fill="#F1F1F1" stroke="#777" stroke-width="0.45"/>
<rect x="269.5" y="76.2" width="6.1" height="16.7" rx="2.4" fill="#F1F1F1" stroke="#777" stroke-width="0.45"/>
<rect x="267.2" y="96" width="6.9" height="18.4" rx="2.4" fill="#F1F1F1" stroke="#777" stroke-width="0.45"/>
<ellipse cx="260.8" cy="56.4" rx="1.4" ry="2.9" fill="#0B6B3A" stroke="none" stroke-width="0.5" transform="rotate(0 260.8 56.4)"/>
<ellipse cx="275.6" cy="53.2" rx="1.4" ry="3.6" fill="#F6F6F6" stroke="#666" stroke-width="0.5" transform="rotate(0 275.6 53.2)"/>
<ellipse cx="271" cy="60.1" rx="1.2" ry="3.2" fill="#F6F6F6" stroke="#666" stroke-width="0.5" transform="rotate(0 271 60.1)"/>
<ellipse cx="278.9" cy="62.2" rx="1.3" ry="3.4" fill="#F20000" stroke="none" stroke-width="0.5" transform="rotate(0 278.9 62.2)"/>
<circle cx="278.3" cy="69.3" r="0.75" fill="#1B6AC4"/>
<circle cx="279.2" cy="71" r="0.75" fill="#1B6AC4"/>
<circle cx="280.4" cy="70.1" r="0.75" fill="#1B6AC4"/>
<circle cx="280.4" cy="71" r="0.75" fill="#1B6AC4"/>
<circle cx="279.3" cy="70.1" r="0.75" fill="#1B6AC4"/>
<circle cx="279.5" cy="71.4" r="0.75" fill="#1B6AC4"/>
<circle cx="279.3" cy="71.3" r="0.75" fill="#1B6AC4"/>
<circle cx="279.4" cy="69.6" r="0.75" fill="#1B6AC4"/>
<circle cx="279.6" cy="71.3" r="0.75" fill="#1B6AC4"/>
<circle cx="278.3" cy="70.3" r="0.75" fill="#1B6AC4"/>
<circle cx="279.3" cy="72" r="0.75" fill="#1B6AC4"/>
<ellipse cx="267.8" cy="76.2" rx="1.5" ry="4.0" fill="#77EE11" stroke="none" stroke-width="0.5" transform="rotate(0 267.8 76.2)"/>
<circle cx="268.9" cy="81" r="0.6" fill="#BCA800"/>
<circle cx="268.8" cy="82.3" r="0.6" fill="#BCA800"/>
<circle cx="267.3" cy="81.3" r="0.6" fill="#BCA800"/>
<circle cx="266.9" cy="82.4" r="0.6" fill="#BCA800"/>
<circle cx="268.2" cy="82.6" r="0.6" fill="#BCA800"/>
<ellipse cx="273.1" cy="84.6" rx="1.2" ry="3.4" fill="#F6F6F6" stroke="#666" stroke-width="0.5" transform="rotate(0 273.1 84.6)"/>
<circle cx="271.4" cy="100.4" r="0.75" fill="#1B6AC4"/>
<circle cx="271.3" cy="100" r="0.75" fill="#1B6AC4"/>
<circle cx="269.4" cy="100.1" r="0.75" fill="#1B6AC4"/>
<circle cx="269.1" cy="98.4" r="0.75" fill="#1B6AC4"/>
<circle cx="271.4" cy="98" r="0.75" fill="#1B6AC4"/>
<circle cx="269.3" cy="98.2" r="0.75" fill="#1B6AC4"/>
<circle cx="271.7" cy="98.5" r="0.75" fill="#1B6AC4"/>
<circle cx="269.1" cy="101.1" r="0.75" fill="#1B6AC4"/>
<circle cx="269.4" cy="101.1" r="0.75" fill="#1B6AC4"/>
<circle cx="271.1" cy="101.1" r="0.75" fill="#1B6AC4"/>
<circle cx="271.9" cy="100.1" r="0.75" fill="#1B6AC4"/>
<ellipse cx="270.6" cy="108.6" rx="1.5" ry="4.0" fill="#F20000" stroke="none" stroke-width="0.5" transform="rotate(0 270.6 108.6)"/>
<text x="-1" y="159.9" font-size="11.5" text-anchor="start" font-weight="bold">b</text>
<text x="23.4" y="162.1" font-size="10.4" text-anchor="start" >No enrichment</text>
<text x="23.4" y="174.6" font-size="10.4" text-anchor="start" >(wild-type mice)</text>
<text x="191.4" y="161.9" font-size="10.4" text-anchor="start" >50% FVR enrichment</text>
<text x="191.4" y="177.2" font-size="10.4">(<tspan font-style="italic">Fltp</tspan><tspan font-style="italic" font-size="7.4" dy="-4.4">ZV/+</tspan><tspan dy="4.4">)</tspan></text>
<text x="9.4" y="363.4" font-size="10.4" text-anchor="start" >90% FVR enrichment</text>
<text x="9.4" y="379.2" font-size="10.4">(<tspan font-style="italic">Fltp</tspan><tspan font-style="italic" font-size="7.4" dy="-4.4">ZV/+</tspan><tspan dy="4.4">)</tspan></text>
<text x="191.4" y="366" font-size="10.4" text-anchor="start" >50% FVF enrichment</text>
<text x="191.4" y="381.6" font-size="10.4">(<tspan font-style="italic">Foxa2</tspan><tspan font-style="italic" font-size="7.5" dy="-4.4">FVF/FVF</tspan><tspan dy="4.4">)</tspan></text>
<defs><linearGradient id="cb" x1="0" y1="0" x2="0" y2="1">
<stop offset="0" stop-color="#9E0142"/><stop offset="0.365" stop-color="#9E0142"/>
<stop offset="0.42" stop-color="#D53E4F"/><stop offset="0.486" stop-color="#F46D43"/>
<stop offset="0.563" stop-color="#FDAE61"/><stop offset="0.62" stop-color="#FEE08B"/>
<stop offset="0.676" stop-color="#FFFFBF"/><stop offset="0.727" stop-color="#E6F598"/>
<stop offset="0.80" stop-color="#ABDDA4"/><stop offset="0.87" stop-color="#66C2A5"/>
<stop offset="0.94" stop-color="#3288BD"/><stop offset="1" stop-color="#5E4FA2"/>
</linearGradient></defs>
<rect x="387" y="164" width="14.5" height="285.5" fill="url(#cb)"/>
<text x="405" y="172.5" font-size="10.4" text-anchor="start" >High</text>
<text x="405" y="403.5" font-size="10.4" text-anchor="start" >Low</text>
<text x="405" y="449.5" font-size="10.4" text-anchor="start" >None</text>
<text x="477.3" y="176" font-size="11.5" text-anchor="start" font-weight="bold">c</text>
<rect x="526.3" y="184" width="21.6" height="57.8" fill="#9E005D"/>
<rect x="526.3" y="241.8" width="21.6" height="59.3" fill="#FF4D4D"/>
<rect x="526.3" y="301" width="21.6" height="44.9" fill="#5A0008"/>
<rect x="526.3" y="345.8" width="21.6" height="7.8" fill="#0B6FA4"/>
<rect x="526.3" y="353.6" width="21.6" height="4.4" fill="#CC66CC"/>
<rect x="526.3" y="357.9" width="21.6" height="14.9" fill="#0000A5"/>
<rect x="526.3" y="372.8" width="21.6" height="1.1" fill="#FDB366"/>
<rect x="526.3" y="373.9" width="21.6" height="10.8" fill="#FFD92F"/>
<rect x="526.3" y="384.6" width="21.6" height="4.1" fill="#66FFAA"/>
<rect x="526.3" y="388.7" width="21.6" height="4.4" fill="#0A7D0A"/>
<rect x="526.3" y="393" width="21.6" height="2.4" fill="#8F85D0"/>
<rect x="526.3" y="395.4" width="21.6" height="4.1" fill="#2F4030"/>
<line x1="537.1" y1="399.5" x2="537.1" y2="402.3" stroke="#333" stroke-width="0.7"/>
<rect x="550.5" y="184" width="21.6" height="25.9" fill="#9E005D"/>
<rect x="550.5" y="209.9" width="21.6" height="23.8" fill="#FF4D4D"/>
<rect x="550.5" y="233.6" width="21.6" height="19" fill="#5A0008"/>
<rect x="550.5" y="252.5" width="21.6" height="1.8" fill="#0B6FA4"/>
<rect x="550.5" y="254.3" width="21.6" height="1.3" fill="#CC66CC"/>
<rect x="550.5" y="255.5" width="21.6" height="7.4" fill="#0000A5"/>
<rect x="550.5" y="262.9" width="21.6" height="12.1" fill="#FDB366"/>
<rect x="550.5" y="274.9" width="21.6" height="116" fill="#FFD92F"/>
<rect x="550.5" y="390.9" width="21.6" height="1.8" fill="#66FFAA"/>
<rect x="550.5" y="392.6" width="21.6" height="4.1" fill="#0A7D0A"/>
<rect x="550.5" y="396.7" width="21.6" height="1.6" fill="#8F85D0"/>
<rect x="550.5" y="398.2" width="21.6" height="1.3" fill="#2F4030"/>
<line x1="561.3" y1="399.5" x2="561.3" y2="402.3" stroke="#333" stroke-width="0.7"/>
<rect x="574.5" y="184" width="21.6" height="1.8" fill="#9E005D"/>
<rect x="574.5" y="185.7" width="21.6" height="0.7" fill="#FF4D4D"/>
<rect x="574.5" y="186.4" width="21.6" height="8" fill="#FDB366"/>
<rect x="574.5" y="194.3" width="21.6" height="200.7" fill="#FFD92F"/>
<rect x="574.5" y="395" width="21.6" height="4.6" fill="#0A7D0A"/>
<line x1="585.3" y1="399.5" x2="585.3" y2="402.3" stroke="#333" stroke-width="0.7"/>
<rect x="598.8" y="184" width="21.6" height="56.5" fill="#9E005D"/>
<rect x="598.8" y="240.5" width="21.6" height="55.2" fill="#FF4D4D"/>
<rect x="598.8" y="295.6" width="21.6" height="19.9" fill="#5A0008"/>
<rect x="598.8" y="315.5" width="21.6" height="8.7" fill="#0B6FA4"/>
<rect x="598.8" y="324.1" width="21.6" height="10.8" fill="#CC66CC"/>
<rect x="598.8" y="334.9" width="21.6" height="26.6" fill="#0000A5"/>
<rect x="598.8" y="361.4" width="21.6" height="1.1" fill="#FDB366"/>
<rect x="598.8" y="362.4" width="21.6" height="3.9" fill="#FFD92F"/>
<rect x="598.8" y="366.3" width="21.6" height="8.2" fill="#66FFAA"/>
<rect x="598.8" y="374.5" width="21.6" height="12.5" fill="#0A7D0A"/>
<rect x="598.8" y="387" width="21.6" height="6.1" fill="#8F85D0"/>
<rect x="598.8" y="393" width="21.6" height="6.5" fill="#2F4030"/>
<line x1="609.6" y1="399.5" x2="609.6" y2="402.3" stroke="#333" stroke-width="0.7"/>
<line x1="522.4" y1="184.0" x2="522.4" y2="399.5" stroke="#333" stroke-width="0.7"/>
<line x1="522.1" y1="399.5" x2="624" y2="399.5" stroke="#333" stroke-width="0.7"/>
<line x1="518.4" y1="399.5" x2="522.4" y2="399.5" stroke="#333" stroke-width="0.7"/>
<text x="513.7" y="403.2" font-size="10.4" text-anchor="end" >0</text>
<line x1="518.4" y1="345.6" x2="522.4" y2="345.6" stroke="#333" stroke-width="0.7"/>
<text x="513.7" y="349.3" font-size="10.4" text-anchor="end" >25</text>
<line x1="518.4" y1="291.8" x2="522.4" y2="291.8" stroke="#333" stroke-width="0.7"/>
<text x="513.7" y="295.4" font-size="10.4" text-anchor="end" >50</text>
<line x1="518.4" y1="237.9" x2="522.4" y2="237.9" stroke="#333" stroke-width="0.7"/>
<text x="513.7" y="241.6" font-size="10.4" text-anchor="end" >75</text>
<line x1="518.4" y1="184" x2="522.4" y2="184" stroke="#333" stroke-width="0.7"/>
<text x="513.7" y="187.7" font-size="10.4" text-anchor="end" >100</text>
<text transform="translate(486.5,291.5) rotate(-90)" text-anchor="middle" font-size="10.4">Cell-type frequency (%)</text>
<text transform="translate(541.1,411.0) rotate(-45)" text-anchor="end" font-size="10.6">No enrichment</text>
<text transform="translate(565.3,411.0) rotate(-45)" text-anchor="end" font-size="10.6">50% FVR enrichment</text>
<text transform="translate(589.3,411.0) rotate(-45)" text-anchor="end" font-size="10.6">90% FVR enrichment</text>
<text transform="translate(613.6,411.0) rotate(-45)" text-anchor="end" font-size="10.6">50% FVF enrichment</text>
<text x="629.5" y="214.5" font-size="10.4" text-anchor="start" >Cell type</text>
<rect x="629.5" y="221.7" width="8.7" height="8.6" fill="#9E005D"/>
<text x="642.6" y="229.7" font-size="10.4" text-anchor="start" >ISC</text>
<rect x="629.5" y="233.1" width="8.7" height="8.6" fill="#FF4D4D"/>
<text x="642.6" y="241.1" font-size="10.4" text-anchor="start" >EC pro</text>
<rect x="629.5" y="244.4" width="8.7" height="8.6" fill="#5A0008"/>
<text x="642.6" y="252.4" font-size="10.4" text-anchor="start" >EC</text>
<rect x="629.5" y="255.8" width="8.7" height="8.6" fill="#0B6FA4"/>
<text x="642.6" y="263.8" font-size="10.4" text-anchor="start" >GC pro</text>
<rect x="629.5" y="267.1" width="8.7" height="8.6" fill="#CC66CC"/>
<text x="642.6" y="275.1" font-size="10.4" text-anchor="start" >Early GC</text>
<rect x="629.5" y="278.5" width="8.7" height="8.6" fill="#0000A5"/>
<text x="642.6" y="286.5" font-size="10.4" text-anchor="start" >GC</text>
<rect x="629.5" y="289.9" width="8.7" height="8.6" fill="#FDB366"/>
<text x="642.6" y="297.9" font-size="10.4" text-anchor="start" >PC pro</text>
<rect x="629.5" y="301.2" width="8.7" height="8.6" fill="#FFD92F"/>
<text x="642.6" y="309.2" font-size="10.4" text-anchor="start" >PC</text>
<rect x="629.5" y="312.6" width="8.7" height="8.6" fill="#66FFAA"/>
<text x="642.6" y="320.6" font-size="10.4" text-anchor="start" >EEC pro</text>
<rect x="629.5" y="323.9" width="8.7" height="8.6" fill="#0A7D0A"/>
<text x="642.6" y="331.9" font-size="10.4" text-anchor="start" >EEC</text>
<rect x="629.5" y="335.3" width="8.7" height="8.6" fill="#8F85D0"/>
<text x="642.6" y="343.3" font-size="10.4" text-anchor="start" >TC pro</text>
<rect x="629.5" y="346.7" width="8.7" height="8.6" fill="#2F4030"/>
<text x="642.6" y="354.7" font-size="10.4" text-anchor="start" >TC</text>
<text x="0.3" y="570.5" font-size="11.5" text-anchor="start" font-weight="bold">d</text>
<circle cx="231.8" cy="571.3" r="3.7" fill="#A3195B"/>
<text x="241.3" y="575" font-size="10.4" text-anchor="start" >ISC</text>
<circle cx="231.8" cy="587" r="3.7" fill="#EF5350"/>
<text x="241.3" y="590.7" font-size="10.4" text-anchor="start" >EC pro</text>
<circle cx="231.8" cy="602.7" r="3.7" fill="#5D1A1A"/>
<text x="241.3" y="606.4" font-size="10.4" text-anchor="start" >EC</text>
<circle cx="231.8" cy="618.3" r="3.7" fill="#1178B4"/>
<text x="241.3" y="622" font-size="10.4" text-anchor="start" >GC pro</text>
<circle cx="231.8" cy="634" r="3.7" fill="#B56DB5"/>
<text x="241.3" y="637.7" font-size="10.4" text-anchor="start" >Early GC</text>
<circle cx="231.8" cy="649.7" r="3.7" fill="#2B3990"/>
<text x="241.3" y="653.4" font-size="10.4" text-anchor="start" >GC</text>
<circle cx="231.8" cy="665.4" r="3.7" fill="#F4A968"/>
<text x="241.3" y="669.1" font-size="10.4" text-anchor="start" >PC pro</text>
<circle cx="231.8" cy="681.1" r="3.7" fill="#FDD835"/>
<text x="241.3" y="684.8" font-size="10.4" text-anchor="start" >PC</text>
<circle cx="231.8" cy="696.7" r="3.7" fill="#85C995"/>
<text x="241.3" y="700.4" font-size="10.4" text-anchor="start" >EEC pro</text>
<circle cx="231.8" cy="712.4" r="3.7" fill="#1A8A3C"/>
<text x="241.3" y="716.1" font-size="10.4" text-anchor="start" >EEC</text>
<circle cx="231.8" cy="728.1" r="3.7" fill="#9088C8"/>
<text x="241.3" y="731.8" font-size="10.4" text-anchor="start" >TC pro</text>
<circle cx="231.8" cy="743.8" r="3.7" fill="#334433"/>
<text x="241.3" y="747.5" font-size="10.4" text-anchor="start" >TC</text>
<text x="325" y="569.5" font-size="11.5" text-anchor="start" font-weight="bold">e</text>
<rect x="375.7" y="609.7" width="11.95" height="123.9" fill="#9E005D"/>
<line x1="379.8" y1="733.6" x2="379.8" y2="736.4" stroke="#333" stroke-width="0.7"/>
<rect x="389" y="608.7" width="11.95" height="124.9" fill="#FF4D4D"/>
<line x1="393.5" y1="733.6" x2="393.5" y2="736.4" stroke="#333" stroke-width="0.7"/>
<rect x="402.3" y="641.3" width="11.95" height="92.3" fill="#5A0008"/>
<line x1="407.1" y1="733.6" x2="407.1" y2="736.4" stroke="#333" stroke-width="0.7"/>
<rect x="415.6" y="686.9" width="11.95" height="46.7" fill="#0B6FA4"/>
<line x1="420.8" y1="733.6" x2="420.8" y2="736.4" stroke="#333" stroke-width="0.7"/>
<rect x="428.9" y="686.9" width="11.95" height="46.7" fill="#CC66CC"/>
<line x1="434.5" y1="733.6" x2="434.5" y2="736.4" stroke="#333" stroke-width="0.7"/>
<rect x="442.2" y="654" width="11.95" height="79.6" fill="#0000A5"/>
<line x1="448.1" y1="733.6" x2="448.1" y2="736.4" stroke="#333" stroke-width="0.7"/>
<rect x="455.6" y="690" width="11.95" height="43.6" fill="#FDB366"/>
<line x1="461.8" y1="733.6" x2="461.8" y2="736.4" stroke="#333" stroke-width="0.7"/>
<rect x="468.9" y="583.5" width="11.95" height="150.1" fill="#FFD92F"/>
<line x1="475.5" y1="733.6" x2="475.5" y2="736.4" stroke="#333" stroke-width="0.7"/>
<rect x="482.2" y="694.3" width="11.95" height="39.3" fill="#66FFAA"/>
<line x1="489.2" y1="733.6" x2="489.2" y2="736.4" stroke="#333" stroke-width="0.7"/>
<rect x="495.5" y="682.2" width="11.95" height="51.4" fill="#0A7D0A"/>
<line x1="502.8" y1="733.6" x2="502.8" y2="736.4" stroke="#333" stroke-width="0.7"/>
<rect x="508.8" y="699" width="11.95" height="34.6" fill="#8F85D0"/>
<line x1="516.5" y1="733.6" x2="516.5" y2="736.4" stroke="#333" stroke-width="0.7"/>
<rect x="522.1" y="690.6" width="11.95" height="43" fill="#2F4030"/>
<line x1="530.2" y1="733.6" x2="530.2" y2="736.4" stroke="#333" stroke-width="0.7"/>
<line x1="371.4" y1="572.8" x2="371.4" y2="733.6" stroke="#333" stroke-width="0.7"/>
<line x1="371.09999999999997" y1="733.6" x2="538.3" y2="733.6" stroke="#333" stroke-width="0.7"/>
<line x1="367.4" y1="578.5" x2="371.4" y2="578.5" stroke="#333" stroke-width="0.7"/>
<text x="362.5" y="582.2" font-size="10.4" text-anchor="end" >15</text>
<line x1="367.4" y1="624.1" x2="371.4" y2="624.1" stroke="#333" stroke-width="0.7"/>
<text x="362.5" y="627.8" font-size="10.4" text-anchor="end" >10</text>
<line x1="367.4" y1="656.7" x2="371.4" y2="656.7" stroke="#333" stroke-width="0.7"/>
<text x="362.5" y="660.4" font-size="10.4" text-anchor="end" >5</text>
<line x1="367.4" y1="664.4" x2="371.4" y2="664.4" stroke="#333" stroke-width="0.7"/>
<text x="362.5" y="668.1" font-size="10.4" text-anchor="end" >4</text>
<line x1="367.4" y1="673.5" x2="371.4" y2="673.5" stroke="#333" stroke-width="0.7"/>
<text x="362.5" y="677.2" font-size="10.4" text-anchor="end" >3</text>
<line x1="367.4" y1="684.6" x2="371.4" y2="684.6" stroke="#333" stroke-width="0.7"/>
<text x="362.5" y="688.3" font-size="10.4" text-anchor="end" >2</text>
<line x1="367.4" y1="699" x2="371.4" y2="699" stroke="#333" stroke-width="0.7"/>
<text x="362.5" y="702.7" font-size="10.4" text-anchor="end" >1</text>
<line x1="367.4" y1="709.1" x2="371.4" y2="709.1" stroke="#333" stroke-width="0.7"/>
<text x="362.5" y="712.8" font-size="10.4" text-anchor="end" >0.5</text>
<text transform="translate(338.6,653) rotate(-90)" text-anchor="middle" font-size="10.4">Number of cells (×10<tspan font-size="6.8" dy="-4">3</tspan><tspan dy="4">)</tspan></text>
<text x="455" y="749.7" font-size="10.4" text-anchor="middle" >Cell type</text>
</svg>
</body></html>
